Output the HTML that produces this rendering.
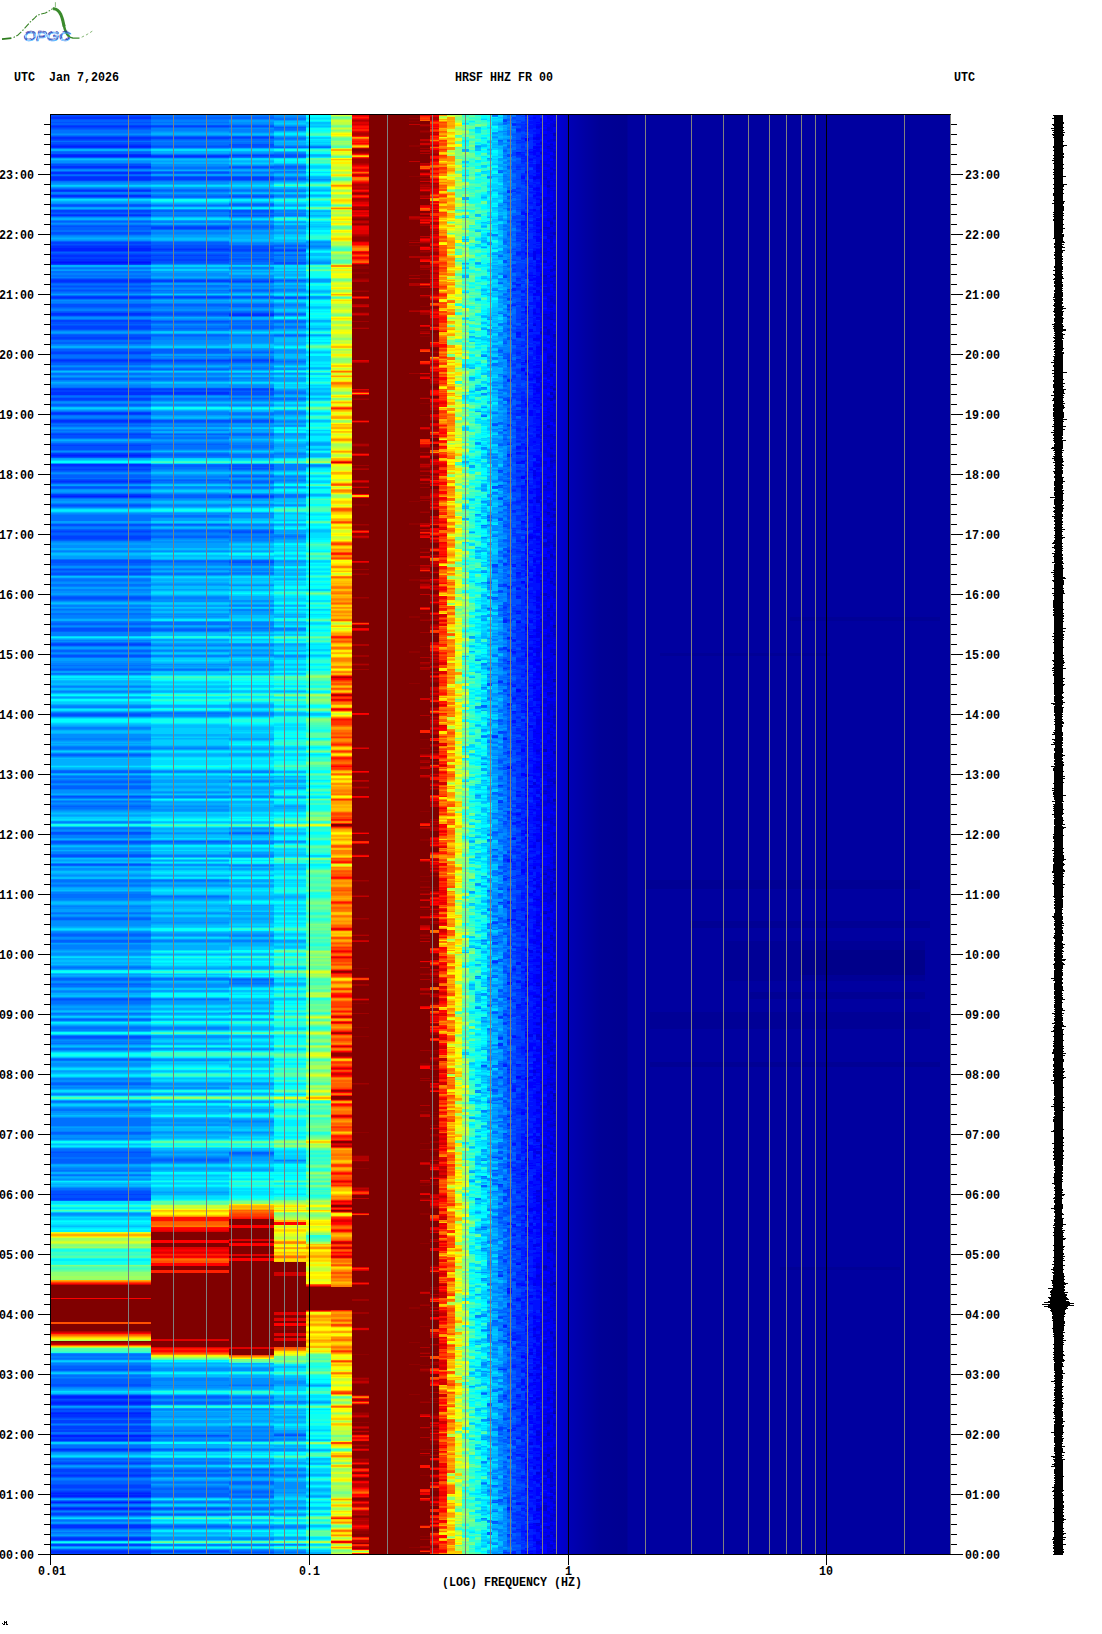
<!DOCTYPE html><html><head><meta charset="utf-8"><title>HRSF HHZ FR 00</title>
<style>html,body{margin:0;padding:0;background:#fff}body{width:1102px;height:1634px;overflow:hidden;font-family:"Liberation Mono",monospace}svg{display:block}text{font-family:"Liberation Mono",monospace;font-weight:bold;font-size:13.5px;fill:#000}.sp path{fill:none}.j3{stroke:#0000af}.j4{stroke:#0000bf}.j5{stroke:#0000cf}.j6{stroke:#0000df}.j7{stroke:#0000ef}.j8{stroke:#0000ff}.j9{stroke:#0010ff}.j10{stroke:#0020ff}.j11{stroke:#0030ff}.j12{stroke:#0040ff}.j13{stroke:#0050ff}.j14{stroke:#0060ff}.j15{stroke:#0070ff}.j16{stroke:#0080ff}.j17{stroke:#008fff}.j18{stroke:#009fff}.j19{stroke:#00afff}.j20{stroke:#00bfff}.j21{stroke:#00cfff}.j22{stroke:#00dfff}.j23{stroke:#00efff}.j24{stroke:#00ffff}.j25{stroke:#10ffef}.j26{stroke:#20ffdf}.j27{stroke:#30ffcf}.j28{stroke:#40ffbf}.j29{stroke:#50ffaf}.j30{stroke:#60ff9f}.j31{stroke:#70ff8f}.j32{stroke:#80ff80}.j33{stroke:#8fff70}.j34{stroke:#9fff60}.j35{stroke:#afff50}.j36{stroke:#bfff40}.j37{stroke:#cfff30}.j38{stroke:#dfff20}.j39{stroke:#efff10}.j40{stroke:#ffff00}.j41{stroke:#ffef00}.j42{stroke:#ffdf00}.j43{stroke:#ffcf00}.j44{stroke:#ffbf00}.j45{stroke:#ffaf00}.j46{stroke:#ff9f00}.j47{stroke:#ff8f00}.j48{stroke:#ff8000}.j49{stroke:#ff7000}.j50{stroke:#ff6000}.j51{stroke:#ff5000}.j52{stroke:#ff4000}.j53{stroke:#ff3000}.j54{stroke:#ff2000}.j55{stroke:#ff1000}.j56{stroke:#ff0000}.j57{stroke:#ef0000}.j58{stroke:#df0000}.j59{stroke:#cf0000}.j60{stroke:#bf0000}.j61{stroke:#af0000}.j62{stroke:#9f0000}.j63{stroke:#8f0000}</style></head><body>
<svg width="1102" height="1634" viewBox="0 0 1102 1634">
<rect width="1102" height="1634" fill="#fff"/>
<g class="sp" shape-rendering="crispEdges">
<defs><linearGradient id="bg" gradientUnits="userSpaceOnUse" x1="556" y1="0" x2="950" y2="0">
<stop offset="0.0000" stop-color="#0000d6"/>
<stop offset="0.0279" stop-color="#0000c5"/>
<stop offset="0.0330" stop-color="#0000b5"/>
<stop offset="0.0736" stop-color="#0000a4"/>
<stop offset="0.1117" stop-color="#000096"/>
<stop offset="0.1802" stop-color="#000091"/>
<stop offset="0.1827" stop-color="#0000a0"/>
<stop offset="1.0000" stop-color="#0000a0"/>
</linearGradient></defs>
<rect x="51" y="115" width="899" height="1439" fill="#800000"/>
<rect x="556" y="115" width="394" height="1439" fill="url(#bg)"/>
<rect x="644" y="880" width="276" height="9" fill="#000070" opacity="0.25"/>
<rect x="690" y="921" width="240" height="7" fill="#000070" opacity="0.25"/>
<rect x="725" y="941" width="200" height="40" fill="#000070" opacity="0.22"/>
<rect x="800" y="950" width="125" height="25" fill="#000070" opacity="0.3"/>
<rect x="750" y="992" width="175" height="7" fill="#000070" opacity="0.25"/>
<rect x="650" y="1012" width="280" height="17" fill="#000070" opacity="0.2"/>
<rect x="650" y="1062" width="290" height="5" fill="#000070" opacity="0.25"/>
<rect x="790" y="617" width="150" height="4" fill="#000070" opacity="0.2"/>
<rect x="660" y="653" width="170" height="3" fill="#000070" opacity="0.2"/>
<rect x="780" y="1267" width="120" height="3" fill="#000070" opacity="0.2"/>
<g stroke-width="100" transform="translate(101)">
<path class="j9" d="M0 262v1"/>
<path class="j10" d="M0 146v1m0 8v2m0 91v3m0 10v1m0 1v1m0 191v1m0 40v1m0 899v2m0 4v2m0 9v1m0 21v2m0 56v1m0 1v2m0 5v1m0 5v1"/>
<path class="j11" d="M0 117v2m0 7v1m0 10v2m0 6v1m0 1v1m0 6v1m0 11v2m0 4v2m0 3v3m0 10v1m0 4v2m0 18v1m0 30v2m0 7v2m0 2v2m0 19v2m0 15v1m0 15v2m0 45v1m0 28v1m0 2v3m0 18v1m0 6v2m0 32v1m0 1v1m0 7v2m0 15v1m0 13v1m0 902v1m0 2v1m0 2v1m0 7v1m0 1v3m0 22v2m0 8v1m0 25v1m0 16v1m0 1v1m0 14v1m0 15v3m0 10v2m0 11v2"/>
<path class="j12" d="M0 116v1m0 8v1m0 1v1m0 11v1m0 4v1m0 31v1m0 3v1m0 10v1m0 18v2m0 2v1m0 27v2m0 1v1m0 5v1m0 2v1m0 2v2m0 5v1m0 14v1m0 2v1m0 13v1m0 1v1m0 16v1m0 4v2m0 4v3m0 8v2m0 13v2m0 5v1m0 1v1m0 26v1m0 1v2m0 6v2m0 12v1m0 1v1m0 7v1m0 11v1m0 10v1m0 7v1m0 12v1m0 2v1m0 10v1m0 1v1m0 11v1m0 2v1m0 33v1m0 4v3m0 105v1m0 549v1m0 3v2m0 195v1m0 4v1m0 8v1m0 7v1m0 2v3m0 3v3m0 1v2m0 5v2m0 11v1m0 12v1m0 5v3m0 2v1m0 1v1m0 8v3m0 3v1m0 9v1m0 5v1m0 5v2m0 22v1m0 6v2m0 4v1m0 2v1"/>
<path class="j13" d="M0 115v1m0 3v1m0 2v1m0 5v1m0 7v1m0 3v1m0 1v2m0 13v1m0 6v2m0 2v1m0 20v1m0 15v1m0 6v1m0 13v1m0 5v2m0 10v1m0 8v1m0 32v1m0 3v1m0 13v3m0 5v1m0 9v2m0 1v1m0 3v1m0 5v2m0 2v1m0 11v1m0 10v1m0 37v1m0 18v1m0 13v1m0 1v3m0 6v1m0 1v4m0 7v1m0 9v2m0 1v1m0 8v1m0 7v1m0 17v1m0 18v2m0 4v1m0 1v1m0 2v1m0 3v1m0 20v3m0 6v1m0 3v2m0 22v2m0 29v3m0 12v1m0 1v1m0 9v2m0 57v2m0 80v1m0 35v2m0 7v2m0 12v2m0 7v1m0 134v1m0 36v2m0 114v1m0 38v3m0 1v3m0 171v1m0 14v2m0 13v1m0 10v2m0 6v1m0 10v1m0 4v1m0 13v1m0 13v1m0 9v2m0 10v1m0 3v1m0 1v1m0 6v1m0 5v1m0 20v1m0 3v1"/>
<path class="j14" d="M0 120v2m0 1v2m0 4v1m0 22v2m0 17v1m0 2v1m0 19v1m0 2v1m0 6v1m0 1v1m0 6v1m0 2v1m0 4v1m0 3v1m0 1v3m0 4v1m0 6v1m0 10v1m0 25v1m0 4v1m0 1v1m0 1v1m0 1v1m0 1v1m0 15v1m0 3v1m0 12v1m0 9v1m0 7v2m0 5v2m0 3v1m0 3v1m0 4v2m0 3v2m0 8v2m0 15v1m0 1v1m0 6v2m0 17v1m0 1v1m0 17v1m0 27v1m0 3v3m0 5v1m0 2v1m0 1v1m0 15v1m0 1v1m0 22v1m0 3v2m0 5v1m0 22v2m0 5v1m0 1v1m0 23v1m0 2v1m0 23v2m0 6v1m0 18v2m0 17v1m0 43v1m0 40v2m0 15v2m0 8v2m0 3v3m0 8v1m0 8v1m0 27v1m0 8v1m0 10v1m0 10v1m0 52v2m0 14v2m0 4v2m0 36v2m0 4v1m0 13v1m0 1v1m0 18v1m0 18v1m0 20v1m0 23v2m0 47v2m0 17v1m0 1v4m0 2v4m0 27v1m0 9v1m0 165v3m0 1v1m0 8v5m0 2v1m0 18v1m0 2v1m0 10v1m0 3v1m0 1v1m0 25v1m0 7v1m0 1v1m0 2v1m0 3v1m0 8v1m0 3v3m0 5v1m0 20v1m0 1v1m0 2v1m0 24v1m0 8v1"/>
<path class="j15" d="M0 130v3m0 2v1m0 5v1m0 6v1m0 2v1m0 11v1m0 11v1m0 5v1m0 6v1m0 33v1m0 7v2m0 36v1m0 2v2m0 2v2m0 7v1m0 3v1m0 3v1m0 2v1m0 3v1m0 3v1m0 4v1m0 7v1m0 2v1m0 10v1m0 9v2m0 13v3m0 9v1m0 5v2m0 12v1m0 8v1m0 14v1m0 3v1m0 2v1m0 5v1m0 1v1m0 3v1m0 1v1m0 5v1m0 11v1m0 1v1m0 21v1m0 3v1m0 14v1m0 4v1m0 16v6m0 5v1m0 32v1m0 5v1m0 2v1m0 2v1m0 7v2m0 3v2m0 14v1m0 8v1m0 3v2m0 7v1m0 4v1m0 14v1m0 11v1m0 2v1m0 7v1m0 2v1m0 1v1m0 2v1m0 42v1m0 30v2m0 21v1m0 5v2m0 2v1m0 4v1m0 15v1m0 3v1m0 1v2m0 19v1m0 51v2m0 3v1m0 8v4m0 15v1m0 3v1m0 15v1m0 2v1m0 5v1m0 24v1m0 12v1m0 2v1m0 1v2m0 14v3m0 9v1m0 6v1m0 6v2m0 14v1m0 4v2m0 10v1m0 21v1m0 18v1m0 7v2m0 7v8m0 8v1m0 14v2m0 6v2m0 4v1m0 6v1m0 4v1m0 12v2m0 164v2m0 2v1m0 6v1m0 9v2m0 1v1m0 53v2m0 7v1m0 3v3m0 10v1m0 1v1m0 19v1m0 19v1m0 5v1m0 13v1m0 8v1m0 2v1m0 3v1"/>
<path class="j16" d="M0 133v1m0 35v1m0 12v1m0 9v2m0 15v1m0 10v1m0 3v1m0 10v1m0 31v1m0 5v2m0 2v1m0 15v1m0 7v2m0 6v2m0 33v1m0 3v1m0 16v1m0 11v1m0 2v1m0 4v2m0 14v1m0 1v1m0 2v1m0 9v2m0 11v1m0 1v1m0 10v1m0 29v1m0 30v1m0 3v1m0 6v1m0 8v1m0 3v2m0 12v1m0 9v1m0 23v1m0 2v1m0 2v1m0 4v1m0 2v2m0 4v1m0 9v2m0 3v1m0 4v3m0 3v1m0 3v1m0 6v4m0 4v1m0 5v1m0 2v1m0 2v1m0 10v2m0 1v2m0 6v1m0 11v1m0 4v1m0 14v2m0 4v1m0 14v2m0 9v2m0 6v1m0 2v1m0 3v1m0 2v1m0 22v1m0 3v1m0 5v1m0 5v1m0 2v1m0 3v1m0 1v1m0 4v1m0 12v1m0 4v1m0 1v1m0 1v1m0 3v3m0 2v1m0 3v1m0 7v2m0 3v1m0 5v1m0 15v1m0 2v1m0 1v1m0 1v1m0 5v2m0 4v2m0 6v1m0 5v1m0 7v1m0 11v1m0 6v1m0 5v4m0 17v1m0 1v1m0 8v1m0 13v1m0 12v1m0 9v1m0 3v1m0 7v1m0 2v2m0 4v1m0 3v1m0 1v2m0 15v1m0 19v2m0 5v1m0 1v1m0 6v1m0 7v1m0 5v1m0 22v1m0 6v1m0 9v1m0 19v2m0 1v1m0 2v1m0 181v2m0 1v1m0 3v2m0 12v1m0 9v1m0 6v1m0 29v1m0 42v1m0 10v2m0 24v1m0 6v1m0 9v1m0 8v1m0 2v1"/>
<path class="j17" d="M0 134v1m0 26v2m0 7v1m0 12v1m0 3v1m0 15v1m0 13v1m0 5v1m0 12v1m0 3v1m0 28v1m0 30v1m0 16v2m0 12v1m0 1v1m0 11v1m0 20v1m0 3v1m0 4v1m0 5v1m0 2v1m0 17v1m0 7v1m0 16v1m0 13v1m0 9v1m0 21v1m0 10v1m0 4v1m0 2v1m0 6v2m0 12v1m0 28v1m0 2v3m0 2v1m0 15v2m0 14v2m0 7v2m0 8v1m0 6v1m0 2v2m0 5v1m0 7v1m0 14v1m0 11v1m0 7v2m0 24v1m0 4v1m0 12v1m0 23v1m0 4v4m0 2v1m0 34v1m0 2v1m0 5v1m0 5v3m0 7v1m0 2v1m0 6v1m0 10v1m0 8v1m0 17v2m0 1v1m0 16v2m0 5v1m0 7v1m0 16v1m0 4v1m0 1v2m0 5v1m0 1v1m0 4v5m0 5v1m0 5v2m0 5v1m0 4v1m0 3v2m0 26v2m0 4v1m0 2v1m0 1v1m0 4v1m0 7v1m0 2v2m0 30v1m0 3v1m0 5v1m0 12v3m0 14v2m0 4v1m0 1v1m0 4v1m0 13v1m0 3v2m0 4v1m0 8v1m0 1v3m0 4v3m0 1v1m0 27v1m0 11v1m0 7v1m0 25v2m0 138v1m0 17v1m0 2v1m0 13v1m0 18v1m0 36v1m0 7v1m0 12v1m0 32v1m0 6v1m0 10v1m0 2v1m0 3v1m0 7v1m0 2v1m0 11v1"/>
<path class="j18" d="M0 158v1m0 1v1m0 23v1m0 13v1m0 3v1m0 4v1m0 29v1m0 1v1m0 30v1m0 23v1m0 37v1m0 39v1m0 3v1m0 6v1m0 44v1m0 10v1m0 18v1m0 4v1m0 21v1m0 4v2m0 9v2m0 18v2m0 20v2m0 7v1m0 3v3m0 28v2m0 4v2m0 9v1m0 2v1m0 31v1m0 7v2m0 9v3m0 10v2m0 12v1m0 4v1m0 6v1m0 28v1m0 14v1m0 1v1m0 1v1m0 11v1m0 11v1m0 3v1m0 19v1m0 17v1m0 3v1m0 22v1m0 8v1m0 12v1m0 5v1m0 3v1m0 3v1m0 1v1m0 10v1m0 3v1m0 17v3m0 3v1m0 10v1m0 16v1m0 6v1m0 1v1m0 2v1m0 9v1m0 3v1m0 4v1m0 1v1m0 29v2m0 4v1m0 2v1m0 9v1m0 21v1m0 13v2m0 3v1m0 4v1m0 28v1m0 12v2m0 12v1m0 36v1m0 1v1m0 9v1m0 1v1m0 36v1m0 146v1m0 26v1m0 16v1m0 46v1m0 12v1m0 55v1m0 12v1m0 7v1m0 4v1"/>
<path class="j19" d="M0 149v2m0 50v1m0 6v1m0 9v2m0 18v1m0 26v2m0 79v2m0 34v1m0 26v1m0 30v1m0 18v1m0 48v1m0 3v1m0 35v2m0 5v1m0 21v1m0 24v1m0 16v2m0 60v2m0 21v1m0 6v1m0 5v1m0 7v1m0 4v1m0 2v1m0 8v1m0 1v1m0 5v1m0 1v1m0 6v6m0 3v1m0 25v1m0 4v1m0 12v1m0 1v1m0 1v1m0 6v1m0 15v1m0 5v1m0 4v1m0 8v1m0 1v1m0 5v1m0 5v1m0 14v2m0 11v1m0 2v1m0 22v1m0 23v1m0 6v2m0 2v2m0 11v1m0 12v2m0 3v2m0 15v1m0 10v1m0 9v1m0 13v1m0 5v1m0 18v1m0 1v1m0 4v1m0 11v1m0 5v1m0 7v1m0 2v1m0 9v1m0 48v1m0 6v2m0 3v1m0 2v1m0 3v1m0 1v1m0 203v1m0 63v1m0 2v1m0 41v1"/>
<path class="j20" d="M0 159v1m0 26v1m0 184v1m0 35v1m0 145v2m0 21v1m0 26v1m0 34v1m0 36v1m0 4v1m0 2v2m0 3v2m0 3v1m0 2v1m0 1v1m0 9v1m0 15v1m0 6v2m0 25v1m0 6v1m0 1v1m0 6v1m0 38v1m0 32v1m0 11v1m0 3v1m0 8v2m0 4v2m0 11v1m0 11v2m0 26v1m0 29v2m0 2v1m0 8v1m0 21v2m0 14v1m0 5v1m0 6v1m0 21v1m0 10v1m0 9v1m0 5v1m0 18v1m0 22v1m0 24v1m0 3v1m0 2v1m0 35v1m0 1v1m0 26v1m0 3v1m0 9v1m0 133v1m0 11v1m0 20v1m0 123v1m0 29v1"/>
<path class="j21" d="M0 185v1m0 14v1m0 207v1m0 51v1m0 175v1m0 41v1m0 23v2m0 19v1m0 27v1m0 65v2m0 1v1m0 5v1m0 101v1m0 27v1m0 59v1m0 17v1m0 69v2m0 76v1m0 35v2m0 5v1m0 135v1m0 11v1m0 18v1m0 49v2m0 11v1"/>
<path class="j22" d="M0 199v1m0 309v1m0 1v1m0 167v1m0 21v1m0 8v1m0 7v1m0 47v1m0 52v1m0 109v1m0 27v1m0 65v1m0 28v1m0 15v2m0 4v1m0 1v1m0 13v2m0 51v1m0 1v1m0 55v3m0 4v1m0 8v1m0 6v1m0 2v1m0 163v1m0 64v1m0 61v1m0 22v1"/>
<path class="j23" d="M0 510v1m0 126v1m0 38v2m0 16v1m0 14v1m0 12v1m0 247v1m0 51v1m0 33v1m0 18v1m0 23v1m0 46v1m0 34v1m0 25v1m0 12v1m0 1v2m0 4v1m0 1v2m0 27v2"/>
<path class="j24" d="M0 461v2m0 232v1m0 3v2m0 18v3m0 250v1m0 59v1m0 20v1m0 87v1m0 62v1m0 16v1m0 7v1"/>
<path class="j25" d="M0 824v1m0 146v1m0 61v1m0 20v2m0 40v1m0 45v1m0 66v1m0 40v1m0 7v1m0 2v3m0 278v1"/>
<path class="j26" d="M0 825v1m0 380v1m0 4v1m0 37v1m0 1v1m0 12v1m0 87v1"/>
<path class="j27" d="M0 1205v1m0 48v1"/>
<path class="j28" d="M0 1252v2m0 1v1m0 12v1m0 80v1m0 1v1"/>
<path class="j29" d="M0 1097v2m0 111v1m0 37v1m0 7v2m0 9v1m0 1v1m0 78v1m0 1v1"/>
<path class="j30" d="M0 1266v1m0 3v1"/>
<path class="j31" d="M0 1271v1"/>
<path class="j32" d="M0 1245v1m0 19v1"/>
<path class="j33" d="M0 1244v1m0 1v1m0 25v4m0 3v1"/>
<path class="j34" d="M0 1238v2m0 7v1m0 28v3"/>
<path class="j35" d="M0 1240v1m0 99v1m0 6v1"/>
<path class="j36" d="M0 1243v1"/>
<path class="j37" d="M0 1241v1"/>
<path class="j38" d="M0 1232v1m0 4v1m0 4v1m0 96v1"/>
<path class="j41" d="M0 1338v1"/>
<path class="j42" d="M0 1233v1m0 2v1"/>
<path class="j43" d="M0 1337v1m0 8v1"/>
<path class="j45" d="M0 1234v2m0 44v1"/>
<path class="j46" d="M0 1336v1"/>
<path class="j48" d="M0 1281v1"/>
<path class="j49" d="M0 1335v1"/>
<path class="j50" d="M0 1345v1"/>
<path class="j51" d="M0 1322v2m0 10v1"/>
<path class="j52" d="M0 1282v1"/>
<path class="j55" d="M0 1283v1"/>
<path class="j56" d="M0 1298v1m0 34v1"/>
<path class="j59" d="M0 1284v1m0 47v1m0 11v1"/>
<path class="j61" d="M0 1331v1m0 11v1"/>
<path class="j62" d="M0 1342v1"/>
</g>
<g stroke-width="78" transform="translate(190)">
<path class="j11" d="M0 156v1m0 92v1m0 142v2"/>
<path class="j12" d="M0 126v1m0 10v2m0 16v1m0 21v3m0 47v2m0 19v1m0 1v1m0 4v1m0 3v2m0 19v2m0 15v1m0 62v1m0 28v1m0 4v1m0 1156v1"/>
<path class="j13" d="M0 125v1m0 20v1m0 10v1m0 14v1m0 53v1m0 18v3m0 3v1m0 2v1m0 1v3m0 2v2m0 33v1m0 16v2m0 6v1m0 39v1m0 26v1m0 1v2m0 28v2m0 1013v1m0 72v1m0 41v1m0 1v1"/>
<path class="j14" d="M0 117v2m0 8v1m0 8v1m0 2v1m0 5v1m0 1v1m0 25v1m0 2v1m0 3v1m0 9v1m0 5v1m0 13v2m0 17v1m0 12v3m0 8v1m0 9v1m0 15v1m0 18v1m0 5v2m0 6v1m0 2v1m0 6v1m0 5v1m0 6v1m0 13v4m0 6v1m0 2v1m0 6v1m0 52v1m0 11v1m0 9v1m0 9v2m0 9v2m0 13v1m0 14v3m0 26v1m0 5v2m0 4v2m0 23v1m0 67v2m0 210v1m0 317v2m0 235v2m0 4v2m0 32v1m0 12v1m0 20v2m0 2v2m0 12v2m0 3v4m0 12v1m0 4v1m0 11v1"/>
<path class="j15" d="M0 115v2m0 2v1m0 2v1m0 17v1m0 1v3m0 9v1m0 12v2m0 2v1m0 17v1m0 1v1m0 3v1m0 1v1m0 7v1m0 9v1m0 9v1m0 26v1m0 29v1m0 2v2m0 3v1m0 15v1m0 4v1m0 8v1m0 2v1m0 2v2m0 1v1m0 4v1m0 1v1m0 16v1m0 9v1m0 4v1m0 9v2m0 18v2m0 37v2m0 4v1m0 1v4m0 4v1m0 2v1m0 7v1m0 2v2m0 10v1m0 1v2m0 11v1m0 20v2m0 8v1m0 6v1m0 2v1m0 24v1m0 1v1m0 10v2m0 47v3m0 3v1m0 40v1m0 43v1m0 128v1m0 37v1m0 15v1m0 81v2m0 19v1m0 158v1m0 2v1m0 236v1m0 2v1m0 48v1m0 11v2m0 5v1m0 6v1m0 5v1m0 4v1m0 2v3m0 9v1m0 4v1m0 17v1m0 1v1"/>
<path class="j16" d="M0 120v2m0 1v2m0 3v3m0 10v1m0 24v1m0 14v1m0 12v1m0 17v3m0 6v2m0 9v2m0 7v1m0 45v1m0 3v2m0 10v1m0 3v2m0 7v1m0 8v1m0 4v1m0 6v3m0 16v1m0 1v1m0 5v1m0 8v2m0 2v1m0 2v1m0 14v1m0 4v1m0 11v3m0 4v1m0 3v1m0 1v2m0 3v1m0 2v1m0 1v2m0 5v1m0 6v1m0 7v1m0 11v1m0 6v2m0 9v1m0 10v1m0 6v1m0 11v1m0 11v1m0 3v2m0 3v1m0 24v2m0 4v1m0 27v2m0 32v1m0 13v1m0 4v1m0 4v2m0 13v1m0 41v1m0 1v2m0 32v1m0 22v1m0 24v2m0 45v1m0 11v2m0 24v1m0 15v1m0 42v2m0 85v2m0 128v1m0 4v1m0 215v3m0 4v1m0 9v1m0 8v1m0 4v1m0 20v2m0 2v1m0 2v1m0 1v2m0 7v1m0 10v1m0 1v1m0 6v1m0 3v2m0 7v1m0 1v1m0 2v1m0 14v1m0 11v1m0 1v1m0 28v2m0 7v1"/>
<path class="j17" d="M0 131v1m0 3v1m0 28v2m0 3v1m0 12v2m0 4v1m0 3v1m0 11v1m0 1v1m0 2v1m0 6v1m0 13v2m0 2v1m0 29v1m0 8v3m0 2v1m0 9v2m0 5v1m0 3v1m0 9v2m0 8v1m0 4v1m0 15v4m0 4v1m0 8v1m0 9v1m0 2v1m0 4v1m0 11v1m0 9v1m0 6v2m0 5v1m0 12v1m0 4v1m0 9v1m0 1v1m0 10v1m0 17v1m0 4v1m0 2v1m0 4v1m0 2v1m0 1v1m0 4v1m0 5v1m0 4v1m0 1v1m0 6v2m0 24v1m0 1v2m0 8v1m0 13v1m0 2v1m0 3v1m0 11v1m0 11v1m0 2v3m0 12v1m0 1v1m0 10v1m0 16v1m0 6v1m0 12v1m0 3v1m0 47v1m0 30v1m0 24v1m0 19v1m0 13v1m0 2v2m0 22v1m0 6v1m0 23v2m0 13v1m0 5v1m0 9v1m0 2v1m0 14v1m0 8v1m0 11v2m0 44v1m0 3v3m0 11v1m0 1v1m0 28v1m0 6v2m0 10v1m0 10v2m0 22v2m0 2v2m0 12v1m0 17v3m0 2v2m0 6v1m0 19v1m0 3v1m0 211v3m0 10v4m0 1v2m0 11v2m0 9v1m0 5v1m0 10v3m0 3v1m0 4v1m0 19v1m0 1v1m0 3v1m0 20v1m0 11v1m0 12v1m0 13v1m0 3v1m0 8v3m0 9v1"/>
<path class="j18" d="M0 132v1m0 15v1m0 4v1m0 4v1m0 2v1m0 12v2m0 11v1m0 5v1m0 26v1m0 3v1m0 10v2m0 30v2m0 2v2m0 3v1m0 6v2m0 8v1m0 7v2m0 15v1m0 25v1m0 9v2m0 9v1m0 10v1m0 4v1m0 2v3m0 9v1m0 4v1m0 13v1m0 24v1m0 9v1m0 20v1m0 2v1m0 25v1m0 17v3m0 2v1m0 2v1m0 13v1m0 2v5m0 2v1m0 19v1m0 4v1m0 7v1m0 1v1m0 3v1m0 15v2m0 2v2m0 2v1m0 1v1m0 1v1m0 3v1m0 3v1m0 13v2m0 2v1m0 2v1m0 2v1m0 15v2m0 79v1m0 2v1m0 20v1m0 9v3m0 3v2m0 3v1m0 3v1m0 6v1m0 2v1m0 1v2m0 2v1m0 20v1m0 21v1m0 5v1m0 21v1m0 1v1m0 1v1m0 12v1m0 12v1m0 5v4m0 1v1m0 9v1m0 5v1m0 2v1m0 25v1m0 8v1m0 5v1m0 3v1m0 2v2m0 9v3m0 9v1m0 5v1m0 6v1m0 8v1m0 7v1m0 5v1m0 35v1m0 8v1m0 7v1m0 15v1m0 3v2m0 7v1m0 1v1m0 17v1m0 1v1m0 1v1m0 7v1m0 4v2m0 22v1m0 174v1m0 9v1m0 10v1m0 19v1m0 3v4m0 1v1m0 2v3m0 3v1m0 5v1m0 18v1m0 15v1m0 9v1m0 2v1m0 3v1m0 18v1"/>
<path class="j19" d="M0 133v2m0 16v2m0 7v1m0 1v2m0 6v1m0 13v1m0 13v1m0 4v1m0 19v1m0 13v1m0 2v1m0 36v1m0 22v1m0 16v1m0 15v1m0 11v1m0 20v1m0 5v1m0 30v1m0 6v1m0 5v1m0 1v1m0 8v2m0 2v2m0 56v1m0 2v1m0 10v1m0 3v1m0 4v1m0 15v1m0 30v1m0 6v2m0 3v1m0 7v2m0 1v1m0 7v1m0 4v1m0 30v1m0 5v1m0 21v1m0 2v1m0 5v1m0 3v1m0 23v1m0 13v2m0 4v1m0 22v2m0 2v1m0 15v2m0 20v2m0 1v1m0 5v1m0 2v1m0 4v1m0 7v1m0 1v2m0 23v2m0 4v1m0 9v1m0 23v2m0 5v1m0 7v1m0 16v1m0 4v2m0 7v1m0 2v1m0 6v1m0 7v1m0 3v1m0 8v5m0 4v1m0 12v1m0 14v1m0 21v1m0 3v2m0 4v1m0 23v1m0 5v1m0 13v1m0 23v1m0 3v1m0 6v1m0 12v2m0 1v3m0 22v1m0 1v2m0 12v1m0 3v1m0 12v1m0 2v1m0 20v1m0 1v2m0 168v1m0 2v1m0 22v1m0 21v1m0 6v1m0 22v1m0 2v4m0 31v1m0 20v1m0 5v1m0 5v1m0 20v1m0 2v1"/>
<path class="j20" d="M0 159v1m0 57v1m0 20v2m0 91v1m0 51v1m0 18v1m0 3v1m0 10v1m0 33v1m0 20v2m0 10v1m0 16v2m0 24v1m0 20v2m0 2v1m0 2v2m0 21v1m0 2v1m0 4v3m0 13v1m0 1v1m0 3v1m0 2v2m0 5v1m0 14v3m0 5v2m0 4v2m0 3v1m0 9v1m0 8v1m0 1v2m0 11v2m0 2v1m0 1v1m0 14v1m0 9v1m0 7v3m0 8v1m0 2v1m0 5v1m0 7v1m0 2v1m0 21v1m0 4v2m0 4v2m0 7v1m0 15v2m0 6v1m0 7v2m0 3v3m0 10v2m0 1v3m0 3v1m0 3v1m0 4v1m0 9v1m0 10v1m0 6v1m0 9v1m0 2v2m0 2v1m0 13v2m0 16v2m0 21v1m0 2v1m0 4v1m0 6v1m0 36v1m0 1v1m0 4v1m0 4v1m0 8v1m0 2v1m0 7v1m0 10v1m0 1v1m0 7v1m0 6v1m0 10v1m0 10v1m0 7v1m0 3v2m0 3v1m0 8v1m0 1v3m0 4v1m0 2v1m0 9v2m0 21v1m0 3v1m0 12v3m0 173v2m0 5v1m0 3v2m0 17v1m0 24v1m0 3v1m0 1v1m0 52v1m0 32v1m0 17v1m0 2v1m0 1v1"/>
<path class="j21" d="M0 186v1m0 15v1m0 4v1m0 57v2m0 2v2m0 23v1m0 37v1m0 13v2m0 23v1m0 10v1m0 75v1m0 26v1m0 4v2m0 29v2m0 34v2m0 17v1m0 14v1m0 2v1m0 8v1m0 3v1m0 45v1m0 4v2m0 1v1m0 10v1m0 9v1m0 2v1m0 38v1m0 3v6m0 3v1m0 2v5m0 5v1m0 18v1m0 3v1m0 1v1m0 18v1m0 17v2m0 2v1m0 4v1m0 5v1m0 11v1m0 7v1m0 11v1m0 3v1m0 3v1m0 2v1m0 3v1m0 13v1m0 3v2m0 7v1m0 1v1m0 5v2m0 4v2m0 10v1m0 3v1m0 6v1m0 14v1m0 1v1m0 20v1m0 11v2m0 2v1m0 4v1m0 7v1m0 1v1m0 2v1m0 1v1m0 2v1m0 24v2m0 5v1m0 14v1m0 1v1m0 5v1m0 8v1m0 1v1m0 45v1m0 36v1m0 1v1m0 9v1m0 2v1m0 3v1m0 3v1m0 7v1m0 166v1m0 11v1m0 49v1m0 29v1m0 10v2m0 31v1m0 5v1m0 15v1m0 2v1m0 11v1m0 4v1m0 5v1"/>
<path class="j22" d="M0 149v2m0 34v1m0 22v1m0 9v2m0 189v1m0 49v1m0 3v1m0 44v1m0 45v1m0 22v1m0 14v2m0 44v1m0 21v1m0 20v1m0 1v1m0 4v2m0 7v1m0 6v1m0 47v1m0 4v1m0 2v5m0 35v1m0 16v1m0 20v1m0 11v1m0 20v1m0 1v1m0 4v1m0 10v1m0 1v1m0 10v1m0 34v1m0 12v1m0 8v1m0 3v1m0 1v1m0 9v1m0 30v1m0 17v1m0 40v1m0 6v1m0 4v1m0 2v1m0 11v1m0 2v1m0 9v1m0 8v1m0 24v1m0 25v1m0 8v1m0 2v2m0 3v1m0 1v1m0 11v3m0 191v1m0 14v1m0 46v2m0 3v1m0 47v1m0 10v1m0 4v1m0 26v1"/>
<path class="j23" d="M0 201v1m0 258v1m0 50v1m0 41v1m0 65v2m0 54v1m0 8v1m0 13v1m0 11v1m0 7v1m0 4v1m0 27v1m0 6v2m0 8v1m0 5v1m0 43v1m0 4v1m0 21v2m0 15v1m0 9v1m0 4v1m0 12v1m0 61v1m0 5v1m0 1v1m0 1v1m0 1v1m0 8v1m0 37v1m0 5v1m0 13v1m0 2v1m0 10v1m0 11v1m0 8v1m0 36v1m0 43v1m0 32v1m0 5v1m0 12v1m0 160v1m0 11v1m0 82v1m0 43v1m0 19v1m0 2v1m0 7v2m0 11v1"/>
<path class="j24" d="M0 199v1m0 207v1m0 101v1m0 170v1m0 12v1m0 2v1m0 5v2m0 4v1m0 56v1m0 1v1m0 31v1m0 20v1m0 107v1m0 1v1m0 25v1m0 4v1m0 8v1m0 22v2m0 1v1m0 19v1m0 4v1m0 1v1m0 27v1m0 15v1m0 1v1m0 34v1m0 11v1m0 55v2m0 11v1m0 175v1m0 11v1m0 19v1m0 48v2"/>
<path class="j25" d="M0 200v1m0 207v1m0 101v1m0 125v1m0 64v1m0 17v4m0 96v1m0 6v1m0 31v1m0 70v1m0 21v1m0 43v1m0 50v1m0 43v1m0 24v1m0 28v1m0 36v1m0 210v1m0 14v1m0 48v1m0 90v1"/>
<path class="j26" d="M0 637v1m0 40v2m0 19v1m0 9v1m0 56v1m0 190v1m0 64v1m0 33v1m0 11v1m0 4v1m0 2v1m0 14v1m0 7v1m0 40v1m0 2v1m0 1v1m0 54v1m0 190v1m0 125v1"/>
<path class="j27" d="M0 461v1m0 214v1m0 17v1m0 5v1m0 123v1m0 146v2m0 79v1m0 353v1"/>
<path class="j28" d="M0 462v1m0 214v1m0 17v1m0 336v1m0 20v3m0 18v2m0 70v1"/>
<path class="j29" d="M0 825v1m0 207v1m0 62v1m0 106v1m0 155v1m0 158v1m0 22v1"/>
<path class="j30" d="M0 1141v2m0 58v2"/>
<path class="j31" d="M0 1204v1m0 337v1"/>
<path class="j32" d="M0 1358v1"/>
<path class="j33" d="M0 1098v1"/>
<path class="j34" d="M0 1097v1"/>
<path class="j35" d="M0 1357v1"/>
<path class="j36" d="M0 1205v1m0 1v1"/>
<path class="j37" d="M0 1206v1m0 1v1"/>
<path class="j38" d="M0 1356v1"/>
<path class="j40" d="M0 1209v1m0 3v1"/>
<path class="j41" d="M0 1212v1m0 1v1m0 140v1"/>
<path class="j43" d="M0 1211v1"/>
<path class="j44" d="M0 1210v1m0 4v1"/>
<path class="j47" d="M0 1216v1"/>
<path class="j48" d="M0 1226v1m0 127v1"/>
<path class="j49" d="M0 1225v1m0 33v1"/>
<path class="j50" d="M0 1222v3m0 35v1"/>
<path class="j51" d="M0 1221v1m0 36v1m0 2v2m0 90v1"/>
<path class="j53" d="M0 1352v1"/>
<path class="j54" d="M0 1254v1m0 15v3m0 76v1"/>
<path class="j55" d="M0 1217v4m0 6v1m0 27v1m0 92v1"/>
<path class="j56" d="M0 1228v2m0 10v3m0 7v1m0 6v1m0 5v3m0 84v2"/>
<path class="j57" d="M0 1230v1m0 18v1m0 1v1m0 1v1m0 2v1"/>
<path class="j58" d="M0 1231v1m0 15v2m0 3v1m0 86v2m0 6v1"/>
</g>
<g stroke-width="45" transform="translate(251.5)">
<path class="j11" d="M0 314v2"/>
<path class="j12" d="M0 137v1m0 17v1m0 21v3m0 69v2m0 30v1m0 31v1m0 46v1m0 28v1m0 106v1"/>
<path class="j13" d="M0 126v1m0 11v1m0 5v3m0 9v1m0 10v1m0 28v1m0 13v2m0 3v1m0 30v3m0 2v1m0 7v1m0 20v1m0 16v1m0 61v1m0 1v1m0 26v1m0 1v1m0 1v3m0 25v2m0 43v2m0 1v1m0 26v1m0 1v1m0 33v2m0 28v2m0 989v1"/>
<path class="j14" d="M0 117v2m0 6v1m0 10v1m0 10v1m0 6v1m0 11v1m0 9v1m0 3v1m0 14v1m0 8v2m0 6v1m0 13v2m0 17v1m0 8v3m0 1v1m0 1v2m0 17v1m0 2v1m0 7v1m0 5v1m0 7v3m0 5v1m0 8v1m0 4v3m0 23v1m0 9v1m0 28v1m0 6v1m0 23v1m0 11v1m0 29v1m0 2v1m0 1v1m0 6v1m0 4v2m0 47v1m0 29v1m0 272v1m0 145v1m0 172v2m0 315v1m0 4v2m0 6v2m0 7v2m0 3v1m0 54v1"/>
<path class="j15" d="M0 116v1m0 10v1m0 11v2m0 1v2m0 13v1m0 10v1m0 3v1m0 17v1m0 6v1m0 15v2m0 1v1m0 8v1m0 2v1m0 23v2m0 3v1m0 4v2m0 25v1m0 1v1m0 6v1m0 12v1m0 4v1m0 3v1m0 1v2m0 1v1m0 9v1m0 15v1m0 6v1m0 9v1m0 26v1m0 3v1m0 13v2m0 4v1m0 13v1m0 1v1m0 9v3m0 6v3m0 18v1m0 4v1m0 6v1m0 6v1m0 38v1m0 2v2m0 25v2m0 8v1m0 54v1m0 203v1m0 147v1m0 2v1m0 170v1m0 230v1m0 11v1m0 4v2m0 35v2m0 29v1m0 10v1m0 2v1m0 5v1m0 2v1m0 1v1m0 1v1m0 10v2m0 4v1m0 11v2m0 22v1m0 2v1"/>
<path class="j16" d="M0 115v1m0 3v1m0 4v1m0 4v3m0 9v1m0 31v1m0 15v1m0 1v1m0 2v1m0 8v1m0 17v2m0 6v1m0 13v2m0 19v1m0 2v2m0 9v1m0 7v1m0 16v1m0 3v1m0 16v1m0 4v1m0 6v1m0 13v1m0 2v1m0 2v2m0 5v1m0 3v1m0 1v1m0 3v1m0 4v1m0 18v1m0 2v1m0 4v1m0 6v1m0 30v2m0 3v1m0 8v1m0 12v1m0 6v1m0 5v1m0 4v1m0 9v1m0 5v2m0 7v1m0 10v2m0 3v1m0 4v2m0 2v3m0 24v1m0 3v2m0 1v1m0 1v1m0 30v1m0 3v2m0 11v3m0 2v1m0 1v2m0 13v2m0 9v1m0 57v2m0 56v2m0 8v1m0 14v1m0 44v3m0 11v2m0 8v1m0 69v1m0 4v2m0 36v1m0 2v2m0 1v1m0 136v1m0 33v1m0 228v1m0 11v1m0 1v1m0 2v1m0 7v1m0 17v1m0 2v2m0 3v2m0 12v1m0 12v2m0 4v1m0 2v1m0 1v1m0 2v1m0 12v1m0 4v1m0 7v1m0 4v1m0 5v1m0 24v2m0 4v2"/>
<path class="j17" d="M0 122v2m0 4v1m0 3v1m0 20v1m0 11v1m0 5v1m0 9v1m0 24v1m0 17v1m0 7v2m0 8v1m0 32v2m0 6v1m0 1v1m0 1v2m0 3v1m0 15v1m0 1v1m0 23v1m0 2v6m0 6v1m0 14v1m0 1v1m0 7v1m0 2v1m0 1v2m0 4v3m0 8v1m0 7v1m0 10v1m0 2v1m0 4v1m0 1v2m0 9v2m0 4v1m0 6v1m0 3v1m0 20v1m0 4v1m0 6v1m0 27v4m0 23v1m0 26v1m0 16v1m0 14v2m0 4v1m0 18v1m0 24v1m0 3v1m0 9v2m0 46v1m0 2v1m0 64v1m0 16v1m0 30v1m0 5v1m0 19v1m0 79v1m0 1v1m0 48v1m0 27v1m0 35v1m0 33v2m0 35v1m0 1v1m0 9v1m0 18v1m0 4v1m0 211v3m0 7v6m0 2v1m0 13v1m0 25v1m0 1v2m0 2v3m0 2v2m0 11v1m0 8v1m0 12v1m0 12v1m0 2v1m0 12v1m0 1v1m0 21v1m0 2v1m0 8v1m0 11v1"/>
<path class="j18" d="M0 120v2m0 13v1m0 16v1m0 16v1m0 4v2m0 6v1m0 5v1m0 20v1m0 7v1m0 5v1m0 6v2m0 2v1m0 34v1m0 1v1m0 5v1m0 6v1m0 10v1m0 3v1m0 2v1m0 6v1m0 9v1m0 10v1m0 12v1m0 4v1m0 5v2m0 9v1m0 18v1m0 16v1m0 22v1m0 4v2m0 1v1m0 5v1m0 2v1m0 29v1m0 6v1m0 14v1m0 5v2m0 5v1m0 19v1m0 15v1m0 8v1m0 7v1m0 11v1m0 12v1m0 19v1m0 6v4m0 6v1m0 4v1m0 4v1m0 11v1m0 2v1m0 2v1m0 1v1m0 4v1m0 6v1m0 5v1m0 35v2m0 31v2m0 8v1m0 5v2m0 14v1m0 6v1m0 4v1m0 4v2m0 6v1m0 33v1m0 1v1m0 8v1m0 11v2m0 10v1m0 1v1m0 1v2m0 10v2m0 3v2m0 18v1m0 6v3m0 3v2m0 13v1m0 5v1m0 2v1m0 24v2m0 17v1m0 15v2m0 15v1m0 16v1m0 11v1m0 10v1m0 41v2m0 6v3m0 7v1m0 3v3m0 7v1m0 23v4m0 8v2m0 196v1m0 19v2m0 6v1m0 3v1m0 4v1m0 3v1m0 1v1m0 2v1m0 2v1m0 3v2m0 26v1m0 11v2m0 15v1m0 2v1m0 5v2m0 10v1m0 1v1m0 9v1m0 4v1"/>
<path class="j19" d="M0 133v1m0 14v1m0 2v1m0 9v1m0 2v1m0 5v1m0 12v1m0 3v1m0 4v1m0 5v1m0 3v1m0 17v1m0 14v4m0 2v1m0 30v1m0 1v1m0 18v1m0 7v1m0 15v2m0 51v1m0 4v1m0 5v1m0 21v1m0 2v1m0 4v1m0 4v2m0 13v1m0 8v1m0 9v1m0 1v1m0 31v1m0 4v1m0 13v1m0 8v1m0 5v1m0 4v1m0 3v2m0 17v2m0 2v1m0 15v2m0 7v1m0 13v2m0 5v4m0 2v1m0 31v2m0 16v2m0 7v2m0 3v1m0 1v1m0 1v1m0 2v2m0 29v1m0 2v1m0 8v1m0 30v1m0 1v1m0 3v1m0 22v1m0 2v1m0 6v1m0 2v1m0 1v2m0 8v2m0 4v4m0 16v1m0 2v1m0 4v1m0 21v1m0 17v1m0 3v1m0 4v1m0 11v3m0 7v4m0 7v1m0 2v3m0 9v1m0 10v3m0 8v1m0 11v1m0 32v1m0 1v1m0 6v1m0 3v1m0 1v1m0 12v3m0 5v1m0 1v1m0 20v1m0 1v1m0 21v1m0 2v1m0 2v1m0 4v2m0 23v1m0 7v1m0 4v1m0 2v1m0 15v1m0 10v2m0 5v1m0 194v1m0 11v3m0 11v1m0 21v2m0 1v2m0 1v3m0 2v1m0 18v1m0 3v1m0 12v1m0 5v1m0 13v2m0 26v1m0 5v1m0 11v1"/>
<path class="j20" d="M0 134v1m0 25v1m0 1v1m0 21v1m0 8v1m0 45v2m0 25v1m0 3v1m0 2v1m0 26v1m0 30v1m0 1v1m0 10v1m0 27v1m0 3v1m0 25v1m0 7v1m0 16v1m0 11v1m0 18v1m0 13v2m0 11v1m0 15v2m0 4v1m0 11v2m0 22v1m0 1v1m0 10v1m0 21v3m0 2v1m0 2v1m0 16v1m0 4v1m0 6v3m0 14v1m0 6v1m0 7v2m0 8v1m0 9v1m0 23v1m0 19v1m0 15v3m0 4v4m0 2v1m0 5v1m0 9v1m0 21v1m0 11v1m0 2v1m0 9v1m0 1v2m0 4v1m0 10v1m0 13v2m0 6v1m0 3v1m0 2v1m0 15v1m0 2v1m0 11v1m0 4v1m0 7v1m0 3v1m0 10v1m0 4v2m0 6v1m0 2v1m0 4v1m0 5v2m0 7v1m0 6v1m0 15v1m0 7v1m0 12v2m0 6v1m0 1v1m0 3v1m0 2v1m0 1v1m0 8v1m0 1v1m0 5v1m0 16v2m0 5v1m0 13v3m0 11v1m0 7v2m0 19v2m0 3v1m0 14v2m0 6v1m0 12v2m0 13v1m0 3v1m0 3v1m0 192v1m0 1v1m0 58v1m0 20v2m0 3v1m0 15v1m0 36v1m0 15v1m0 8v1m0 6v1"/>
<path class="j21" d="M0 158v1m0 4v1m0 22v1m0 14v1m0 16v1m0 46v1m0 28v1m0 50v3m0 35v1m0 44v1m0 22v1m0 7v1m0 3v1m0 26v3m0 51v1m0 3v2m0 2v1m0 4v2m0 22v2m0 4v2m0 6v1m0 11v1m0 10v1m0 14v1m0 6v1m0 18v2m0 24v2m0 3v1m0 1v1m0 10v1m0 22v1m0 3v2m0 1v1m0 16v1m0 18v1m0 3v1m0 9v1m0 1v1m0 8v1m0 3v1m0 5v1m0 9v2m0 5v1m0 16v2m0 9v1m0 24v1m0 8v1m0 8v3m0 9v1m0 6v1m0 12v2m0 21v3m0 5v1m0 3v1m0 27v1m0 17v2m0 23v1m0 7v1m0 3v1m0 4v1m0 15v1m0 6v2m0 7v1m0 9v1m0 10v1m0 28v2m0 5v1m0 1v1m0 226v1m0 5v1m0 2v1m0 48v1m0 20v1m0 54v1m0 5v1m0 5v1m0 7v1m0 12v3m0 5v1"/>
<path class="j22" d="M0 149v2m0 8v1m0 25v1m0 21v1m0 11v1m0 112v1m0 38v1m0 10v1m0 26v1m0 50v1m0 60v2m0 32v1m0 20v2m0 13v1m0 2v1m0 24v2m0 20v2m0 15v1m0 12v2m0 14v1m0 14v1m0 5v1m0 1v1m0 6v1m0 7v1m0 6v1m0 8v1m0 3v1m0 6v1m0 4v1m0 2v4m0 4v1m0 6v1m0 8v1m0 15v1m0 11v2m0 2v1m0 6v1m0 23v1m0 2v1m0 9v1m0 10v1m0 1v1m0 2v1m0 11v2m0 1v1m0 8v1m0 26v1m0 30v1m0 1v1m0 4v1m0 8v1m0 17v1m0 1v1m0 15v1m0 14v1m0 15v1m0 19v2m0 4v1m0 4v1m0 4v1m0 2v2m0 10v1m0 2v1m0 10v1m0 6v1m0 3v1m0 19v1m0 1v1m0 24v1m0 1v1m0 12v1m0 8v2m0 1v4m0 195v1m0 3v1m0 29v1m0 27v1m0 1v1m0 10v1m0 55v1m0 13v1m0 7v1m0 2v1m0 1v1"/>
<path class="j23" d="M0 199v2m0 7v1m0 198v1m0 100v1m0 2v1m0 80v1m0 43v1m0 1v1m0 36v1m0 6v1m0 13v2m0 11v1m0 14v1m0 17v2m0 7v1m0 6v2m0 4v1m0 2v1m0 50v1m0 44v1m0 8v1m0 17v1m0 12v1m0 48v1m0 9v3m0 10v1m0 12v2m0 3v1m0 3v1m0 13v1m0 3v1m0 8v1m0 14v2m0 4v1m0 5v1m0 5v1m0 45v1m0 61v1m0 9v1m0 2v1m0 11v1m0 4v1m0 209v1m0 47v1m0 3v1m0 8v1m0 56v1m0 6v1"/>
<path class="j24" d="M0 509v1m0 44v1m0 38v1m0 87v1m0 1v2m0 4v1m0 28v1m0 4v1m0 20v1m0 20v1m0 8v1m0 24v1m0 17v1m0 2v1m0 24v2m0 12v1m0 1v1m0 15v2m0 22v2m0 27v1m0 19v1m0 10v1m0 11v1m0 2v1m0 18v2m0 20v1m0 13v1m0 2v1m0 11v1m0 26v1m0 31v1m0 8v1m0 32v1m0 24v1m0 1v1m0 1v1m0 10v1m0 8v2m0 209v1m0 47v1m0 60v1m0 14v1"/>
<path class="j25" d="M0 408v1m0 101v1m0 42v1m0 124v1m0 1v1m0 7v1m0 4v1m0 4v1m0 2v1m0 20v1m0 43v1m0 52v1m0 6v1m0 31v1m0 3v1m0 88v1m0 18v1m0 45v1m0 4v1m0 46v2m0 6v1m0 13v2m0 24v1m0 23v1m0 3v1m0 28v1m0 3v1m0 2v1m0 2v2m0 13v1m0 174v1m0 68v1m0 79v1"/>
<path class="j26" d="M0 461v1m0 175v1m0 41v1m0 39v3m0 206v1m0 27v1m0 66v1m0 32v1m0 17v1m0 29v1m0 10v1m0 66v1m0 3v1m0 12v1m0 172v1m0 20v1m0 49v1m0 12v1m0 90v1"/>
<path class="j27" d="M0 462v1m0 213v2m0 17v1m0 4v1m0 228v1m0 27v1m0 64v1m0 29v1m0 22v1m0 23v1m0 43v1m0 1v1m0 39v1m0 205v2m0 13v1m0 110v2"/>
<path class="j28" d="M0 694v1m0 4v1m0 124v1m0 147v1m0 82v1m0 40v1m0 49v1m0 34v1m0 180v1"/>
<path class="j29" d="M0 971v1m0 60v1m0 20v2m0 145v1m0 340v1"/>
<path class="j30" d="M0 825v1m0 207v1m0 107v1m0 400v1"/>
<path class="j31" d="M0 1142v1m0 216v1m0 1v1"/>
<path class="j32" d="M0 1201v3m0 156v1"/>
<path class="j33" d="M0 1097v2"/>
<path class="j40" d="M0 1358v1"/>
<path class="j41" d="M0 1204v1"/>
<path class="j44" d="M0 1205v1m0 2v1m0 148v1"/>
<path class="j45" d="M0 1206v2"/>
<path class="j46" d="M0 1209v1"/>
<path class="j47" d="M0 1356v1"/>
<path class="j49" d="M0 1211v1"/>
<path class="j50" d="M0 1210v1m0 1v1"/>
<path class="j51" d="M0 1213v1m0 141v1"/>
<path class="j52" d="M0 1214v2"/>
<path class="j53" d="M0 1216v1"/>
<path class="j54" d="M0 1217v1"/>
<path class="j55" d="M0 1218v1"/>
<path class="j56" d="M0 1225v3m0 15v3m0 12v3"/>
<path class="j58" d="M0 1239v2m0 13v2m0 91v2"/>
</g>
<g stroke-width="32" transform="translate(290)">
<path class="j12" d="M0 250v1"/>
<path class="j13" d="M0 155v2m0 92v1m0 12v2m0 33v1m0 1137v1"/>
<path class="j14" d="M0 127v1m0 19v1m0 6v1m0 11v2m0 10v2m0 65v2m0 4v1m0 3v1m0 24v1m0 17v1m0 15v1m0 6v1m0 13v1m0 1098v1"/>
<path class="j15" d="M0 118v2m0 8v2m0 8v1m0 7v1m0 10v1m0 10v1m0 8v1m0 37v1m0 32v1m0 5v1m0 4v3m0 19v1m0 31v1m0 6v1m0 1v1m0 3v2m0 33v1m0 30v2m0 4v2m0 95v2m0 39v1m0 938v1m0 76v1"/>
<path class="j16" d="M0 117v1m0 8v1m0 3v1m0 6v1m0 1v1m0 13v1m0 11v1m0 5v2m0 7v1m0 9v2m0 3v2m0 13v2m0 1v2m0 29v1m0 2v1m0 8v3m0 5v1m0 14v1m0 9v2m0 5v1m0 7v2m0 9v1m0 12v1m0 5v1m0 1v1m0 23v1m0 1v1m0 28v1m0 20v2m0 7v1m0 31v2m0 9v6m0 6v1m0 3v1m0 13v1m0 2v1m0 37v1m0 1v1m0 90v2m0 530v1m0 240v2m0 30v1m0 2v1m0 2v1m0 29v2m0 3v1m0 1v1m0 30v2m0 17v2m0 16v1m0 6v1"/>
<path class="j17" d="M0 116v1m0 28v1m0 6v1m0 16v1m0 6v1m0 12v1m0 22v1m0 13v3m0 14v1m0 8v2m0 28v1m0 8v1m0 14v1m0 16v1m0 1v1m0 24v3m0 6v1m0 3v1m0 4v2m0 3v1m0 16v1m0 3v1m0 2v1m0 2v1m0 10v1m0 2v1m0 5v1m0 1v1m0 2v1m0 8v1m0 20v2m0 20v1m0 1v1m0 1v1m0 5v1m0 17v1m0 28v1m0 3v1m0 22v1m0 68v1m0 24v2m0 184v1m0 539v3m0 19v1m0 34v1m0 1v1m0 8v2m0 17v1m0 13v7m0 3v1m0 21v1m0 10v1m0 24v1m0 2v1"/>
<path class="j18" d="M0 115v1m0 4v1m0 4v1m0 10v1m0 3v1m0 23v1m0 8v1m0 7v1m0 12v1m0 2v1m0 7v1m0 10v1m0 5v1m0 2v1m0 6v2m0 8v1m0 42v2m0 1v1m0 14v1m0 3v1m0 4v1m0 11v1m0 4v1m0 19v1m0 3v1m0 10v1m0 9v1m0 3v3m0 8v1m0 36v1m0 6v1m0 1v1m0 8v3m0 5v1m0 4v1m0 12v1m0 4v1m0 2v1m0 3v1m0 21v1m0 19v1m0 5v3m0 6v1m0 20v1m0 1v1m0 81v1m0 135v2m0 5v2m0 8v1m0 8v1m0 35v1m0 97v2m0 219v1m0 218v1m0 3v2m0 30v2m0 12v3m0 4v1m0 10v1m0 13v2m0 7v1m0 1v1m0 3v1m0 11v3m0 1v1m0 7v2m0 6v1m0 5v1m0 12v1m0 8v2m0 6v1"/>
<path class="j19" d="M0 131v1m0 10v3m0 25v1m0 17v1m0 15v1m0 16v1m0 7v1m0 1v1m0 39v1m0 2v2m0 2v1m0 8v1m0 4v1m0 6v1m0 8v1m0 10v1m0 10v1m0 6v1m0 4v3m0 13v1m0 8v1m0 9v1m0 3v1m0 13v1m0 5v1m0 3v1m0 4v1m0 4v1m0 3v1m0 3v2m0 11v2m0 5v1m0 3v2m0 37v1m0 11v1m0 26v1m0 7v1m0 6v2m0 21v3m0 3v2m0 2v2m0 4v1m0 25v1m0 8v1m0 1v1m0 5v1m0 4v1m0 17v1m0 4v1m0 6v1m0 33v1m0 21v2m0 56v2m0 3v1m0 5v1m0 13v1m0 8v1m0 1v2m0 24v1m0 62v2m0 44v1m0 40v2m0 174v1m0 2v1m0 215v2m0 16v2m0 2v1m0 8v2m0 2v1m0 4v1m0 2v2m0 22v2m0 25v1m0 8v1m0 12v2m0 4v1m0 2v1m0 2v1m0 6v1m0 25v1m0 9v1"/>
<path class="j20" d="M0 121v2m0 1v1m0 16v1m0 6v1m0 2v1m0 22v2m0 6v1m0 4v1m0 4v1m0 13v1m0 2v1m0 20v1m0 3v1m0 5v2m0 26v1m0 3v2m0 2v1m0 6v2m0 17v1m0 8v1m0 4v1m0 16v1m0 4v4m0 12v4m0 7v1m0 22v1m0 7v1m0 7v1m0 11v1m0 21v1m0 3v1m0 6v3m0 19v1m0 16v1m0 4v1m0 5v3m0 4v1m0 6v1m0 6v1m0 21v1m0 29v1m0 2v1m0 2v1m0 27v1m0 2v1m0 5v1m0 1v1m0 5v2m0 6v1m0 2v1m0 8v1m0 2v1m0 4v1m0 2v1m0 9v1m0 4v1m0 3v1m0 38v1m0 2v1m0 32v1m0 28v1m0 1v1m0 5v2m0 22v2m0 21v1m0 1v1m0 5v1m0 13v2m0 8v2m0 2v2m0 25v1m0 2v1m0 14v1m0 20v1m0 11v2m0 20v1m0 9v1m0 6v1m0 12v2m0 366v2m0 8v2m0 8v1m0 8v1m0 2v2m0 4v1m0 6v2m0 2v1m0 3v2m0 7v2m0 17v1m0 3v1m0 7v3m0 2v1m0 2v1m0 10v1m0 1v1m0 15v1m0 7v1m0 19v1"/>
<path class="j21" d="M0 123v1m0 8v1m0 2v1m0 27v1m0 29v1m0 9v1m0 19v2m0 10v2m0 2v1m0 27v1m0 1v1m0 23v1m0 1v1m0 13v2m0 20v1m0 13v1m0 2v1m0 23v1m0 2v1m0 8v3m0 19v1m0 10v2m0 22v1m0 32v1m0 8v1m0 18v2m0 10v1m0 4v1m0 3v1m0 5v1m0 17v1m0 2v1m0 4v2m0 11v1m0 2v1m0 8v1m0 3v1m0 4v2m0 7v3m0 9v1m0 2v1m0 7v1m0 13v1m0 11v3m0 8v2m0 5v1m0 2v1m0 1v1m0 3v1m0 15v1m0 1v1m0 13v1m0 40v1m0 1v1m0 4v2m0 22v1m0 10v1m0 8v1m0 5v1m0 6v1m0 17v1m0 13v1m0 5v1m0 2v2m0 2v1m0 9v2m0 12v1m0 13v1m0 4v1m0 5v1m0 6v1m0 1v1m0 18v1m0 1v1m0 3v1m0 3v1m0 1v1m0 2v1m0 18v1m0 11v1m0 2v1m0 45v2m0 19v1m0 44v1m0 56v2m0 2v4m0 4v1m0 211v1m0 11v4m0 17v1m0 5v1m0 8v1m0 2v2m0 13v1m0 37v1m0 17v1m0 7v1m0 4v1m0 1v1m0 16v1m0 6v1"/>
<path class="j22" d="M0 158v1m0 24v1m0 14v1m0 3v1m0 34v2m0 26v2m0 3v1m0 6v1m0 22v2m0 30v1m0 33v1m0 3v1m0 5v1m0 5v1m0 4v1m0 14v2m0 25v2m0 8v1m0 18v1m0 4v1m0 8v1m0 19v1m0 19v1m0 2v4m0 7v1m0 18v2m0 1v2m0 1v1m0 7v1m0 17v1m0 4v2m0 1v1m0 10v2m0 3v1m0 2v1m0 7v1m0 12v1m0 6v2m0 29v1m0 22v1m0 18v1m0 1v1m0 16v2m0 1v3m0 8v1m0 7v1m0 6v1m0 16v1m0 12v2m0 10v1m0 19v1m0 12v1m0 1v2m0 3v1m0 12v1m0 1v2m0 18v1m0 2v2m0 4v1m0 1v2m0 1v3m0 13v1m0 3v1m0 1v1m0 1v2m0 8v2m0 3v1m0 12v1m0 7v1m0 35v1m0 5v1m0 4v1m0 8v1m0 12v1m0 13v1m0 8v1m0 11v1m0 34v2m0 16v1m0 48v1m0 2v2m0 14v3m0 22v1m0 170v1m0 2v3m0 73v1m0 13v1m0 39v2m0 16v1m0 3v1"/>
<path class="j23" d="M0 133v2m0 26v2m0 54v1m0 2v1m0 73v1m0 23v1m0 27v1m0 36v1m0 25v1m0 17v1m0 4v1m0 7v1m0 32v1m0 15v1m0 1v1m0 29v1m0 5v1m0 15v1m0 10v1m0 2v1m0 8v1m0 9v1m0 4v1m0 13v1m0 12v1m0 2v1m0 14v1m0 12v2m0 11v2m0 6v3m0 3v2m0 4v1m0 12v1m0 11v1m0 13v1m0 4v1m0 6v1m0 2v1m0 3v1m0 19v1m0 5v1m0 2v2m0 12v1m0 1v1m0 14v1m0 10v3m0 8v1m0 1v1m0 1v1m0 5v1m0 13v1m0 34v2m0 2v1m0 7v1m0 9v1m0 13v1m0 2v1m0 4v1m0 1v1m0 2v1m0 1v1m0 1v2m0 6v1m0 21v1m0 11v1m0 2v1m0 7v1m0 3v1m0 8v1m0 1v1m0 4v1m0 5v1m0 4v1m0 5v1m0 20v1m0 1v1m0 12v1m0 8v1m0 3v2m0 28v1m0 8v1m0 7v1m0 9v6m0 6v2m0 2v2m0 11v1m0 17v2m0 6v1m0 7v1m0 4v2m0 3v1m0 170v1m0 29v1m0 29v2m0 28v1m0 10v2m0 44v1m0 7v1m0 1v1m0 10v2m0 9v1"/>
<path class="j24" d="M0 160v1m0 25v1m0 14v1m0 5v2m0 108v1m0 29v1m0 80v1m0 2v1m0 27v1m0 24v2m0 4v1m0 16v1m0 14v1m0 5v1m0 15v1m0 7v1m0 5v1m0 8v1m0 18v1m0 1v1m0 13v1m0 4v1m0 10v1m0 52v1m0 10v1m0 4v1m0 16v1m0 26v1m0 2v1m0 2v1m0 1v1m0 17v2m0 32v2m0 20v1m0 7v1m0 15v3m0 4v1m0 12v1m0 5v1m0 23v1m0 13v1m0 1v1m0 7v1m0 9v1m0 4v1m0 4v1m0 6v1m0 14v1m0 1v1m0 31v1m0 13v2m0 1v1m0 4v1m0 9v2m0 9v1m0 7v1m0 4v1m0 16v1m0 17v1m0 3v1m0 2v1m0 9v1m0 4v1m0 8v1m0 1v1m0 7v1m0 14v1m0 3v1m0 9v1m0 15v3m0 7v1m0 1v4m0 4v1m0 5v3m0 2v1m0 195v1m0 13v1m0 46v2m0 76v2m0 8v1m0 5v1"/>
<path class="j25" d="M0 149v2m0 8v1m0 211v1m0 35v1m0 52v1m0 92v1m0 33v1m0 3v1m0 2v1m0 8v1m0 38v1m0 32v1m0 5v1m0 7v1m0 8v1m0 3v1m0 19v1m0 9v2m0 1v2m0 8v1m0 6v1m0 8v3m0 5v1m0 23v1m0 6v1m0 16v1m0 9v1m0 48v1m0 1v1m0 9v2m0 2v1m0 9v1m0 13v1m0 20v1m0 11v1m0 9v1m0 45v1m0 1v1m0 4v1m0 13v1m0 12v4m0 1v1m0 6v1m0 6v1m0 3v1m0 2v2m0 12v1m0 6v3m0 23v2m0 4v1m0 7v1m0 4v1m0 3v1m0 36v2m0 13v1m0 8v1m0 174v1m0 2v1m0 17v1m0 130v1m0 10v2m0 12v1"/>
<path class="j26" d="M0 184v1m0 14v2m0 418v2m0 20v1m0 38v1m0 2v2m0 8v1m0 7v1m0 1v1m0 13v5m0 18v2m0 9v1m0 12v1m0 2v2m0 5v1m0 19v1m0 4v1m0 47v1m0 29v1m0 12v2m0 35v1m0 32v1m0 13v1m0 1v1m0 16v1m0 12v1m0 8v1m0 9v1m0 8v1m0 12v1m0 13v1m0 5v1m0 9v1m0 30v1m0 5v1m0 12v4m0 51v1m0 210v1m0 61v1m0 61v1m0 4v1"/>
<path class="j27" d="M0 218v2m0 188v1m0 99v1m0 2v1m0 80v2m0 42v1m0 1v1m0 49v1m0 7v1m0 11v1m0 1v1m0 31v3m0 73v1m0 1v1m0 2v1m0 21v1m0 14v3m0 67v1m0 27v1m0 2v2m0 2v1m0 9v1m0 12v2m0 4v1m0 1v1m0 13v1m0 7v1m0 2v1m0 1v2m0 27v1m0 17v2m0 9v1m0 7v1m0 2v1m0 24v1m0 21v1m0 40v1m0 5v1m0 10v3m0 207v1m0 34v2m0 13v1"/>
<path class="j28" d="M0 185v1m0 275v1m0 47v1m0 168v2m0 85v1m0 53v1m0 26v1m0 81v1m0 23v1m0 3v1m0 6v1m0 9v1m0 21v1m0 15v1m0 10v1m0 8v1m0 25v1m0 14v1m0 7v1m0 22v1m0 3v1m0 77v1m0 177v1m0 8v2m0 32v1"/>
<path class="j29" d="M0 462v1m0 47v1m0 165v1m0 22v2m0 8v1m0 56v1m0 92v1m0 69v1m0 34v1m0 5v1m0 74v1m0 7v1m0 14v2m0 6v1m0 29v1m0 8v1m0 31v1m0 308v1m0 61v1m0 28v1"/>
<path class="j30" d="M0 637v1m0 39v1m0 180v1m0 91v1m0 6v1m0 58v2m0 28v1m0 9v1m0 16v3m0 23v1m0 5v1m0 10v1m0 26v2m0 36v1m0 176v2m0 2v1"/>
<path class="j31" d="M0 694v1m0 256v1m0 80v2m0 20v2m0 34v2m0 4v1m0 7v1m0 35v1m0 59v1m0 12v1m0 142v2"/>
<path class="j32" d="M0 695v1m0 130v1m0 145v1m0 241v1m0 145v1m0 180v2"/>
<path class="j33" d="M0 971v1m0 173v2m0 54v1m0 13v1m0 145v1"/>
<path class="j34" d="M0 824v1m0 316v2m0 59v1m0 9v1m0 3v1"/>
<path class="j35" d="M0 1203v1m0 13v1"/>
<path class="j36" d="M0 1218v1m0 18v2"/>
<path class="j37" d="M0 825v1m0 378v1m0 3v1m0 10v1m0 6v2m0 8v1m0 118v1"/>
<path class="j38" d="M0 1097v2m0 135v2m0 3v1m0 5v1m0 108v1"/>
<path class="j39" d="M0 1207v1m0 1v1m0 15v1m0 7v1m0 16v1"/>
<path class="j40" d="M0 1211v1m0 16v1m0 3v1m0 13v1m0 106v1"/>
<path class="j41" d="M0 1205v1m0 34v1m0 3v1m0 4v1m0 1v1m0 100v1"/>
<path class="j42" d="M0 1206v1m0 22v1m0 1v1m0 22v1m0 4v2m0 90v1"/>
<path class="j43" d="M0 1210v1m0 19v1m0 22v1m0 7v1"/>
<path class="j44" d="M0 1220v2m0 30v1m0 5v1"/>
<path class="j45" d="M0 1247v1"/>
<path class="j46" d="M0 1241v1m0 6v1m0 6v1"/>
<path class="j47" d="M0 1243v1m0 106v1"/>
<path class="j48" d="M0 1242v1"/>
<path class="j49" d="M0 1256v2m0 91v1"/>
<path class="j50" d="M0 1348v1"/>
<path class="j51" d="M0 1347v1"/>
<path class="j56" d="M0 1222v3m0 98v3"/>
<path class="j58" d="M0 1312v3m0 3v3m0 12v3m0 2v3"/>
<path class="j59" d="M0 1272v4"/>
<path class="j63" d="M0 1315v1m0 1v1m0 9v3"/>
</g>
<g stroke-width="25" transform="translate(318.5)">
<path class="j15" d="M0 147v1"/>
<path class="j16" d="M0 146v1m0 99v1m0 218v1"/>
<path class="j17" d="M0 179v1m0 62v1m0 2v1m0 1v1m0 14v2m0 33v1m0 168v1"/>
<path class="j18" d="M0 180v1m0 60v1m0 1v2m0 3v1m0 12v1m0 17v3m0 14v1m0 1v1m0 36v1m0 107v2m0 19v1m0 920v1m0 16v1m0 93v1"/>
<path class="j19" d="M0 145v1m0 9v1m0 21v2m0 11v1m0 4v1m0 15v1m0 3v1m0 44v1m0 30v1m0 28v2m0 6v1m0 39v1m0 24v2m0 3v1m0 43v1m0 2v1m0 3v1m0 4v3m0 37v2m0 905v1m0 48v1m0 12v1m0 10v2m0 13v2m0 4v1m0 56v2"/>
<path class="j20" d="M0 122v2m0 2v1m0 27v1m0 1v1m0 19v1m0 4v1m0 7v1m0 6v1m0 13v1m0 5v1m0 9v1m0 22v1m0 3v3m0 3v1m0 22v1m0 7v1m0 1v1m0 14v1m0 21v1m0 4v1m0 17v1m0 14v1m0 20v2m0 2v1m0 6v1m0 20v2m0 12v1m0 18v1m0 13v1m0 62v2m0 123v1m0 57v2m0 669v1m0 1v1m0 16v1m0 36v1m0 8v1m0 8v2m0 4v1m0 17v2m0 4v1m0 2v1m0 5v1m0 9v2m0 16v2"/>
<path class="j21" d="M0 124v2m0 11v2m0 3v1m0 1v1m0 3v1m0 17v2m0 20v1m0 2v1m0 2v1m0 17v3m0 7v1m0 1v2m0 1v1m0 12v1m0 17v1m0 5v1m0 13v1m0 20v1m0 6v1m0 1v1m0 13v1m0 3v2m0 8v1m0 14v1m0 4v5m0 8v1m0 3v2m0 10v1m0 4v2m0 3v1m0 17v1m0 16v1m0 2v1m0 1v1m0 5v1m0 6v1m0 1v1m0 25v1m0 4v2m0 4v1m0 8v1m0 32v1m0 2v1m0 28v1m0 27v2m0 18v1m0 13v1m0 25v2m0 5v1m0 58v1m0 139v2m0 543v1m0 29v1m0 8v1m0 20v1m0 1v1m0 6v3m0 1v1m0 2v1m0 7v1m0 7v1m0 1v1m0 7v1m0 6v1m0 4v1m0 29v1m0 5v2"/>
<path class="j22" d="M0 118v1m0 8v1m0 12v2m0 1v1m0 21v1m0 2v1m0 3v1m0 14v1m0 16v2m0 11v1m0 5v1m0 4v2m0 20v1m0 5v2m0 31v1m0 3v1m0 25v1m0 5v1m0 4v1m0 11v1m0 10v1m0 7v1m0 2v1m0 13v1m0 7v2m0 9v1m0 2v1m0 11v1m0 1v1m0 7v1m0 23v2m0 9v1m0 10v1m0 6v1m0 4v1m0 7v1m0 4v1m0 20v1m0 18v5m0 22v1m0 1v1m0 6v1m0 3v1m0 26v2m0 8v1m0 3v1m0 7v1m0 1v1m0 19v1m0 9v1m0 99v1m0 42v1m0 585v1m0 11v3m0 11v1m0 19v1m0 21v1m0 9v1m0 6v1m0 3v1m0 8v1m0 5v1m0 5v1m0 19v1m0 13v1m0 9v2m0 6v1"/>
<path class="j23" d="M0 117v1m0 1v1m0 1v1m0 17v1m0 17v1m0 17v1m0 6v1m0 14v1m0 4v2m0 17v1m0 10v2m0 18v1m0 33v3m0 6v1m0 8v2m0 3v1m0 1v1m0 6v1m0 4v2m0 12v1m0 1v1m0 3v1m0 6v1m0 11v2m0 1v2m0 12v2m0 3v1m0 11v1m0 22v1m0 11v2m0 3v5m0 11v1m0 16v2m0 6v1m0 35v1m0 1v1m0 3v1m0 4v2m0 2v1m0 9v2m0 11v1m0 12v2m0 2v1m0 1v1m0 1v1m0 1v1m0 3v2m0 4v1m0 30v2m0 13v1m0 12v1m0 1v4m0 2v1m0 5v1m0 6v1m0 4v1m0 21v2m0 19v1m0 34v1m0 7v1m0 24v1m0 5v1m0 9v1m0 67v2m0 513v1m0 18v2m0 4v1m0 21v3m0 2v1m0 3v2m0 11v1m0 36v1m0 15v1m0 1v1m0 2v1m0 17v1m0 14v1m0 9v1"/>
<path class="j24" d="M0 115v2m0 13v1m0 5v1m0 16v1m0 10v1m0 6v1m0 1v1m0 18v2m0 7v1m0 28v2m0 19v1m0 25v1m0 5v1m0 16v1m0 2v1m0 6v1m0 1v1m0 2v2m0 21v1m0 1v2m0 12v2m0 21v1m0 26v2m0 5v1m0 13v1m0 3v1m0 41v1m0 7v1m0 3v1m0 2v1m0 2v1m0 7v1m0 6v2m0 11v2m0 7v2m0 12v2m0 8v1m0 12v1m0 16v1m0 2v1m0 1v1m0 2v1m0 7v4m0 5v1m0 5v1m0 1v1m0 3v1m0 7v1m0 3v1m0 1v1m0 33v1m0 4v1m0 34v2m0 9v1m0 21v1m0 9v1m0 4v1m0 17v2m0 8v1m0 3v1m0 1v1m0 4v1m0 39v2m0 7v3m0 10v1m0 11v1m0 511v1m0 1v3m0 4v1m0 6v1m0 13v1m0 1v1m0 1v2m0 8v1m0 15v1m0 6v1m0 11v1m0 7v1m0 11v1m0 8v1m0 11v1m0 5v1m0 10v1m0 12v1"/>
<path class="j25" d="M0 120v1m0 7v2m0 1v1m0 20v1m0 16v1m0 4v1m0 31v1m0 11v1m0 15v1m0 4v1m0 32v5m0 8v1m0 15v2m0 10v2m0 2v1m0 13v1m0 1v1m0 15v1m0 20v1m0 1v1m0 2v1m0 5v1m0 33v1m0 7v2m0 1v1m0 24v1m0 22v1m0 3v1m0 11v3m0 19v1m0 3v1m0 3v1m0 28v1m0 16v2m0 3v1m0 10v1m0 3v2m0 18v1m0 1v1m0 3v1m0 15v1m0 5v2m0 16v2m0 4v1m0 4v1m0 4v1m0 17v1m0 20v1m0 22v1m0 8v1m0 6v1m0 9v1m0 13v1m0 24v1m0 9v5m0 24v1m0 9v1m0 22v1m0 25v1m0 1v2m0 205v1m0 92v1m0 170v1m0 8v3m0 33v1m0 2v5m0 2v1m0 3v1m0 6v1m0 1v1m0 2v1m0 3v1m0 4v1m0 20v1m0 12v1m0 19v1m0 4v1m0 4v1m0 1v1m0 7v1"/>
<path class="j26" d="M0 132v1m0 16v1m0 1v1m0 18v1m0 12v1m0 2v1m0 22v1m0 10v1m0 14v1m0 31v2m0 2v1m0 12v1m0 9v1m0 49v1m0 31v1m0 6v1m0 19v1m0 6v1m0 17v1m0 69v1m0 1v4m0 19v1m0 18v1m0 4v2m0 7v1m0 18v1m0 1v1m0 3v1m0 9v1m0 3v1m0 6v1m0 1v1m0 13v1m0 2v1m0 4v2m0 4v2m0 5v1m0 2v1m0 16v1m0 6v2m0 14v1m0 2v1m0 1v1m0 2v1m0 38v1m0 1v1m0 17v1m0 26v2m0 1v1m0 2v1m0 5v1m0 4v1m0 4v1m0 2v2m0 7v1m0 11v1m0 4v2m0 2v1m0 3v2m0 3v1m0 12v1m0 3v1m0 3v1m0 1v1m0 4v1m0 23v1m0 1v1m0 2v1m0 15v1m0 5v1m0 24v2m0 52v2m0 13v1m0 13v2m0 72v1m0 30v2m0 17v1m0 3v2m0 12v2m0 18v1m0 6v1m0 38v2m0 126v3m0 1v1m0 20v3m0 28v2m0 2v2m0 8v1m0 13v1m0 4v1m0 25v1m0 50v1m0 6v1m0 11v1"/>
<path class="j27" d="M0 163v1m0 34v1m0 1v1m0 35v3m0 93v1m0 15v1m0 33v1m0 18v1m0 4v1m0 11v1m0 8v1m0 35v1m0 8v1m0 33v1m0 36v1m0 2v1m0 5v1m0 2v1m0 3v1m0 47v1m0 52v3m0 8v3m0 7v1m0 1v1m0 20v1m0 6v1m0 15v2m0 28v1m0 1v2m0 6v3m0 8v1m0 5v1m0 6v1m0 29v1m0 7v2m0 6v1m0 11v1m0 2v1m0 7v1m0 51v1m0 1v1m0 3v1m0 1v1m0 14v1m0 7v1m0 85v1m0 82v2m0 4v1m0 15v1m0 17v1m0 1v1m0 4v2m0 2v1m0 4v1m0 14v1m0 4v1m0 2v1m0 2v1m0 2v1m0 39v1m0 130v1m0 1v1m0 3v1m0 30v1m0 38v1m0 21v1m0 12v1m0 19v1m0 11v1m0 7v1m0 1v1m0 21v1m0 2v1"/>
<path class="j28" d="M0 133v1m0 1v1m0 14v1m0 9v2m0 57v1m0 45v1m0 105v1m0 30v1m0 13v2m0 40v1m0 14v1m0 10v1m0 14v1m0 7v1m0 3v1m0 33v1m0 11v1m0 18v1m0 26v1m0 34v1m0 1v1m0 43v1m0 8v1m0 23v1m0 7v2m0 5v1m0 7v1m0 4v1m0 12v1m0 14v1m0 1v1m0 7v1m0 10v1m0 5v1m0 2v2m0 6v1m0 33v1m0 2v1m0 1v2m0 10v1m0 6v1m0 5v2m0 4v2m0 4v2m0 9v1m0 22v1m0 12v1m0 1v1m0 2v2m0 1v1m0 3v1m0 1v2m0 29v2m0 2v2m0 15v1m0 11v1m0 13v1m0 16v2m0 14v2m0 22v1m0 22v1m0 3v2m0 7v1m0 30v1m0 2v1m0 3v2m0 2v2m0 16v1m0 4v1m0 5v1m0 1v2m0 44v1m0 120v1m0 2v1m0 6v1m0 23v1m0 62v1m0 66v1m0 16v1"/>
<path class="j29" d="M0 134v1m0 27v1m0 21v1m0 14v1m0 66v1m0 2v1m0 75v1m0 63v1m0 75v1m0 22v3m0 10v1m0 22v1m0 13v1m0 33v1m0 1v1m0 24v1m0 16v1m0 4v1m0 32v1m0 5v1m0 27v1m0 14v2m0 12v1m0 12v1m0 1v1m0 8v1m0 3v2m0 22v2m0 24v1m0 22v2m0 34v1m0 4v2m0 2v1m0 2v1m0 2v1m0 1v1m0 7v1m0 5v1m0 4v2m0 3v1m0 1v1m0 4v1m0 8v1m0 1v1m0 7v1m0 5v1m0 20v1m0 9v1m0 2v2m0 7v1m0 10v3m0 10v1m0 5v1m0 9v1m0 6v1m0 46v1m0 18v1m0 3v1m0 1v1m0 4v1m0 2v1m0 2v3m0 8v1m0 3v1m0 28v1m0 6v1m0 3v1m0 6v1m0 4v1m0 10v1m0 40v2m0 114v2m0 1v1m0 32v2m0 60v2m0 61v1m0 5v1m0 7v1"/>
<path class="j30" d="M0 158v2m0 25v1m0 21v1m0 139v1m0 111v1m0 62v1m0 30v2m0 65v1m0 57v2m0 8v2m0 7v1m0 5v1m0 18v1m0 10v4m0 37v1m0 41v1m0 6v1m0 22v2m0 25v1m0 3v2m0 5v2m0 14v1m0 5v1m0 2v1m0 6v1m0 6v1m0 3v1m0 2v1m0 1v1m0 4v2m0 27v2m0 17v1m0 3v1m0 1v1m0 14v3m0 10v1m0 5v1m0 10v1m0 1v1m0 10v2m0 19v1m0 11v1m0 17v1m0 4v1m0 2v1m0 14v2m0 3v2m0 6v1m0 12v1m0 17v1m0 10v1m0 1v1m0 173v1m0 2v1m0 13v1m0 35v1m0 47v1m0 76v4m0 11v1"/>
<path class="j31" d="M0 208v1m0 61v1m0 75v1m0 60v1m0 52v1m0 176v1m0 60v1m0 3v1m0 7v1m0 7v1m0 2v1m0 19v1m0 1v2m0 19v1m0 34v1m0 12v1m0 1v1m0 55v1m0 1v1m0 17v1m0 10v1m0 2v1m0 2v2m0 16v2m0 1v2m0 20v1m0 4v1m0 2v1m0 3v2m0 5v1m0 16v2m0 9v1m0 6v2m0 3v1m0 1v1m0 23v1m0 6v1m0 5v1m0 9v1m0 2v1m0 9v1m0 7v1m0 1v1m0 43v1m0 4v1m0 6v1m0 10v1m0 16v1m0 8v1m0 1v1m0 22v1m0 15v1m0 25v1m0 118v2m0 11v1m0 32v1m0 124v1"/>
<path class="j32" d="M0 408v1m0 184v1m0 81v1m0 20v1m0 4v1m0 7v1m0 10v1m0 21v1m0 8v1m0 10v2m0 49v1m0 6v1m0 5v1m0 32v1m0 11v1m0 30v2m0 20v1m0 29v1m0 4v1m0 1v1m0 3v1m0 11v1m0 10v1m0 21v1m0 4v1m0 23v1m0 11v1m0 11v2m0 4v1m0 8v1m0 1v1m0 7v1m0 5v1m0 9v1m0 21v2m0 10v1m0 27v1m0 10v1m0 3v1m0 3v2m0 27v1m0 1v1m0 155v1m0 144v2"/>
<path class="j33" d="M0 677v1m0 21v2m0 18v1m0 97v2m0 39v1m0 94v1m0 2v1m0 3v1m0 3v1m0 56v1m0 2v1m0 6v1m0 8v2m0 3v1m0 16v1m0 9v1m0 4v1m0 7v1m0 7v1m0 21v2m0 55v1m0 35v1m0 4v1m0 19v2m0 207v1"/>
<path class="j34" d="M0 461v1m0 214v1m0 17v1m0 124v1m0 132v1m0 4v1m0 16v1m0 1v1m0 15v1m0 25v1m0 28v1m0 17v1m0 21v1m0 1v1m0 49v1m0 4v1m0 2v1m0 25v1m0 26v1m0 1v2m0 5v1m0 7v1m0 24v1m0 110v1m0 89v1"/>
<path class="j35" d="M0 462v1m0 232v1m0 255v1m0 18v1m0 4v1m0 18v1m0 28v1m0 10v1m0 22v1m0 8v3m0 4v1m0 12v1m0 8v1m0 49v1m0 61v1m0 4v1m0 5v1m0 13v1m0 10v1m0 297v1"/>
<path class="j36" d="M0 973v1m0 19v1m0 1v2m0 19v1m0 5v1m0 23v1m0 5v1m0 23v1m0 15v1m0 53v1m0 54v1m0 2v1m0 63v3m0 271v1"/>
<path class="j37" d="M0 1032v1m0 23v1m0 17v1m0 68v1m0 75v1m0 6v1m0 4v1m0 35v1"/>
<path class="j38" d="M0 824v1m0 146v2m0 44v1m0 15v1m0 19v2m0 20v1m0 14v1m0 136v1m0 35v1m0 2v1m0 4v1m0 7v2m0 67v2m0 2v1"/>
<path class="j39" d="M0 825v1m0 229v1m0 35v1m0 48v1m0 87v1m0 1v1m0 31v1m0 18v1m0 1v1m0 28v2"/>
<path class="j40" d="M0 1099v1m0 105v2m0 4v1m0 8v1m0 4v1m0 3v1m0 20v1m0 23v2m0 6v1m0 44v3m0 4v1"/>
<path class="j41" d="M0 1096v1m0 124v2m0 28v1m0 12v2m0 6v2m0 2v3m0 51v1m0 4v1m0 7v2m0 5v1"/>
<path class="j42" d="M0 1223v2m0 20v1m0 3v1m0 8v2m0 1v1m0 52v1m0 7v1m0 3v1m0 6v1m0 2v1m0 1v1m0 6v1m0 5v1"/>
<path class="j43" d="M0 1141v2m0 67v1m0 41v3m0 5v1m0 60v1m0 15v1"/>
<path class="j44" d="M0 1244v1m0 1v1m0 71v1m0 4v1m0 7v1m0 7v1m0 2v1"/>
<path class="j45" d="M0 1097v2m0 156v1m0 1v1m0 61v2m0 4v1m0 6v1m0 8v1m0 4v2"/>
<path class="j46" d="M0 1256v1m0 58v1m0 1v1m0 6v1m0 15v1"/>
<path class="j47" d="M0 1247v2m0 67v1"/>
<path class="j50" d="M0 1284v1m0 26v1"/>
<path class="j54" d="M0 1285v1"/>
<path class="j58" d="M0 1310v1"/>
<path class="j59" d="M0 1286v1"/>
</g>
<g stroke-width="21" transform="translate(341.5)">
<path class="j27" d="M0 249v1m0 1199v1"/>
<path class="j28" d="M0 179v1m0 68v1m0 1v1"/>
<path class="j29" d="M0 146v2m0 30v1m0 26v1m0 41v1m0 12v3m0 34v1m0 1099v1m0 52v1"/>
<path class="j30" d="M0 117v1m0 20v2m0 16v1m0 70v1m0 1298v1"/>
<path class="j31" d="M0 118v1m0 7v1m0 13v1m0 4v1m0 11v1m0 19v1m0 2v1m0 45v1m0 1v1m0 17v1m0 8v1m0 3v1m0 3v1m0 15v2m0 17v1m0 16v1m0 1080v1m0 38v2m0 26v1m0 28v2m0 31v1m0 24v1"/>
<path class="j32" d="M0 125v1m0 4v1m0 6v1m0 118v1m0 57v1m0 44v1m0 32v2m0 1004v1m0 3v1m0 45v1m0 34v1m0 7v1m0 59v1"/>
<path class="j33" d="M0 116v1m0 25v1m0 1v1m0 50v1m0 8v1m0 1v1m0 44v1m0 2v1m0 2v2m0 79v2m0 18v1m0 1v2m0 36v2m0 21v1m0 73v2m0 906v1m0 9v1m0 25v2m0 21v1m0 6v1m0 14v1m0 9v2m0 31v1"/>
<path class="j34" d="M0 119v1m0 7v1m0 3v1m0 9v1m0 1v1m0 11v1m0 34v1m0 5v1m0 18v1m0 13v1m0 15v1m0 32v1m0 2v1m0 8v2m0 4v1m0 9v1m0 6v1m0 7v2m0 26v1m0 12v1m0 57v1m0 23v2m0 51v1m0 903v1m0 19v1m0 15v2m0 12v1m0 16v1m0 1v1m0 11v1m0 6v2m0 5v1m0 11v2m0 39v1m0 2v1"/>
<path class="j35" d="M0 124v1m0 4v1m0 42v1m0 8v1m0 9v1m0 5v1m0 13v1m0 2v1m0 10v1m0 16v2m0 9v1m0 50v2m0 1v1m0 8v1m0 6v1m0 3v2m0 8v1m0 12v1m0 40v1m0 2v1m0 27v1m0 23v1m0 8v1m0 38v1m0 128v1m0 761v1m0 45v1m0 2v1m0 36v1m0 2v3m0 8v1m0 1v2m0 13v1m0 21v1m0 13v1m0 5v2"/>
<path class="j36" d="M0 122v2m0 12v1m0 30v2m0 4v1m0 2v1m0 17v1m0 15v1m0 22v2m0 9v1m0 19v1m0 3v1m0 39v1m0 17v1m0 8v2m0 3v1m0 1v1m0 9v1m0 4v1m0 10v1m0 74v1m0 3v1m0 6v1m0 1v1m0 30v1m0 49v1m0 841v1m0 19v1m0 12v1m0 1v1m0 15v1m0 1v2m0 24v2m0 26v1m0 10v1m0 9v1m0 29v1m0 15v1"/>
<path class="j37" d="M0 115v1m0 4v2m0 6v1m0 3v1m0 15v1m0 5v1m0 11v1m0 2v1m0 1v1m0 10v1m0 6v1m0 22v2m0 2v1m0 4v2m0 12v1m0 5v1m0 10v1m0 18v2m0 9v1m0 2v2m0 2v1m0 2v1m0 16v1m0 2v1m0 16v1m0 4v1m0 6v1m0 1v1m0 7v1m0 1v1m0 9v1m0 5v1m0 3v2m0 3v1m0 10v2m0 9v1m0 33v1m0 13v1m0 18v3m0 9v2m0 24v1m0 24v2m0 4v1m0 1v1m0 34v2m0 47v1m0 1v1m0 3v1m0 84v2m0 655v1m0 7v1m0 1v1m0 3v1m0 15v1m0 3v1m0 15v1m0 1v1m0 4v3m0 31v1m0 2v1m0 12v1m0 25v1m0 6v1m0 3v1m0 13v1"/>
<path class="j38" d="M0 152v1m0 11v2m0 17v1m0 14v1m0 4v1m0 80v1m0 14v1m0 3v1m0 7v1m0 8v1m0 3v1m0 23v1m0 7v1m0 22v1m0 8v1m0 8v1m0 7v1m0 7v1m0 21v1m0 13v1m0 16v1m0 3v1m0 27v1m0 33v1m0 6v1m0 89v1m0 234v2m0 492v1m0 27v1m0 8v1m0 19v1m0 10v1m0 20v1m0 19v1m0 4v2m0 7v1m0 19v1m0 37v1"/>
<path class="j39" d="M0 151v1m0 1v1m0 7v1m0 30v1m0 39v1m0 3v1m0 32v1m0 3v1m0 1v3m0 5v1m0 17v2m0 7v1m0 14v1m0 4v2m0 1v1m0 33v1m0 12v1m0 23v1m0 7v1m0 1v1m0 4v1m0 13v1m0 2v1m0 5v1m0 10v1m0 3v1m0 7v1m0 15v1m0 4v1m0 1v1m0 15v1m0 1v1m0 18v1m0 3v1m0 31v1m0 68v1m0 24v1m0 558v1m0 119v1m0 21v2m0 9v1m0 1v1m0 11v1m0 1v1m0 25v1m0 1v1m0 4v1m0 43v1m0 17v1m0 34v1m0 1v1"/>
<path class="j40" d="M0 133v1m0 1v1m0 22v1m0 11v1m0 17v1m0 4v1m0 23v1m0 2v1m0 3v1m0 5v1m0 36v1m0 6v1m0 12v1m0 5v1m0 23v1m0 14v1m0 11v1m0 19v1m0 30v1m0 27v1m0 6v1m0 44v4m0 20v1m0 15v3m0 15v1m0 1v1m0 4v1m0 19v1m0 1v1m0 9v1m0 54v1m0 41v1m0 42v1m0 2v1m0 60v2m0 18v1m0 36v1m0 358v1m0 135v2m0 5v1m0 19v1m0 12v1m0 8v1m0 4v1m0 4v3m0 18v1m0 1v1m0 41v1m0 59v1"/>
<path class="j41" d="M0 134v1m0 25v1m0 1v2m0 10v1m0 12v1m0 14v1m0 15v1m0 4v1m0 7v1m0 5v1m0 2v1m0 29v1m0 17v1m0 30v1m0 25v1m0 8v2m0 21v1m0 51v1m0 7v1m0 26v1m0 6v1m0 21v1m0 6v1m0 23v1m0 9v1m0 28v1m0 5v1m0 5v1m0 74v2m0 2v1m0 1v1m0 97v1m0 26v1m0 15v1m0 34v1m0 9v1m0 136v1m0 213v1m0 19v1m0 1v1m0 117v1m0 25v1m0 6v1m0 4v1m0 3v1m0 41v1m0 23v1m0 4v1m0 32v2m0 52v1m0 12v1"/>
<path class="j42" d="M0 175v1m0 8v1m0 14v1m0 1v1m0 7v1m0 9v1m0 75v1m0 4v1m0 17v1m0 62v1m0 5v1m0 8v1m0 4v1m0 1v1m0 11v1m0 25v1m0 8v1m0 31v1m0 20v1m0 10v1m0 11v1m0 20v1m0 16v1m0 5v1m0 54v1m0 5v1m0 13v1m0 24v1m0 34v2m0 41v1m0 31v1m0 53v1m0 6v1m0 1v1m0 12v1m0 121v1m0 212v1m0 75v1m0 59v1m0 2v1m0 12v1m0 10v1m0 8v1m0 12v1m0 48v1m0 19v1m0 52v1m0 1v1m0 3v1m0 1v1m0 4v1m0 8v1m0 11v1m0 3v1m0 11v1"/>
<path class="j43" d="M0 200v1m0 6v1m0 30v2m0 125v2m0 3v1m0 4v1m0 35v1m0 13v2m0 5v1m0 41v1m0 26v2m0 10v1m0 4v1m0 9v1m0 17v1m0 21v1m0 10v2m0 24v2m0 2v1m0 11v1m0 22v1m0 19v1m0 26v1m0 24v1m0 30v1m0 7v1m0 16v1m0 9v1m0 54v1m0 28v1m0 46v1m0 18v1m0 2v1m0 44v1m0 78v1m0 72v1m0 28v1m0 106v1m0 73v1m0 1v1m0 73v2m0 3v1m0 29v2m0 2v1"/>
<path class="j44" d="M0 159v1m0 186v2m0 38v1m0 19v1m0 17v1m0 6v1m0 6v1m0 13v1m0 5v1m0 48v1m0 4v1m0 14v1m0 13v1m0 6v1m0 16v1m0 5v1m0 9v2m0 1v1m0 4v2m0 4v1m0 21v1m0 8v1m0 5v1m0 19v1m0 10v1m0 1v1m0 2v1m0 4v1m0 12v1m0 62v1m0 3v1m0 17v1m0 6v1m0 6v1m0 9v1m0 9v1m0 2v3m0 20v1m0 6v1m0 1v1m0 7v2m0 5v1m0 56v1m0 1v1m0 16v1m0 1v2m0 50v2m0 73v1m0 99v1m0 1v1m0 25v3m0 3v1m0 40v1m0 46v1m0 53v1m0 27v2m0 8v1m0 15v1m0 14v1m0 18v1m0 19v1m0 20v2m0 38v1m0 13v1m0 1v1m0 1v1m0 5v1m0 4v1"/>
<path class="j45" d="M0 149v2m0 35v1m0 107v1m0 77v1m0 12v1m0 16v1m0 7v1m0 5v1m0 1v1m0 8v2m0 30v1m0 12v2m0 15v1m0 2v1m0 26v2m0 62v1m0 1v1m0 10v2m0 12v1m0 2v2m0 1v1m0 1v1m0 24v1m0 2v1m0 6v1m0 3v1m0 4v1m0 11v1m0 15v1m0 16v1m0 67v1m0 3v1m0 6v1m0 17v1m0 1v2m0 22v1m0 4v2m0 7v1m0 12v1m0 27v1m0 12v1m0 19v2m0 20v1m0 43v1m0 34v1m0 82v1m0 30v1m0 15v1m0 18v2m0 64v1m0 1v1m0 32v1m0 13v1m0 38v1m0 18v1m0 3v1m0 170v1m0 26v1"/>
<path class="j46" d="M0 376v1m0 40v1m0 22v1m0 10v1m0 98v2m0 26v1m0 15v1m0 6v1m0 6v1m0 24v2m0 14v1m0 37v1m0 4v1m0 18v1m0 15v2m0 58v2m0 12v3m0 7v1m0 17v1m0 9v1m0 14v1m0 25v2m0 2v1m0 1v1m0 9v2m0 1v1m0 20v1m0 1v2m0 12v1m0 4v1m0 49v1m0 7v1m0 20v1m0 6v1m0 73v1m0 19v1m0 65v1m0 7v1m0 37v1m0 29v1m0 2v1m0 14v1m0 2v1m0 27v2m0 3v2m0 4v1m0 7v2m0 16v1m0 3v1m0 8v1m0 31v1m0 104v1m0 40v1m0 6v1"/>
<path class="j47" d="M0 185v1m0 79v2m0 117v1m0 54v1m0 20v1m0 22v1m0 7v1m0 19v1m0 11v1m0 21v1m0 3v1m0 6v1m0 2v1m0 31v1m0 6v1m0 1v1m0 3v1m0 2v1m0 3v2m0 2v1m0 45v1m0 9v1m0 13v1m0 18v1m0 24v1m0 9v2m0 5v1m0 23v1m0 12v2m0 4v1m0 2v1m0 5v1m0 23v1m0 45v2m0 12v2m0 16v1m0 4v1m0 11v1m0 3v1m0 17v1m0 26v2m0 19v1m0 38v1m0 16v1m0 34v1m0 30v1m0 10v1m0 10v1m0 16v1m0 1v3m0 3v1m0 2v1m0 3v1m0 3v1m0 2v1m0 26v2m0 38v1m0 32v1m0 8v1m0 57v2m0 9v1m0 23v1m0 34v1m0 47v1m0 66v1m0 12v1"/>
<path class="j48" d="M0 208v1m0 173v1m0 107v1m0 64v1m0 10v2m0 8v1m0 9v1m0 1v1m0 3v1m0 6v1m0 2v1m0 32v1m0 3v1m0 18v3m0 5v2m0 4v1m0 44v1m0 23v1m0 31v1m0 16v2m0 1v1m0 27v1m0 28v4m0 9v1m0 3v1m0 24v1m0 2v1m0 10v1m0 4v1m0 3v1m0 8v1m0 20v1m0 22v1m0 8v1m0 3v1m0 1v1m0 6v1m0 7v1m0 1v1m0 12v1m0 11v1m0 2v1m0 7v1m0 12v1m0 29v1m0 28v1m0 1v1m0 8v1m0 2v1m0 30v1m0 3v2m0 37v1m0 19v1m0 21v1m0 20v1m0 2v1m0 8v1m0 2v2m0 2v1m0 1v1m0 4v2m0 27v3m0 9v1m0 19v1m0 109v1m0 74v1"/>
<path class="j49" d="M0 371v1m0 11v1m0 25v1m0 75v1m0 56v1m0 44v1m0 5v1m0 25v1m0 20v1m0 1v1m0 4v2m0 33v1m0 19v2m0 22v1m0 3v2m0 3v1m0 2v1m0 17v1m0 5v2m0 30v1m0 33v1m0 18v1m0 31v1m0 7v1m0 3v1m0 1v2m0 9v1m0 4v2m0 5v1m0 25v1m0 1v1m0 9v1m0 37v1m0 15v2m0 14v1m0 12v1m0 4v1m0 1v1m0 3v1m0 9v1m0 23v1m0 11v1m0 12v1m0 3v3m0 11v1m0 8v1m0 19v2m0 43v1m0 27v1m0 11v1m0 20v2m0 49v1m0 7v1m0 1v1m0 17v2m0 6v1m0 4v1m0 7v1m0 12v1m0 156v1"/>
<path class="j50" d="M0 463v1m0 44v1m0 1v1m0 10v1m0 35v1m0 19v1m0 25v1m0 16v1m0 68v1m0 42v1m0 1v1m0 7v1m0 7v1m0 1v1m0 8v1m0 12v1m0 25v1m0 11v1m0 3v1m0 28v1m0 13v1m0 10v1m0 1v2m0 14v2m0 17v2m0 16v2m0 19v1m0 8v1m0 6v2m0 1v1m0 16v1m0 31v1m0 3v1m0 10v1m0 5v1m0 5v1m0 22v1m0 12v1m0 2v2m0 1v4m0 6v1m0 29v2m0 46v1m0 3v2m0 9v1m0 25v1m0 13v1m0 1v1m0 3v1m0 17v1m0 13v1m0 11v2m0 113v1m0 14v1"/>
<path class="j51" d="M0 407v1m0 76v1m0 24v1m0 42v1m0 85v1m0 2v1m0 33v1m0 5v1m0 1v2m0 3v1m0 36v1m0 7v1m0 2v1m0 23v1m0 54v1m0 30v1m0 11v1m0 1v1m0 10v1m0 2v2m0 14v1m0 46v2m0 4v1m0 9v1m0 47v1m0 36v1m0 11v1m0 10v1m0 3v1m0 4v1m0 16v1m0 30v1m0 9v3m0 46v2m0 61v1m0 4v1m0 12v1m0 6v1m0 6v2m0 46v1m0 29v1m0 166v1"/>
<path class="j52" d="M0 522v1m0 20v2m0 13v1m0 138v1m0 3v1m0 16v1m0 24v1m0 1v1m0 18v1m0 4v1m0 43v2m0 2v2m0 82v1m0 25v1m0 2v1m0 17v2m0 9v3m0 2v1m0 4v1m0 6v1m0 11v1m0 13v4m0 1v1m0 2v1m0 1v1m0 17v1m0 8v2m0 22v1m0 7v1m0 16v1m0 14v1m0 2v1m0 7v1m0 11v1m0 12v1m0 24v1m0 1v1m0 12v1m0 3v2m0 40v1m0 23v1m0 1v1m0 72v2m0 35v1m0 30v1m0 49v2"/>
<path class="j53" d="M0 680v1m0 12v1m0 4v1m0 22v4m0 12v1m0 13v1m0 7v1m0 7v2m0 30v1m0 27v1m0 48v1m0 26v1m0 43v1m0 26v2m0 13v1m0 7v1m0 8v1m0 55v1m0 3v1m0 33v1m0 26v1m0 10v1m0 26v1m0 42v1m0 8v1m0 26v1m0 9v1m0 96v1m0 41v1"/>
<path class="j54" d="M0 408v1m0 52v1m0 92v1m0 81v1m0 71v1m0 1v1m0 9v1m0 23v1m0 12v1m0 7v1m0 54v1m0 2v1m0 37v1m0 90v1m0 5v1m0 34v1m0 21v1m0 5v1m0 25v1m0 87v1m0 1v1m0 9v1m0 24v1m0 1v1m0 10v1m0 14v1m0 17v1m0 10v1m0 16v1m0 6v1m0 56v1m0 207v1"/>
<path class="j55" d="M0 553v1m0 83v1m0 58v1m0 22v1m0 38v1m0 60v1m0 42v1m0 15v1m0 23v1m0 47v1m0 5v1m0 37v1m0 16v1m0 11v1m0 7v1m0 2v1m0 10v1m0 30v1m0 18v1m0 9v1m0 11v1m0 18v1m0 43v1m0 1v1m0 20v1m0 20v1m0 6v1"/>
<path class="j56" d="M0 679v1m0 86v1m0 110v1m0 117v2m0 54v1m0 15v1m0 1v1m0 2v1m0 16v1m0 2v1m0 11v1m0 68v1m0 28v1m0 6v1m0 9v1m0 2v2m0 28v1m0 2v1"/>
<path class="j57" d="M0 678v1m0 21v1m0 227v1m0 22v1m0 21v1m0 83v1m0 17v1m0 64v1m0 89v1m0 10v1m0 299v2"/>
<path class="j58" d="M0 676v1m0 22v1m0 9v1m0 219v1m0 27v1m0 12v1m0 46v1m0 97v1m0 28v1m0 36v1m0 19v1m0 2v1m0 2v1m0 12v2m0 35v1"/>
<path class="j59" d="M0 462v1m0 553v1m0 5v1m0 23v1m0 21v1m0 4v2m0 41v1m0 126v1m0 3v2m0 7v1"/>
<path class="j60" d="M0 694v1m0 131v1m0 225v1m0 90v1m0 1v1m0 96v1"/>
<path class="j61" d="M0 677v1m0 17v1m0 336v1m0 23v1m0 34v1m0 54v1m0 64v1"/>
<path class="j62" d="M0 972v1m0 60v1m0 56v1m0 8v1"/>
<path class="j63" d="M0 971v1m0 81v3"/>
</g>
<g stroke-width="17" transform="translate(360.5)">
<path class="j33" d="M0 1551v1"/>
<path class="j39" d="M0 1552v1"/>
<path class="j42" d="M0 1550v1"/>
<path class="j43" d="M0 146v1m0 9v1"/>
<path class="j44" d="M0 495v2"/>
<path class="j46" d="M0 137v1m0 7v1m0 9v1"/>
<path class="j47" d="M0 248v2m0 143v1"/>
<path class="j48" d="M0 138v1m0 39v2m0 70v1m0 1146v1"/>
<path class="j49" d="M0 147v1m0 24v1m0 4v1m0 69v1m0 1154v1m0 89v1"/>
<path class="j50" d="M0 246v1m0 14v2m0 1133v1m0 111v1"/>
<path class="j51" d="M0 180v1m0 74v1m0 1235v1m0 1v1m0 44v1"/>
<path class="j52" d="M0 260v1m0 362v1m0 354v2m0 212v2m0 20v1m0 294v1"/>
<path class="j53" d="M0 139v1m0 4v1m0 28v1m0 22v1m0 48v1m0 285v1m0 310v1m0 425v1m0 167v1m0 32v2m0 19v1m0 48v1m0 5v1m0 7v1"/>
<path class="j54" d="M0 117v1m0 11v2m0 9v1m0 1v1m0 14v1m0 9v1m0 13v1m0 72v1m0 1v1m0 2v1m0 37v1m0 543v1m0 561v1m0 71v1m0 13v1m0 17v1m0 36v1"/>
<path class="j55" d="M0 126v2m0 8v1m0 4v1m0 12v1m0 13v1m0 2v1m0 18v1m0 4v1m0 55v1m0 140v1m0 28v1m0 32v1m0 401v1m0 334v1m0 91v1m0 151v1m0 3v2m0 22v1m0 32v1m0 5v1m0 23v1m0 10v1"/>
<path class="j56" d="M0 116v1m0 1v1m0 9v1m0 14v1m0 22v1m0 9v1m0 20v1m0 7v1m0 9v1m0 27v2m0 18v1m0 130v1m0 99v1m0 37v1m0 96v1m0 83v1m0 57v1m0 24v1m0 36v1m0 435v1m0 131v1m0 72v1m0 1v1m0 5v1m0 5v1m0 5v2m0 53v1"/>
<path class="j57" d="M0 125v1m0 56v1m0 8v1m0 12v1m0 6v1m0 14v4m0 12v1m0 10v1m0 3v2m0 238v1m0 63v1m0 62v1m0 3v1m0 85v1m0 140v1m0 357v1m0 184v1m0 38v1m0 11v1m0 21v1m0 9v1m0 43v1m0 1v1"/>
<path class="j58" d="M0 115v1m0 6v2m0 7v1m0 33v1m0 3v2m0 31v2m0 6v1m0 2v2m0 15v4m0 126v1m0 28v1m0 65v1m0 25v1m0 266v1m0 48v1m0 45v1m0 155v1m0 194v1m0 72v1m0 60v2m0 108v1m0 29v1m0 18v1m0 15v1m0 6v1m0 17v1"/>
<path class="j59" d="M0 119v1m0 4v1m0 49v1m0 8v1m0 5v1m0 22v1m0 3v1m0 35v1m0 43v1m0 1v1m0 7v1m0 7v1m0 46v1m0 125v1m0 42v1m0 5v1m0 25v1m0 67v1m0 141v1m0 168v1m0 328v1m0 145v1m0 10v1m0 22v1m0 11v1m0 20v1m0 17v1m0 44v1"/>
<path class="j60" d="M0 121v1m0 10v1m0 2v1m0 17v1m0 4v1m0 5v1m0 10v1m0 10v2m0 13v1m0 4v1m0 14v2m0 2v1m0 8v1m0 70v1m0 7v1m0 166v1m0 56v1m0 242v1m0 115v1m0 43v1m0 219v1m0 27v1m0 1v1m0 7v1m0 83v1m0 1v1m0 96v2m0 12v1m0 19v1m0 15v1m0 32v1m0 19v3m0 10v1m0 8v1m0 7v1m0 5v1m0 3v1m0 15v2"/>
<path class="j61" d="M0 120v1m0 12v2m0 13v1m0 14v1m0 20v2m0 2v1m0 3v1m0 1v1m0 3v1m0 1v1m0 34v1m0 5v1m0 38v2m0 22v1m0 23v1m0 33v1m0 27v2m0 28v1m0 1v1m0 21v2m0 7v1m0 15v1m0 12v1m0 139v1m0 21v2m0 18v1m0 82v1m0 33v1m0 5v1m0 44v1m0 102v1m0 41v1m0 178v4m0 29v1m0 188v1m0 47v1m0 1v1m0 16v1m0 13v1m0 17v1m0 26v2m0 5v3m0 4v2m0 1v3m0 5v1m0 12v1m0 4v1"/>
<path class="j62" d="M0 152v1m0 6v4m0 36v1m0 7v2m0 8v1m0 2v1m0 2v1m0 12v1m0 27v1m0 14v1m0 11v1m0 23v1m0 5v1m0 77v1m0 65v1m0 2v1m0 17v1m0 37v1m0 10v1m0 33v1m0 4v1m0 22v1m0 57v2m0 12v1m0 210v1m0 14v1m0 22v1m0 61v1m0 3v2m0 12v1m0 1v1m0 12v1m0 69v1m0 103v1m0 111v2m0 11v2m0 65v2m0 2v1m0 15v2m0 3v1m0 8v2m0 2v1m0 16v1m0 13v1m0 11v2m0 10v1m0 7v1m0 34v1m0 14v1m0 17v1"/>
<path class="j63" d="M0 151v1m0 41v1m0 15v1m0 8v1m0 5v1m0 12v4m0 25v3m0 3v2m0 4v1m0 11v1m0 16v1m0 4v1m0 14v1m0 70v1m0 44v1m0 2v1m0 57v2m0 19v1m0 7v2m0 3v1m0 34v1m0 24v1m0 64v1m0 1v1m0 120v1m0 1v1m0 65v1m0 26v1m0 37v1m0 14v1m0 33v1m0 34v1m0 23v1m0 8v1m0 47v1m0 47v1m0 22v1m0 5v1m0 6v1m0 46v1m0 111v1m0 2v1m0 23v1m0 22v1m0 34v1m0 9v1m0 7v1m0 1v1m0 8v1m0 2v1m0 1v1m0 11v1m0 14v1m0 26v1m0 16v1m0 13v3m0 2v1m0 6v1"/>
</g>
<g stroke-width="15" transform="translate(376.5)">
</g>
<g stroke-width="13" transform="translate(390.5)">
</g>
<g stroke-width="12" transform="translate(403)">
</g>
<g stroke-width="11" transform="translate(414.5)">
<path class="j60" d="M0 124v1m0 36v1m0 55v1"/>
<path class="j61" d="M0 216v1m0 1v1m0 23v1m0 13v2m0 20v1m0 4v3m0 25v1"/>
<path class="j62" d="M0 219v1m0 55v1m0 34v1m0 62v1"/>
<path class="j63" d="M0 118v1m0 2v1m0 23v2m0 29v1m0 63v1m0 4v1m0 255v1m0 21v2m0 40v1m0 13v2m0 35v2m0 33v2m0 30v1m0 623v2m0 33v1m0 21v1m0 29v1m0 152v1"/>
</g>
<g stroke-width="10" transform="translate(425)">
<path class="j50" d="M0 120v1m0 45v1m0 1v1m0 39v1"/>
<path class="j51" d="M0 167v1m0 41v1"/>
<path class="j52" d="M0 118v1m0 232v1"/>
<path class="j53" d="M0 117v1m0 1v1m0 90v1m0 73v1m0 65v1m0 10v1m0 78v2m0 1v1m0 1082v2m0 23v1"/>
<path class="j54" d="M0 116v1m0 245v1m0 76v1m0 2v1m0 89v1m0 37v1m0 37v1m0 121v3m0 91v2m0 33v1m0 630v2m0 6v1"/>
<path class="j55" d="M0 222v1m0 38v1m0 87v1m0 13v1m0 644v1m0 456v3m0 21v1"/>
<path class="j56" d="M0 174v1m0 32v1m0 31v1m0 7v1m0 12v1m0 746v1m0 58v3m0 347v1"/>
<path class="j57" d="M0 190v1m0 29v1m0 19v1m0 7v2m0 75v1m0 52v1m0 77v1m0 68v1m0 11v1m0 218v1m0 66v1m0 36v1m0 68v1m0 31v1m0 232v1m0 298v2m0 4v1"/>
<path class="j58" d="M0 115v1m0 49v1m0 3v1m0 3v1m0 32v1m0 12v1m0 39v1m0 23v1m0 89v1m0 3v1m0 50v1m0 15v1m0 34v1m0 53v1m0 2v1m0 19v1m0 30v1m0 21v1m0 290v1m0 16v1m0 10v1m0 77v1m0 156v1m0 29v1m0 6v1"/>
<path class="j59" d="M0 143v2m0 36v1m0 7v1m0 8v1m0 6v1m0 11v1m0 5v1m0 14v1m0 2v1m0 43v1m0 9v1m0 15v1m0 14v1m0 100v1m0 29v1m0 22v1m0 45v1m0 8v1m0 21v1m0 28v1m0 20v1m0 90v2m0 75v1m0 151v1m0 364v1m0 122v1m0 37v1m0 38v1m0 7v1m0 49v1"/>
<path class="j60" d="M0 139v2m0 22v1m0 23v1m0 25v2m0 6v1m0 14v1m0 73v1m0 22v1m0 64v1m0 46v2m0 17v1m0 1v1m0 62v1m0 35v1m0 2v2m0 18v1m0 5v1m0 160v1m0 12v1m0 7v1m0 117v1m0 4v1m0 7v1m0 8v1m0 9v1m0 14v1m0 46v2m0 75v1m0 49v2m0 45v1m0 1v1m0 15v1m0 112v1m0 120v1m0 12v1"/>
<path class="j61" d="M0 125v1m0 24v2m0 1v1m0 10v1m0 10v1m0 9v1m0 2v1m0 7v1m0 21v1m0 23v1m0 13v2m0 7v3m0 44v1m0 51v1m0 11v1m0 88v1m0 5v1m0 6v1m0 44v2m0 27v1m0 18v1m0 8v1m0 3v2m0 71v1m0 4v1m0 4v1m0 47v1m0 46v1m0 4v1m0 59v1m0 33v1m0 63v1m0 41v1m0 11v1m0 13v1m0 111v1m0 8v1m0 232v1m0 5v1m0 2v1m0 12v1m0 67v1m0 87v1"/>
<path class="j62" d="M0 124v1m0 6v1m0 16v1m0 23v1m0 3v1m0 1v1m0 5v1m0 1v1m0 4v1m0 3v1m0 1v1m0 18v1m0 8v1m0 20v1m0 4v1m0 6v1m0 10v1m0 17v1m0 8v1m0 16v2m0 16v2m0 96v1m0 17v1m0 4v1m0 2v1m0 11v1m0 2v1m0 4v1m0 7v1m0 3v1m0 8v3m0 1v1m0 11v1m0 17v2m0 34v2m0 11v1m0 1v1m0 38v1m0 11v1m0 30v1m0 4v2m0 84v1m0 5v2m0 4v1m0 10v1m0 50v1m0 58v1m0 5v1m0 12v1m0 11v1m0 16v1m0 2v1m0 35v1m0 15v1m0 3v1m0 55v1m0 27v1m0 1v1m0 100v2m0 16v1m0 105v1m0 64v1m0 31v1m0 136v1m0 6v2"/>
<path class="j63" d="M0 126v1m0 3v1m0 1v1m0 8v2m0 2v1m0 24v1m0 8v2m0 2v1m0 40v1m0 12v1m0 5v1m0 6v1m0 1v1m0 15v1m0 5v1m0 3v1m0 18v1m0 8v1m0 22v1m0 6v1m0 37v1m0 22v1m0 5v1m0 11v1m0 42v1m0 4v1m0 4v1m0 42v1m0 15v1m0 6v1m0 13v1m0 2v1m0 6v1m0 18v1m0 5v1m0 29v1m0 5v1m0 26v1m0 17v1m0 74v1m0 8v1m0 62v1m0 27v2m0 35v1m0 4v1m0 4v1m0 3v1m0 18v1m0 24v1m0 1v1m0 25v1m0 10v1m0 89v2m0 46v1m0 31v1m0 5v1m0 35v1m0 12v1m0 14v2m0 28v1m0 47v1m0 12v1m0 21v1m0 25v1m0 12v1m0 2v1m0 2v1m0 29v1m0 26v1m0 20v1m0 5v1m0 19v1m0 60v1"/>
</g>
<g stroke-width="9" transform="translate(434.5)">
<path class="j44" d="M0 199v2"/>
<path class="j46" d="M0 198v1m0 158v1"/>
<path class="j47" d="M0 452v1"/>
<path class="j48" d="M0 140v1m0 417v1"/>
<path class="j49" d="M0 166v1m0 9v1m0 382v1m0 151v1m0 143v3m0 72v2m0 56v2"/>
<path class="j50" d="M0 147v1m0 17v1m0 29v1m0 162v1m0 73v1m0 17v1m0 109v1m0 371v1m0 54v1m0 19v1m0 3v1"/>
<path class="j51" d="M0 303v2m0 146v1m0 344v1m0 166v1m0 392v2m0 12v1m0 6v2"/>
<path class="j52" d="M0 122v1m0 7v1m0 36v1m0 9v1m0 83v1m0 35v1m0 235v1m0 96v2m0 133v1m0 183v1m0 55v2m0 5v1m0 26v1m0 175v3m0 81v1m0 29v3m0 26v1m0 10v1m0 117v1m0 45v1"/>
<path class="j53" d="M0 123v1m0 12v1m0 2v1m0 31v1m0 3v1m0 18v1m0 1v1m0 6v1m0 9v3m0 46v1m0 64v1m0 14v1m0 16v1m0 7v1m0 181v2m0 81v1m0 13v2m0 64v1m0 141v1m0 62v1m0 44v1m0 63v1m0 244v1m0 29v1m0 77v1m0 106v1m0 30v1m0 7v1m0 8v1m0 18v1"/>
<path class="j54" d="M0 129v1m0 1v1m0 6v1m0 2v1m0 20v1m0 7v1m0 1v1m0 1v1m0 45v1m0 84v1m0 62v1m0 64v1m0 46v1m0 43v1m0 9v1m0 110v1m0 4v1m0 50v1m0 38v1m0 56v1m0 63v1m0 36v1m0 49v1m0 73v1m0 4v1m0 1v1m0 188v1m0 165v1m0 124v3m0 4v1m0 24v2"/>
<path class="j55" d="M0 121v1m0 5v1m0 9v1m0 10v1m0 7v2m0 5v2m0 13v1m0 2v1m0 15v1m0 11v1m0 17v1m0 16v2m0 17v1m0 32v1m0 1v1m0 13v1m0 57v1m0 20v3m0 5v1m0 34v1m0 7v2m0 63v1m0 24v1m0 5v1m0 74v1m0 35v1m0 26v1m0 23v1m0 37v1m0 17v2m0 19v3m0 65v1m0 7v1m0 39v1m0 56v1m0 13v1m0 48v1m0 24v1m0 1v1m0 50v1m0 77v1m0 198v1m0 16v1m0 72v1m0 9v1m0 52v1m0 13v1"/>
<path class="j56" d="M0 124v2m0 9v1m0 13v1m0 8v1m0 42v1m0 15v1m0 3v1m0 3v1m0 11v1m0 18v1m0 58v1m0 1v1m0 10v2m0 13v1m0 16v1m0 29v1m0 3v1m0 5v2m0 59v1m0 19v2m0 46v1m0 49v1m0 22v1m0 45v1m0 90v1m0 18v1m0 7v1m0 28v1m0 2v1m0 1v1m0 37v1m0 62v2m0 1v1m0 47v1m0 77v2m0 135v1m0 10v1m0 40v1m0 80v1m0 16v2m0 52v2m0 10v1m0 75v1m0 9v1m0 12v1m0 2v1m0 16v1m0 12v1m0 8v1"/>
<path class="j57" d="M0 115v1m0 10v1m0 15v2m0 2v1m0 14v1m0 6v2m0 3v1m0 6v1m0 1v1m0 6v1m0 3v1m0 10v1m0 1v2m0 11v1m0 6v1m0 1v1m0 7v1m0 6v1m0 4v1m0 29v1m0 3v1m0 4v1m0 11v1m0 11v1m0 1v1m0 2v1m0 27v1m0 21v1m0 2v1m0 45v2m0 7v1m0 46v1m0 13v1m0 9v1m0 7v1m0 24v1m0 1v1m0 26v1m0 152v1m0 17v1m0 56v1m0 53v1m0 2v1m0 1v1m0 18v1m0 33v1m0 1v1m0 3v1m0 11v2m0 34v1m0 9v1m0 54v1m0 3v1m0 7v1m0 54v1m0 84v1m0 31v1m0 2v2m0 15v1m0 7v2m0 18v1m0 18v1m0 2v1m0 27v1m0 74v1m0 8v1m0 50v1m0 41v1m0 25v1m0 20v1m0 3v1m0 9v1m0 2v2m0 2v1m0 6v1m0 1v1"/>
<path class="j58" d="M0 116v1m0 3v1m0 7v1m0 15v1m0 45v3m0 9v1m0 5v1m0 2v1m0 4v1m0 17v1m0 3v1m0 16v1m0 4v1m0 4v1m0 4v2m0 11v2m0 1v1m0 75v1m0 8v1m0 42v1m0 8v1m0 1v1m0 34v1m0 9v1m0 1v1m0 11v1m0 9v1m0 1v1m0 7v1m0 26v1m0 3v1m0 3v1m0 74v1m0 12v1m0 15v1m0 49v1m0 26v1m0 34v1m0 11v1m0 31v1m0 58v1m0 3v1m0 1v1m0 5v1m0 89v1m0 56v3m0 66v1m0 3v1m0 106v1m0 3v1m0 3v1m0 21v1m0 4v1m0 16v2m0 82v1m0 89v1m0 15v1m0 36v1m0 43v1m0 16v1m0 6v1m0 6v1"/>
<path class="j59" d="M0 133v1m0 26v1m0 18v1m0 8v1m0 16v1m0 6v1m0 5v1m0 11v1m0 4v1m0 3v2m0 8v2m0 6v3m0 4v1m0 1v1m0 7v4m0 2v2m0 3v1m0 9v1m0 13v2m0 3v1m0 30v2m0 14v1m0 17v2m0 14v1m0 9v2m0 24v1m0 5v1m0 15v1m0 5v1m0 2v3m0 11v1m0 16v1m0 3v1m0 3v1m0 4v1m0 1v1m0 7v2m0 1v2m0 1v2m0 13v1m0 3v1m0 6v1m0 14v1m0 8v1m0 7v1m0 5v1m0 1v1m0 6v1m0 46v1m0 1v1m0 6v1m0 2v1m0 11v1m0 5v1m0 2v1m0 1v1m0 9v3m0 23v1m0 8v1m0 4v1m0 1v1m0 44v1m0 9v1m0 52v1m0 2v1m0 2v1m0 8v1m0 14v1m0 24v1m0 7v1m0 4v1m0 3v1m0 3v1m0 60v1m0 40v1m0 5v1m0 36v1m0 25v1m0 2v1m0 40v1m0 66v2m0 5v1m0 107v1m0 8v1m0 61v1m0 40v1m0 2v1m0 57v1m0 54v1m0 9v2"/>
<path class="j60" d="M0 132v1m0 1v1m0 10v1m0 4v3m0 2v1m0 3v1m0 24v2m0 1v1m0 22v1m0 13v1m0 4v1m0 2v1m0 8v2m0 3v2m0 3v1m0 16v2m0 2v1m0 21v1m0 23v1m0 1v4m0 2v1m0 29v1m0 8v1m0 9v2m0 1v1m0 3v1m0 19v1m0 4v1m0 1v1m0 7v3m0 21v1m0 36v1m0 4v1m0 18v1m0 6v1m0 11v1m0 29v1m0 3v1m0 5v2m0 22v1m0 3v1m0 6v1m0 4v1m0 10v1m0 6v1m0 6v1m0 1v1m0 28v2m0 1v1m0 6v1m0 22v1m0 3v1m0 2v1m0 1v1m0 8v1m0 8v1m0 3v1m0 1v1m0 8v2m0 11v1m0 8v1m0 21v1m0 11v1m0 15v3m0 14v1m0 19v1m0 24v1m0 27v1m0 70v1m0 3v2m0 2v1m0 20v1m0 1v1m0 35v1m0 52v1m0 63v1m0 10v1m0 3v3m0 27v1m0 46v1m0 27v1m0 62v1m0 1v2m0 1v1m0 42v1m0 35v2m0 12v1m0 36v1m0 29v1m0 7v1m0 12v2"/>
<path class="j61" d="M0 117v3m0 33v1m0 29v1m0 2v1m0 35v2m0 7v1m0 1v1m0 33v1m0 5v1m0 5v1m0 11v3m0 6v1m0 1v1m0 16v1m0 4v1m0 27v1m0 10v2m0 7v3m0 6v1m0 1v1m0 14v1m0 4v2m0 3v1m0 17v1m0 2v2m0 5v1m0 17v1m0 18v1m0 1v1m0 1v1m0 1v1m0 9v4m0 5v3m0 4v1m0 12v1m0 21v1m0 1v1m0 21v3m0 14v2m0 4v1m0 6v1m0 3v1m0 4v1m0 16v1m0 4v1m0 3v1m0 22v1m0 2v1m0 5v2m0 17v1m0 11v1m0 2v1m0 2v1m0 10v1m0 9v1m0 4v1m0 6v1m0 12v1m0 8v1m0 29v1m0 17v2m0 21v1m0 2v4m0 15v1m0 12v2m0 4v1m0 3v1m0 1v1m0 19v1m0 22v1m0 6v1m0 50v1m0 7v1m0 14v1m0 8v1m0 3v1m0 5v1m0 8v1m0 33v1m0 1v1m0 5v1m0 3v1m0 107v1m0 20v2m0 6v2m0 22v1m0 8v1m0 28v1m0 25v1m0 2v1m0 9v1m0 28v1m0 7v1m0 17v1m0 29v1m0 25v1m0 7v1m0 5v1m0 2v4m0 1v1m0 8v1m0 5v1m0 4v1m0 16v1m0 6v1m0 13v1m0 4v1m0 28v1m0 12v1"/>
<path class="j62" d="M0 154v1m0 97v3m0 33v3m0 10v1m0 4v1m0 1v1m0 16v1m0 14v2m0 9v1m0 37v1m0 20v1m0 1v1m0 7v1m0 6v2m0 6v1m0 11v3m0 5v1m0 9v2m0 1v2m0 55v1m0 30v1m0 14v1m0 25v1m0 1v2m0 15v3m0 5v1m0 28v1m0 2v1m0 2v1m0 5v1m0 5v1m0 7v1m0 1v1m0 9v1m0 10v1m0 4v1m0 8v1m0 1v1m0 6v2m0 3v1m0 3v1m0 11v1m0 3v1m0 10v1m0 2v1m0 4v2m0 2v1m0 1v1m0 4v1m0 5v1m0 2v1m0 13v1m0 15v1m0 2v2m0 44v1m0 3v1m0 2v1m0 19v2m0 11v1m0 1v3m0 5v1m0 3v2m0 29v1m0 21v2m0 1v2m0 1v2m0 10v1m0 9v1m0 5v2m0 22v2m0 15v1m0 9v1m0 5v1m0 1v1m0 11v1m0 44v1m0 8v2m0 5v2m0 27v1m0 11v1m0 1v1m0 46v1m0 8v1m0 25v1m0 20v1m0 1v1m0 21v1m0 1v1m0 49v2m0 33v1m0 3v1m0 12v1m0 8v1m0 2v1m0 1v1m0 4v1m0 8v1m0 7v1m0 22v1m0 21v1m0 3v1m0 3v1m0 18v1m0 3v1m0 3v1m0 14v2"/>
<path class="j63" d="M0 307v1m0 22v1m0 2v7m0 7v1m0 2v1m0 2v3m0 21v1m0 6v2m0 2v1m0 22v1m0 1v1m0 7v2m0 44v1m0 6v1m0 61v1m0 10v1m0 6v1m0 15v1m0 2v1m0 3v2m0 4v1m0 6v1m0 13v1m0 10v1m0 19v1m0 27v2m0 3v1m0 1v1m0 2v1m0 4v1m0 3v1m0 3v1m0 9v1m0 6v2m0 10v1m0 52v1m0 2v2m0 8v2m0 4v1m0 32v1m0 4v2m0 20v1m0 28v1m0 10v1m0 1v1m0 17v1m0 49v2m0 12v1m0 25v1m0 4v1m0 21v2m0 25v3m0 7v1m0 5v1m0 8v1m0 11v2m0 22v1m0 2v1m0 1v3m0 7v1m0 1v1m0 6v1m0 11v1m0 1v2m0 4v4m0 2v2m0 12v1m0 4v1m0 1v1m0 24v1m0 56v1m0 6v2m0 14v1m0 7v1m0 11v1m0 3v1m0 32v1m0 6v1m0 8v1m0 26v1m0 10v2m0 12v2m0 16v1m0 9v2m0 1v1m0 9v1m0 23v1m0 9v3m0 8v1m0 12v1m0 15v1"/>
</g>
<g stroke-width="8" transform="translate(443)">
<path class="j35" d="M0 116v2"/>
<path class="j38" d="M0 118v1"/>
<path class="j39" d="M0 137v1m0 39v1m0 123v1m0 137v1m0 1093v1"/>
<path class="j40" d="M0 176v1m0 66v2m0 55v1m0 86v1m0 177v1"/>
<path class="j41" d="M0 161v1m0 48v1m0 9v1m0 6v1m0 14v1m0 47v1m0 8v1m0 88v1m0 18v1m0 156v1m0 30v1m0 17v1m0 54v3m0 27v1m0 32v3m0 63v2m0 21v1m0 119v1m0 2v1m0 63v1m0 526v1"/>
<path class="j42" d="M0 120v1m0 32v1m0 37v2m0 11v2m0 3v1m0 16v1m0 83v1m0 388v1m0 117v1m0 21v1m0 86v1m0 461v1m0 143v1m0 6v1"/>
<path class="j43" d="M0 152v1m0 25v1m0 39v1m0 6v1m0 54v1m0 53v1m0 30v2m0 19v1m0 72v1m0 133v1m0 17v1m0 84v1m0 3v1m0 21v1m0 221v1m0 63v2m0 21v1m0 190v1m0 32v1m0 48v2m0 79v1"/>
<path class="j44" d="M0 138v1m0 23v1m0 17v2m0 37v1m0 8v1m0 47v1m0 31v2m0 22v2m0 75v1m0 28v1m0 12v1m0 6v1m0 115v1m0 19v1m0 17v1m0 34v1m0 168v1m0 1v1m0 2v1m0 105v1m0 104v1m0 496v1m0 10v1"/>
<path class="j45" d="M0 119v1m0 8v1m0 5v1m0 19v1m0 28v1m0 14v1m0 12v1m0 9v1m0 2v1m0 4v1m0 45v1m0 15v1m0 116v1m0 10v2m0 29v1m0 52v1m0 144v1m0 170v1m0 3v1m0 121v2m0 359v1m0 28v1m0 50v2m0 137v1m0 4v1m0 7v1"/>
<path class="j46" d="M0 129v2m0 2v1m0 5v1m0 23v1m0 29v1m0 9v1m0 4v1m0 14v1m0 10v1m0 46v1m0 77v1m0 7v1m0 54v1m0 26v1m0 10v1m0 15v1m0 19v1m0 18v1m0 47v1m0 133v1m0 18v3m0 4v1m0 23v1m0 21v1m0 52v1m0 33v1m0 176v1m0 219v2m0 79v1m0 1v1m0 52v1m0 22v2"/>
<path class="j47" d="M0 115v1m0 5v1m0 24v1m0 12v2m0 5v1m0 7v1m0 4v1m0 4v1m0 32v1m0 4v1m0 8v1m0 1v1m0 1v1m0 23v1m0 18v2m0 3v1m0 8v1m0 42v1m0 16v1m0 68v1m0 22v1m0 32v1m0 26v2m0 11v1m0 55v1m0 75v1m0 88v1m0 60v1m0 2v1m0 47v1m0 4v1m0 1v2m0 69v1m0 10v1m0 35v2m0 44v1m0 64v1m0 28v1m0 40v1m0 63v1m0 211v1m0 21v1m0 98v1"/>
<path class="j48" d="M0 135v1m0 11v1m0 17v1m0 9v1m0 6v1m0 5v1m0 8v1m0 1v2m0 5v2m0 22v1m0 8v1m0 18v1m0 13v1m0 4v1m0 4v1m0 6v1m0 46v1m0 24v1m0 10v2m0 49v1m0 3v1m0 15v1m0 58v1m0 13v1m0 67v2m0 6v1m0 33v1m0 61v1m0 18v1m0 4v1m0 11v1m0 9v1m0 6v1m0 4v1m0 13v1m0 29v1m0 13v1m0 43v1m0 13v1m0 12v1m0 31v1m0 5v1m0 3v1m0 43v1m0 22v2m0 38v1m0 30v1m0 1v1m0 27v1m0 1v1m0 6v1m0 21v1m0 38v1m0 65v1m0 10v1m0 5v1m0 30v1m0 100v1m0 148v1m0 3v2"/>
<path class="j49" d="M0 132v1m0 3v1m0 11v1m0 9v1m0 14v1m0 27v1m0 14v1m0 15v1m0 24v1m0 2v1m0 5v1m0 6v1m0 10v1m0 12v1m0 15v1m0 14v1m0 24v1m0 1v1m0 4v1m0 76v1m0 7v1m0 32v1m0 16v1m0 34v3m0 37v2m0 65v1m0 49v1m0 20v1m0 2v1m0 23v1m0 4v1m0 1v1m0 24v1m0 2v1m0 15v1m0 14v1m0 1v1m0 1v1m0 9v1m0 22v1m0 22v1m0 10v1m0 39v1m0 5v1m0 22v2m0 10v1m0 20v1m0 47v1m0 19v1m0 20v1m0 41v1m0 48v1m0 32v1m0 19v1m0 25v1m0 43v1m0 47v1m0 67v1m0 11v1m0 8v1m0 25v2m0 8v1m0 2v1m0 63v1m0 13v1"/>
<path class="j50" d="M0 123v2m0 2v1m0 3v1m0 10v1m0 8v1m0 12v1m0 5v1m0 15v2m0 50v1m0 1v2m0 4v1m0 2v2m0 10v1m0 12v1m0 10v1m0 12v1m0 5v1m0 9v1m0 8v1m0 3v1m0 9v2m0 2v1m0 1v1m0 4v1m0 2v1m0 24v1m0 8v1m0 4v1m0 1v1m0 21v1m0 70v1m0 4v1m0 10v1m0 7v1m0 1v1m0 60v1m0 34v1m0 33v1m0 34v1m0 9v1m0 22v1m0 9v3m0 17v1m0 19v1m0 29v1m0 22v1m0 23v2m0 3v1m0 7v1m0 4v1m0 11v1m0 71v1m0 16v1m0 27v1m0 39v1m0 6v1m0 25v1m0 7v1m0 23v1m0 6v1m0 13v2m0 21v1m0 47v2m0 1v1m0 47v1m0 2v1m0 4v1m0 16v1m0 1v1m0 3v1m0 5v1m0 11v1m0 17v2m0 27v1m0 30v1m0 31v1m0 6v1m0 19v1m0 64v2m0 22v1m0 11v1"/>
<path class="j51" d="M0 125v2m0 18v1m0 4v1m0 6v1m0 13v1m0 13v1m0 3v2m0 11v1m0 10v3m0 29v1m0 1v2m0 7v1m0 8v1m0 3v3m0 16v1m0 13v1m0 2v3m0 16v2m0 3v1m0 9v2m0 13v1m0 3v1m0 3v1m0 12v1m0 8v1m0 4v1m0 23v1m0 1v1m0 1v1m0 6v1m0 28v1m0 35v1m0 4v1m0 44v3m0 16v1m0 16v2m0 24v1m0 3v1m0 12v1m0 8v2m0 6v2m0 1v2m0 2v2m0 7v1m0 3v1m0 9v1m0 9v1m0 13v1m0 5v1m0 41v1m0 10v1m0 1v1m0 30v1m0 3v1m0 5v3m0 46v1m0 3v1m0 14v1m0 7v1m0 5v1m0 2v1m0 28v1m0 48v1m0 4v2m0 36v1m0 31v1m0 11v1m0 19v1m0 3v1m0 40v1m0 10v1m0 64v1m0 3v1m0 3v2m0 12v1m0 7v2m0 37v1m0 26v1m0 3v1m0 43v1m0 44v1m0 4v2m0 20v1m0 40v1m0 9v1m0 6v1m0 5v1m0 18v1m0 25v1m0 5v2m0 1v1m0 27v1"/>
<path class="j52" d="M0 122v1m0 18v1m0 1v2m0 11v1m0 12v1m0 2v1m0 21v1m0 17v1m0 23v2m0 13v3m0 10v1m0 22v1m0 5v1m0 2v1m0 6v1m0 7v2m0 13v1m0 3v1m0 11v1m0 13v1m0 7v1m0 16v2m0 8v1m0 2v1m0 2v1m0 1v1m0 10v1m0 5v1m0 1v1m0 7v1m0 1v1m0 23v1m0 15v2m0 10v1m0 29v1m0 13v1m0 12v1m0 21v1m0 9v1m0 30v1m0 5v1m0 15v1m0 7v1m0 19v1m0 3v1m0 4v1m0 6v2m0 42v1m0 4v1m0 38v1m0 3v1m0 9v1m0 6v1m0 3v2m0 7v1m0 5v2m0 4v1m0 5v1m0 6v1m0 28v1m0 17v1m0 10v1m0 2v1m0 2v1m0 28v1m0 28v1m0 36v2m0 46v1m0 19v1m0 21v1m0 3v2m0 34v1m0 19v1m0 56v1m0 4v2m0 6v1m0 18v1m0 88v1m0 48v1m0 1v1m0 2v2m0 35v2m0 11v1m0 10v1m0 32v1m0 12v1m0 12v2m0 39v1m0 12v1m0 17v1"/>
<path class="j53" d="M0 140v1m0 8v1m0 5v1m0 11v2m0 26v2m0 57v2m0 6v2m0 3v2m0 17v1m0 28v1m0 33v2m0 12v1m0 5v1m0 4v1m0 5v1m0 12v1m0 2v1m0 1v1m0 12v2m0 21v1m0 19v1m0 12v1m0 11v1m0 1v1m0 4v3m0 11v1m0 7v1m0 16v1m0 12v1m0 18v1m0 19v1m0 1v3m0 4v1m0 4v1m0 18v1m0 18v1m0 3v2m0 5v1m0 5v1m0 9v3m0 15v1m0 3v2m0 3v2m0 5v2m0 22v1m0 21v1m0 12v1m0 2v2m0 9v1m0 10v1m0 2v1m0 9v1m0 23v1m0 16v2m0 3v1m0 17v1m0 29v2m0 3v1m0 9v1m0 39v1m0 15v1m0 5v1m0 12v1m0 17v1m0 6v1m0 8v2m0 9v1m0 56v1m0 6v1m0 10v1m0 4v1m0 3v2m0 2v1m0 20v2m0 24v3m0 8v1m0 39v1m0 2v2m0 22v1m0 10v1m0 5v1m0 5v1m0 4v1m0 5v2m0 5v1m0 8v1m0 21v1m0 1v1m0 5v1m0 14v1m0 7v1m0 6v1m0 10v1m0 2v1m0 5v1m0 15v1m0 2v1m0 39v1m0 12v1m0 4v1m0 6v2m0 10v1m0 1v4m0 7v1m0 9v1m0 5v1m0 17v2m0 22v1m0 18v1m0 1v2"/>
<path class="j54" d="M0 294v2m0 20v1m0 3v1m0 1v1m0 24v1m0 9v1m0 10v1m0 2v1m0 11v1m0 11v1m0 4v1m0 34v1m0 4v1m0 7v1m0 12v1m0 44v2m0 4v2m0 4v1m0 7v1m0 6v1m0 2v1m0 9v1m0 3v1m0 10v1m0 16v1m0 3v1m0 16v1m0 3v1m0 13v1m0 1v1m0 3v1m0 7v2m0 12v1m0 6v1m0 24v1m0 2v2m0 3v1m0 6v1m0 10v1m0 47v1m0 9v1m0 14v1m0 1v1m0 30v2m0 3v1m0 20v1m0 7v1m0 1v1m0 6v1m0 16v2m0 13v2m0 9v1m0 18v1m0 4v1m0 31v1m0 14v2m0 9v1m0 26v1m0 12v3m0 5v1m0 23v1m0 18v1m0 10v1m0 9v2m0 20v1m0 1v2m0 6v1m0 1v2m0 5v2m0 15v1m0 15v1m0 24v2m0 13v1m0 26v1m0 12v1m0 21v1m0 15v1m0 7v1m0 12v1m0 4v1m0 13v1m0 9v1m0 10v1m0 13v2m0 16v1m0 26v1m0 14v1m0 13v1m0 2v1m0 3v2m0 3v1m0 9v1m0 16v2m0 6v1m0 7v1m0 11v1m0 6v2m0 6v1m0 14v1m0 15v1"/>
<path class="j55" d="M0 317v3m0 1v1m0 9v1m0 38v1m0 33v3m0 18v1m0 3v3m0 4v1m0 5v1m0 4v1m0 7v3m0 15v3m0 38v1m0 4v2m0 2v1m0 10v1m0 9v2m0 1v1m0 1v1m0 1v3m0 1v1m0 4v1m0 1v1m0 3v3m0 21v1m0 11v1m0 5v2m0 34v1m0 8v1m0 6v2m0 20v1m0 10v2m0 6v2m0 3v1m0 6v1m0 16v1m0 26v1m0 4v1m0 8v1m0 1v1m0 22v1m0 10v1m0 45v1m0 14v1m0 14v1m0 5v1m0 9v1m0 8v1m0 2v1m0 3v2m0 4v1m0 27v2m0 14v1m0 24v1m0 4v1m0 7v1m0 8v1m0 13v1m0 7v1m0 18v1m0 20v1m0 6v1m0 10v2m0 9v1m0 41v1m0 32v1m0 14v1m0 14v1m0 50v1m0 26v1m0 21v1m0 7v2m0 12v1m0 2v1m0 4v1m0 1v1m0 11v1m0 20v1m0 25v2m0 6v1m0 3v1m0 7v2m0 6v1m0 18v1m0 24v1m0 1v1m0 2v1m0 9v1m0 2v2m0 5v1m0 1v1m0 1v2m0 6v2m0 39v1m0 2v1"/>
<path class="j56" d="M0 344v3m0 30v3m0 21v1m0 30v2m0 7v1m0 4v1m0 15v1m0 20v2m0 6v3m0 3v1m0 1v1m0 43v1m0 4v1m0 5v1m0 28v1m0 4v1m0 15v1m0 123v2m0 25v1m0 69v1m0 1v1m0 2v1m0 1v1m0 1v1m0 30v1m0 12v2m0 7v2m0 8v2m0 2v1m0 18v1m0 4v1m0 8v1m0 2v1m0 9v2m0 7v2m0 4v1m0 38v2m0 7v2m0 15v2m0 7v1m0 6v2m0 5v3m0 1v1m0 14v1m0 5v2m0 20v1m0 9v2m0 39v1m0 1v1m0 14v1m0 28v1m0 4v3m0 23v1m0 11v1m0 6v1m0 5v1m0 15v2m0 19v1m0 2v1m0 32v1m0 4v2m0 11v1m0 30v1m0 29v2m0 4v1m0 1v1m0 13v3m0 1v1m0 18v1m0 3v1m0 13v1m0 13v1m0 7v2m0 10v1m0 10v2m0 10v1m0 12v3m0 3v2"/>
<path class="j57" d="M0 402v2m0 59v1m0 6v2m0 10v1m0 15v1m0 22v1m0 6v1m0 6v1m0 6v1m0 44v1m0 1v1m0 6v3m0 22v1m0 3v1m0 78v1m0 21v2m0 16v1m0 11v1m0 7v1m0 1v1m0 5v1m0 35v1m0 15v1m0 1v1m0 19v1m0 16v2m0 15v1m0 10v1m0 1v2m0 5v1m0 2v2m0 4v1m0 12v1m0 10v1m0 29v1m0 4v1m0 9v2m0 8v1m0 2v1m0 6v1m0 15v1m0 20v1m0 41v1m0 20v1m0 13v1m0 5v3m0 6v2m0 7v1m0 3v2m0 19v1m0 2v1m0 33v1m0 10v2m0 3v2m0 10v1m0 9v1m0 5v1m0 2v1m0 2v2m0 10v2m0 10v1m0 3v1m0 11v1m0 2v1m0 18v1m0 9v1m0 1v1m0 14v1m0 5v1m0 2v2m0 17v1m0 40v1m0 22v1m0 4v2m0 9v1m0 17v2m0 2v1m0 4v1m0 18v4m0 25v2m0 28v2"/>
<path class="j58" d="M0 464v3m0 5v1m0 49v1m0 4v1m0 1v1m0 26v1m0 63v1m0 3v1m0 37v3m0 6v3m0 31v1m0 37v1m0 87v1m0 15v1m0 42v1m0 1v1m0 9v1m0 7v1m0 13v1m0 7v1m0 31v1m0 4v2m0 10v2m0 4v1m0 11v2m0 12v1m0 1v1m0 21v3m0 5v1m0 25v1m0 6v1m0 20v1m0 29v1m0 3v1m0 1v1m0 1v1m0 4v1m0 3v1m0 2v1m0 7v2m0 10v1m0 3v2m0 20v1m0 27v2m0 2v2m0 6v1m0 11v1m0 27v1m0 7v1m0 27v1m0 36v1m0 11v2m0 2v1m0 1v1m0 2v1m0 10v2m0 27v1m0 56v1m0 13v1m0 14v1"/>
<path class="j59" d="M0 614v3m0 108v1m0 19v1m0 19v1m0 16v3m0 138v1m0 5v3m0 48v1m0 5v1m0 5v3m0 51v3m0 21v1m0 1v1m0 9v3m0 53v2m0 3v2m0 14v2m0 9v1m0 1v1m0 24v1m0 18v1m0 1v1m0 22v1m0 29v1m0 1v2m0 19v1m0 17v1m0 5v2m0 24v2m0 16v2m0 3v2m0 10v1m0 2v3m0 9v3m0 24v3"/>
<path class="j60" d="M0 1058v3m0 73v1m0 31v3m0 2v1m0 4v2m0 18v1m0 20v1m0 1v1m0 64v1m0 7v2m0 1v3m0 15v3"/>
<path class="j61" d="M0 1175v1m0 109v1"/>
</g>
<g stroke-width="8" transform="translate(451)">
<path class="j30" d="M0 222v1m0 10v1"/>
<path class="j31" d="M0 190v1m0 135v1m0 13v4m0 10v2"/>
<path class="j32" d="M0 191v1m0 126v1m0 25v1m0 130v2m0 1020v3m0 37v1"/>
<path class="j33" d="M0 325v1m0 30v1m0 219v1m0 1v1m0 24v2m0 31v1m0 302v1m0 534v2"/>
<path class="j34" d="M0 151v1m0 3v1m0 33v1m0 64v1m0 23v1m0 164v1m0 30v1m0 90v2m0 10v1m0 205v1m0 104v1m0 185v2m0 358v1m0 46v1"/>
<path class="j35" d="M0 115v1m0 59v1m0 47v1m0 10v1m0 82v1m0 19v1m0 52v1m0 15v1m0 157v1m0 161v1m0 162v1m0 297v1m0 114v3m0 131v1m0 43v1m0 55v1"/>
<path class="j36" d="M0 150v1m0 1v1m0 1v1m0 56v1m0 9v1m0 9v2m0 66v1m0 4v1m0 34v1m0 104v1m0 187v1m0 4v1m0 48v1m0 30v1m0 9v1m0 132v1m0 79v1m0 12v1m0 90v1m0 390v1"/>
<path class="j37" d="M0 129v1m0 82v1m0 106v2m0 15v1m0 35v1m0 18v1m0 5v2m0 42v1m0 29v1m0 62v2m0 182v2m0 8v1m0 34v1m0 18v1m0 1v1m0 23v1m0 377v1m0 156v1m0 26v1m0 47v1m0 54v1m0 5v1m0 16v1m0 21v1"/>
<path class="j38" d="M0 130v2m0 42v1m0 1v1m0 1v1m0 48v1m0 2v1m0 45v2m0 17v1m0 28v1m0 13v1m0 13v1m0 52v1m0 1v1m0 38v1m0 181v1m0 33v1m0 127v2m0 67v1m0 30v1m0 50v1m0 56v1m0 20v1m0 25v1m0 10v1m0 9v1m0 118v1m0 23v1m0 328v1"/>
<path class="j39" d="M0 116v1m0 18v2m0 8v1m0 7v1m0 11v1m0 58v1m0 25v1m0 18v1m0 28v1m0 17v1m0 34v1m0 8v1m0 2v2m0 8v1m0 37v1m0 30v1m0 42v1m0 15v1m0 2v1m0 96v1m0 36v1m0 45v2m0 39v1m0 36v1m0 26v1m0 17v1m0 18v1m0 100v1m0 24v1m0 65v1m0 27v1m0 43v1m0 119v1m0 23v1m0 62v1m0 77v2m0 31v1m0 73v1m0 27v1m0 12v1"/>
<path class="j40" d="M0 146v1m0 40v2m0 30v1m0 9v1m0 5v2m0 12v1m0 46v1m0 6v1m0 11v1m0 15v1m0 51v1m0 12v1m0 35v1m0 12v1m0 2v1m0 11v1m0 2v1m0 15v1m0 4v1m0 34v1m0 16v1m0 11v1m0 10v2m0 44v1m0 55v1m0 90v1m0 17v1m0 14v1m0 13v1m0 17v1m0 99v1m0 10v2m0 21v1m0 21v1m0 23v1m0 78v1m0 14v1m0 160v2m0 83v1m0 3v2m0 26v1m0 20v1m0 25v1m0 77v1m0 14v1m0 9v1m0 2v1m0 8v2"/>
<path class="j41" d="M0 177v1m0 1v1m0 16v1m0 21v1m0 9v1m0 52v1m0 4v1m0 7v1m0 2v1m0 7v1m0 2v1m0 21v1m0 1v1m0 15v1m0 12v1m0 14v1m0 3v1m0 11v1m0 40v1m0 13v1m0 11v1m0 1v1m0 2v1m0 5v1m0 6v2m0 4v1m0 19v1m0 16v1m0 5v1m0 22v1m0 50v1m0 1v1m0 24v1m0 59v1m0 63v1m0 17v1m0 30v1m0 24v1m0 89v1m0 33v1m0 15v1m0 6v1m0 84v1m0 9v1m0 83v1m0 81v1m0 39v1m0 221v1m0 4v3m0 8v1"/>
<path class="j42" d="M0 134v1m0 2v1m0 3v1m0 2v1m0 28v1m0 12v1m0 23v1m0 9v1m0 32v1m0 1v1m0 12v1m0 10v1m0 26v2m0 41v2m0 2v1m0 25v1m0 2v1m0 17v2m0 10v1m0 36v2m0 11v1m0 34v1m0 23v1m0 36v1m0 13v1m0 6v1m0 15v1m0 20v1m0 8v2m0 2v1m0 27v1m0 38v1m0 8v1m0 51v1m0 6v1m0 46v1m0 6v1m0 8v1m0 30v1m0 14v1m0 38v3m0 1v1m0 89v2m0 9v1m0 16v1m0 8v1m0 4v1m0 6v1m0 6v1m0 46v1m0 25v1m0 52v1m0 40v1m0 18v1m0 23v1m0 23v1m0 1v1m0 75v1m0 28v1m0 5v1m0 5v1m0 1v1m0 33v1m0 24v1m0 1v1m0 4v1m0 37v1m0 11v3"/>
<path class="j43" d="M0 133v1m0 6v1m0 21v1m0 1v1m0 1v2m0 4v1m0 22v1m0 1v1m0 4v2m0 33v1m0 13v1m0 15v1m0 2v1m0 1v1m0 14v1m0 77v1m0 8v2m0 5v1m0 17v1m0 34v1m0 2v1m0 34v1m0 29v1m0 5v2m0 17v1m0 9v2m0 11v1m0 43v1m0 29v1m0 72v1m0 52v1m0 17v1m0 12v1m0 5v1m0 10v1m0 10v1m0 6v1m0 26v2m0 93v1m0 7v1m0 17v1m0 5v1m0 3v1m0 14v1m0 6v1m0 2v1m0 5v1m0 26v1m0 32v1m0 23v1m0 18v1m0 16v1m0 5v1m0 18v1m0 28v1m0 28v1m0 42v1m0 2v1m0 21v1m0 59v1m0 24v1m0 16v2m0 9v1m0 17v1m0 23v3m0 43v1m0 26v1m0 15v1m0 3v1m0 1v1m0 3v1m0 14v1m0 6v2"/>
<path class="j44" d="M0 128v1m0 3v1m0 6v1m0 2v1m0 49v1m0 21v1m0 1v2m0 7v2m0 25v1m0 18v1m0 13v1m0 2v2m0 33v1m0 3v1m0 5v1m0 28v1m0 4v1m0 1v3m0 13v1m0 8v1m0 41v1m0 1v1m0 12v1m0 16v1m0 4v1m0 22v1m0 8v1m0 19v1m0 7v1m0 17v1m0 5v1m0 13v1m0 3v1m0 10v1m0 28v1m0 1v1m0 13v1m0 26v1m0 1v1m0 5v3m0 20v1m0 11v1m0 18v1m0 3v1m0 14v1m0 6v1m0 9v1m0 1v1m0 53v1m0 32v1m0 3v1m0 14v1m0 29v1m0 12v2m0 28v1m0 7v1m0 1v2m0 5v1m0 8v1m0 7v1m0 7v1m0 20v1m0 11v2m0 28v1m0 7v1m0 3v1m0 3v1m0 34v2m0 10v1m0 16v1m0 4v1m0 10v1m0 41v1m0 3v1m0 4v1m0 59v1m0 6v1m0 17v1m0 12v1m0 2v1m0 44v1m0 15v2m0 6v1m0 2v1m0 1v1m0 3v1m0 8v1m0 13v1m0 18v1m0 1v1m0 42v3m0 47v1m0 6v1m0 4v1m0 29v1m0 3v1"/>
<path class="j45" d="M0 120v1m0 1v3m0 2v1m0 10v1m0 22v1m0 1v1m0 7v1m0 8v2m0 2v2m0 15v1m0 2v1m0 8v1m0 1v1m0 22v2m0 6v1m0 9v1m0 4v2m0 17v1m0 30v1m0 10v1m0 5v1m0 37v1m0 1v1m0 8v1m0 6v1m0 10v1m0 8v1m0 8v1m0 25v1m0 12v1m0 13v2m0 1v1m0 37v1m0 44v1m0 3v1m0 4v1m0 1v1m0 23v1m0 22v2m0 18v1m0 14v1m0 42v1m0 9v1m0 1v1m0 20v1m0 1v1m0 14v1m0 41v1m0 7v1m0 8v1m0 41v1m0 6v1m0 32v1m0 12v1m0 16v2m0 25v1m0 6v1m0 25v1m0 11v3m0 19v1m0 21v1m0 7v1m0 15v1m0 1v1m0 1v1m0 5v1m0 3v2m0 35v1m0 3v1m0 10v1m0 7v2m0 14v3m0 39v1m0 10v1m0 14v1m0 3v1m0 12v1m0 10v1m0 39v1m0 1v1m0 10v2m0 39v1m0 8v1m0 21v1m0 2v1m0 1v1m0 36v1m0 8v1m0 40v1m0 10v2m0 19v1m0 40v1m0 1v3m0 16v1"/>
<path class="j46" d="M0 117v3m0 1v1m0 3v2m0 16v1m0 24v2m0 12v2m0 9v1m0 4v3m0 4v1m0 2v1m0 31v1m0 2v3m0 11v1m0 7v1m0 16v2m0 6v4m0 15v2m0 10v1m0 7v1m0 4v2m0 9v3m0 30v1m0 23v2m0 22v3m0 1v1m0 9v1m0 13v1m0 10v1m0 27v1m0 1v1m0 10v1m0 3v2m0 2v1m0 3v1m0 13v1m0 8v2m0 4v1m0 5v1m0 27v1m0 8v1m0 30v1m0 24v1m0 12v1m0 4v2m0 9v2m0 2v2m0 11v1m0 13v1m0 30v1m0 2v1m0 4v1m0 8v2m0 30v1m0 5v1m0 3v1m0 13v1m0 27v1m0 3v1m0 4v1m0 2v2m0 41v1m0 1v1m0 6v1m0 3v1m0 11v1m0 1v3m0 19v1m0 1v1m0 5v1m0 27v1m0 1v1m0 4v1m0 2v1m0 1v1m0 11v1m0 8v1m0 12v1m0 22v1m0 13v1m0 51v2m0 11v1m0 1v1m0 3v1m0 1v1m0 28v1m0 12v2m0 5v1m0 10v1m0 11v1m0 16v1m0 1v4m0 21v1m0 4v1m0 4v1m0 21v2m0 21v1m0 44v1m0 15v2m0 20v1m0 5v2m0 1v1m0 3v1m0 12v1m0 8v1m0 1v2m0 3v1m0 11v1m0 4v4m0 11v1m0 3v1m0 1v2m0 33v1m0 2v1m0 1v1m0 5v3m0 33v1"/>
<path class="j47" d="M0 147v3m0 6v5m0 9v1m0 23v1m0 11v2m0 1v1m0 31v2m0 4v2m0 11v1m0 2v2m0 1v1m0 6v3m0 110v1m0 6v1m0 14v3m0 5v1m0 12v1m0 1v1m0 3v1m0 44v2m0 4v1m0 2v1m0 1v2m0 1v1m0 17v2m0 1v1m0 23v1m0 6v1m0 7v2m0 6v1m0 4v1m0 2v1m0 3v1m0 5v1m0 4v1m0 5v3m0 2v1m0 12v1m0 8v3m0 18v1m0 3v2m0 18v1m0 7v1m0 9v3m0 6v2m0 2v2m0 3v1m0 7v1m0 6v1m0 7v1m0 6v1m0 41v1m0 7v1m0 13v3m0 5v1m0 33v1m0 1v1m0 18v2m0 3v1m0 10v1m0 1v2m0 4v1m0 1v1m0 16v1m0 1v1m0 9v1m0 11v1m0 1v1m0 29v2m0 2v1m0 27v1m0 13v1m0 2v1m0 5v1m0 12v1m0 3v1m0 13v1m0 18v1m0 11v1m0 19v1m0 6v1m0 33v1m0 2v2m0 4v1m0 2v1m0 3v1m0 11v1m0 16v1m0 14v1m0 1v2m0 17v2m0 45v1m0 23v2m0 14v1m0 28v3m0 6v1m0 46v2m0 8v1m0 16v1m0 10v1m0 4v1m0 11v1m0 4v1m0 6v1m0 4v2m0 1v1m0 3v1m0 1v1m0 39v1m0 5v1m0 34v2"/>
<path class="j48" d="M0 258v2m0 24v1m0 15v1m0 11v1m0 75v2m0 27v3m0 2v1m0 1v2m0 27v1m0 1v1m0 26v1m0 5v1m0 1v1m0 26v1m0 4v3m0 18v1m0 25v1m0 3v1m0 15v1m0 32v1m0 18v2m0 4v3m0 3v3m0 14v1m0 1v2m0 4v1m0 14v1m0 10v1m0 6v2m0 2v1m0 14v1m0 4v1m0 5v2m0 10v1m0 5v1m0 12v1m0 4v2m0 50v1m0 6v1m0 11v1m0 6v1m0 6v2m0 1v1m0 15v1m0 2v1m0 6v1m0 6v1m0 1v1m0 18v1m0 4v1m0 1v1m0 31v1m0 25v1m0 1v1m0 4v2m0 15v2m0 6v1m0 3v1m0 5v1m0 1v1m0 23v1m0 15v1m0 2v1m0 6v2m0 1v1m0 1v1m0 22v2m0 4v1m0 16v2m0 13v1m0 17v1m0 19v1m0 16v1m0 2v1m0 15v2m0 48v1m0 22v2m0 13v1m0 6v1m0 10v2m0 2v1m0 11v1m0 3v1m0 2v1m0 1v1m0 48v3m0 3v1m0 22v1m0 10v1m0 21v1"/>
<path class="j49" d="M0 301v2m0 10v2m0 42v3m0 27v1m0 26v2m0 4v2m0 1v1m0 32v2m0 42v1m0 27v2m0 1v1m0 8v1m0 3v2m0 22v1m0 14v1m0 14v2m0 12v1m0 10v1m0 9v1m0 6v1m0 28v1m0 4v1m0 2v1m0 24v2m0 4v2m0 3v1m0 2v1m0 14v1m0 4v1m0 7v1m0 15v2m0 3v2m0 6v1m0 28v2m0 9v1m0 6v1m0 2v1m0 4v1m0 5v1m0 6v1m0 10v1m0 13v1m0 1v4m0 11v1m0 1v1m0 10v1m0 60v1m0 8v1m0 1v1m0 7v1m0 44v2m0 12v1m0 33v2m0 9v1m0 1v1m0 1v1m0 13v1m0 2v1m0 1v1m0 7v1m0 6v1m0 24v1m0 2v1m0 5v2m0 13v1m0 2v1m0 19v2m0 6v1m0 13v2m0 6v1m0 1v1m0 13v1m0 32v1m0 14v1m0 15v1m0 6v1m0 4v1m0 2v1m0 32v1m0 31v1m0 1v1m0 22v1m0 13v1m0 2v1m0 5v1m0 10v2m0 2v1m0 1v1m0 8v1m0 30v5m0 50v2m0 1v2"/>
<path class="j50" d="M0 458v1m0 28v1m0 10v2m0 16v1m0 13v1m0 51v1m0 1v1m0 3v1m0 8v1m0 9v1m0 5v2m0 20v1m0 14v1m0 1v1m0 3v1m0 53v1m0 23v1m0 8v1m0 3v3m0 17v1m0 7v1m0 38v2m0 3v1m0 1v1m0 2v1m0 5v4m0 6v1m0 12v1m0 13v1m0 8v3m0 18v1m0 5v3m0 27v1m0 1v1m0 24v3m0 4v1m0 7v1m0 1v1m0 37v1m0 15v1m0 41v1m0 12v3m0 8v1m0 4v1m0 7v1m0 5v2m0 36v1m0 3v1m0 16v1m0 21v1m0 2v1m0 16v1m0 3v1m0 20v1m0 19v1m0 4v1m0 2v1m0 10v1m0 17v1m0 14v1m0 1v1m0 1v1m0 4v1m0 2v2m0 5v1m0 19v3m0 1v2m0 12v1m0 1v1m0 7v1m0 11v1m0 43v1m0 6v1m0 25v1m0 19v4m0 45v1m0 2v1"/>
<path class="j51" d="M0 606v1m0 1v1m0 25v1m0 16v1m0 80v2m0 40v1m0 1v1m0 27v3m0 15v1m0 31v1m0 31v2m0 42v3m0 1v1m0 58v3m0 18v1m0 14v2m0 5v2m0 39v1m0 7v1m0 10v1m0 22v1m0 27v1m0 11v2m0 7v2m0 1v1m0 1v2m0 26v1m0 14v1m0 20v1m0 5v1m0 1v2m0 10v1m0 5v1m0 29v1m0 14v2m0 1v1m0 7v3m0 12v1m0 11v1m0 25v1m0 10v1m0 8v1m0 13v1m0 13v2m0 49v2"/>
<path class="j52" d="M0 1038v3m0 54v1m0 24v2m0 26v1m0 6v3m0 8v1m0 5v1m0 30v1m0 34v4m0 2v1m0 2v1m0 10v2m0 4v1m0 1v1m0 4v1m0 22v1m0 15v1m0 6v1m0 4v1m0 22v1m0 10v1m0 27v2"/>
<path class="j53" d="M0 1164v2m0 38v2m0 24v3m0 32v1m0 12v3m0 14v1"/>
</g>
<g stroke-width="7" transform="translate(458.5)">
<path class="j25" d="M0 304v2m0 7v1m0 67v1"/>
<path class="j26" d="M0 210v1m0 5v1m0 97v1m0 26v1m0 122v1m0 1064v1"/>
<path class="j27" d="M0 254v1m0 5v1m0 121v2m0 629v1m0 514v1"/>
<path class="j28" d="M0 135v1m0 54v1m0 26v1m0 27v1m0 6v1m0 21v1m0 37v1m0 149v1m0 549v1m0 418v1"/>
<path class="j29" d="M0 136v1m0 34v1m0 17v1m0 59v1m0 3v1m0 4v1m0 2v1m0 13v1m0 27v1m0 36v1m0 122v1m0 99v1m0 45v1m0 899v3m0 15v1"/>
<path class="j30" d="M0 147v1m0 8v1m0 1v1m0 13v1m0 18v1m0 2v3m0 14v1m0 6v1m0 24v2m0 5v2m0 21v1m0 65v1m0 81v1m0 62v1m0 52v1m0 1v1m0 22v1m0 30v1m0 105v1m0 200v1m0 240v2m0 186v1m0 215v1"/>
<path class="j31" d="M0 137v1m0 4v2m0 4v1m0 8v1m0 34v2m0 13v1m0 1v1m0 2v1m0 72v1m0 23v1m0 32v1m0 15v1m0 9v1m0 31v1m0 21v1m0 90v1m0 24v1m0 9v1m0 17v1m0 32v1m0 10v1m0 71v1m0 129v1m0 198v1m0 23v1m0 43v1m0 111v1m0 109v1m0 45v1m0 84v1m0 36v1m0 8v1m0 6v1m0 22v1m0 15v1"/>
<path class="j32" d="M0 117v3m0 8v1m0 12v1m0 8v4m0 9v1m0 9v1m0 61v1m0 23v1m0 3v1m0 14v1m0 7v1m0 56v1m0 71v2m0 48v1m0 17v1m0 5v1m0 11v2m0 12v1m0 9v1m0 21v1m0 16v2m0 25v2m0 4v2m0 7v1m0 1v1m0 4v1m0 55v1m0 31v1m0 36v1m0 50v1m0 111v1m0 52v1m0 148v1m0 140v1m0 51v2m0 2v1m0 48v1m0 47v1m0 22v1m0 63v1m0 50v1"/>
<path class="j33" d="M0 149v1m0 4v2m0 6v1m0 1v1m0 12v2m0 8v1m0 9v1m0 3v1m0 13v1m0 8v1m0 9v1m0 4v1m0 24v1m0 45v1m0 33v1m0 14v1m0 54v1m0 5v1m0 64v1m0 4v1m0 36v1m0 17v2m0 42v2m0 20v1m0 2v1m0 55v1m0 10v1m0 1v1m0 85v1m0 25v2m0 62v2m0 2v1m0 24v2m0 37v1m0 53v1m0 1v1m0 32v1m0 61v1m0 61v1m0 101v2m0 50v1m0 3v1m0 29v1m0 45v1m0 101v1m0 29v2m0 18v1m0 3v1"/>
<path class="j34" d="M0 116v1m0 3v1m0 6v1m0 1v1m0 31v1m0 6v1m0 10v1m0 1v2m0 3v1m0 13v1m0 1v1m0 5v1m0 24v1m0 12v1m0 1v1m0 13v1m0 8v2m0 3v2m0 4v1m0 1v1m0 2v1m0 30v1m0 38v1m0 28v1m0 6v1m0 5v1m0 1v1m0 6v1m0 4v1m0 13v1m0 9v1m0 20v1m0 32v1m0 20v1m0 1v1m0 11v1m0 17v1m0 25v1m0 7v1m0 9v1m0 18v1m0 8v2m0 32v1m0 49v1m0 30v1m0 8v1m0 3v1m0 28v1m0 4v1m0 11v2m0 5v1m0 13v1m0 19v1m0 29v1m0 28v2m0 1v1m0 8v1m0 9v2m0 12v1m0 3v1m0 14v1m0 36v1m0 32v1m0 18v1m0 1v1m0 40v1m0 7v1m0 15v2m0 11v1m0 32v1m0 2v2m0 15v2m0 23v2m0 27v2m0 46v2m0 24v1m0 3v1m0 30v2m0 28v1m0 7v1m0 4v1m0 33v1m0 11v1m0 1v1m0 11v1m0 36v2m0 11v1m0 2v1m0 34v1m0 3v1m0 23v1"/>
<path class="j35" d="M0 115v1m0 5v1m0 8v1m0 29v1m0 9v1m0 60v2m0 3v3m0 8v1m0 17v1m0 13v1m0 3v1m0 11v1m0 15v1m0 3v1m0 13v1m0 3v1m0 35v1m0 1v1m0 4v2m0 7v1m0 6v1m0 19v1m0 13v1m0 8v1m0 21v1m0 16v1m0 24v2m0 7v1m0 31v1m0 20v1m0 9v3m0 3v1m0 34v1m0 2v1m0 10v1m0 3v1m0 13v1m0 12v1m0 13v1m0 7v1m0 12v1m0 37v1m0 34v1m0 11v1m0 7v1m0 13v2m0 57v1m0 3v1m0 11v1m0 17v1m0 11v2m0 49v1m0 58v1m0 29v1m0 20v3m0 45v1m0 1v1m0 32v2m0 13v1m0 46v1m0 52v1m0 9v1m0 13v1m0 5v1m0 8v1m0 9v1m0 13v2m0 9v1m0 10v1m0 10v1m0 4v1m0 5v1m0 1v1m0 8v2m0 20v1m0 54v3m0 7v1m0 3v1m0 4v1m0 4v1m0 4v1m0 12v1m0 1v1m0 15v1m0 12v1m0 14v2"/>
<path class="j36" d="M0 122v1m0 3v1m0 5v1m0 26v1m0 9v1m0 13v2m0 3v1m0 14v1m0 10v1m0 7v2m0 4v2m0 40v1m0 23v1m0 1v1m0 3v2m0 14v2m0 1v1m0 7v2m0 6v1m0 25v1m0 5v1m0 2v1m0 20v1m0 15v1m0 15v2m0 16v1m0 1v1m0 12v1m0 9v2m0 10v4m0 21v1m0 3v1m0 1v1m0 1v1m0 22v1m0 8v1m0 9v1m0 3v2m0 17v1m0 23v1m0 21v1m0 2v1m0 3v1m0 13v1m0 14v2m0 18v1m0 1v1m0 17v1m0 30v1m0 9v1m0 5v1m0 26v1m0 13v1m0 7v1m0 3v1m0 30v2m0 1v1m0 2v1m0 2v1m0 2v1m0 68v1m0 7v2m0 8v1m0 2v2m0 13v1m0 10v1m0 48v1m0 38v2m0 34v1m0 50v1m0 22v1m0 1v1m0 21v2m0 8v2m0 9v1m0 10v1m0 11v1m0 40v1m0 7v1m0 1v1m0 5v1m0 34v2m0 18v1m0 27v1m0 5v1m0 1v1m0 8v1m0 14v2m0 1v1m0 5v1m0 3v1m0 29v2m0 13v1m0 11v1m0 23v1m0 11v1m0 13v2m0 5v1m0 25v1m0 1v1"/>
<path class="j37" d="M0 131v1m0 1v2m0 32v1m0 7v1m0 4v1m0 4v1m0 13v1m0 5v2m0 6v1m0 6v1m0 4v1m0 4v1m0 35v1m0 13v1m0 25v3m0 12v3m0 2v1m0 7v1m0 21v1m0 3v1m0 1v1m0 31v2m0 6v3m0 20v1m0 2v4m0 10v1m0 9v1m0 20v1m0 3v1m0 4v1m0 15v1m0 20v1m0 4v1m0 8v1m0 2v1m0 4v1m0 10v1m0 1v1m0 24v1m0 15v1m0 5v1m0 29v1m0 17v1m0 26v1m0 13v2m0 5v1m0 10v1m0 43v2m0 12v1m0 1v1m0 1v2m0 16v1m0 4v1m0 13v1m0 28v1m0 2v2m0 1v1m0 4v1m0 7v1m0 10v1m0 6v1m0 1v1m0 7v2m0 12v1m0 11v1m0 1v1m0 2v1m0 10v1m0 3v1m0 7v2m0 17v1m0 1v1m0 8v2m0 68v1m0 93v1m0 1v1m0 35v1m0 15v1m0 13v1m0 2v1m0 33v1m0 15v2m0 11v1m0 5v1m0 3v3m0 10v1m0 14v1m0 7v1m0 1v2m0 8v3m0 49v1m0 64v1m0 6v1m0 4v1m0 1v1m0 9v1m0 23v1m0 8v1m0 1v1m0 19v1m0 3v1m0 8v1m0 1v1m0 6v1"/>
<path class="j38" d="M0 138v3m0 5v1m0 18v2m0 7v1m0 1v1m0 21v1m0 5v1m0 14v1m0 1v1m0 4v1m0 28v1m0 1v1m0 23v1m0 20v1m0 17v1m0 3v1m0 5v1m0 1v1m0 5v1m0 16v1m0 10v1m0 11v3m0 3v1m0 5v1m0 15v1m0 2v1m0 1v1m0 20v1m0 1v1m0 1v1m0 9v1m0 3v2m0 7v2m0 14v1m0 11v2m0 4v2m0 25v1m0 14v1m0 20v1m0 17v1m0 5v4m0 2v1m0 7v1m0 1v1m0 6v1m0 15v1m0 1v1m0 2v1m0 2v2m0 3v1m0 13v1m0 8v2m0 5v1m0 3v1m0 1v1m0 6v1m0 1v1m0 26v1m0 4v1m0 12v1m0 14v1m0 8v1m0 2v1m0 1v1m0 3v1m0 11v1m0 11v1m0 1v1m0 2v1m0 2v1m0 4v1m0 15v1m0 1v1m0 7v1m0 2v1m0 6v1m0 4v1m0 3v1m0 8v1m0 1v1m0 7v2m0 27v1m0 17v1m0 19v1m0 12v1m0 13v1m0 8v1m0 1v1m0 7v1m0 14v1m0 18v1m0 1v1m0 1v1m0 12v1m0 17v3m0 6v1m0 4v2m0 5v1m0 2v2m0 16v1m0 8v2m0 2v2m0 9v1m0 1v1m0 21v2m0 26v1m0 5v1m0 23v1m0 10v2m0 13v3m0 17v1m0 2v1m0 2v1m0 20v1m0 21v1m0 2v1m0 1v1m0 17v1m0 31v1m0 1v1m0 3v2m0 9v1m0 3v1m0 3v1m0 39v2m0 2v1m0 6v2m0 1v1m0 18v2m0 1v1m0 4v1m0 3v1m0 1v2m0 13v1m0 2v2m0 11v1m0 10v1m0 7v1m0 13v1m0 4v1m0 2v1m0 12v1m0 2v1"/>
<path class="j39" d="M0 227v1m0 28v1m0 68v1m0 10v1m0 14v1m0 23v1m0 11v1m0 9v1m0 7v1m0 4v1m0 22v1m0 10v2m0 25v2m0 3v1m0 9v1m0 5v1m0 3v1m0 7v3m0 3v1m0 12v1m0 8v1m0 9v1m0 16v1m0 25v1m0 1v1m0 14v1m0 15v1m0 23v1m0 5v1m0 2v1m0 2v1m0 5v2m0 5v1m0 25v1m0 2v1m0 13v1m0 12v1m0 2v2m0 7v2m0 13v1m0 3v1m0 4v1m0 16v1m0 3v1m0 1v1m0 26v1m0 9v2m0 13v1m0 10v1m0 8v1m0 10v1m0 6v1m0 21v1m0 1v1m0 2v1m0 7v2m0 13v1m0 1v1m0 9v2m0 15v1m0 8v1m0 2v1m0 2v1m0 7v2m0 2v1m0 7v1m0 8v1m0 6v1m0 18v1m0 2v3m0 14v1m0 9v1m0 18v1m0 11v1m0 1v1m0 1v1m0 4v2m0 12v1m0 20v2m0 2v1m0 7v1m0 7v1m0 14v1m0 34v1m0 4v1m0 37v1m0 18v1m0 24v1m0 1v1m0 23v1m0 31v1m0 12v1m0 3v1m0 3v1m0 4v1m0 8v1m0 10v1m0 11v1m0 9v1m0 4v1m0 1v1m0 1v1m0 11v1m0 10v1m0 8v1m0 29v1m0 10v1m0 1v2m0 1v1m0 16v1m0 26v1m0 3v1"/>
<path class="j40" d="M0 123v1m0 20v2m0 94v3m0 24v1m0 22v4m0 3v1m0 1v1m0 37v1m0 7v1m0 8v1m0 33v1m0 9v1m0 19v1m0 19v2m0 21v1m0 54v1m0 11v1m0 2v1m0 17v1m0 1v1m0 3v1m0 13v1m0 14v1m0 19v2m0 27v1m0 1v1m0 1v1m0 7v1m0 1v1m0 4v2m0 35v1m0 13v1m0 12v1m0 2v2m0 3v1m0 7v1m0 15v1m0 11v1m0 13v2m0 40v2m0 4v3m0 19v1m0 8v1m0 10v1m0 6v1m0 5v1m0 4v1m0 4v1m0 7v1m0 10v1m0 13v2m0 22v1m0 2v1m0 22v4m0 2v2m0 1v2m0 4v1m0 13v1m0 4v1m0 5v1m0 16v1m0 5v1m0 15v2m0 3v3m0 3v1m0 3v1m0 3v2m0 55v1m0 11v1m0 1v1m0 31v1m0 2v2m0 2v1m0 2v1m0 5v2m0 5v2m0 10v2m0 7v1m0 10v3m0 2v1m0 5v1m0 19v1m0 2v1m0 17v2m0 9v1m0 2v1m0 12v2m0 1v1m0 1v1m0 39v1m0 14v1m0 23v3m0 8v1m0 5v1m0 3v2m0 5v1m0 11v1m0 6v1m0 20v1m0 4v1m0 18v1m0 10v1m0 2v1m0 7v2m0 32v1m0 4v1"/>
<path class="j41" d="M0 124v1m0 144v1m0 18v2m0 8v1m0 32v1m0 14v2m0 2v1m0 1v1m0 10v1m0 1v1m0 23v1m0 27v1m0 1v1m0 20v1m0 7v2m0 45v1m0 1v1m0 23v1m0 8v1m0 19v1m0 16v2m0 6v1m0 44v1m0 2v1m0 10v1m0 1v1m0 2v3m0 21v3m0 22v1m0 13v1m0 8v1m0 3v1m0 1v2m0 2v1m0 6v1m0 4v2m0 6v3m0 3v1m0 13v1m0 1v2m0 18v1m0 29v1m0 29v1m0 6v1m0 25v1m0 1v1m0 1v1m0 5v1m0 11v1m0 17v1m0 16v1m0 15v1m0 12v1m0 1v1m0 22v1m0 4v1m0 1v1m0 1v1m0 3v2m0 6v2m0 18v1m0 1v2m0 10v2m0 4v1m0 12v1m0 21v1m0 37v2m0 35v1m0 7v1m0 6v1m0 9v2m0 24v1m0 6v1m0 8v1m0 4v1m0 2v2m0 5v2m0 5v1m0 6v1m0 6v1m0 20v1m0 24v1m0 9v3m0 19v2m0 3v1m0 1v1m0 5v1m0 33v1m0 1v1m0 34v1m0 20v2m0 5v1m0 9v1m0 43v1m0 8v1m0 23v2"/>
<path class="j42" d="M0 125v1m0 142v1m0 79v1m0 15v1m0 7v3m0 78v1m0 14v3m0 47v1m0 3v1m0 6v1m0 30v1m0 77v1m0 45v4m0 6v1m0 10v3m0 6v1m0 10v1m0 30v1m0 5v1m0 51v2m0 33v1m0 2v1m0 17v1m0 8v1m0 37v1m0 23v3m0 4v1m0 4v1m0 11v1m0 22v4m0 1v1m0 4v1m0 18v3m0 2v2m0 5v1m0 2v1m0 24v1m0 16v1m0 12v2m0 6v3m0 11v1m0 6v1m0 2v2m0 2v2m0 18v3m0 6v1m0 1v1m0 15v1m0 1v1m0 3v2m0 46v1m0 4v1m0 15v2m0 8v1m0 6v1m0 28v1m0 59v1m0 3v1m0 10v1m0 11v1m0 13v2m0 30v1m0 2v2m0 14v1m0 11v2m0 86v1m0 9v1"/>
<path class="j43" d="M0 349v1m0 3v1m0 42v1m0 50v1m0 69v1m0 194v2m0 43v2m0 42v1m0 1v3m0 19v1m0 25v1m0 63v1m0 24v1m0 11v1m0 44v1m0 60v1m0 12v1m0 3v1m0 31v1m0 26v1m0 18v1m0 5v2m0 3v2m0 42v1m0 39v1m0 2v1m0 4v1m0 11v1m0 76v1m0 10v1m0 22v1m0 14v1m0 27v1m0 3v1m0 46v1m0 1v1"/>
<path class="j44" d="M0 454v2m0 239v1m0 110v1m0 19v2m0 53v1m0 57v1m0 132v1m0 3v1m0 23v1m0 7v1m0 1v1m0 6v2m0 16v1m0 46v1m0 22v1m0 11v1m0 49v1m0 22v1m0 29v1m0 13v1m0 90v1m0 48v1m0 76v2"/>
<path class="j45" d="M0 802v1m0 270v1m0 37v2m0 23v1m0 67v1m0 14v2m0 45v1m0 66v1m0 43v1m0 6v2"/>
<path class="j46" d="M0 672v1m0 1v1m0 192v1m0 1v1m0 228v2m0 103v1m0 14v1m0 30v1m0 71v2m0 9v1m0 50v1"/>
<path class="j47" d="M0 673v1m0 194v1m0 381v1"/>
</g>
<g stroke-width="7" transform="translate(465.5)">
<path class="j19" d="M0 149v2m0 46v3m0 39v1m0 23v1m0 11v3m0 183v2m0 55v2"/>
<path class="j20" d="M0 151v1m0 65v1m0 147v1m0 140v1m0 1v1m0 147v1m0 295v1m0 99v1m0 1v1"/>
<path class="j21" d="M0 161v2m0 12v1m0 92v1m0 23v1m0 25v1m0 45v1m0 1v2m0 27v1m0 31v3m0 77v1m0 239v1m0 33v1m0 271v1"/>
<path class="j22" d="M0 123v1m0 117v1m0 22v1m0 2v1m0 128v3m0 31v1m0 26v1m0 5v1m0 41v1m0 36v1m0 203v1m0 11v1m0 207v1m0 175v2"/>
<path class="j23" d="M0 140v2m0 24v1m0 48v2m0 20v1m0 2v1m0 33v1m0 16v1m0 27v1m0 79v1m0 56v1m0 7v1m0 33v1m0 65v1m0 27v1m0 38v1m0 89v1m0 29v1m0 28v1m0 55v1m0 60v1m0 52v1m0 243v1m0 103v1"/>
<path class="j24" d="M0 124v1m0 17v1m0 20v1m0 6v1m0 3v1m0 4v1m0 30v1m0 27v1m0 68v1m0 51v1m0 3v1m0 36v1m0 25v1m0 72v1m0 4v1m0 55v1m0 30v1m0 38v1m0 27v1m0 16v1m0 30v1m0 3v1m0 9v1m0 27v2m0 9v1m0 54v1m0 22v2m0 66v1m0 17v1m0 12v2m0 27v1m0 193v1m0 35v1m0 103v2m0 127v2m0 60v1"/>
<path class="j25" d="M0 143v1m0 1v1m0 26v1m0 7v1m0 7v1m0 47v1m0 25v1m0 3v1m0 23v1m0 14v2m0 53v2m0 93v1m0 2v1m0 7v1m0 76v1m0 17v1m0 21v1m0 6v1m0 68v1m0 14v1m0 104v1m0 33v1m0 82v1m0 27v1m0 10v1m0 15v1m0 15v1m0 176v1m0 48v1m0 188v1m0 1v1m0 42v1m0 6v1m0 52v1m0 3v1m0 33v1m0 3v2m0 4v2"/>
<path class="j26" d="M0 122v1m0 14v1m0 6v1m0 26v1m0 1v1m0 7v1m0 20v1m0 42v1m0 24v2m0 1v1m0 43v1m0 6v1m0 18v1m0 5v1m0 12v1m0 45v1m0 9v1m0 23v1m0 17v1m0 4v1m0 19v2m0 22v1m0 10v1m0 17v1m0 10v1m0 13v1m0 7v1m0 7v1m0 49v1m0 15v2m0 10v1m0 6v1m0 11v1m0 5v1m0 3v2m0 31v1m0 30v1m0 59v1m0 1v1m0 41v1m0 35v2m0 15v1m0 17v1m0 21v1m0 63v1m0 26v2m0 5v1m0 4v2m0 5v1m0 267v2m0 108v1m0 63v2m0 6v1m0 16v1m0 6v1"/>
<path class="j27" d="M0 115v1m0 4v2m0 16v2m0 7v1m0 17v1m0 10v1m0 13v1m0 20v1m0 53v1m0 3v1m0 12v2m0 2v1m0 36v1m0 15v1m0 4v1m0 2v2m0 43v1m0 8v3m0 55v1m0 12v1m0 14v1m0 9v1m0 46v1m0 5v1m0 17v2m0 10v1m0 41v1m0 32v1m0 6v1m0 8v1m0 16v1m0 16v1m0 5v1m0 30v1m0 11v1m0 30v1m0 10v1m0 8v1m0 5v1m0 5v1m0 1v2m0 47v1m0 23v1m0 5v1m0 7v1m0 41v1m0 14v2m0 23v1m0 5v1m0 13v2m0 21v1m0 1v1m0 15v1m0 101v1m0 37v1m0 193v1m0 53v2m0 14v1m0 34v1m0 3v1m0 4v1m0 3v2"/>
<path class="j28" d="M0 116v1m0 29v1m0 1v1m0 15v1m0 4v1m0 7v1m0 11v1m0 11v1m0 58v2m0 10v1m0 5v1m0 2v1m0 17v1m0 31v1m0 10v1m0 26v1m0 37v1m0 9v1m0 1v1m0 27v1m0 22v1m0 58v1m0 15v1m0 12v2m0 2v1m0 7v1m0 11v1m0 45v1m0 3v1m0 2v2m0 7v1m0 18v1m0 16v2m0 22v1m0 7v1m0 16v1m0 22v2m0 6v1m0 8v1m0 16v2m0 9v1m0 5v2m0 4v1m0 6v1m0 11v1m0 6v1m0 19v1m0 46v1m0 1v1m0 44v1m0 12v1m0 13v1m0 8v3m0 5v1m0 16v1m0 16v2m0 3v1m0 1v2m0 1v1m0 17v1m0 47v1m0 7v1m0 3v1m0 36v1m0 1v2m0 2v1m0 6v1m0 51v2m0 85v1m0 71v1m0 1v1m0 31v2m0 21v1m0 2v1m0 44v1m0 7v1m0 13v1m0 1v2m0 26v1m0 3v1"/>
<path class="j29" d="M0 117v1m0 11v1m0 28v1m0 1v1m0 6v1m0 10v1m0 14v1m0 6v1m0 6v1m0 1v1m0 18v2m0 16v1m0 32v1m0 7v1m0 5v1m0 8v1m0 26v1m0 8v1m0 6v1m0 8v1m0 13v1m0 8v1m0 47v1m0 11v1m0 8v1m0 24v1m0 22v3m0 6v1m0 6v1m0 5v2m0 19v1m0 8v1m0 1v1m0 29v1m0 2v1m0 31v1m0 5v2m0 6v1m0 9v1m0 15v1m0 16v1m0 1v1m0 44v1m0 10v1m0 9v1m0 29v1m0 31v1m0 14v1m0 5v1m0 11v2m0 4v2m0 15v1m0 10v1m0 14v1m0 6v1m0 13v1m0 11v1m0 1v1m0 8v1m0 56v2m0 17v1m0 9v1m0 7v1m0 9v1m0 12v2m0 11v1m0 7v1m0 44v2m0 34v3m0 8v2m0 30v1m0 8v2m0 25v1m0 11v2m0 33v2m0 32v2m0 39v1m0 11v1m0 28v1m0 12v1m0 8v1m0 42v1m0 29v1m0 10v1m0 2v1m0 7v1m0 18v1m0 8v1m0 1v1m0 16v1"/>
<path class="j30" d="M0 118v2m0 14v1m0 22v1m0 1v1m0 27v1m0 3v2m0 13v1m0 26v2m0 12v1m0 11v1m0 25v1m0 2v1m0 9v1m0 2v1m0 2v1m0 8v1m0 11v1m0 14v1m0 12v1m0 1v1m0 14v1m0 7v2m0 3v2m0 9v1m0 16v1m0 4v1m0 3v1m0 17v1m0 2v1m0 12v1m0 23v1m0 3v1m0 7v1m0 22v1m0 13v2m0 4v2m0 12v1m0 9v1m0 7v1m0 1v1m0 25v1m0 14v1m0 3v1m0 4v1m0 3v1m0 1v2m0 8v1m0 9v1m0 16v2m0 6v1m0 4v1m0 42v1m0 16v1m0 3v1m0 3v1m0 1v1m0 23v1m0 23v1m0 7v1m0 1v1m0 25v1m0 25v1m0 17v1m0 7v1m0 3v1m0 1v2m0 1v1m0 22v1m0 1v1m0 4v2m0 7v2m0 46v1m0 13v2m0 1v1m0 7v2m0 1v1m0 1v1m0 1v1m0 8v1m0 1v2m0 6v1m0 57v1m0 9v2m0 6v1m0 14v1m0 5v1m0 29v1m0 33v1m0 31v1m0 9v1m0 11v2m0 16v1m0 18v1m0 16v3m0 9v1m0 1v1m0 37v2m0 10v2m0 34v1m0 5v1m0 42v2m0 5v1m0 22v1m0 8v1m0 10v2m0 12v1m0 17v3m0 13v1m0 1v1"/>
<path class="j31" d="M0 126v1m0 1v1m0 26v2m0 11v1m0 17v1m0 31v2m0 31v1m0 5v2m0 21v1m0 3v1m0 9v1m0 5v1m0 2v1m0 10v1m0 12v2m0 1v1m0 4v1m0 10v1m0 38v1m0 7v1m0 15v1m0 3v1m0 7v1m0 17v1m0 8v1m0 3v2m0 15v1m0 9v1m0 31v1m0 2v2m0 6v1m0 16v1m0 15v1m0 10v1m0 32v2m0 6v1m0 10v1m0 15v1m0 7v1m0 23v1m0 2v1m0 28v1m0 31v1m0 1v1m0 1v1m0 5v1m0 21v1m0 14v2m0 13v1m0 9v1m0 15v1m0 3v2m0 5v1m0 11v1m0 7v1m0 2v1m0 9v2m0 5v1m0 8v1m0 22v1m0 10v1m0 1v1m0 1v1m0 3v1m0 10v1m0 26v1m0 15v1m0 2v1m0 21v1m0 17v1m0 3v1m0 3v1m0 3v1m0 6v1m0 3v2m0 31v2m0 41v1m0 19v1m0 26v2m0 31v1m0 2v2m0 9v1m0 14v1m0 9v1m0 12v2m0 25v1m0 42v1m0 8v1m0 25v2m0 22v1m0 7v1m0 8v1m0 1v1m0 5v1m0 15v1m0 24v1m0 2v2m0 21v1m0 1v3m0 12v1m0 11v1m0 11v1m0 8v1m0 25v1m0 6v1"/>
<path class="j32" d="M0 125v1m0 1v1m0 2v1m0 4v2m0 48v1m0 10v1m0 6v1m0 4v1m0 26v1m0 53v1m0 5v1m0 1v1m0 14v1m0 7v2m0 14v2m0 3v1m0 8v1m0 23v3m0 3v1m0 7v1m0 21v1m0 1v1m0 19v1m0 1v1m0 1v1m0 3v1m0 48v1m0 1v1m0 20v1m0 10v1m0 2v1m0 9v1m0 38v1m0 11v3m0 19v1m0 6v1m0 24v1m0 12v1m0 10v1m0 1v1m0 9v3m0 19v1m0 18v1m0 6v1m0 13v1m0 4v2m0 36v3m0 8v3m0 2v1m0 7v1m0 24v2m0 26v2m0 3v2m0 4v1m0 3v4m0 2v2m0 2v1m0 2v1m0 20v2m0 11v2m0 21v1m0 8v1m0 3v1m0 24v1m0 8v1m0 6v1m0 5v1m0 10v1m0 42v1m0 22v1m0 1v1m0 38v1m0 14v5m0 31v1m0 18v1m0 8v1m0 7v1m0 1v1m0 11v1m0 19v2m0 15v1m0 7v1m0 8v1m0 1v1m0 1v1m0 7v1m0 18v1m0 8v1m0 1v1m0 9v2m0 21v1m0 26v1m0 6v1m0 55v1m0 11v2m0 24v1m0 28v1m0 1v2m0 3v1m0 1v1m0 1v3m0 18v1m0 4v1m0 1v1m0 1v1m0 2v1"/>
<path class="j33" d="M0 133v1m0 20v1m0 39v2m0 24v1m0 1v6m0 4v1m0 11v1m0 5v1m0 1v2m0 42v1m0 14v1m0 3v1m0 10v1m0 5v1m0 1v1m0 16v1m0 29v1m0 32v1m0 16v1m0 1v1m0 1v1m0 32v1m0 8v1m0 5v1m0 4v1m0 3v1m0 7v2m0 22v2m0 6v1m0 2v1m0 18v1m0 1v1m0 17v1m0 19v2m0 5v1m0 4v1m0 4v1m0 35v1m0 1v1m0 41v1m0 3v2m0 16v3m0 10v2m0 3v1m0 29v1m0 14v1m0 65v1m0 7v2m0 6v1m0 2v1m0 4v1m0 33v1m0 9v1m0 19v1m0 10v1m0 1v1m0 2v1m0 7v1m0 4v2m0 10v3m0 7v1m0 13v1m0 10v1m0 7v1m0 31v1m0 13v1m0 6v1m0 7v1m0 3v2m0 1v1m0 5v2m0 14v2m0 15v1m0 50v1m0 1v1m0 37v2m0 16v1m0 9v1m0 6v1m0 10v1m0 2v2m0 2v1m0 10v1m0 5v1m0 8v1m0 42v1m0 6v1m0 15v1m0 12v1m0 20v1m0 7v1m0 4v2m0 6v1m0 6v1m0 19v2m0 15v1m0 13v1m0 4v1m0 1v2m0 6v1m0 27v1m0 1v1m0 1v1m0 21v1m0 3v1m0 3v1m0 1v1"/>
<path class="j34" d="M0 132v1m0 19v2m0 28v1m0 21v2m0 8v1m0 34v1m0 66v1m0 5v1m0 10v1m0 48v1m0 3v2m0 34v1m0 22v1m0 21v1m0 5v1m0 2v1m0 7v1m0 8v1m0 36v2m0 40v2m0 2v2m0 6v1m0 18v1m0 6v1m0 3v2m0 9v2m0 21v1m0 3v1m0 36v2m0 6v1m0 2v1m0 8v1m0 12v3m0 10v2m0 26v4m0 3v2m0 18v1m0 17v1m0 16v1m0 4v1m0 14v2m0 1v1m0 23v2m0 55v1m0 12v1m0 2v1m0 9v2m0 4v1m0 8v1m0 7v1m0 1v1m0 32v1m0 28v1m0 4v2m0 10v1m0 3v1m0 1v2m0 2v2m0 5v2m0 18v1m0 2v1m0 1v1m0 16v1m0 5v3m0 8v1m0 24v1m0 18v2m0 23v1m0 26v1m0 2v1m0 3v1m0 6v2m0 9v2m0 5v2m0 1v2m0 5v2m0 5v1m0 2v1m0 26v1m0 5v1m0 3v1m0 7v1m0 6v1m0 13v1m0 5v2m0 14v1m0 21v1m0 3v2m0 4v1m0 37v1m0 17v3m0 22v1"/>
<path class="j35" d="M0 131v1m0 51v1m0 28v2m0 7v1m0 8v2m0 16v1m0 5v1m0 1v1m0 114v1m0 1v1m0 15v1m0 1v1m0 13v2m0 8v1m0 7v1m0 19v1m0 30v1m0 5v2m0 20v1m0 18v1m0 18v2m0 44v1m0 9v1m0 5v1m0 1v2m0 44v2m0 103v1m0 16v1m0 1v1m0 13v2m0 17v1m0 16v1m0 18v2m0 12v1m0 37v1m0 3v1m0 40v1m0 27v2m0 9v1m0 16v2m0 25v2m0 43v1m0 2v2m0 5v1m0 18v2m0 1v1m0 5v1m0 26v1m0 14v1m0 1v1m0 10v2m0 6v3m0 6v1m0 29v1m0 17v2m0 5v1m0 5v1m0 12v1m0 32v4m0 1v1m0 45v1m0 2v2m0 1v1m0 7v2m0 12v3m0 8v1m0 5v1m0 6v1m0 18v2m0 4v2m0 2v1m0 2v1m0 4v2m0 21v1m0 9v1m0 9v1m0 7v1m0 2v1m0 34v1m0 25v1"/>
<path class="j36" d="M0 184v1m0 57v2m0 11v1m0 53v1m0 46v1m0 15v1m0 51v1m0 19v1m0 4v1m0 1v1m0 99v2m0 32v1m0 11v2m0 39v2m0 63v1m0 3v2m0 47v2m0 17v1m0 50v1m0 20v1m0 45v2m0 38v1m0 88v1m0 38v2m0 27v1m0 28v2m0 9v2m0 2v1m0 14v1m0 18v1m0 8v1m0 4v1m0 7v1m0 12v1m0 24v1m0 3v1m0 17v1m0 2v1m0 15v2m0 13v1m0 28v3m0 5v1m0 16v1m0 28v2m0 3v1m0 1v1m0 5v1m0 11v1m0 13v1m0 9v1m0 4v1m0 2v1m0 25v1m0 6v1m0 4v1m0 1v1m0 73v1"/>
<path class="j37" d="M0 308v1m0 1v1m0 41v1m0 4v1m0 32v1m0 13v1m0 45v1m0 24v1m0 77v1m0 86v1m0 42v1m0 1v1m0 15v2m0 70v1m0 158v1m0 1v1m0 3v2m0 152v2m0 13v2m0 3v3m0 12v2m0 3v1m0 33v1m0 8v2m0 14v1m0 10v1m0 2v1m0 45v1m0 59v1m0 21v1m0 3v1m0 6v2m0 23v1m0 19v2m0 24v1m0 7v1m0 6v3m0 16v1m0 15v1"/>
<path class="j38" d="M0 358v1m0 325v1m0 7v3m0 396v1m0 37v1m0 37v1m0 13v1m0 1v4m0 19v1m0 13v1m0 33v2m0 36v1m0 1v1m0 17v1m0 18v2m0 10v1m0 17v1m0 11v1m0 48v1m0 40v1m0 3v1"/>
<path class="j39" d="M0 1085v1m0 1v1m0 119v1m0 7v1m0 5v2m0 70v1m0 7v3m0 59v1m0 102v1"/>
<path class="j40" d="M0 1086v1m0 127v1m0 1v1m0 107v1m0 37v1"/>
<path class="j41" d="M0 1322v2"/>
</g>
<g stroke-width="6" transform="translate(472)">
<path class="j18" d="M0 465v3m0 64v1m0 103v2m0 203v1m0 49v2m0 225v1m0 53v1m0 8v1m0 204v1"/>
<path class="j19" d="M0 336v1m0 40v2m0 272v1m0 295v1m0 36v2m0 114v1m0 16v1m0 29v1m0 23v1m0 8v1m0 192v1"/>
<path class="j20" d="M0 337v1m0 29v2m0 10v1m0 11v1m0 107v1m0 138v1m0 7v1m0 30v1m0 76v1m0 85v1m0 1v1m0 50v1m0 9v1m0 33v1m0 8v1m0 41v2m0 73v1m0 34v1m0 71v1m0 201v1m0 50v1"/>
<path class="j21" d="M0 332v1m0 8v1m0 23v1m0 14v1m0 119v1m0 30v1m0 12v1m0 27v1m0 8v1m0 63v1m0 99v2m0 77v1m0 12v1m0 10v1m0 10v1m0 44v2m0 30v1m0 3v1m0 4v1m0 40v2m0 76v1m0 14v1m0 19v1m0 46v1m0 32v1m0 52v1m0 57v1m0 50v1m0 24v1m0 7v1m0 12v1m0 51v1"/>
<path class="j22" d="M0 364v1m0 1v1m0 25v1m0 6v3m0 57v1m0 38v1m0 44v1m0 1v1m0 25v1m0 80v1m0 23v1m0 57v1m0 9v1m0 2v1m0 7v1m0 21v1m0 8v2m0 13v1m0 21v1m0 22v2m0 12v1m0 1v1m0 16v1m0 61v1m0 41v1m0 27v3m0 48v1m0 2v1m0 1v1m0 10v1m0 45v1m0 23v1m0 33v1m0 14v1m0 14v1m0 1v1m0 31v1m0 4v1m0 1v1m0 9v1m0 6v1m0 16v1m0 8v3m0 13v1m0 6v1m0 7v1m0 15v1m0 23v1m0 8v1m0 47v1m0 68v1m0 38v1"/>
<path class="j23" d="M0 121v1m0 125v1m0 11v1m0 60v1m0 10v1m0 6v1m0 1v1m0 14v1m0 34v1m0 3v2m0 55v1m0 9v1m0 47v1m0 23v1m0 36v1m0 5v2m0 2v1m0 31v1m0 8v1m0 1v1m0 5v1m0 17v1m0 15v1m0 2v2m0 3v1m0 17v1m0 2v2m0 4v1m0 29v1m0 4v1m0 15v1m0 3v1m0 9v1m0 24v1m0 27v1m0 21v2m0 18v1m0 4v1m0 16v1m0 36v1m0 46v2m0 16v1m0 46v1m0 36v1m0 28v1m0 5v1m0 1v1m0 12v1m0 8v1m0 33v1m0 53v1m0 31v1m0 1v2m0 3v1m0 11v2m0 3v1m0 1v1m0 11v1m0 4v1m0 2v1m0 21v1m0 14v1m0 11v1m0 1v1m0 2v1m0 15v1m0 3v1m0 5v1m0 3v1m0 22v1m0 2v1m0 13v1m0 6v1m0 15v1m0 16v1m0 38v1m0 36v1"/>
<path class="j24" d="M0 210v1m0 37v1m0 11v1m0 22v1m0 3v1m0 18v1m0 19v1m0 3v1m0 8v1m0 14v1m0 1v1m0 6v1m0 12v1m0 21v1m0 10v1m0 20v1m0 7v1m0 19v1m0 1v1m0 7v1m0 2v2m0 10v1m0 65v2m0 5v1m0 16v2m0 4v1m0 33v2m0 3v1m0 1v1m0 1v1m0 4v2m0 24v1m0 11v1m0 2v1m0 19v1m0 14v1m0 5v1m0 11v2m0 9v1m0 15v1m0 13v1m0 15v2m0 10v1m0 9v1m0 6v1m0 10v1m0 3v1m0 5v1m0 38v2m0 47v1m0 21v1m0 23v2m0 46v1m0 14v1m0 4v2m0 3v1m0 1v1m0 16v2m0 21v1m0 19v1m0 4v1m0 19v2m0 13v2m0 19v1m0 1v1m0 22v1m0 7v2m0 5v2m0 10v2m0 15v1m0 2v2m0 6v1m0 11v1m0 24v1m0 5v1m0 7v1m0 2v1m0 6v1m0 8v1m0 2v1m0 6v1m0 7v1m0 12v1m0 4v1m0 1v1m0 13v1m0 27v1m0 4v1m0 8v2m0 1v1m0 73v2m0 31v1m0 17v1m0 6v1"/>
<path class="j25" d="M0 129v2m0 68v4m0 8v1m0 13v1m0 2v1m0 17v1m0 23v2m0 36v1m0 16v1m0 23v2m0 9v1m0 49v1m0 20v1m0 7v1m0 8v1m0 1v1m0 1v1m0 16v1m0 3v1m0 10v1m0 16v3m0 25v1m0 8v2m0 21v1m0 13v1m0 2v1m0 3v1m0 7v1m0 1v1m0 1v2m0 4v2m0 17v1m0 10v1m0 12v1m0 20v1m0 5v1m0 4v1m0 18v4m0 2v1m0 3v1m0 5v1m0 9v1m0 6v1m0 28v1m0 2v3m0 2v1m0 7v2m0 15v1m0 3v2m0 7v1m0 14v1m0 11v1m0 2v2m0 16v2m0 1v2m0 14v1m0 11v1m0 14v1m0 12v1m0 29v1m0 2v2m0 25v1m0 11v1m0 22v1m0 10v1m0 7v2m0 16v2m0 1v1m0 1v1m0 6v1m0 14v1m0 3v1m0 3v1m0 19v1m0 13v1m0 15v2m0 11v1m0 11v1m0 24v2m0 6v1m0 2v2m0 4v1m0 12v1m0 2v1m0 18v2m0 10v2m0 7v1m0 16v1m0 7v1m0 1v2m0 2v1m0 1v1m0 10v1m0 6v2m0 7v1m0 7v1m0 20v1m0 9v1m0 4v3m0 3v1m0 25v1m0 6v1m0 6v1m0 4v1m0 1v1m0 2v1m0 4v1m0 4v1m0 11v1m0 1v1m0 22v2m0 1v1m0 21v1m0 10v1m0 7v2m0 11v1m0 22v1"/>
<path class="j26" d="M0 122v1m0 27v1m0 8v1m0 3v2m0 17v1m0 6v1m0 8v1m0 4v1m0 39v1m0 14v1m0 3v1m0 9v1m0 9v1m0 1v1m0 1v1m0 11v2m0 7v1m0 10v1m0 14v1m0 14v1m0 10v1m0 1v2m0 25v2m0 3v1m0 2v2m0 18v1m0 5v1m0 6v1m0 34v1m0 15v1m0 7v1m0 16v2m0 3v1m0 2v1m0 5v3m0 6v1m0 1v1m0 6v1m0 13v1m0 3v1m0 1v1m0 5v1m0 25v1m0 1v1m0 1v1m0 2v1m0 2v1m0 2v1m0 28v1m0 10v1m0 5v3m0 9v1m0 1v1m0 6v1m0 14v1m0 2v1m0 2v2m0 7v1m0 1v2m0 15v1m0 38v1m0 33v2m0 4v1m0 10v2m0 2v1m0 36v1m0 11v1m0 32v2m0 15v1m0 3v1m0 2v3m0 5v1m0 17v1m0 22v1m0 2v2m0 20v3m0 8v1m0 4v2m0 6v1m0 1v1m0 17v1m0 8v1m0 1v1m0 21v1m0 1v1m0 1v1m0 1v1m0 4v1m0 69v1m0 56v2m0 6v1m0 1v2m0 14v1m0 2v2m0 30v1m0 3v1m0 6v1m0 4v1m0 9v1m0 15v1m0 3v2m0 4v1m0 26v1m0 1v1m0 12v3m0 25v1m0 3v1m0 18v1m0 18v1m0 4v1m0 4v1m0 15v1m0 1v2m0 1v1m0 5v1m0 3v1m0 8v1m0 8v1m0 3v2m0 5v1m0 5v1m0 5v1m0 12v3m0 3v1m0 4v1m0 8v1"/>
<path class="j27" d="M0 118v1m0 1v1m0 10v1m0 2v1m0 4v1m0 11v1m0 10v1m0 2v2m0 13v2m0 5v1m0 2v2m0 5v1m0 14v1m0 5v1m0 7v1m0 2v2m0 4v1m0 13v1m0 11v1m0 1v1m0 1v1m0 19v1m0 5v1m0 3v1m0 4v1m0 18v1m0 4v1m0 9v2m0 8v1m0 12v2m0 16v1m0 26v1m0 10v2m0 20v1m0 1v1m0 2v1m0 1v2m0 3v1m0 8v2m0 4v2m0 17v2m0 2v1m0 6v1m0 3v1m0 17v1m0 1v3m0 3v2m0 18v1m0 9v2m0 6v1m0 1v1m0 3v2m0 15v2m0 13v1m0 25v1m0 7v1m0 11v1m0 12v1m0 1v1m0 1v1m0 18v1m0 4v2m0 19v3m0 2v3m0 10v1m0 4v3m0 6v2m0 18v1m0 9v4m0 23v2m0 1v2m0 3v1m0 1v2m0 3v2m0 31v2m0 7v1m0 18v1m0 38v1m0 10v3m0 30v3m0 4v1m0 4v1m0 1v1m0 3v1m0 17v2m0 10v1m0 2v3m0 6v1m0 2v1m0 1v1m0 23v1m0 7v2m0 3v2m0 16v1m0 6v3m0 2v3m0 22v2m0 28v2m0 1v1m0 7v1m0 2v1m0 22v1m0 7v1m0 2v2m0 4v2m0 3v1m0 2v3m0 10v1m0 2v1m0 19v1m0 3v1m0 23v1m0 5v1m0 4v1m0 7v1m0 8v1m0 9v1m0 10v1m0 16v2m0 45v2m0 7v1m0 1v1m0 3v3m0 2v1m0 17v1m0 10v1m0 4v1m0 8v1m0 2v2m0 14v1m0 4v2m0 1v1m0 1v1m0 1v2m0 7v1m0 2v1m0 19v2m0 26v1m0 4v3m0 3v2m0 2v1m0 1v1"/>
<path class="j28" d="M0 117v1m0 5v2m0 8v1m0 6v1m0 11v1m0 5v1m0 1v2m0 12v1m0 8v1m0 2v1m0 1v1m0 3v1m0 1v1m0 18v1m0 13v1m0 5v2m0 1v1m0 7v2m0 4v2m0 1v1m0 10v1m0 4v1m0 18v1m0 12v1m0 9v1m0 4v2m0 9v2m0 16v1m0 5v1m0 21v1m0 7v2m0 3v2m0 15v2m0 3v1m0 6v1m0 2v2m0 1v1m0 5v2m0 7v1m0 7v1m0 4v1m0 20v1m0 18v1m0 3v3m0 1v1m0 6v1m0 3v1m0 2v1m0 3v1m0 8v1m0 1v1m0 7v3m0 17v1m0 4v1m0 4v1m0 4v1m0 15v2m0 1v1m0 21v2m0 5v1m0 7v1m0 7v3m0 5v1m0 12v3m0 1v1m0 19v1m0 35v1m0 2v1m0 5v1m0 1v2m0 10v1m0 2v2m0 23v1m0 10v1m0 6v1m0 1v1m0 18v1m0 25v2m0 13v1m0 9v1m0 16v1m0 10v1m0 1v3m0 10v1m0 1v2m0 22v1m0 5v1m0 26v2m0 1v1m0 19v1m0 53v1m0 3v1m0 9v2m0 8v1m0 25v2m0 27v1m0 14v1m0 2v2m0 2v2m0 3v1m0 8v1m0 6v1m0 6v2m0 3v2m0 3v1m0 1v1m0 9v1m0 8v1m0 39v1m0 7v1m0 1v1m0 9v1m0 7v1m0 22v1m0 20v2m0 13v1m0 1v1m0 6v1m0 19v1m0 17v2m0 12v3m0 35v2m0 6v1m0 1v1m0 14v1m0 2v1m0 1v1m0 20v1m0 12v2m0 1v1m0 11v1m0 17v1m0 32v1"/>
<path class="j29" d="M0 115v1m0 3v1m0 5v1m0 6v1m0 5v1m0 4v1m0 3v1m0 20v1m0 1v2m0 3v1m0 9v1m0 10v1m0 10v1m0 6v2m0 16v1m0 19v1m0 1v1m0 11v1m0 7v1m0 14v2m0 6v1m0 6v2m0 3v2m0 1v1m0 2v1m0 13v1m0 22v2m0 18v1m0 1v1m0 8v1m0 1v1m0 25v1m0 5v1m0 2v1m0 2v1m0 2v1m0 14v1m0 3v2m0 6v3m0 30v1m0 3v1m0 16v1m0 4v1m0 12v1m0 1v1m0 30v1m0 6v1m0 2v1m0 18v1m0 17v1m0 9v2m0 9v1m0 13v1m0 38v1m0 1v1m0 1v1m0 21v1m0 9v2m0 2v1m0 15v1m0 6v2m0 22v2m0 7v1m0 4v1m0 3v1m0 49v3m0 28v1m0 4v1m0 26v1m0 4v1m0 3v1m0 1v1m0 16v1m0 1v2m0 2v1m0 2v1m0 13v1m0 10v1m0 13v3m0 2v1m0 16v5m0 1v1m0 48v1m0 8v3m0 8v1m0 18v1m0 24v1m0 4v1m0 9v2m0 2v2m0 8v1m0 1v1m0 7v2m0 2v1m0 4v1m0 4v1m0 6v1m0 26v1m0 18v1m0 14v1m0 19v2m0 1v1m0 43v1m0 1v1m0 17v1m0 1v2m0 3v1m0 2v1m0 2v2m0 14v2m0 17v1m0 7v1m0 29v1m0 1v1m0 15v2m0 12v2m0 2v1m0 6v1m0 24v1m0 1v1m0 10v2m0 7v1m0 4v3m0 3v1m0 6v1m0 9v1m0 8v1m0 12v1m0 3v1"/>
<path class="j30" d="M0 127v2m0 6v1m0 8v1m0 3v2m0 7v1m0 9v1m0 1v1m0 2v2m0 2v1m0 2v1m0 4v1m0 8v1m0 1v1m0 10v1m0 1v1m0 7v2m0 1v1m0 11v1m0 6v2m0 27v2m0 4v1m0 4v2m0 12v3m0 1v1m0 5v1m0 11v1m0 6v1m0 20v2m0 3v1m0 21v3m0 12v1m0 27v1m0 12v1m0 52v2m0 7v1m0 3v1m0 48v2m0 55v1m0 6v1m0 1v2m0 1v1m0 63v2m0 7v1m0 53v1m0 13v1m0 23v1m0 6v1m0 33v1m0 3v3m0 34v1m0 7v1m0 1v1m0 15v1m0 1v1m0 4v2m0 8v1m0 7v1m0 4v2m0 15v1m0 3v1m0 1v1m0 13v2m0 25v2m0 1v1m0 20v1m0 19v3m0 9v2m0 5v1m0 50v2m0 2v1m0 9v1m0 3v2m0 11v1m0 43v2m0 35v1m0 21v1m0 32v1m0 1v3m0 41v1m0 27v1m0 5v1m0 39v1m0 1v1m0 27v1m0 3v2m0 12v1m0 9v1m0 13v1m0 15v1m0 11v1m0 10v1m0 8v1m0 17v1m0 2v1m0 3v4m0 27v1"/>
<path class="j31" d="M0 116v1m0 9v1m0 9v1m0 4v2m0 10v4m0 47v2m0 3v1m0 10v2m0 15v1m0 37v1m0 1v1m0 2v2m0 31v1m0 8v1m0 23v1m0 58v2m0 17v1m0 7v3m0 39v2m0 1v1m0 68v3m0 54v1m0 4v1m0 30v1m0 32v1m0 78v2m0 29v1m0 31v1m0 10v3m0 29v1m0 15v1m0 4v1m0 9v1m0 25v1m0 17v1m0 107v1m0 51v2m0 11v1m0 1v1m0 7v1m0 4v1m0 40v1m0 63v2m0 129v3m0 57v2m0 18v1m0 17v1m0 9v1m0 1v1m0 43v2m0 7v1m0 1v1m0 20v2"/>
<path class="j32" d="M0 137v1m0 7v2m0 30v2m0 44v1m0 18v1m0 13v2m0 18v1m0 26v1m0 19v1m0 83v1m0 68v1m0 336v1m0 60v2m0 75v1m0 76v1m0 77v1m0 114v1m0 230v2m0 90v1"/>
<path class="j33" d="M0 222v1m0 1v1m0 15v2m0 13v1m0 620v2m0 74v2m0 72v1m0 195v2m0 296v1"/>
<path class="j34" d="M0 1027v1"/>
</g>
<g stroke-width="6" transform="translate(478)">
<path class="j16" d="M0 660v1m0 315v1m0 31v1m0 81v1m0 1v1m0 105v2m0 115v2"/>
<path class="j17" d="M0 443v1m0 70v1m0 191v2m0 87v1m0 88v1m0 63v1m0 29v1m0 28v1m0 83v1m0 137v1m0 87v1"/>
<path class="j18" d="M0 146v1m0 116v1m0 125v2m0 20v1m0 30v1m0 1v1m0 106v1m0 107v1m0 48v1m0 174v1m0 1v1m0 108v1m0 217v1m0 81v1m0 46v1"/>
<path class="j19" d="M0 147v1m0 114v1m0 125v1m0 126v1m0 31v1m0 2v1m0 174v1m0 70v2m0 39v1m0 19v1m0 106v1m0 12v1m0 20v1m0 1v1m0 5v1m0 77v1m0 15v2m0 29v1m0 4v1m0 26v2m0 11v1m0 26v1m0 24v1m0 1v1m0 41v1m0 71v1m0 25v1m0 39v1m0 37v1"/>
<path class="j20" d="M0 145v1m0 2v3m0 63v2m0 15v1m0 32v1m0 34v1m0 38v1m0 46v1m0 135v1m0 30v1m0 3v3m0 24v1m0 26v2m0 60v1m0 114v1m0 6v1m0 3v1m0 54v1m0 86v1m0 24v1m0 30v2m0 1v1m0 75v1m0 9v2m0 31v1m0 37v5m0 9v1m0 40v1m0 1v1m0 18v1m0 109v1m0 7v1m0 18v1m0 1v1m0 13v1m0 22v2m0 37v1m0 1v1"/>
<path class="j21" d="M0 127v2m0 87v1m0 13v1m0 13v1m0 1v1m0 53v1m0 36v1m0 25v1m0 23v1m0 31v1m0 40v1m0 27v1m0 27v1m0 37v1m0 17v1m0 43v2m0 19v1m0 2v1m0 1v1m0 13v1m0 14v1m0 23v1m0 15v1m0 12v1m0 1v1m0 12v3m0 13v1m0 28v1m0 1v1m0 2v1m0 25v1m0 3v1m0 9v1m0 6v1m0 17v1m0 1v1m0 3v1m0 8v1m0 61v1m0 10v1m0 3v2m0 12v1m0 31v2m0 1v1m0 5v2m0 31v1m0 15v1m0 17v1m0 27v2m0 1v1m0 2v2m0 13v1m0 1v1m0 17v1m0 3v1m0 19v2m0 14v1m0 6v1m0 15v3m0 24v1m0 3v1m0 1v1m0 5v1m0 3v1m0 6v1m0 13v2m0 20v1m0 8v1m0 13v1m0 30v1m0 26v1m0 8v2m0 46v2m0 19v1m0 52v3m0 11v1"/>
<path class="j22" d="M0 129v4m0 41v1m0 64v1m0 5v1m0 52v1m0 45v1m0 33v1m0 7v1m0 7v3m0 12v2m0 10v2m0 16v1m0 8v1m0 10v1m0 2v1m0 24v1m0 1v1m0 30v1m0 27v1m0 22v1m0 12v2m0 14v1m0 8v1m0 13v1m0 3v1m0 10v2m0 1v1m0 4v1m0 1v1m0 6v1m0 2v1m0 6v1m0 34v1m0 11v1m0 35v1m0 7v1m0 28v1m0 2v1m0 4v1m0 7v1m0 12v1m0 15v2m0 3v1m0 8v2m0 3v1m0 5v1m0 2v1m0 46v2m0 1v2m0 10v1m0 11v1m0 8v1m0 49v1m0 33v1m0 7v1m0 1v1m0 13v1m0 17v1m0 1v1m0 2v1m0 1v1m0 2v1m0 30v1m0 1v1m0 18v2m0 4v1m0 7v2m0 24v1m0 1v2m0 2v1m0 3v1m0 3v1m0 20v1m0 5v1m0 15v1m0 11v1m0 3v1m0 11v1m0 11v1m0 18v1m0 24v1m0 7v1m0 5v1m0 18v1m0 14v1m0 7v1m0 17v1m0 1v1m0 25v3m0 11v1m0 17v1m0 26v1m0 21v2m0 15v2m0 7v3m0 26v1"/>
<path class="j23" d="M0 143v1m0 16v2m0 13v1m0 53v1m0 8v1m0 1v1m0 25v1m0 14v1m0 32v2m0 23v1m0 1v1m0 5v2m0 12v2m0 1v1m0 11v2m0 23v1m0 16v1m0 1v1m0 2v1m0 23v1m0 9v1m0 3v1m0 34v1m0 10v2m0 1v1m0 7v1m0 3v1m0 2v1m0 12v1m0 10v1m0 3v1m0 1v1m0 12v1m0 29v1m0 2v1m0 1v1m0 14v1m0 5v1m0 1v1m0 1v1m0 1v1m0 4v2m0 10v1m0 9v1m0 6v1m0 5v1m0 19v2m0 2v1m0 1v1m0 12v2m0 11v1m0 26v1m0 1v2m0 1v1m0 6v2m0 1v1m0 11v1m0 23v1m0 5v1m0 9v1m0 1v1m0 40v1m0 1v1m0 6v1m0 1v1m0 4v1m0 10v1m0 11v1m0 5v1m0 2v1m0 4v1m0 8v1m0 5v1m0 31v1m0 6v1m0 43v2m0 7v2m0 3v1m0 1v1m0 19v1m0 1v1m0 2v1m0 9v3m0 2v1m0 6v1m0 2v1m0 21v1m0 5v1m0 4v1m0 29v1m0 2v1m0 2v2m0 8v1m0 9v2m0 11v1m0 6v1m0 19v2m0 7v1m0 7v1m0 14v1m0 2v1m0 8v1m0 1v3m0 16v2m0 6v1m0 32v1m0 7v2m0 4v1m0 9v1m0 3v1m0 19v1m0 13v1m0 1v1m0 16v1m0 7v1m0 10v1m0 3v1m0 11v1m0 4v1m0 22v1m0 16v1m0 16v2m0 14v2m0 39v2m0 1v1"/>
<path class="j24" d="M0 142v1m0 10v1m0 8v1m0 3v1m0 1v1m0 4v1m0 5v1m0 7v1m0 34v1m0 32v1m0 9v1m0 1v1m0 9v2m0 34v1m0 31v1m0 19v2m0 7v2m0 24v1m0 1v1m0 32v2m0 4v1m0 3v2m0 2v1m0 6v1m0 1v1m0 4v1m0 15v2m0 16v1m0 11v1m0 9v1m0 4v1m0 2v1m0 1v1m0 9v2m0 28v1m0 3v1m0 8v1m0 9v2m0 5v1m0 2v1m0 9v1m0 7v2m0 3v1m0 3v1m0 15v1m0 3v1m0 18v2m0 18v1m0 3v1m0 8v1m0 11v1m0 7v1m0 25v1m0 2v1m0 2v1m0 6v1m0 2v1m0 1v1m0 9v1m0 1v1m0 13v2m0 14v2m0 1v1m0 6v1m0 5v3m0 22v1m0 14v1m0 12v1m0 2v1m0 7v2m0 3v2m0 25v1m0 13v1m0 9v1m0 14v1m0 20v1m0 29v1m0 8v1m0 8v1m0 2v3m0 11v1m0 15v1m0 3v2m0 4v2m0 23v1m0 19v1m0 16v1m0 7v1m0 26v2m0 4v2m0 32v3m0 6v2m0 5v1m0 1v1m0 15v1m0 2v2m0 10v5m0 12v1m0 5v4m0 4v1m0 8v1m0 3v3m0 5v1m0 12v3m0 2v1m0 2v2m0 17v1m0 6v1m0 1v1m0 5v1m0 4v1m0 9v1m0 11v2m0 1v1m0 5v1m0 23v1m0 4v1m0 4v2m0 4v2m0 5v1m0 7v1m0 7v1m0 5v1m0 10v1m0 11v2m0 3v1m0 7v1m0 28v1m0 16v2"/>
<path class="j25" d="M0 133v1m0 17v2m0 1v1m0 12v1m0 4v1m0 5v1m0 3v1m0 5v1m0 9v5m0 17v1m0 2v1m0 23v1m0 5v2m0 16v1m0 8v1m0 4v1m0 3v2m0 34v2m0 4v1m0 2v1m0 5v1m0 1v2m0 5v1m0 7v2m0 11v1m0 2v1m0 10v1m0 7v2m0 14v1m0 25v1m0 2v2m0 1v1m0 9v1m0 15v1m0 2v2m0 4v1m0 8v2m0 12v1m0 2v1m0 2v2m0 7v1m0 3v1m0 5v1m0 4v1m0 1v3m0 1v1m0 11v1m0 14v1m0 8v1m0 8v2m0 23v2m0 2v1m0 6v1m0 6v1m0 8v1m0 2v1m0 9v1m0 8v2m0 11v1m0 22v1m0 3v1m0 20v1m0 8v1m0 21v2m0 10v1m0 1v1m0 12v1m0 17v1m0 8v1m0 5v1m0 3v1m0 16v2m0 4v2m0 12v1m0 17v1m0 9v1m0 2v2m0 15v1m0 4v1m0 16v1m0 6v2m0 1v1m0 1v1m0 10v1m0 4v2m0 3v1m0 2v1m0 27v1m0 23v2m0 6v2m0 2v1m0 19v2m0 3v3m0 1v1m0 1v1m0 4v3m0 2v1m0 1v1m0 18v1m0 2v3m0 5v1m0 16v1m0 7v1m0 1v1m0 16v1m0 4v1m0 8v4m0 2v2m0 25v1m0 7v2m0 1v1m0 1v2m0 2v1m0 17v1m0 2v1m0 5v1m0 30v1m0 19v3m0 15v1m0 34v1m0 2v4m0 14v1m0 1v1m0 2v1m0 1v1m0 3v3m0 1v1m0 7v1m0 1v1m0 19v1m0 1v1m0 4v1m0 4v2m0 8v1m0 3v1m0 17v1m0 12v3m0 6v1m0 8v1m0 3v3m0 9v4m0 6v1m0 17v1m0 2v1m0 15v1m0 10v3"/>
<path class="j26" d="M0 115v1m0 20v3m0 5v1m0 31v1m0 3v2m0 7v1m0 3v5m0 7v2m0 14v1m0 15v1m0 34v1m0 6v1m0 4v1m0 16v2m0 24v1m0 4v2m0 12v1m0 12v1m0 11v2m0 42v3m0 15v1m0 21v1m0 8v1m0 2v2m0 2v1m0 4v1m0 6v1m0 2v1m0 6v1m0 8v1m0 3v1m0 4v2m0 13v1m0 6v1m0 3v1m0 22v1m0 16v2m0 2v1m0 4v1m0 19v1m0 6v2m0 4v1m0 12v1m0 10v1m0 6v1m0 1v1m0 8v1m0 5v1m0 11v4m0 4v1m0 14v1m0 12v2m0 1v2m0 7v2m0 29v1m0 10v3m0 30v3m0 6v3m0 24v1m0 8v1m0 2v1m0 11v1m0 9v2m0 15v2m0 9v2m0 1v1m0 6v2m0 1v1m0 1v1m0 1v1m0 4v1m0 2v1m0 3v2m0 6v2m0 11v2m0 1v2m0 1v1m0 4v1m0 7v1m0 5v1m0 8v2m0 2v3m0 12v1m0 10v2m0 1v1m0 20v1m0 1v1m0 14v2m0 1v1m0 20v2m0 6v2m0 4v2m0 10v1m0 1v1m0 12v4m0 10v1m0 55v1m0 30v1m0 52v1m0 8v1m0 15v1m0 5v3m0 6v1m0 12v1m0 8v1m0 28v1m0 13v1m0 1v1m0 13v1m0 1v1m0 5v1m0 17v1m0 7v3m0 5v1m0 12v1m0 8v1m0 1v1m0 1v2m0 11v3m0 18v1m0 19v2m0 12v1m0 4v1"/>
<path class="j27" d="M0 118v2m0 3v1m0 10v2m0 19v2m0 6v3m0 11v1m0 5v1m0 19v2m0 4v1m0 14v2m0 1v1m0 20v2m0 6v1m0 2v1m0 13v1m0 2v1m0 5v1m0 8v1m0 5v1m0 5v1m0 2v1m0 10v1m0 3v1m0 13v1m0 14v1m0 2v1m0 6v1m0 19v1m0 2v1m0 7v1m0 11v2m0 2v1m0 17v1m0 3v1m0 23v2m0 10v1m0 11v2m0 3v1m0 9v1m0 1v2m0 3v2m0 44v1m0 13v1m0 2v1m0 24v1m0 1v3m0 2v1m0 2v1m0 9v1m0 25v1m0 17v1m0 10v2m0 9v1m0 1v4m0 4v2m0 1v1m0 12v1m0 17v1m0 2v1m0 12v2m0 1v3m0 4v2m0 28v2m0 4v2m0 1v1m0 45v1m0 5v1m0 4v1m0 12v1m0 18v1m0 8v3m0 8v1m0 5v1m0 4v1m0 11v1m0 3v1m0 38v1m0 4v2m0 3v2m0 4v2m0 6v3m0 2v2m0 33v1m0 1v1m0 4v1m0 10v1m0 84v1m0 2v1m0 23v2m0 33v2m0 4v1m0 2v2m0 50v2m0 42v2m0 5v1m0 4v1m0 8v2m0 23v2m0 8v1m0 5v1m0 26v1m0 1v2m0 14v1m0 3v1m0 2v1m0 13v1m0 2v1m0 12v1m0 34v1m0 11v3m0 16v2m0 11v1m0 11v3m0 11v3"/>
<path class="j28" d="M0 116v2m0 2v1m0 1v1m0 17v2m0 50v1m0 14v1m0 18v1m0 1v1m0 7v1m0 5v2m0 13v1m0 16v2m0 7v1m0 2v2m0 4v1m0 2v2m0 12v1m0 6v1m0 1v3m0 1v1m0 13v1m0 14v2m0 14v1m0 11v1m0 1v2m0 16v1m0 6v1m0 5v1m0 13v1m0 1v1m0 1v2m0 19v2m0 28v1m0 8v1m0 12v1m0 31v1m0 5v4m0 43v1m0 7v1m0 77v1m0 10v1m0 11v2m0 5v2m0 23v1m0 5v1m0 6v1m0 24v2m0 9v1m0 4v1m0 38v1m0 17v1m0 10v1m0 15v1m0 66v1m0 20v1m0 66v1m0 88v3m0 11v2m0 1v1m0 53v1m0 36v2m0 25v1m0 16v1m0 3v3m0 14v1m0 4v2m0 6v1m0 6v1m0 40v2m0 5v1m0 35v2m0 14v1m0 12v2m0 17v1m0 4v3m0 12v1m0 23v2m0 21v1m0 3v1m0 1v1m0 5v1m0 6v2m0 1v1m0 4v1m0 4v1m0 16v1"/>
<path class="j29" d="M0 121v1m0 17v1m0 44v3m0 3v2m0 16v1m0 1v1m0 2v1m0 21v1m0 5v1m0 10v1m0 5v1m0 1v2m0 26v1m0 5v1m0 9v2m0 2v1m0 45v1m0 1v1m0 11v2m0 27v2m0 6v1m0 7v2m0 9v1m0 2v1m0 4v1m0 58v1m0 44v1m0 26v2m0 1v1m0 9v1m0 18v1m0 107v1m0 26v3m0 33v1m0 14v1m0 38v2m0 20v2m0 21v2m0 28v2m0 38v2m0 33v1m0 1v1m0 56v1m0 151v1m0 80v1m0 25v1m0 98v1m0 69v1m0 7v1m0 1v1m0 40v1m0 15v1m0 4v1m0 4v1m0 18v1"/>
<path class="j30" d="M0 126v1m0 30v3m0 51v2m0 5v2m0 12v3m0 15v2m0 16v3m0 22v1m0 13v1m0 4v1m0 10v2m0 5v1m0 24v1m0 209v1m0 1v1m0 6v2m0 265v1m0 129v1m0 262v1m0 26v1m0 196v1m0 7v1m0 70v1m0 1v1"/>
<path class="j31" d="M0 170v1m0 46v1m0 92v2m0 16v2m0 143v2m0 760v1m0 302v1"/>
<path class="j32" d="M0 124v2m0 43v1m0 1v1m0 300v1m0 763v1"/>
</g>
<g stroke-width="6" transform="translate(484)">
<path class="j13" d="M0 1065v1"/>
<path class="j14" d="M0 705v2m0 359v1m0 118v2m0 40v1m0 165v1"/>
<path class="j15" d="M0 416v1m0 108v1m0 181v1m0 28v1m0 439v1m0 306v1"/>
<path class="j16" d="M0 356v1m0 30v1m0 27v1m0 247v2m0 22v1m0 76v1m0 175v1m0 169v2m0 48v1m0 17v1m0 50v1m0 18v1m0 67v1m0 13v1m0 33v1m0 29v1m0 67v1m0 55v1"/>
<path class="j17" d="M0 355v1m0 32v1m0 4v2m0 52v2m0 52v1m0 25v1m0 9v1m0 34v1m0 9v1m0 152v1m0 1v1m0 20v1m0 184v1m0 49v2m0 22v1m0 3v1m0 45v1m0 109v1m0 48v1m0 1v1m0 21v1m0 21v1m0 5v1m0 1v1m0 33v2m0 46v2m0 1v1m0 5v1m0 20v1m0 26v2m0 18v1m0 21v1m0 20v1"/>
<path class="j18" d="M0 247v1m0 141v1m0 17v1m0 41v1m0 35v2m0 2v2m0 11v1m0 23v1m0 44v1m0 44v1m0 2v2m0 44v1m0 2v1m0 19v1m0 12v1m0 8v1m0 18v2m0 37v3m0 105v1m0 9v1m0 25v1m0 28v1m0 53v1m0 14v1m0 38v1m0 62v1m0 13v1m0 22v3m0 6v2m0 82v1m0 1v1m0 4v1m0 29v1m0 49v1m0 36v2m0 6v2m0 61v1m0 46v1m0 34v1"/>
<path class="j19" d="M0 197v1m0 28v1m0 13v2m0 48v1m0 25v1m0 11v2m0 24v1m0 59v1m0 41v2m0 26v1m0 3v1m0 19v1m0 1v2m0 4v1m0 1v1m0 19v1m0 11v2m0 18v1m0 12v1m0 10v3m0 8v1m0 1v2m0 6v1m0 2v1m0 17v2m0 21v1m0 7v1m0 21v1m0 41v1m0 25v1m0 22v1m0 28v1m0 91v1m0 11v1m0 30v1m0 6v2m0 33v1m0 31v1m0 1v1m0 1v1m0 24v1m0 14v1m0 13v1m0 5v1m0 9v1m0 23v1m0 37v1m0 9v1m0 17v1m0 4v1m0 31v2m0 3v1m0 9v2m0 95v1m0 7v2m0 32v1m0 2v1m0 7v1m0 36v1m0 14v1m0 1v1m0 24v1m0 28v1m0 17v1"/>
<path class="j20" d="M0 145v2m0 75v1m0 15v1m0 3v1m0 35v1m0 10v1m0 4v1m0 20v1m0 1v1m0 4v2m0 15v1m0 33v2m0 83v1m0 28v1m0 19v1m0 4v1m0 4v1m0 30v1m0 13v1m0 3v1m0 17v1m0 21v1m0 10v1m0 15v3m0 2v1m0 19v1m0 7v1m0 33v1m0 58v1m0 2v2m0 11v1m0 9v1m0 15v2m0 5v1m0 1v2m0 16v1m0 14v1m0 1v1m0 32v1m0 6v1m0 14v1m0 1v1m0 11v1m0 15v1m0 8v1m0 2v1m0 29v3m0 7v2m0 35v1m0 5v1m0 22v1m0 15v1m0 3v2m0 5v1m0 1v1m0 1v1m0 13v1m0 1v1m0 19v1m0 2v1m0 2v1m0 3v1m0 1v1m0 25v1m0 11v1m0 17v1m0 16v2m0 16v1m0 6v1m0 7v1m0 9v1m0 7v1m0 17v2m0 23v1m0 3v1m0 12v1m0 1v1m0 28v1m0 5v2m0 22v1m0 10v1m0 24v1m0 26v1m0 10v1m0 7v1m0 11v1m0 22v1m0 1v1m0 1v1m0 13v1m0 6v1m0 5v1m0 19v1m0 5v1"/>
<path class="j21" d="M0 119v1m0 24v1m0 20v2m0 4v1m0 24v1m0 1v1m0 26v1m0 1v1m0 9v1m0 1v1m0 6v1m0 29v2m0 49v1m0 9v2m0 42v2m0 12v1m0 10v1m0 4v2m0 10v1m0 14v1m0 1v1m0 4v1m0 8v1m0 8v2m0 1v1m0 13v1m0 2v1m0 7v1m0 8v1m0 2v1m0 1v1m0 3v1m0 18v1m0 10v1m0 1v2m0 6v1m0 15v1m0 21v1m0 12v2m0 2v1m0 6v1m0 12v4m0 2v3m0 9v2m0 10v1m0 2v1m0 11v1m0 4v1m0 9v3m0 7v3m0 2v1m0 8v2m0 7v2m0 7v1m0 29v1m0 17v1m0 1v1m0 4v3m0 10v1m0 3v1m0 4v1m0 3v1m0 4v1m0 3v1m0 14v3m0 3v1m0 6v1m0 8v2m0 6v1m0 15v1m0 9v1m0 18v1m0 17v1m0 4v1m0 1v1m0 21v1m0 6v1m0 18v1m0 19v1m0 8v2m0 13v2m0 1v1m0 34v1m0 9v1m0 6v1m0 1v1m0 2v1m0 5v1m0 6v1m0 4v2m0 16v1m0 20v2m0 10v1m0 13v1m0 5v1m0 6v1m0 9v1m0 9v1m0 30v2m0 9v1m0 3v1m0 1v1m0 6v1m0 11v1m0 4v1m0 1v2m0 6v2m0 8v3m0 2v2m0 14v1m0 8v1m0 4v1m0 11v1m0 2v1m0 5v1m0 2v2m0 7v3m0 68v1m0 22v1m0 16v1m0 15v1m0 13v1m0 5v1m0 2v1m0 1v1m0 21v2m0 1v2m0 1v1m0 1v1m0 3v1"/>
<path class="j22" d="M0 138v1m0 28v1m0 4v2m0 21v1m0 27v1m0 10v2m0 52v1m0 2v3m0 42v1m0 3v1m0 2v1m0 7v2m0 14v2m0 1v1m0 1v1m0 10v1m0 36v3m0 1v2m0 13v1m0 4v1m0 8v1m0 1v1m0 6v1m0 2v1m0 1v1m0 7v1m0 22v1m0 7v1m0 7v1m0 25v1m0 17v1m0 5v1m0 20v2m0 5v2m0 3v3m0 2v1m0 6v2m0 10v1m0 6v2m0 14v1m0 3v1m0 22v1m0 8v1m0 11v2m0 8v3m0 14v1m0 7v2m0 14v1m0 40v1m0 4v1m0 3v1m0 24v2m0 1v1m0 1v1m0 5v2m0 5v1m0 9v1m0 1v1m0 3v1m0 2v1m0 6v1m0 19v1m0 7v1m0 2v1m0 3v3m0 5v1m0 1v2m0 18v1m0 20v3m0 10v2m0 17v2m0 2v2m0 4v1m0 9v1m0 3v1m0 6v1m0 16v2m0 15v2m0 8v1m0 7v1m0 6v1m0 1v1m0 1v1m0 6v1m0 6v1m0 1v2m0 2v1m0 18v2m0 2v1m0 2v1m0 8v2m0 11v4m0 9v2m0 23v1m0 3v1m0 3v1m0 1v1m0 2v2m0 9v1m0 7v1m0 10v1m0 8v1m0 3v1m0 2v1m0 6v1m0 5v1m0 3v1m0 10v2m0 18v1m0 2v1m0 4v1m0 11v1m0 12v1m0 6v1m0 24v1m0 15v1m0 1v1m0 7v1m0 1v1m0 1v1m0 2v1m0 5v1m0 4v2m0 9v1m0 1v1m0 3v1m0 1v1m0 9v1m0 2v1m0 5v1m0 12v1m0 1v1m0 2v1m0 2v1m0 8v2m0 3v1m0 1v1m0 3v1m0 4v2m0 3v1m0 1v2m0 1v1m0 4v1m0 3v1m0 8v1m0 3v2m0 16v1m0 7v1m0 4v2m0 2v1"/>
<path class="j23" d="M0 118v1m0 18v1m0 9v1m0 8v1m0 37v1m0 4v1m0 24v1m0 5v1m0 2v1m0 2v1m0 6v1m0 4v1m0 15v3m0 12v1m0 5v1m0 24v2m0 1v1m0 7v1m0 2v1m0 16v1m0 2v1m0 21v1m0 2v1m0 1v1m0 33v1m0 2v1m0 4v1m0 15v2m0 1v1m0 1v1m0 7v2m0 2v1m0 3v1m0 30v1m0 17v1m0 13v1m0 10v1m0 4v1m0 3v1m0 2v1m0 10v1m0 7v3m0 1v1m0 3v1m0 10v1m0 28v1m0 8v1m0 9v2m0 22v1m0 8v2m0 13v1m0 1v2m0 4v2m0 1v1m0 15v1m0 22v1m0 11v1m0 8v2m0 7v2m0 8v1m0 4v1m0 13v1m0 10v1m0 1v1m0 2v1m0 1v1m0 1v2m0 16v1m0 2v1m0 1v1m0 1v1m0 2v1m0 6v1m0 3v1m0 8v1m0 8v2m0 2v1m0 2v1m0 1v1m0 1v2m0 10v1m0 11v1m0 18v2m0 13v1m0 2v1m0 3v1m0 4v1m0 17v1m0 1v1m0 1v1m0 4v1m0 3v2m0 8v1m0 22v1m0 10v1m0 14v1m0 2v2m0 2v2m0 2v1m0 1v1m0 3v1m0 9v1m0 18v1m0 10v2m0 17v1m0 24v1m0 4v1m0 2v1m0 9v1m0 10v1m0 5v1m0 6v2m0 9v1m0 10v1m0 5v1m0 3v1m0 8v1m0 1v2m0 6v2m0 15v1m0 1v1m0 12v1m0 1v1m0 1v3m0 28v2m0 9v3m0 15v2m0 3v1m0 9v2m0 9v1m0 25v1m0 7v1m0 1v1m0 1v1m0 8v1m0 4v1m0 27v1m0 2v2m0 1v1m0 10v1m0 7v1m0 2v1m0 15v1m0 4v1m0 6v1m0 21v4m0 10v1m0 15v2m0 2v1m0 6v1m0 8v1"/>
<path class="j24" d="M0 116v2m0 10v1m0 6v1m0 12v1m0 1v2m0 5v1m0 42v1m0 5v3m0 23v1m0 11v1m0 8v1m0 26v1m0 5v2m0 7v2m0 12v1m0 2v1m0 1v1m0 3v1m0 6v1m0 16v1m0 10v1m0 4v1m0 5v1m0 34v1m0 27v2m0 4v1m0 1v1m0 15v2m0 15v3m0 1v3m0 1v1m0 27v1m0 10v1m0 3v1m0 10v1m0 1v1m0 1v1m0 8v1m0 1v2m0 6v2m0 6v1m0 11v1m0 1v2m0 14v1m0 21v1m0 31v1m0 1v1m0 2v2m0 1v1m0 8v1m0 19v2m0 7v1m0 6v1m0 16v1m0 5v1m0 3v1m0 7v1m0 5v2m0 3v1m0 4v1m0 4v1m0 6v1m0 4v2m0 9v2m0 7v1m0 1v1m0 2v1m0 4v1m0 18v1m0 9v2m0 8v1m0 3v1m0 9v3m0 14v1m0 2v3m0 9v1m0 1v2m0 4v1m0 2v1m0 1v1m0 8v2m0 18v1m0 2v1m0 9v1m0 17v1m0 1v1m0 1v1m0 6v1m0 1v1m0 2v2m0 5v1m0 13v2m0 3v1m0 1v1m0 4v1m0 1v1m0 7v1m0 18v2m0 2v1m0 2v1m0 2v2m0 9v1m0 5v2m0 26v1m0 9v1m0 1v1m0 5v1m0 25v2m0 2v1m0 11v2m0 24v1m0 1v1m0 15v1m0 3v3m0 7v1m0 4v1m0 4v3m0 19v1m0 24v1m0 12v2m0 6v1m0 2v1m0 15v3m0 1v1m0 1v1m0 10v1m0 8v1m0 5v1m0 18v3m0 42v1m0 2v2m0 11v1m0 1v1m0 5v1m0 1v1m0 18v1m0 6v1m0 5v2m0 10v1m0 5v1m0 19v1m0 1v1m0 8v1m0 46v1"/>
<path class="j25" d="M0 115v1m0 13v1m0 9v2m0 2v1m0 8v1m0 5v1m0 1v2m0 15v1m0 14v2m0 11v1m0 10v1m0 1v1m0 1v2m0 7v1m0 15v1m0 8v1m0 5v3m0 5v2m0 30v4m0 2v3m0 10v1m0 10v6m0 11v1m0 2v1m0 6v1m0 1v1m0 3v1m0 21v2m0 11v1m0 10v2m0 6v1m0 13v1m0 4v2m0 3v1m0 18v1m0 10v1m0 7v1m0 2v1m0 12v1m0 24v4m0 7v1m0 3v1m0 8v1m0 7v1m0 24v3m0 1v1m0 6v1m0 25v1m0 34v1m0 2v1m0 7v1m0 14v2m0 13v1m0 23v1m0 1v1m0 7v1m0 9v1m0 3v1m0 6v1m0 2v1m0 3v2m0 17v1m0 15v1m0 16v3m0 6v2m0 44v1m0 4v1m0 7v1m0 7v1m0 7v1m0 7v1m0 21v2m0 2v1m0 11v1m0 11v2m0 15v1m0 11v2m0 20v1m0 4v1m0 4v1m0 8v1m0 20v1m0 3v1m0 14v1m0 29v1m0 13v1m0 8v1m0 12v1m0 11v1m0 4v1m0 22v1m0 11v1m0 28v1m0 2v4m0 53v3m0 11v1m0 27v1m0 29v2m0 8v2m0 42v1m0 9v1m0 3v3m0 6v1m0 28v2m0 1v2m0 12v1m0 1v1m0 12v1m0 24v1m0 17v1"/>
<path class="j26" d="M0 127v1m0 8v1m0 4v2m0 16v1m0 19v3m0 3v1m0 18v1m0 4v1m0 3v1m0 3v1m0 1v1m0 11v1m0 18v1m0 1v1m0 5v2m0 3v1m0 3v1m0 13v1m0 23v1m0 14v1m0 5v1m0 21v1m0 16v1m0 12v1m0 5v1m0 5v1m0 1v1m0 4v1m0 2v3m0 16v1m0 6v1m0 32v1m0 34v1m0 1v2m0 62v1m0 19v1m0 9v1m0 70v1m0 15v1m0 33v3m0 8v2m0 22v2m0 7v1m0 16v2m0 84v1m0 16v1m0 19v1m0 13v1m0 10v2m0 11v1m0 1v1m0 2v1m0 6v1m0 20v1m0 22v1m0 16v1m0 7v2m0 34v3m0 5v1m0 39v1m0 5v1m0 1v3m0 28v1m0 23v1m0 7v1m0 91v1m0 23v1m0 23v2m0 14v1m0 11v1m0 6v1m0 55v1m0 9v1m0 7v1m0 40v1m0 37v1m0 19v1m0 9v1m0 1v1m0 19v2m0 2v1"/>
<path class="j27" d="M0 120v2m0 4v1m0 4v2m0 1v1m0 14v1m0 18v3m0 7v1m0 5v1m0 25v1m0 17v1m0 20v1m0 20v3m0 2v1m0 6v1m0 21v1m0 40v2m0 2v1m0 29v2m0 10v1m0 4v1m0 6v2m0 13v1m0 42v1m0 15v2m0 14v1m0 74v2m0 19v1m0 283v2m0 40v3m0 69v2m0 68v1m0 65v2m0 13v1m0 28v1m0 92v1m0 23v1m0 39v1m0 31v3m0 29v1m0 17v1m0 4v1m0 5v1m0 104v2m0 1v1m0 2v1m0 19v1"/>
<path class="j28" d="M0 122v1m0 7v1m0 2v1m0 21v1m0 7v2m0 9v1m0 1v1m0 5v2m0 2v4m0 1v1m0 20v1m0 1v2m0 35v1m0 4v2m0 15v2m0 8v2m0 12v1m0 79v1m0 114v1m0 74v1m0 71v3m0 198v3m0 325v1m0 154v1m0 62v2m0 43v1m0 44v1m0 44v1m0 2v1m0 1v1"/>
<path class="j29" d="M0 123v1m0 30v1m0 7v1m0 12v1m0 14v1m0 20v1m0 43v1m0 43v1m0 60v3m0 12v2m0 1055v1m0 44v1"/>
<path class="j30" d="M0 124v1m0 28v1m0 144v1m0 1134v1m0 44v1"/>
<path class="j31" d="M0 125v1m0 75v3"/>
</g>
<g stroke-width="5" transform="translate(489.5)">
<path class="j13" d="M0 683v3"/>
<path class="j14" d="M0 517v1m0 2v1m0 61v2m0 24v1m0 59v1m0 221v1m0 114v1m0 398v2m0 126v3"/>
<path class="j15" d="M0 515v2m0 81v1m0 99v1m0 43v1m0 96v2m0 50v1m0 17v2m0 13v1m0 3v1m0 48v1m0 51v1m0 60v1m0 11v1m0 138v1m0 42v1m0 45v1m0 4v1m0 67v1m0 16v1m0 37v1"/>
<path class="j16" d="M0 454v1m0 64v1m0 61v1m0 5v1m0 8v2m0 11v1m0 59v1m0 4v1m0 24v1m0 40v2m0 92v2m0 44v1m0 19v2m0 6v1m0 16v1m0 1v1m0 6v1m0 43v2m0 26v1m0 21v1m0 28v3m0 8v2m0 18v1m0 12v1m0 107v2m0 31v1m0 20v1m0 19v1m0 5v1m0 11v2m0 22v1m0 3v1m0 4v1m0 1v3m0 1v1m0 20v1m0 56v2m0 70v2m0 28v2"/>
<path class="j17" d="M0 177v1m0 66v1m0 74v1m0 9v2m0 122v1m0 3v1m0 38v1m0 7v2m0 12v1m0 6v1m0 18v1m0 40v1m0 2v2m0 26v1m0 21v1m0 5v1m0 22v1m0 8v1m0 13v2m0 5v1m0 21v1m0 4v1m0 10v2m0 38v1m0 12v1m0 8v1m0 43v1m0 9v1m0 50v1m0 20v1m0 2v1m0 8v1m0 29v1m0 18v1m0 4v1m0 1v1m0 3v2m0 7v1m0 25v1m0 10v1m0 7v3m0 4v1m0 3v1m0 28v1m0 10v1m0 26v2m0 27v1m0 21v2m0 12v1m0 50v1m0 8v1m0 8v2m0 1v2m0 1v1m0 22v1m0 20v1m0 12v1m0 1v3m0 10v1m0 1v1m0 10v1m0 83v2m0 21v1m0 12v1"/>
<path class="j18" d="M0 158v1m0 17v1m0 56v1m0 1v1m0 6v2m0 73v1m0 13v1m0 2v1m0 30v1m0 83v2m0 4v1m0 2v1m0 3v1m0 31v2m0 4v1m0 1v2m0 8v1m0 11v1m0 28v1m0 6v1m0 17v3m0 5v1m0 23v1m0 3v2m0 14v1m0 31v2m0 6v1m0 6v1m0 2v2m0 10v3m0 5v1m0 22v1m0 1v1m0 8v1m0 11v2m0 5v1m0 19v1m0 13v1m0 1v1m0 4v1m0 3v2m0 20v1m0 9v1m0 22v1m0 24v2m0 1v1m0 10v1m0 1v2m0 3v1m0 32v2m0 2v2m0 2v1m0 7v1m0 7v3m0 7v2m0 12v2m0 3v1m0 4v1m0 6v1m0 3v1m0 10v2m0 17v3m0 11v2m0 5v1m0 2v1m0 11v1m0 8v1m0 3v1m0 1v1m0 27v1m0 10v3m0 19v2m0 10v1m0 15v1m0 8v1m0 27v1m0 7v1m0 9v2m0 7v1m0 4v1m0 6v1m0 2v2m0 1v3m0 2v1m0 1v1m0 5v1m0 1v2m0 15v1m0 17v1m0 3v1m0 2v1m0 1v1m0 9v2m0 18v1m0 10v1m0 18v1m0 33v1m0 31v1m0 10v1m0 7v1m0 15v2m0 10v2m0 2v1m0 2v3m0 27v1m0 19v2m0 8v1"/>
<path class="j19" d="M0 149v1m0 67v1m0 16v1m0 58v1m0 24v1m0 6v1m0 7v1m0 17v1m0 5v2m0 1v1m0 3v1m0 6v1m0 1v1m0 9v1m0 8v1m0 19v1m0 39v1m0 3v1m0 2v1m0 1v1m0 1v1m0 8v1m0 3v1m0 2v1m0 21v1m0 11v2m0 6v1m0 4v1m0 4v1m0 10v2m0 8v1m0 3v2m0 6v2m0 18v1m0 22v1m0 16v2m0 3v1m0 1v1m0 13v1m0 4v1m0 3v1m0 4v1m0 6v1m0 8v1m0 6v1m0 6v1m0 5v2m0 10v1m0 14v1m0 14v1m0 1v1m0 5v1m0 2v2m0 2v1m0 1v1m0 3v2m0 12v1m0 13v1m0 9v1m0 3v2m0 11v1m0 7v1m0 11v1m0 14v3m0 1v1m0 4v1m0 1v1m0 1v3m0 9v1m0 8v1m0 10v1m0 9v2m0 9v3m0 21v2m0 7v1m0 14v1m0 10v3m0 6v2m0 2v2m0 10v1m0 3v2m0 17v2m0 11v1m0 7v1m0 1v1m0 8v1m0 8v2m0 14v2m0 1v1m0 1v1m0 2v2m0 10v2m0 11v1m0 1v1m0 10v2m0 3v1m0 5v1m0 6v1m0 4v1m0 6v1m0 2v3m0 3v3m0 3v2m0 15v1m0 9v2m0 7v1m0 8v2m0 3v1m0 4v2m0 2v1m0 5v1m0 1v4m0 8v1m0 7v2m0 1v1m0 10v1m0 1v2m0 3v2m0 1v2m0 9v1m0 2v1m0 5v1m0 30v2m0 14v2m0 5v1m0 2v1m0 4v3m0 2v2m0 2v1m0 35v1m0 9v1m0 5v1m0 6v1m0 8v3m0 6v1m0 1v1m0 3v2m0 39v1m0 6v1m0 10v1m0 27v1m0 8v2"/>
<path class="j20" d="M0 141v2m0 16v1m0 18v1m0 12v1m0 31v1m0 46v2m0 23v1m0 20v1m0 15v1m0 5v3m0 6v2m0 3v1m0 3v1m0 4v1m0 4v2m0 4v1m0 1v3m0 7v1m0 8v1m0 7v3m0 7v1m0 8v1m0 7v2m0 13v1m0 7v1m0 8v1m0 6v2m0 8v2m0 1v2m0 47v2m0 1v2m0 2v2m0 8v1m0 4v1m0 2v1m0 4v1m0 1v1m0 15v1m0 14v1m0 44v1m0 1v1m0 1v1m0 1v1m0 2v1m0 4v1m0 1v1m0 1v1m0 4v1m0 3v2m0 12v2m0 25v2m0 1v4m0 6v1m0 1v1m0 5v1m0 2v2m0 12v2m0 5v2m0 3v1m0 4v1m0 3v1m0 5v2m0 2v1m0 7v1m0 2v1m0 4v1m0 2v1m0 1v1m0 16v1m0 1v1m0 2v3m0 2v2m0 5v1m0 1v1m0 14v2m0 8v1m0 1v1m0 1v1m0 3v1m0 2v2m0 3v1m0 1v1m0 13v2m0 15v2m0 37v2m0 3v1m0 9v1m0 1v1m0 1v2m0 6v2m0 3v1m0 11v1m0 10v1m0 10v2m0 2v3m0 3v1m0 3v1m0 10v1m0 2v1m0 1v1m0 2v1m0 3v2m0 5v1m0 6v1m0 8v1m0 6v1m0 15v1m0 9v1m0 5v1m0 4v1m0 4v1m0 6v1m0 6v2m0 1v1m0 1v2m0 6v1m0 15v1m0 3v3m0 3v1m0 17v2m0 1v1m0 4v1m0 7v2m0 9v2m0 13v2m0 15v1m0 21v1m0 7v1m0 2v1m0 10v1m0 1v1m0 3v1m0 8v1m0 7v2m0 15v1m0 12v1m0 9v1m0 9v1m0 7v1m0 10v1m0 1v1m0 4v1m0 3v1m0 11v1m0 3v5m0 4v2m0 4v3m0 1v1m0 3v1m0 16v1m0 24v1m0 6v1m0 3v1m0 14v1m0 8v1m0 13v3"/>
<path class="j21" d="M0 150v1m0 2v1m0 6v1m0 25v1m0 5v2m0 22v1m0 4v1m0 41v1m0 1v1m0 3v1m0 8v3m0 3v2m0 3v1m0 4v1m0 18v3m0 8v1m0 16v1m0 7v2m0 8v1m0 25v1m0 8v1m0 15v1m0 2v1m0 5v1m0 1v1m0 1v2m0 2v1m0 2v1m0 6v2m0 3v1m0 5v1m0 20v3m0 3v1m0 21v1m0 13v1m0 10v1m0 4v2m0 9v1m0 6v1m0 1v1m0 7v1m0 2v1m0 4v1m0 2v2m0 4v1m0 2v2m0 13v2m0 7v1m0 5v1m0 14v1m0 2v1m0 2v1m0 7v1m0 1v1m0 3v1m0 1v1m0 6v1m0 2v1m0 5v1m0 2v1m0 11v1m0 28v1m0 1v1m0 7v2m0 7v1m0 5v2m0 9v1m0 17v1m0 6v1m0 1v3m0 1v1m0 6v1m0 14v2m0 9v1m0 6v1m0 5v2m0 10v2m0 3v1m0 9v4m0 8v1m0 10v2m0 4v1m0 15v1m0 8v1m0 10v1m0 9v1m0 1v1m0 11v1m0 14v1m0 8v1m0 4v1m0 31v3m0 5v1m0 6v3m0 7v2m0 4v1m0 12v2m0 1v1m0 24v3m0 5v1m0 11v2m0 5v2m0 4v1m0 7v1m0 6v1m0 2v4m0 1v1m0 16v1m0 2v2m0 6v2m0 1v3m0 6v1m0 12v2m0 7v1m0 2v1m0 1v1m0 6v1m0 8v2m0 70v1m0 16v1m0 3v1m0 9v1m0 2v1m0 3v1m0 4v1m0 1v1m0 28v1m0 5v1m0 19v3m0 8v1m0 4v1m0 1v2m0 14v2m0 15v1m0 7v1m0 9v1m0 6v1m0 1v1m0 2v1m0 3v2m0 4v3m0 6v2m0 1v1m0 8v1m0 12v2m0 2v1m0 6v1m0 27v2m0 12v1"/>
<path class="j22" d="M0 127v1m0 12v1m0 4v1m0 2v1m0 3v1m0 1v1m0 16v2m0 12v1m0 1v1m0 6v1m0 6v3m0 8v2m0 1v1m0 6v1m0 7v1m0 1v1m0 20v2m0 1v1m0 7v1m0 21v1m0 14v1m0 6v5m0 10v1m0 20v1m0 8v3m0 6v2m0 6v1m0 11v1m0 26v1m0 4v1m0 7v1m0 2v2m0 5v2m0 5v3m0 2v1m0 2v1m0 25v1m0 8v3m0 5v1m0 18v2m0 12v1m0 10v1m0 15v1m0 11v1m0 5v1m0 2v1m0 1v2m0 18v1m0 8v3m0 1v1m0 14v2m0 5v1m0 4v1m0 1v1m0 11v2m0 7v2m0 13v2m0 13v2m0 13v1m0 1v1m0 10v1m0 1v1m0 40v1m0 3v2m0 5v1m0 8v2m0 1v1m0 2v1m0 23v1m0 2v1m0 44v1m0 13v2m0 12v1m0 1v2m0 10v2m0 12v1m0 1v1m0 4v1m0 10v2m0 20v4m0 13v1m0 1v1m0 48v1m0 55v1m0 18v1m0 9v1m0 1v2m0 24v1m0 12v1m0 4v1m0 10v1m0 19v1m0 1v2m0 3v2m0 5v1m0 4v1m0 1v1m0 17v1m0 2v1m0 5v3m0 13v2m0 27v1m0 1v1m0 10v2m0 9v1m0 5v2m0 8v2m0 3v1m0 1v1m0 28v2m0 13v1m0 3v2m0 2v1m0 4v1m0 1v1m0 3v1m0 4v2m0 4v1m0 4v3m0 8v1m0 13v1m0 6v2m0 8v2m0 20v2m0 5v1m0 7v1m0 19v1m0 10v1m0 27v1"/>
<path class="j23" d="M0 120v1m0 7v1m0 14v1m0 2v2m0 3v1m0 13v1m0 4v1m0 2v3m0 7v2m0 10v2m0 3v1m0 3v5m0 5v1m0 21v1m0 4v1m0 3v2m0 8v1m0 10v1m0 1v1m0 4v1m0 2v2m0 9v2m0 1v1m0 1v1m0 3v5m0 19v3m0 12v1m0 6v2m0 1v2m0 21v1m0 9v3m0 8v3m0 3v1m0 2v2m0 7v2m0 6v1m0 15v1m0 13v2m0 27v1m0 11v1m0 2v1m0 1v3m0 4v2m0 6v3m0 26v1m0 4v1m0 7v2m0 19v2m0 23v1m0 5v2m0 10v2m0 13v1m0 4v1m0 82v1m0 1v1m0 13v1m0 47v1m0 1v1m0 2v1m0 19v1m0 1v1m0 1v1m0 27v1m0 38v1m0 8v1m0 27v1m0 7v3m0 18v1m0 1v1m0 6v1m0 18v1m0 55v3m0 43v1m0 1v2m0 20v1m0 12v1m0 68v1m0 21v1m0 1v1m0 9v1m0 1v1m0 7v1m0 22v1m0 41v1m0 10v1m0 46v1m0 13v1m0 1v1m0 18v1m0 1v1m0 1v1m0 4v1m0 35v1m0 22v1m0 14v1m0 6v2m0 9v3m0 13v1m0 10v3m0 4v1m0 1v1m0 7v2m0 19v1m0 3v1"/>
<path class="j24" d="M0 118v2m0 1v1m0 3v2m0 7v2m0 8v1m0 19v1m0 17v1m0 5v2m0 28v1m0 12v1m0 7v2m0 6v1m0 4v1m0 14v1m0 4v1m0 1v1m0 16v1m0 10v1m0 33v2m0 31v1m0 7v1m0 3v1m0 4v2m0 8v2m0 2v1m0 15v1m0 17v2m0 28v2m0 19v1m0 1v2m0 50v1m0 1v1m0 53v1m0 15v1m0 5v1m0 70v1m0 44v1m0 69v1m0 1v1m0 5v1m0 12v3m0 10v2m0 37v2m0 64v1m0 153v1m0 33v2m0 43v2m0 35v1m0 9v1m0 120v1m0 1v1m0 13v1m0 22v1m0 14v2m0 46v2m0 16v1m0 19v1m0 13v2m0 7v1m0 8v1m0 3v1m0 9v3m0 3v1m0 8v1m0 1v3"/>
<path class="j25" d="M0 116v2m0 12v3m0 3v1m0 20v1m0 8v1m0 23v1m0 7v2m0 19v1m0 17v2m0 9v4m0 8v3m0 12v1m0 5v3m0 19v2m0 1v2m0 18v3m0 59v1m0 15v1m0 1v1m0 10v2m0 17v1m0 29v1m0 151v2m0 112v1m0 666v1m0 105v1m0 11v2m0 4v1m0 12v2"/>
<path class="j26" d="M0 115v1m0 6v3m0 4v1m0 8v2m0 15v2m0 4v1m0 1v1m0 15v3m0 15v1m0 11v3m0 8v1m0 3v1m0 1v1m0 31v1m0 46v1m0 99v1"/>
<path class="j27" d="M0 133v1m0 3v1m0 24v1m0 62v1m0 1v1m0 1v1m0 27v1m0 1v1"/>
<path class="j28" d="M0 168v2m0 58v1"/>
<path class="j29" d="M0 167v1"/>
</g>
<g stroke-width="6" transform="translate(495)">
<path class="j11" d="M0 736v2m0 223v2"/>
<path class="j12" d="M0 564v3m0 168v1m0 186v2m0 18v1m0 214v1"/>
<path class="j13" d="M0 424v2m0 60v2m0 84v1m0 24v1m0 234v1m0 16v1m0 6v1m0 79v1m0 6v1m0 16v1m0 51v1m0 76v3m0 78v1m0 46v1m0 284v1m0 18v1"/>
<path class="j14" d="M0 423v1m0 64v1m0 78v1m0 30v2m0 192v2m0 39v1m0 21v1m0 1v1m0 48v1m0 9v1m0 4v1m0 16v1m0 5v1m0 18v1m0 11v1m0 1v1m0 21v1m0 13v1m0 51v1m0 13v1m0 5v1m0 14v1m0 72v3m0 4v1m0 2v2m0 135v2m0 156v1m0 6v1m0 14v1m0 21v2"/>
<path class="j15" d="M0 115v1m0 242v1m0 4v3m0 47v1m0 43v1m0 34v1m0 43v1m0 33v2m0 83v2m0 49v1m0 13v1m0 21v1m0 4v1m0 46v1m0 18v1m0 4v1m0 12v1m0 2v2m0 14v1m0 8v2m0 10v2m0 2v1m0 29v1m0 3v3m0 3v1m0 21v1m0 10v1m0 1v1m0 20v1m0 4v1m0 23v2m0 9v1m0 33v1m0 20v2m0 5v1m0 4v1m0 1v2m0 1v2m0 7v2m0 4v2m0 3v1m0 18v1m0 8v3m0 22v1m0 22v1m0 1v1m0 9v1m0 18v2m0 4v1m0 9v1m0 13v1m0 69v1m0 11v4m0 17v1m0 5v1m0 27v1m0 12v2m0 30v1m0 6v2m0 13v1m0 41v1m0 14v1m0 9v1"/>
<path class="j16" d="M0 116v1m0 117v2m0 54v1m0 66v1m0 1v1m0 22v1m0 2v1m0 26v1m0 16v1m0 24v1m0 1v1m0 1v1m0 6v1m0 15v1m0 11v1m0 23v1m0 12v1m0 4v1m0 32v2m0 3v1m0 4v1m0 12v2m0 43v1m0 2v2m0 13v1m0 8v1m0 10v1m0 8v1m0 21v1m0 1v1m0 3v1m0 26v1m0 4v1m0 4v2m0 5v1m0 3v2m0 2v1m0 3v2m0 17v1m0 27v1m0 2v1m0 18v1m0 33v1m0 2v2m0 20v4m0 8v2m0 8v1m0 6v1m0 1v1m0 2v1m0 9v2m0 8v1m0 1v1m0 12v1m0 5v1m0 14v2m0 17v1m0 25v2m0 39v2m0 1v1m0 7v1m0 11v1m0 22v2m0 27v3m0 6v1m0 4v1m0 5v1m0 4v1m0 37v1m0 8v1m0 1v1m0 18v1m0 1v1m0 29v1m0 11v1m0 7v2m0 8v1m0 7v1m0 32v1m0 11v1m0 11v1m0 11v1m0 10v1m0 17v2m0 10v2m0 2v2m0 3v1m0 8v1m0 5v1m0 1v1m0 24v2m0 4v2m0 51v1m0 14v1"/>
<path class="j17" d="M0 133v1m0 3v1m0 116v1m0 21v1m0 11v2m0 51v1m0 3v3m0 3v1m0 31v1m0 4v2m0 40v2m0 6v2m0 1v3m0 16v5m0 1v1m0 3v1m0 9v1m0 1v1m0 11v1m0 19v1m0 1v1m0 1v1m0 6v5m0 4v1m0 41v2m0 15v1m0 7v1m0 8v1m0 4v1m0 17v1m0 9v2m0 19v2m0 9v1m0 6v1m0 10v3m0 4v1m0 20v2m0 6v1m0 2v1m0 8v1m0 4v1m0 6v2m0 6v2m0 1v1m0 4v5m0 6v2m0 15v3m0 15v2m0 8v3m0 9v3m0 11v1m0 9v1m0 21v5m0 4v3m0 6v1m0 10v1m0 12v1m0 9v1m0 5v1m0 10v3m0 10v1m0 3v1m0 14v1m0 13v1m0 25v2m0 1v1m0 1v1m0 14v1m0 4v1m0 3v1m0 2v1m0 1v1m0 18v1m0 8v3m0 8v1m0 4v1m0 4v1m0 1v2m0 4v2m0 2v1m0 3v1m0 12v1m0 7v2m0 6v3m0 3v1m0 5v2m0 6v1m0 3v1m0 5v1m0 9v2m0 25v1m0 1v2m0 2v1m0 1v1m0 14v3m0 6v3m0 4v1m0 8v1m0 16v1m0 5v1m0 5v4m0 8v1m0 4v1m0 27v1m0 2v1m0 2v2m0 1v1m0 2v1m0 2v2m0 7v1m0 1v1m0 11v1m0 29v1m0 11v1m0 3v1m0 12v2m0 32v1m0 1v1m0 12v1m0 21v2m0 17v1m0 14v1m0 8v2"/>
<path class="j18" d="M0 132v1m0 3v1m0 116v1m0 11v1m0 3v1m0 7v2m0 36v1m0 11v1m0 2v1m0 1v1m0 19v1m0 13v1m0 14v1m0 2v1m0 1v1m0 5v2m0 17v1m0 5v5m0 4v1m0 8v1m0 4v1m0 12v1m0 1v1m0 11v1m0 1v1m0 28v2m0 7v3m0 3v1m0 1v1m0 39v1m0 4v2m0 12v2m0 24v1m0 1v1m0 6v1m0 1v1m0 4v3m0 1v3m0 3v1m0 3v1m0 3v1m0 2v2m0 28v2m0 2v1m0 7v1m0 1v1m0 14v1m0 4v1m0 11v1m0 14v1m0 1v2m0 1v2m0 4v2m0 9v3m0 4v1m0 8v1m0 8v1m0 2v2m0 2v1m0 2v1m0 1v2m0 6v2m0 6v1m0 2v1m0 1v1m0 15v1m0 4v1m0 15v1m0 6v3m0 3v1m0 3v2m0 18v1m0 6v1m0 1v1m0 7v2m0 1v3m0 8v1m0 5v1m0 7v2m0 5v1m0 12v1m0 8v1m0 9v1m0 28v2m0 6v1m0 10v4m0 5v1m0 4v1m0 6v1m0 12v1m0 5v2m0 1v1m0 1v1m0 15v2m0 24v1m0 6v1m0 2v4m0 6v1m0 2v1m0 3v3m0 4v1m0 1v1m0 1v1m0 3v1m0 15v1m0 25v1m0 8v2m0 4v3m0 1v1m0 7v1m0 2v1m0 7v2m0 4v2m0 1v1m0 3v2m0 19v1m0 1v1m0 3v1m0 2v1m0 3v1m0 1v1m0 2v3m0 4v1m0 2v5m0 3v1m0 6v1m0 3v1m0 7v1m0 4v2m0 7v1m0 18v1m0 6v1m0 2v1m0 13v1m0 11v2m0 27v2m0 14v1m0 13v1m0 16v1m0 3v2m0 6v1m0 5v1m0 3v1m0 14v2m0 46v1m0 8v1"/>
<path class="j19" d="M0 124v1m0 9v1m0 3v1m0 5v1m0 2v1m0 28v1m0 13v1m0 45v1m0 11v1m0 3v1m0 6v1m0 2v1m0 3v2m0 2v3m0 2v1m0 20v1m0 15v1m0 8v2m0 5v1m0 2v1m0 4v2m0 1v2m0 1v1m0 10v1m0 13v5m0 1v1m0 4v2m0 15v1m0 5v1m0 5v1m0 6v1m0 1v1m0 5v1m0 4v2m0 7v2m0 9v1m0 1v1m0 21v5m0 3v1m0 17v1m0 2v2m0 8v2m0 9v1m0 11v1m0 4v1m0 2v2m0 13v4m0 2v2m0 15v1m0 2v1m0 1v1m0 11v1m0 6v2m0 14v1m0 11v2m0 2v1m0 5v2m0 6v5m0 8v1m0 3v1m0 2v2m0 1v2m0 2v3m0 1v1m0 6v3m0 7v3m0 8v3m0 1v1m0 10v1m0 20v2m0 10v1m0 1v1m0 6v1m0 8v1m0 1v2m0 6v1m0 15v3m0 1v2m0 1v1m0 1v1m0 1v2m0 6v1m0 3v1m0 4v1m0 1v1m0 12v2m0 1v3m0 27v1m0 2v1m0 8v1m0 1v1m0 23v1m0 3v1m0 14v1m0 11v2m0 8v1m0 11v2m0 3v3m0 6v2m0 4v3m0 3v2m0 2v1m0 4v1m0 2v1m0 1v1m0 10v3m0 5v1m0 9v2m0 8v1m0 3v1m0 9v1m0 9v1m0 25v1m0 7v3m0 13v1m0 13v1m0 3v1m0 24v1m0 5v1m0 7v1m0 8v1m0 9v1m0 1v1m0 4v1m0 1v1m0 2v1m0 4v1m0 14v1m0 2v1m0 1v1m0 4v1m0 7v2m0 1v1m0 15v1m0 2v2m0 8v1m0 2v1m0 12v2m0 6v2m0 2v1m0 4v1m0 7v1m0 7v2m0 7v1m0 1v2m0 6v1m0 4v1m0 6v1m0 3v2m0 4v1m0 1v1m0 5v1m0 3v1m0 5v3m0 7v1m0 3v1m0 1v2m0 8v1m0 14v1m0 8v1m0 4v2m0 8v1m0 2v3m0 1v1m0 4v1m0 4v1m0 11v2m0 11v1m0 5v1m0 17v1m0 7v3m0 2v1m0 7v1m0 9v3"/>
<path class="j20" d="M0 122v2m0 11v1m0 3v2m0 1v2m0 1v2m0 17v1m0 3v1m0 5v1m0 14v1m0 8v1m0 8v2m0 10v3m0 3v1m0 30v1m0 1v1m0 1v1m0 2v1m0 4v1m0 4v2m0 8v1m0 3v1m0 4v2m0 1v1m0 11v5m0 1v2m0 1v2m0 1v2m0 8v1m0 8v1m0 9v1m0 1v1m0 21v1m0 1v1m0 5v1m0 6v1m0 2v2m0 2v1m0 1v2m0 2v1m0 4v2m0 1v2m0 5v1m0 16v1m0 13v1m0 1v1m0 10v1m0 8v1m0 7v3m0 12v1m0 4v1m0 5v1m0 2v1m0 6v1m0 6v2m0 16v1m0 1v2m0 3v5m0 5v1m0 28v1m0 1v6m0 4v1m0 9v1m0 17v1m0 1v1m0 3v1m0 15v2m0 1v1m0 8v1m0 1v1m0 24v3m0 3v3m0 9v3m0 11v1m0 2v1m0 4v1m0 1v2m0 55v1m0 26v1m0 9v3m0 43v3m0 8v2m0 1v1m0 39v1m0 11v1m0 50v1m0 6v3m0 13v1m0 14v2m0 9v3m0 3v4m0 5v1m0 3v2m0 8v4m0 30v1m0 29v3m0 12v1m0 1v1m0 6v3m0 9v1m0 5v1m0 10v1m0 8v1m0 1v2m0 6v1m0 9v1m0 26v2m0 9v1m0 2v1m0 1v1m0 13v1m0 8v2m0 4v2m0 24v1m0 1v1m0 6v3m0 12v5m0 1v1m0 1v1m0 2v1m0 19v1m0 3v1m0 9v2m0 22v2m0 1v1m0 2v3m0 9v2m0 13v3m0 1v1m0 10v1m0 2v2m0 1v2m0 13v1m0 5v1m0 14v2m0 1v2m0 3v1m0 6v1m0 1v4m0 3v1m0 2v1m0 2v1m0 1v1m0 3v1m0 6v1"/>
<path class="j21" d="M0 118v1m0 2v1m0 3v1m0 22v2m0 6v1m0 2v1m0 3v1m0 5v1m0 5v1m0 1v1m0 6v4m0 3v1m0 7v3m0 7v2m0 6v1m0 4v1m0 3v2m0 2v1m0 6v3m0 7v1m0 7v1m0 1v1m0 3v1m0 2v1m0 14v1m0 2v1m0 1v1m0 1v1m0 4v1m0 2v1m0 8v4m0 11v1m0 4v4m0 6v1m0 1v1m0 7v2m0 4v1m0 4v3m0 3v1m0 1v1m0 12v2m0 21v2m0 10v1m0 22v1m0 10v1m0 5v2m0 31v3m0 9v1m0 7v2m0 1v1m0 24v2m0 10v1m0 5v5m0 26v2m0 12v1m0 11v2m0 16v1m0 2v2m0 18v1m0 10v1m0 1v2m0 52v1m0 2v1m0 7v1m0 63v3m0 48v3m0 21v2m0 3v1m0 11v1m0 48v2m0 25v3m0 18v3m0 27v1m0 33v2m0 25v1m0 71v1m0 20v1m0 5v1m0 19v1m0 10v1m0 6v1m0 7v1m0 39v2m0 4v1m0 73v1m0 24v1m0 1v1m0 9v1m0 11v3m0 6v2m0 1v1m0 1v1m0 17v1m0 2v1m0 15v1m0 12v2m0 10v1m0 5v2m0 15v3m0 5v1m0 7v1m0 5v1m0 8v2m0 1v1m0 2v1m0 12v1m0 1v1m0 1v2m0 1v1m0 7v1"/>
<path class="j22" d="M0 119v2m0 8v2m0 10v1m0 15v2m0 1v3m0 7v1m0 7v4m0 1v1m0 4v1m0 13v1m0 8v2m0 3v1m0 1v1m0 4v1m0 4v2m0 1v1m0 11v4m0 33v2m0 3v1m0 11v1m0 2v3m0 31v1m0 26v1m0 15v1m0 26v1m0 29v1m0 10v1m0 6v1m0 36v2m0 31v2m0 84v1m0 3v3m0 100v1m0 2v1m0 290v2m0 57v1m0 187v1m0 4v2m0 109v2m0 20v1m0 18v2m0 45v1m0 3v1m0 32v1m0 35v1m0 1v1m0 4v2"/>
<path class="j23" d="M0 117v1m0 10v1m0 2v1m0 21v3m0 9v1m0 16v1m0 9v2m0 2v2m0 6v2m0 8v2m0 8v1m0 7v2m0 15v1m0 152v2m0 120v1m0 1020v2"/>
<path class="j24" d="M0 127v1m0 22v3m0 14v1m0 3v2m0 21v2m0 7v1m0 2v1m0 6v1m0 84v2"/>
<path class="j25" d="M0 126v1m0 39v1m0 6v1m0 66v1m0 1v1m0 7v2"/>
<path class="j26" d="M0 241v1"/>
</g>
<g stroke-width="5" transform="translate(500.5)">
<path class="j11" d="M0 681v2m0 102v1m0 16v1m0 99v1m0 114v1m0 19v2m0 4v3m0 31v1m0 106v1m0 90v2m0 92v1"/>
<path class="j12" d="M0 470v1m0 14v1m0 12v1m0 87v1m0 4v1m0 57v1m0 81v2m0 67v2m0 87v1m0 126v1m0 22v1m0 118v1m0 26v2m0 30v1m0 53v1m0 45v1m0 109v3"/>
<path class="j13" d="M0 350v1m0 120v2m0 14v1m0 11v1m0 18v3m0 63v2m0 4v1m0 1v1m0 17v1m0 37v1m0 31v1m0 39v2m0 11v1m0 26v3m0 5v1m0 9v1m0 7v1m0 7v1m0 71v2m0 4v2m0 14v1m0 5v2m0 22v1m0 40v1m0 1v1m0 28v2m0 26v1m0 44v1m0 14v1m0 20v1m0 47v1m0 3v3m0 3v1m0 45v2m0 13v1m0 3v1m0 33v3m0 15v1m0 41v1m0 1v1m0 11v1m0 9v1m0 59v2m0 28v1m0 3v1m0 64v3"/>
<path class="j14" d="M0 140v1m0 31v1m0 83v1m0 26v1m0 67v2m0 37v1m0 6v1m0 24v2m0 8v1m0 11v2m0 33v1m0 6v1m0 10v1m0 8v1m0 5v1m0 38v2m0 7v3m0 42v1m0 2v2m0 4v1m0 35v1m0 8v1m0 3v1m0 1v1m0 17v1m0 9v1m0 16v1m0 8v1m0 3v2m0 34v1m0 3v1m0 3v1m0 1v1m0 6v2m0 1v1m0 7v1m0 5v1m0 1v1m0 9v1m0 2v2m0 10v1m0 11v1m0 7v2m0 26v1m0 5v1m0 9v1m0 2v1m0 5v1m0 2v2m0 5v2m0 12v1m0 1v1m0 1v2m0 5v1m0 6v1m0 5v1m0 18v1m0 28v1m0 5v3m0 38v1m0 9v3m0 12v1m0 2v3m0 1v2m0 6v1m0 9v1m0 11v1m0 16v3m0 3v1m0 3v2m0 18v2m0 12v1m0 3v3m0 21v1m0 21v3m0 1v4m0 2v1m0 1v1m0 1v1m0 14v1m0 33v2m0 36v1m0 1v1m0 16v1m0 37v2m0 19v2m0 6v1m0 5v1m0 6v1m0 16v1m0 4v1m0 1v1m0 3v1m0 2v1"/>
<path class="j15" d="M0 141v1m0 28v2m0 83v1m0 26v1m0 30v1m0 10v1m0 9v1m0 14v1m0 5v1m0 18v1m0 14v1m0 3v1m0 2v1m0 27v1m0 8v1m0 9v1m0 32v3m0 1v1m0 60v1m0 3v1m0 7v1m0 1v2m0 58v2m0 15v1m0 1v1m0 12v1m0 4v1m0 7v1m0 3v1m0 1v1m0 9v3m0 5v2m0 6v1m0 16v1m0 1v2m0 9v1m0 21v1m0 10v1m0 2v1m0 6v1m0 14v2m0 14v1m0 6v2m0 2v1m0 6v1m0 3v2m0 4v1m0 4v3m0 7v1m0 3v1m0 8v2m0 31v1m0 12v1m0 21v1m0 4v3m0 4v1m0 3v2m0 4v1m0 59v3m0 1v1m0 28v1m0 26v1m0 4v1m0 17v1m0 1v1m0 9v1m0 5v1m0 6v2m0 10v1m0 19v3m0 3v1m0 7v1m0 10v1m0 1v6m0 13v2m0 6v2m0 4v1m0 5v1m0 3v1m0 7v1m0 4v1m0 1v2m0 21v2m0 1v2m0 4v2m0 1v3m0 2v2m0 18v2m0 3v1m0 18v1m0 10v3m0 3v1m0 12v2m0 52v1m0 1v2m0 25v2m0 6v1m0 5v2m0 1v1m0 2v1m0 9v2m0 13v1m0 20v3m0 2v1m0 6v3m0 18v1m0 11v1"/>
<path class="j16" d="M0 142v3m0 60v1m0 13v1m0 53v2m0 4v1m0 16v2m0 25v1m0 1v1m0 6v2m0 1v1m0 11v2m0 13v3m0 1v1m0 16v1m0 8v1m0 8v3m0 5v1m0 18v1m0 2v1m0 8v1m0 27v2m0 41v1m0 1v1m0 3v1m0 16v1m0 4v2m0 2v2m0 1v1m0 7v1m0 11v3m0 4v2m0 1v2m0 1v3m0 1v1m0 10v1m0 1v3m0 1v2m0 4v2m0 3v3m0 7v2m0 10v1m0 17v1m0 5v2m0 2v1m0 5v1m0 7v1m0 3v1m0 7v1m0 1v1m0 4v1m0 32v1m0 10v1m0 4v1m0 1v1m0 3v2m0 2v2m0 1v2m0 6v1m0 5v1m0 4v1m0 8v1m0 6v2m0 13v1m0 5v2m0 1v1m0 5v1m0 1v1m0 2v3m0 13v1m0 1v1m0 6v1m0 4v1m0 4v2m0 6v1m0 16v1m0 28v1m0 8v1m0 8v2m0 3v3m0 2v1m0 4v2m0 15v1m0 26v3m0 6v1m0 3v1m0 6v1m0 2v1m0 18v1m0 44v2m0 8v1m0 19v1m0 2v1m0 1v1m0 9v1m0 12v1m0 28v1m0 1v1m0 9v1m0 2v1m0 8v3m0 5v1m0 25v1m0 1v1m0 2v6m0 4v1m0 4v3m0 5v1m0 2v1m0 5v1m0 3v2m0 19v1m0 6v1m0 2v1m0 4v5m0 3v1m0 3v1m0 1v1m0 9v3m0 11v1m0 38v1m0 3v2m0 6v1m0 3v1m0 4v1m0 10v1m0 2v2m0 20v1m0 6v2m0 4v3m0 9v1m0 3v1m0 2v2m0 1v1m0 3v1m0 4v1m0 5v1m0 7v1m0 28v1m0 6v3m0 2v1m0 12v1"/>
<path class="j17" d="M0 124v1m0 6v1m0 61v1m0 22v1m0 1v1m0 1v1m0 8v1m0 21v1m0 2v1m0 23v1m0 11v2m0 6v1m0 3v1m0 8v2m0 23v1m0 16v2m0 3v1m0 6v1m0 9v2m0 5v1m0 8v1m0 2v2m0 2v1m0 5v1m0 2v2m0 4v1m0 2v3m0 10v1m0 4v2m0 3v1m0 1v2m0 3v2m0 2v2m0 6v2m0 7v1m0 5v3m0 5v1m0 6v3m0 3v1m0 10v1m0 1v1m0 6v3m0 5v3m0 1v2m0 1v2m0 2v1m0 1v1m0 6v1m0 4v1m0 2v1m0 8v1m0 3v2m0 5v1m0 1v1m0 2v1m0 2v1m0 3v1m0 4v3m0 3v1m0 1v1m0 3v1m0 31v1m0 3v1m0 2v1m0 3v3m0 11v1m0 5v1m0 5v3m0 3v1m0 11v1m0 1v1m0 8v1m0 4v2m0 3v2m0 5v3m0 8v2m0 1v1m0 8v1m0 1v1m0 8v1m0 2v2m0 13v1m0 4v4m0 7v2m0 4v2m0 20v2m0 4v1m0 5v1m0 2v1m0 7v6m0 8v1m0 6v1m0 5v1m0 2v3m0 4v2m0 4v2m0 2v2m0 19v1m0 12v1m0 1v1m0 6v1m0 20v2m0 1v1m0 2v2m0 12v1m0 1v2m0 3v3m0 3v3m0 4v2m0 25v1m0 1v2m0 7v3m0 6v3m0 8v1m0 9v3m0 4v2m0 9v2m0 2v2m0 5v2m0 1v1m0 3v1m0 1v4m0 6v1m0 1v1m0 1v1m0 2v2m0 4v1m0 4v1m0 4v1m0 3v1m0 1v1m0 3v4m0 1v1m0 10v2m0 3v2m0 5v1m0 17v2m0 1v2m0 15v3m0 3v2m0 28v3m0 2v1m0 28v1m0 7v1m0 1v1m0 3v3m0 3v3m0 3v1m0 1v1m0 8v1m0 7v1m0 22v2m0 4v3m0 12v3m0 3v3m0 3v2m0 4v2m0 6v1m0 26v2m0 5v1m0 1v4m0 12v1m0 8v3m0 3v3m0 2v1m0 4v3m0 9v1m0 6v1m0 3v1m0 1v1m0 7v1m0 26v1m0 2v1m0 7v1m0 3v1m0 2v2m0 7v2m0 1v1m0 1v1"/>
<path class="j18" d="M0 123v1m0 8v1m0 6v1m0 5v1m0 12v3m0 3v3m0 36v2m0 1v2m0 2v2m0 3v1m0 1v1m0 6v5m0 9v1m0 13v1m0 4v3m0 6v2m0 4v1m0 7v2m0 10v1m0 2v1m0 4v2m0 3v3m0 29v4m0 4v2m0 10v1m0 1v3m0 5v1m0 12v2m0 2v2m0 2v1m0 11v1m0 4v2m0 3v1m0 1v1m0 1v2m0 3v3m0 4v1m0 11v1m0 9v1m0 11v4m0 20v1m0 10v2m0 3v3m0 5v3m0 14v1m0 2v1m0 2v2m0 3v3m0 10v1m0 7v2m0 6v1m0 3v1m0 1v1m0 30v3m0 12v2m0 1v1m0 3v3m0 2v2m0 5v2m0 1v1m0 1v1m0 3v1m0 25v3m0 16v1m0 4v2m0 4v1m0 2v3m0 10v2m0 10v2m0 3v3m0 3v1m0 6v1m0 42v1m0 7v2m0 17v1m0 27v2m0 1v3m0 4v1m0 1v1m0 17v1m0 2v2m0 3v1m0 15v2m0 7v6m0 17v1m0 14v1m0 7v2m0 2v1m0 3v2m0 4v1m0 6v2m0 3v1m0 2v1m0 3v2m0 11v1m0 6v4m0 9v2m0 3v3m0 12v2m0 7v1m0 5v4m0 13v2m0 9v1m0 17v1m0 3v2m0 12v1m0 8v1m0 1v1m0 1v1m0 27v1m0 1v1m0 12v2m0 16v1m0 1v1m0 11v1m0 39v1m0 22v1m0 7v1m0 20v2m0 6v2m0 10v3m0 9v6m0 18v1m0 1v1m0 14v1m0 35v1m0 6v1m0 3v1m0 37v3m0 5v2m0 4v2m0 5v1m0 2v3m0 3v1m0 8v1m0 8v1m0 6v2m0 6v1m0 4v1m0 7v1m0 3v2m0 7v1m0 3v1"/>
<path class="j19" d="M0 122v1m0 2v1m0 7v3m0 2v1m0 8v2m0 27v1m0 2v1m0 1v1m0 9v2m0 1v1m0 13v2m0 3v1m0 23v1m0 1v1m0 5v3m0 5v1m0 10v2m0 2v4m0 12v1m0 2v1m0 5v2m0 4v1m0 3v2m0 15v1m0 8v2m0 13v1m0 11v1m0 12v5m0 3v3m0 6v2m0 11v1m0 11v1m0 13v1m0 1v1m0 2v1m0 5v2m0 11v1m0 2v3m0 1v2m0 24v2m0 8v2m0 9v2m0 16v1m0 26v1m0 74v1m0 3v2m0 11v1m0 5v1m0 6v1m0 37v1m0 21v1m0 27v2m0 3v1m0 50v1m0 60v2m0 22v1m0 7v3m0 12v2m0 22v2m0 21v2m0 3v1m0 11v2m0 3v1m0 6v2m0 3v1m0 11v2m0 19v1m0 8v1m0 1v1m0 19v2m0 42v3m0 23v1m0 10v1m0 8v1m0 36v1m0 16v1m0 53v2m0 44v1m0 3v1m0 50v2m0 2v2m0 1v1m0 5v2m0 23v1m0 4v2m0 12v2m0 8v2m0 57v1m0 12v2m0 7v2m0 7v1m0 4v1m0 3v2m0 1v2m0 6v3m0 16v1m0 6v1"/>
<path class="j20" d="M0 117v1m0 8v2m0 2v1m0 5v2m0 8v1m0 2v1m0 4v2m0 5v3m0 3v3m0 3v1m0 3v2m0 1v1m0 4v2m0 1v3m0 6v2m0 13v1m0 1v1m0 15v5m0 1v1m0 3v1m0 44v2m0 1v1m0 19v3m0 3v1m0 1v1m0 4v1m0 4v2m0 3v1m0 9v1m0 1v1m0 24v1m0 86v1m0 10v1m0 24v1m0 127v1m0 34v2m0 42v3m0 206v1m0 48v1m0 72v1m0 109v1m0 1v1m0 99v3m0 36v3m0 63v3m0 2v2m0 8v1m0 11v2m0 4v1m0 5v2m0 4v1m0 11v3m0 70v2m0 29v2m0 5v1m0 2v1m0 23v4"/>
<path class="j21" d="M0 118v1m0 1v2m0 6v2m0 20v4m0 2v1m0 17v2m0 6v1m0 4v1m0 7v2m0 2v1m0 2v1m0 18v1m0 19v4m0 5v1m0 9v4m0 11v2m0 12v1m0 25v1m0 6v1m0 5v1m0 13v1m0 121v2m0 909v1m0 4v2m0 127v2"/>
<path class="j22" d="M0 115v2m0 2v1m0 37v1m0 25v1m0 17v1m0 20v2m0 11v1m0 12v2m0 27v1m0 39v3"/>
<path class="j23" d="M0 184v1m0 15v1"/>
</g>
<g stroke-width="4" transform="translate(505)">
<path class="j10" d="M0 620v3m0 115v2m0 324v3m0 258v2"/>
<path class="j11" d="M0 563v2m0 19v2m0 21v1m0 11v1m0 27v2m0 19v1m0 186v1m0 3v2m0 17v2m0 134v2m0 7v1m0 166v1m0 8v1m0 61v1m0 65v1m0 41v1m0 25v2m0 155v1"/>
<path class="j12" d="M0 120v2m0 154v2m0 98v1m0 53v1m0 95v1m0 28v2m0 8v1m0 20v1m0 19v1m0 1v1m0 6v1m0 2v1m0 30v1m0 9v2m0 29v2m0 40v1m0 4v1m0 14v1m0 14v1m0 1v1m0 51v1m0 1v1m0 32v1m0 1v1m0 2v1m0 9v1m0 4v1m0 3v1m0 24v3m0 25v1m0 37v1m0 41v1m0 8v1m0 1v1m0 38v1m0 37v1m0 31v1m0 44v2m0 11v1m0 4v3m0 1v2m0 8v2m0 47v2m0 79v3m0 55v1m0 19v2"/>
<path class="j13" d="M0 119v1m0 140v3m0 12v1m0 67v1m0 14v1m0 39v3m0 38v1m0 41v1m0 21v3m0 18v2m0 14v1m0 7v3m0 3v1m0 47v4m0 3v2m0 1v1m0 1v1m0 2v1m0 16v1m0 3v1m0 22v1m0 1v1m0 3v1m0 1v1m0 13v1m0 5v1m0 41v1m0 1v1m0 12v2m0 5v2m0 10v1m0 2v1m0 42v1m0 3v1m0 6v1m0 1v1m0 29v1m0 2v1m0 4v1m0 1v1m0 1v2m0 2v1m0 4v1m0 24v1m0 1v3m0 16v2m0 11v1m0 18v6m0 7v2m0 2v1m0 1v1m0 20v1m0 2v1m0 13v2m0 42v1m0 7v1m0 21v2m0 10v1m0 3v1m0 1v1m0 14v3m0 14v1m0 2v1m0 26v1m0 2v1m0 24v1m0 19v1m0 1v2m0 7v1m0 1v1m0 6v1m0 2v2m0 4v1m0 5v3m0 4v2m0 6v1m0 53v1m0 7v1m0 11v1m0 31v1m0 1v1m0 23v1m0 2v1m0 1v1m0 27v2m0 10v1m0 1v1m0 20v1m0 3v1m0 9v2m0 5v1m0 3v3m0 2v1m0 5v1m0 51v2m0 1v1"/>
<path class="j14" d="M0 123v1m0 26v2m0 50v1m0 38v2m0 51v1m0 19v2m0 15v1m0 9v2m0 10v2m0 1v2m0 17v1m0 1v1m0 4v2m0 1v2m0 2v2m0 13v1m0 24v1m0 4v2m0 2v1m0 22v1m0 4v1m0 6v2m0 5v1m0 4v1m0 2v1m0 7v1m0 3v1m0 1v1m0 6v2m0 4v1m0 5v2m0 8v1m0 7v1m0 1v1m0 11v1m0 3v1m0 11v3m0 1v1m0 3v2m0 4v1m0 27v1m0 1v1m0 19v1m0 23v2m0 3v1m0 3v1m0 3v1m0 6v1m0 6v2m0 8v1m0 7v1m0 2v2m0 7v2m0 18v2m0 4v6m0 2v1m0 9v3m0 3v1m0 1v1m0 6v1m0 11v1m0 9v1m0 20v1m0 8v2m0 14v2m0 3v2m0 17v1m0 2v2m0 7v1m0 21v1m0 1v1m0 18v1m0 5v2m0 4v1m0 14v1m0 4v1m0 12v1m0 2v2m0 3v1m0 10v2m0 6v1m0 1v2m0 1v1m0 2v1m0 11v1m0 3v1m0 1v2m0 26v3m0 1v2m0 1v1m0 1v1m0 4v2m0 11v3m0 3v5m0 8v4m0 8v3m0 8v2m0 3v3m0 4v1m0 7v2m0 1v1m0 5v2m0 17v1m0 1v2m0 1v1m0 6v1m0 4v1m0 8v1m0 15v1m0 1v3m0 3v1m0 2v1m0 4v2m0 1v1m0 2v2m0 4v2m0 2v1m0 25v2m0 5v1m0 18v1m0 6v2m0 10v2m0 1v2m0 6v1m0 11v1m0 3v1m0 28v1m0 2v1m0 3v1m0 20v1m0 20v5m0 2v1m0 19v1m0 1v1m0 7v1m0 10v1m0 5v2m0 6v1m0 21v1"/>
<path class="j15" d="M0 122v1m0 1v1m0 24v1m0 5v1m0 20v1m0 48v2m0 2v1m0 9v2m0 2v2m0 21v1m0 7v1m0 18v1m0 1v1m0 1v1m0 18v1m0 6v1m0 4v3m0 8v2m0 14v1m0 14v1m0 7v1m0 2v1m0 2v1m0 6v1m0 5v1m0 7v1m0 17v2m0 1v1m0 9v2m0 2v6m0 16v2m0 1v1m0 3v1m0 5v1m0 1v1m0 1v1m0 7v1m0 1v1m0 1v1m0 1v1m0 7v1m0 9v1m0 4v1m0 6v1m0 3v2m0 1v1m0 1v1m0 9v1m0 2v1m0 12v1m0 3v1m0 3v2m0 6v3m0 4v2m0 4v1m0 3v2m0 23v1m0 7v4m0 4v1m0 2v3m0 1v1m0 4v1m0 5v3m0 11v2m0 8v3m0 1v2m0 12v2m0 6v2m0 1v2m0 2v4m0 2v1m0 6v4m0 12v1m0 12v3m0 19v2m0 1v2m0 4v2m0 2v1m0 1v2m0 1v2m0 3v1m0 7v6m0 2v1m0 3v1m0 2v1m0 9v2m0 7v2m0 1v2m0 2v2m0 3v3m0 12v1m0 8v2m0 7v9m0 2v1m0 2v1m0 23v1m0 8v1m0 1v2m0 13v1m0 2v1m0 12v2m0 16v1m0 3v1m0 3v2m0 10v1m0 3v2m0 12v1m0 2v2m0 6v2m0 2v2m0 15v1m0 2v1m0 3v1m0 2v1m0 9v4m0 3v1m0 1v1m0 7v2m0 3v1m0 5v1m0 5v1m0 19v1m0 1v2m0 1v2m0 9v2m0 2v1m0 2v1m0 7v3m0 3v2m0 12v1m0 1v2m0 9v2m0 17v1m0 13v1m0 5v1m0 15v2m0 2v1m0 3v2m0 1v1m0 11v2m0 2v1m0 5v1m0 7v4m0 3v2m0 3v1m0 14v1m0 4v1m0 1v2m0 1v1m0 1v2m0 5v2m0 1v1m0 1v1m0 14v1m0 2v1m0 10v1m0 1v2m0 5v1m0 1v2m0 3v3m0 2v1m0 6v1m0 1v1m0 18v1m0 9v2m0 1v1m0 3v1m0 1v6m0 7v2m0 1v1m0 1v1m0 1v3m0 9v3m0 3v1m0 2v1m0 6v4m0 1v3m0 3v2m0 10v1m0 6v1"/>
<path class="j16" d="M0 131v1m0 11v1m0 3v2m0 3v2m0 2v3m0 3v2m0 6v2m0 2v2m0 1v5m0 11v2m0 5v2m0 6v1m0 15v1m0 3v1m0 1v1m0 7v1m0 9v6m0 14v1m0 1v4m0 24v1m0 1v2m0 1v2m0 4v1m0 14v1m0 1v2m0 4v1m0 5v1m0 5v2m0 1v3m0 1v2m0 15v2m0 4v1m0 4v2m0 6v2m0 6v2m0 9v2m0 5v2m0 2v1m0 1v4m0 2v1m0 1v2m0 2v1m0 24v2m0 2v1m0 3v1m0 2v2m0 1v2m0 4v1m0 1v1m0 5v1m0 1v1m0 3v1m0 1v1m0 2v1m0 1v1m0 14v3m0 2v1m0 2v1m0 8v1m0 3v2m0 8v2m0 1v1m0 4v2m0 6v1m0 8v1m0 3v1m0 6v2m0 7v3m0 5v2m0 25v1m0 4v3m0 9v1m0 2v1m0 2v1m0 6v4m0 14v1m0 8v3m0 12v5m0 11v2m0 3v2m0 1v1m0 4v1m0 1v2m0 2v1m0 24v3m0 3v3m0 6v1m0 5v4m0 2v2m0 4v1m0 2v3m0 2v1m0 1v2m0 1v1m0 6v2m0 2v2m0 4v3m0 8v4m0 2v1m0 2v1m0 6v1m0 28v1m0 15v2m0 1v2m0 1v1m0 11v5m0 3v3m0 10v1m0 6v2m0 6v1m0 1v1m0 3v2m0 7v2m0 2v2m0 10v1m0 1v2m0 1v3m0 3v1m0 2v3m0 6v1m0 8v3m0 15v3m0 2v2m0 3v8m0 14v2m0 8v2m0 8v1m0 10v3m0 8v1m0 7v2m0 15v1m0 16v2m0 4v3m0 1v3m0 8v1m0 9v2m0 8v1m0 1v3m0 6v1m0 23v2m0 12v1m0 8v1m0 3v2m0 6v1m0 3v3m0 8v2m0 2v2m0 1v1m0 1v4m0 7v2m0 10v2m0 6v1m0 5v2m0 6v1m0 6v1m0 4v1m0 9v2m0 2v2m0 1v2m0 1v2m0 2v1m0 3v2m0 13v3m0 3v2m0 6v1m0 9v5m0 2v1m0 2v1m0 10v1m0 2v1m0 1v1m0 10v2m0 4v1m0 2v1m0 1v1m0 5v1m0 1v2m0 2v1m0 9v2m0 1v1m0 4v1m0 14v1m0 2v1m0 2v3m0 1v2m0 3v1m0 1v1m0 5v1m0 3v1m0 5v1m0 5v3m0 6v6"/>
<path class="j17" d="M0 115v1m0 1v2m0 14v2m0 4v1m0 6v1m0 7v1m0 6v1m0 4v2m0 14v3m0 1v2m0 4v1m0 2v1m0 1v1m0 1v1m0 3v2m0 15v1m0 6v1m0 4v6m0 18v1m0 6v1m0 3v1m0 1v1m0 8v2m0 3v4m0 3v2m0 4v1m0 2v1m0 2v1m0 5v1m0 3v2m0 8v1m0 2v1m0 7v2m0 1v1m0 9v1m0 3v1m0 8v1m0 1v5m0 1v1m0 3v3m0 18v1m0 1v1m0 13v2m0 2v1m0 2v2m0 1v1m0 13v2m0 15v5m0 1v1m0 3v1m0 12v1m0 9v2m0 10v1m0 3v2m0 6v3m0 9v2m0 15v3m0 9v1m0 12v2m0 31v3m0 2v4m0 29v1m0 9v2m0 2v1m0 26v2m0 12v3m0 29v1m0 6v1m0 3v1m0 67v1m0 2v1m0 32v2m0 16v3m0 43v2m0 14v3m0 7v1m0 11v1m0 5v3m0 5v1m0 24v1m0 1v1m0 24v2m0 2v2m0 27v1m0 8v3m0 52v1m0 10v2m0 1v3m0 15v1m0 26v1m0 11v1m0 1v1m0 9v1m0 1v1m0 10v2m0 6v3m0 14v1m0 9v1m0 8v2m0 33v1m0 18v3m0 3v1m0 2v1m0 1v2m0 32v3m0 6v1m0 8v2m0 1v3m0 12v1m0 11v1m0 2v2m0 15v1m0 2v2m0 1v1m0 18v1m0 24v1m0 2v2m0 14v1m0 19v1m0 16v5m0 1v3m0 1v2m0 1v2m0 1v1m0 1v2m0 4v5m0 9v1"/>
<path class="j18" d="M0 116v1m0 9v2m0 1v2m0 1v1m0 2v1m0 2v1m0 1v1m0 1v1m0 1v1m0 14v1m0 5v1m0 2v2m0 2v2m0 11v1m0 5v1m0 4v1m0 1v1m0 6v3m0 1v1m0 9v1m0 11v1m0 14v2m0 6v2m0 1v3m0 4v2m0 14v3m0 9v1m0 17v2m0 6v4m0 13v1m0 1v1m0 22v1m0 5v1m0 26v1m0 8v2m0 6v2m0 34v3m0 5v1m0 3v1m0 79v1m0 189v1m0 195v2m0 12v3m0 170v1m0 19v2m0 17v1m0 7v2m0 10v1m0 59v1m0 49v3m0 19v1m0 2v2m0 38v1m0 40v2m0 18v1m0 88v1m0 9v3m0 15v1m0 4v1m0 2v1m0 8v1m0 7v1"/>
<path class="j19" d="M0 125v1m0 2v1m0 7v2m0 3v1m0 3v1m0 14v1m0 3v1m0 23v3m0 19v2m0 3v1m0 2v1m0 2v3m0 21v1m0 41v3m0 15v3m0 9v1m0 83v1m0 1145v1"/>
<path class="j20" d="M0 212v3m0 1v1"/>
<path class="j21" d="M0 217v1"/>
</g>
<g stroke-width="5" transform="translate(509.5)">
<path class="j9" d="M0 767v2m0 90v3m0 57v1m0 62v1m0 305v1m0 2v2"/>
<path class="j10" d="M0 380v1m0 73v1m0 131v1m0 50v2m0 11v1m0 10v1m0 42v1m0 61v1m0 122v1m0 11v3m0 16v1m0 62v2m0 13v1m0 70v1m0 46v1m0 107v1m0 64v2m0 2v1m0 213v3"/>
<path class="j11" d="M0 191v2m0 167v1m0 18v1m0 1v1m0 18v1m0 24v1m0 18v1m0 10v2m0 93v2m0 35v2m0 31v1m0 28v1m0 1v1m0 11v1m0 19v2m0 9v1m0 8v1m0 1v1m0 2v1m0 42v3m0 57v3m0 3v1m0 34v1m0 24v1m0 43v1m0 1v1m0 19v1m0 13v1m0 15v1m0 23v1m0 1v1m0 15v1m0 26v1m0 29v1m0 5v1m0 1v1m0 1v2m0 24v1m0 15v2m0 36v1m0 2v3m0 21v1m0 33v1m0 48v1m0 30v3m0 28v1m0 7v1m0 86v3m0 5v1m0 18v2m0 76v1"/>
<path class="j12" d="M0 190v1m0 107v2m0 5v2m0 2v1m0 6v1m0 82v1m0 1v1m0 10v2m0 10v1m0 40v1m0 15v1m0 22v2m0 46v1m0 2v1m0 3v1m0 1v1m0 2v1m0 11v1m0 16v2m0 9v1m0 8v2m0 4v1m0 1v1m0 8v1m0 8v1m0 22v1m0 4v1m0 6v1m0 7v1m0 12v1m0 25v1m0 34v1m0 15v3m0 7v1m0 4v3m0 7v2m0 2v1m0 5v1m0 10v2m0 18v1m0 12v1m0 4v3m0 3v1m0 25v1m0 1v1m0 16v2m0 15v1m0 11v1m0 4v2m0 1v2m0 4v2m0 3v2m0 17v3m0 1v1m0 28v2m0 7v2m0 3v1m0 13v1m0 4v2m0 1v2m0 6v3m0 3v3m0 5v4m0 1v2m0 1v1m0 5v1m0 1v1m0 7v2m0 16v1m0 1v1m0 5v1m0 7v1m0 4v1m0 6v2m0 17v5m0 4v2m0 25v8m0 14v2m0 8v1m0 5v4m0 16v1m0 20v1m0 1v1m0 34v2m0 25v1m0 1v1m0 7v1m0 10v1m0 63v1m0 31v1m0 7v1m0 39v1m0 1v3m0 7v1m0 24v2m0 15v2"/>
<path class="j13" d="M0 140v1m0 13v3m0 9v1m0 29v1m0 1v1m0 9v2m0 11v1m0 12v1m0 17v1m0 36v1m0 1v1m0 12v1m0 12v1m0 4v3m0 4v2m0 6v3m0 14v6m0 1v2m0 2v2m0 30v2m0 3v2m0 4v2m0 16v1m0 15v2m0 20v1m0 7v3m0 1v1m0 5v1m0 19v1m0 3v3m0 1v1m0 1v1m0 3v3m0 4v6m0 11v2m0 5v3m0 4v1m0 1v3m0 1v1m0 1v2m0 10v2m0 16v1m0 2v4m0 6v2m0 8v1m0 6v1m0 6v1m0 34v1m0 3v2m0 3v1m0 1v1m0 3v2m0 4v5m0 6v1m0 10v1m0 1v1m0 1v1m0 2v1m0 7v3m0 1v4m0 9v1m0 1v2m0 5v1m0 5v2m0 7v3m0 4v2m0 3v5m0 1v1m0 1v1m0 12v1m0 2v2m0 4v2m0 7v3m0 5v1m0 3v1m0 1v1m0 10v1m0 6v1m0 3v1m0 4v1m0 12v2m0 8v1m0 7v2m0 3v1m0 3v1m0 10v1m0 2v1m0 1v8m0 3v1m0 2v3m0 7v1m0 1v1m0 1v2m0 8v1m0 4v1m0 17v1m0 4v1m0 1v3m0 10v2m0 8v1m0 8v1m0 2v1m0 7v2m0 2v1m0 3v5m0 4v1m0 14v1m0 9v1m0 9v4m0 6v1m0 2v2m0 2v2m0 1v5m0 3v5m0 3v1m0 3v1m0 4v1m0 6v2m0 9v1m0 1v1m0 2v1m0 4v3m0 3v1m0 16v4m0 13v1m0 19v5m0 2v1m0 17v3m0 5v2m0 1v5m0 4v3m0 3v1m0 8v1m0 2v1m0 2v1m0 4v2m0 1v2m0 1v2m0 8v3m0 15v2m0 7v1m0 6v1m0 2v2m0 4v3m0 4v4m0 7v1m0 6v1m0 3v1m0 8v3m0 12v4m0 5v3m0 6v4m0 5v1m0 1v1m0 16v1m0 1v1m0 3v2m0 7v1m0 19v3m0 23v1m0 1v1m0 3v1m0 7v2m0 4v1m0 7v1m0 14v3"/>
<path class="j14" d="M0 119v2m0 20v1m0 3v3m0 19v2m0 28v1m0 4v3m0 5v1m0 9v1m0 1v1m0 9v2m0 1v1m0 14v2m0 13v2m0 23v1m0 9v1m0 6v2m0 1v1m0 9v2m0 6v1m0 4v1m0 19v1m0 9v2m0 13v1m0 11v3m0 11v1m0 5v1m0 3v1m0 1v2m0 2v1m0 7v2m0 5v1m0 3v1m0 11v3m0 3v5m0 1v1m0 2v1m0 8v1m0 1v1m0 1v2m0 2v1m0 3v6m0 10v1m0 5v1m0 1v1m0 1v3m0 3v1m0 1v2m0 8v2m0 2v5m0 2v3m0 1v1m0 6v1m0 11v2m0 1v2m0 12v2m0 1v1m0 3v3m0 7v5m0 3v4m0 5v3m0 4v1m0 2v1m0 1v1m0 2v1m0 2v1m0 1v1m0 4v8m0 3v9m0 4v2m0 10v1m0 3v1m0 8v4m0 5v1m0 6v1m0 3v1m0 1v2m0 1v2m0 1v3m0 4v1m0 4v3m0 3v3m0 1v1m0 3v1m0 5v1m0 6v1m0 1v1m0 9v1m0 10v1m0 3v3m0 3v6m0 6v3m0 15v2m0 1v3m0 1v1m0 1v3m0 2v1m0 5v1m0 2v3m0 7v2m0 8v4m0 3v1m0 3v3m0 2v2m0 1v1m0 9v3m0 1v2m0 2v1m0 3v2m0 4v1m0 19v5m0 3v1m0 13v2m0 4v1m0 1v4m0 3v2m0 1v2m0 14v6m0 2v3m0 3v2m0 1v1m0 2v1m0 2v2m0 1v2m0 4v2m0 4v2m0 3v1m0 6v1m0 8v1m0 9v2m0 3v2m0 1v1m0 21v2m0 6v1m0 23v2m0 13v2m0 4v1m0 2v1m0 1v4m0 14v1m0 6v2m0 7v1m0 2v1m0 2v2m0 1v1m0 1v1m0 9v4m0 2v3m0 8v1m0 19v2m0 2v1m0 2v1m0 6v3m0 5v1m0 1v2m0 3v3m0 1v1m0 5v1m0 1v2m0 2v1m0 2v1m0 2v2m0 11v1m0 8v1m0 5v3m0 1v3m0 1v1m0 2v1m0 1v1m0 1v2m0 9v2m0 10v2m0 2v1m0 3v2m0 1v3m0 1v2m0 4v2m0 3v6m0 10v1m0 9v1m0 7v1m0 10v4m0 5v2m0 1v1m0 3v3m0 7v1m0 2v1m0 16v2m0 5v1m0 4v1m0 2v2m0 3v3m0 3v2m0 7v3m0 7v1m0 1v1m0 1v1m0 4v2m0 1v1m0 1v3m0 6v1m0 5v3"/>
<path class="j15" d="M0 115v2m0 1v1m0 3v2m0 6v5m0 4v1m0 20v2m0 17v1m0 7v2m0 10v1m0 5v2m0 8v1m0 10v3m0 2v1m0 4v2m0 2v2m0 2v2m0 3v1m0 9v1m0 2v1m0 4v1m0 3v7m0 1v2m0 11v3m0 1v2m0 13v2m0 5v1m0 12v2m0 1v1m0 17v1m0 14v5m0 1v5m0 4v2m0 1v5m0 3v2m0 10v3m0 3v1m0 3v1m0 2v2m0 1v3m0 3v1m0 2v5m0 5v2m0 5v4m0 11v1m0 4v2m0 1v2m0 12v3m0 12v3m0 18v1m0 8v2m0 2v2m0 10v1m0 21v1m0 2v1m0 6v5m0 2v1m0 26v2m0 11v2m0 1v1m0 5v1m0 1v1m0 4v1m0 29v3m0 3v1m0 1v1m0 18v2m0 1v2m0 15v1m0 15v3m0 7v1m0 1v3m0 1v1m0 8v1m0 1v2m0 48v1m0 21v2m0 1v1m0 1v1m0 3v2m0 4v3m0 17v1m0 3v3m0 7v1m0 3v1m0 12v2m0 29v1m0 17v1m0 11v1m0 4v1m0 4v1m0 15v1m0 18v2m0 14v1m0 6v1m0 9v2m0 7v2m0 1v1m0 12v1m0 36v3m0 10v2m0 6v3m0 6v3m0 2v1m0 5v1m0 9v3m0 6v2m0 13v3m0 1v1m0 2v1m0 3v1m0 16v2m0 12v6m0 3v3m0 10v1m0 16v2m0 4v3m0 11v1m0 21v2m0 3v1m0 6v3m0 5v1m0 5v2m0 1v1m0 9v1m0 14v1m0 7v1m0 12v1m0 13v2m0 1v1m0 5v4m0 3v2m0 1v1m0 7v4m0 4v2m0 4v1m0 6v1m0 13v1m0 13v3m0 3v1m0 5v2m0 1v2m0 1v1m0 1v2m0 4v1m0 4v2m0 18v1m0 1v1m0 6v1m0 4v1m0 3v2m0 5v2m0 6v1m0 3v2"/>
<path class="j16" d="M0 117v1m0 3v1m0 5v2m0 6v1m0 7v2m0 3v1m0 1v2m0 10v1m0 1v2m0 3v1m0 2v1m0 1v1m0 1v3m0 1v1m0 2v2m0 1v1m0 2v1m0 3v1m0 1v1m0 4v2m0 5v1m0 6v1m0 1v1m0 1v2m0 3v3m0 3v2m0 7v2m0 2v2m0 2v1m0 1v1m0 4v1m0 3v1m0 2v2m0 1v2m0 5v1m0 7v1m0 2v2m0 3v1m0 8v1m0 19v1m0 3v1m0 5v3m0 7v2m0 3v5m0 1v6m0 20v1m0 11v1m0 10v2m0 41v1m0 6v2m0 22v1m0 8v1m0 14v3m0 75v3m0 58v1m0 69v1m0 59v1m0 45v2m0 26v1m0 46v2m0 43v1m0 17v1m0 1v1m0 16v2m0 61v1m0 19v1m0 1v1m0 60v1m0 67v1m0 2v1m0 54v1m0 62v2m0 47v2m0 6v2m0 10v3m0 12v2m0 2v1m0 17v2m0 12v1m0 7v1m0 18v1m0 5v3m0 3v1m0 5v1m0 13v1m0 6v2m0 4v1m0 26v3m0 11v1m0 13v1m0 1v1"/>
<path class="j17" d="M0 124v3m0 2v1m0 12v1m0 6v1m0 2v2m0 3v3m0 3v1m0 6v2m0 1v1m0 1v1m0 6v1m0 2v1m0 8v1m0 16v3m0 3v1m0 29v1m0 6v3m0 1v1m0 9v2m0 14v2m0 1v2m0 13v2m0 9v2m0 30v1m0 90v2m0 58v3m0 849v1m0 95v3m0 13v2m0 4v2m0 80v1"/>
<path class="j18" d="M0 137v2m0 42v1m0 101v1m0 17v1"/>
<path class="j19" d="M0 136v1"/>
</g>
<g stroke-width="4" transform="translate(514)">
<path class="j9" d="M0 564v1m0 1v1m0 73v1m0 10v2m0 33v1m0 11v1m0 12v1m0 8v3m0 100v1m0 14v2m0 70v2m0 7v1m0 49v1m0 66v2m0 51v3m0 51v2m0 25v1m0 53v1m0 1v1m0 8v1m0 11v1m0 90v2m0 68v1"/>
<path class="j10" d="M0 124v1m0 163v3m0 14v1m0 184v1m0 19v2m0 53v1m0 73v1m0 1v1m0 11v1m0 30v2m0 11v1m0 1v1m0 12v2m0 11v1m0 44v1m0 42v2m0 7v1m0 1v1m0 12v1m0 13v1m0 11v1m0 2v1m0 2v1m0 39v1m0 10v1m0 3v1m0 22v1m0 20v1m0 1v1m0 30v1m0 33v1m0 49v4m0 56v1m0 21v2m0 7v1m0 48v1m0 8v1m0 10v2m0 32v2m0 34v2m0 15v2m0 2v1m0 3v1m0 6v3m0 15v3m0 36v1m0 2v1m0 1v1m0 18v1m0 1v1m0 95v1m0 24v3"/>
<path class="j11" d="M0 123v1m0 1v1m0 65v1m0 73v1m0 3v1m0 1v1m0 10v3m0 19v1m0 35v1m0 3v1m0 19v2m0 9v3m0 15v2m0 2v1m0 15v2m0 4v1m0 66v1m0 2v1m0 1v1m0 10v2m0 8v1m0 15v1m0 1v1m0 2v1m0 1v1m0 13v1m0 32v1m0 1v2m0 22v1m0 1v2m0 6v1m0 11v3m0 16v1m0 4v1m0 11v3m0 5v1m0 21v1m0 3v2m0 21v1m0 8v2m0 7v1m0 1v1m0 3v3m0 14v2m0 3v1m0 5v1m0 25v1m0 1v1m0 3v1m0 7v1m0 19v1m0 10v1m0 2v2m0 1v2m0 7v2m0 1v2m0 1v2m0 7v1m0 1v1m0 33v7m0 6v2m0 1v1m0 3v1m0 8v1m0 4v1m0 4v1m0 1v1m0 12v2m0 3v1m0 18v1m0 8v2m0 13v3m0 46v1m0 19v2m0 13v2m0 2v1m0 6v3m0 2v2m0 3v1m0 4v1m0 17v1m0 19v2m0 5v1m0 1v2m0 4v1m0 1v3m0 19v2m0 3v3m0 2v2m0 5v2m0 7v1m0 5v1m0 5v1m0 10v1m0 3v1m0 5v3m0 15v1m0 20v2m0 4v3m0 26v2m0 1v1m0 26v1m0 24v1m0 15v1m0 19v1m0 1v1m0 1v1m0 10v5m0 7v3m0 22v1m0 15v1m0 3v3m0 13v2m0 5v1m0 3v2m0 5v2m0 7v1"/>
<path class="j12" d="M0 117v2m0 33v4m0 15v1m0 17v2m0 25v3m0 30v1m0 5v1m0 3v2m0 3v1m0 1v1m0 1v1m0 1v1m0 23v3m0 6v1m0 21v2m0 3v3m0 6v1m0 1v3m0 5v5m0 7v1m0 1v1m0 2v1m0 2v2m0 7v2m0 2v1m0 4v3m0 5v2m0 1v1m0 7v3m0 1v3m0 2v4m0 7v3m0 20v2m0 2v2m0 3v4m0 12v5m0 8v2m0 7v1m0 4v1m0 2v1m0 10v1m0 13v1m0 1v2m0 1v1m0 1v1m0 6v3m0 2v1m0 1v5m0 5v1m0 9v3m0 3v1m0 1v1m0 4v1m0 2v1m0 7v1m0 11v2m0 1v1m0 2v3m0 4v1m0 7v1m0 9v1m0 6v2m0 1v2m0 1v1m0 4v2m0 5v4m0 4v1m0 1v2m0 7v3m0 8v4m0 6v2m0 10v6m0 4v1m0 1v1m0 1v4m0 2v1m0 1v1m0 1v3m0 1v1m0 1v3m0 8v1m0 7v1m0 2v3m0 2v1m0 2v1m0 1v1m0 13v1m0 9v1m0 1v1m0 5v3m0 1v1m0 6v2m0 26v2m0 5v1m0 4v1m0 17v1m0 4v3m0 3v2m0 4v3m0 6v3m0 21v1m0 1v1m0 1v1m0 5v2m0 1v1m0 4v1m0 6v1m0 1v1m0 2v3m0 12v3m0 4v3m0 5v1m0 1v1m0 1v1m0 4v2m0 11v3m0 1v1m0 24v7m0 8v3m0 3v4m0 1v2m0 4v1m0 3v2m0 24v2m0 3v4m0 3v2m0 2v3m0 1v4m0 4v1m0 2v2m0 2v2m0 3v2m0 8v2m0 9v1m0 4v1m0 6v1m0 1v1m0 2v1m0 4v2m0 3v1m0 5v7m0 8v2m0 2v2m0 5v1m0 7v2m0 2v1m0 3v1m0 1v1m0 1v2m0 10v2m0 1v3m0 9v5m0 4v1m0 20v1m0 3v1m0 6v2m0 1v4m0 3v1m0 6v1m0 3v3m0 14v1m0 3v1m0 3v1m0 4v5m0 4v2m0 10v3m0 5v1m0 1v2m0 4v1m0 1v3m0 5v1m0 19v1m0 7v3m0 8v1m0 3v1m0 5v5m0 1v3m0 9v1m0 2v1m0 1v1m0 7v1m0 2v1m0 2v1m0 10v2m0 4v1m0 2v1m0 2v5m0 10v1m0 8v1m0 1v1"/>
<path class="j13" d="M0 119v1m0 14v1m0 5v1m0 9v2m0 10v6m0 1v2m0 1v1m0 7v3m0 10v3m0 1v1m0 3v1m0 2v2m0 13v3m0 1v2m0 16v1m0 6v1m0 2v1m0 4v3m0 8v1m0 4v1m0 3v3m0 8v1m0 3v2m0 4v2m0 7v1m0 17v1m0 4v1m0 18v1m0 5v1m0 1v1m0 3v1m0 1v1m0 4v2m0 2v1m0 2v1m0 5v2m0 1v1m0 15v1m0 5v1m0 3v1m0 10v2m0 2v1m0 7v3m0 3v6m0 3v2m0 2v2m0 2v3m0 4v2m0 2v8m0 5v1m0 1v1m0 3v1m0 6v4m0 1v1m0 7v5m0 3v2m0 1v6m0 1v1m0 3v1m0 9v2m0 7v2m0 7v1m0 1v3m0 1v3m0 3v1m0 1v1m0 3v3m0 1v1m0 3v1m0 5v1m0 3v3m0 1v10m0 10v3m0 2v1m0 5v1m0 1v2m0 3v4m0 1v1m0 3v2m0 2v1m0 13v2m0 7v1m0 1v1m0 3v2m0 3v1m0 6v1m0 2v2m0 12v1m0 3v1m0 18v1m0 7v1m0 1v1m0 12v5m0 1v3m0 3v1m0 9v2m0 9v4m0 2v1m0 1v1m0 1v4m0 7v1m0 6v1m0 4v2m0 3v1m0 3v3m0 3v4m0 1v1m0 6v3m0 12v1m0 1v1m0 9v6m0 4v1m0 5v2m0 2v4m0 3v2m0 1v3m0 3v2m0 13v3m0 6v1m0 2v1m0 2v1m0 2v1m0 2v1m0 5v1m0 6v2m0 6v3m0 9v2m0 1v1m0 3v1m0 2v2m0 1v1m0 3v1m0 5v1m0 3v4m0 2v1m0 3v1m0 6v4m0 1v5m0 1v5m0 10v1m0 4v3m0 3v3m0 7v4m0 1v3m0 2v4m0 12v6m0 5v2m0 20v3m0 1v2m0 2v2m0 2v3m0 6v2m0 1v1m0 6v2m0 6v2m0 8v1m0 7v1m0 2v3m0 1v2m0 12v3m0 15v3m0 6v2m0 5v1m0 4v3m0 3v2m0 1v1m0 6v1m0 4v4m0 8v1m0 1v1m0 3v1m0 2v1m0 5v7m0 1v1m0 3v2m0 6v1m0 6v1m0 1v6m0 3v1m0 15v2m0 5v3m0 1v2m0 13v1m0 3v2m0 1v1m0 5v1m0 3v1m0 4v4m0 1v1m0 3v1m0 1v1m0 6v6m0 7v2m0 6v3m0 3v2m0 11v2m0 8v1m0 8v1m0 2v1m0 1v1m0 10v1m0 1v2m0 1v2m0 2v1m0 10v1m0 2v1m0 1v1m0 10v1m0 1v1m0 3v1m0 1v1m0 6v3m0 4v2m0 2v2m0 1v1"/>
<path class="j14" d="M0 120v2m0 5v2m0 4v1m0 1v2m0 1v2m0 1v3m0 1v2m0 9v3m0 2v1m0 6v1m0 4v1m0 3v3m0 6v1m0 5v1m0 3v1m0 5v2m0 2v4m0 3v3m0 6v1m0 2v3m0 3v3m0 2v3m0 3v1m0 3v2m0 2v1m0 1v3m0 24v3m0 3v2m0 6v1m0 5v4m0 4v2m0 5v10m0 3v2m0 4v6m0 6v3m0 7v1m0 16v2m0 10v3m0 4v2m0 7v5m0 17v2m0 1v1m0 3v3m0 3v2m0 7v3m0 17v2m0 14v1m0 1v3m0 13v3m0 21v1m0 1v3m0 12v4m0 13v1m0 11v1m0 10v2m0 7v3m0 14v1m0 16v4m0 31v3m0 17v3m0 8v2m0 16v2m0 1v2m0 48v3m0 15v6m0 4v2m0 3v1m0 4v3m0 5v2m0 11v1m0 9v3m0 9v3m0 12v3m0 21v1m0 1v1m0 3v1m0 13v1m0 8v1m0 25v2m0 7v2m0 4v2m0 9v3m0 14v1m0 5v2m0 8v3m0 10v2m0 9v2m0 4v1m0 5v1m0 16v4m0 31v2m0 65v1m0 3v4m0 2v3m0 30v3m0 21v3m0 41v1m0 12v3m0 7v2m0 1v5m0 14v1m0 21v2m0 29v2m0 12v3m0 2v1m0 1v2m0 4v3m0 15v1m0 13v2m0 1v4m0 16v1m0 8v1m0 15v2m0 1v2m0 1v2m0 3v1m0 3v6m0 10v2m0 5v1m0 3v2m0 3v1m0 10v1m0 5v1m0 4v3m0 6v1m0 2v2m0 2v1"/>
<path class="j15" d="M0 116v1m0 5v1m0 3v1m0 4v2m0 4v1m0 6v1m0 2v3m0 9v2m0 13v3m0 6v3m0 1v2m0 9v3m0 33v2m0 3v2m0 2v3m0 15v3m0 9v3m0 33v5m0 43v3m0 30v1m0 46v1m0 183v1m0 83v1m0 374v1m0 260v3m0 74v1m0 27v2m0 18v1m0 33v2"/>
<path class="j16" d="M0 115v1m0 13v2m0 79v3m0 15v3"/>
</g>
<g stroke-width="5" transform="translate(518.5)">
<path class="j8" d="M0 622v1m0 66v3m0 122v1m0 261v2m0 186v1"/>
<path class="j9" d="M0 152v1m0 131v1m0 47v3m0 1v1m0 109v3m0 3v2m0 8v2m0 108v2m0 14v2m0 6v1m0 14v1m0 1v1m0 7v1m0 118v3m0 48v1m0 3v2m0 16v1m0 7v2m0 139v3m0 16v2m0 21v2m0 1v1m0 56v1m0 13v1m0 80v1m0 32v1m0 13v2m0 40v2m0 13v1m0 19v2m0 13v3m0 95v1m0 41v1m0 15v1m0 48v2"/>
<path class="j10" d="M0 129v2m0 22v2m0 97v3m0 23v1m0 6v1m0 49v1m0 1v1m0 14v2m0 5v1m0 45v2m0 3v1m0 2v3m0 12v3m0 10v1m0 7v1m0 4v1m0 6v1m0 8v2m0 5v1m0 8v1m0 14v2m0 37v2m0 9v1m0 22v4m0 9v1m0 9v2m0 13v1m0 7v1m0 8v1m0 14v1m0 13v4m0 30v1m0 2v2m0 6v1m0 13v1m0 10v3m0 2v1m0 18v3m0 6v1m0 15v1m0 14v1m0 1v1m0 8v1m0 1v4m0 3v1m0 2v2m0 6v1m0 1v2m0 15v1m0 3v2m0 4v2m0 6v1m0 14v1m0 9v3m0 1v1m0 19v1m0 10v3m0 3v3m0 1v2m0 15v1m0 4v1m0 27v1m0 8v1m0 16v1m0 1v2m0 27v1m0 10v1m0 16v2m0 19v1m0 7v1m0 2v2m0 9v3m0 1v2m0 40v5m0 10v2m0 2v2m0 2v1m0 3v2m0 8v1m0 24v1m0 10v1m0 34v1m0 9v1m0 1v1m0 10v1m0 24v1m0 5v4m0 2v2m0 11v5m0 4v2m0 39v3m0 6v2m0 10v1m0 1v1m0 16v2m0 10v1m0 9v1m0 7v1m0 46v1m0 11v1m0 14v1"/>
<path class="j11" d="M0 124v1m0 3v1m0 2v1m0 8v1m0 1v1m0 12v2m0 9v2m0 1v1m0 18v1m0 3v1m0 28v2m0 3v1m0 6v1m0 1v1m0 2v1m0 1v1m0 10v1m0 3v1m0 23v2m0 5v1m0 1v2m0 12v1m0 1v1m0 14v1m0 6v1m0 2v1m0 1v1m0 12v1m0 1v1m0 3v2m0 2v2m0 4v3m0 6v5m0 11v1m0 2v3m0 2v2m0 3v3m0 3v1m0 6v2m0 6v1m0 1v4m0 1v2m0 3v2m0 1v5m0 1v1m0 1v1m0 7v1m0 5v1m0 1v3m0 6v1m0 4v1m0 3v1m0 1v4m0 3v1m0 1v1m0 12v1m0 2v2m0 4v1m0 5v6m0 4v1m0 2v1m0 5v6m0 3v1m0 2v1m0 2v2m0 1v2m0 5v1m0 2v2m0 3v1m0 1v2m0 7v1m0 2v4m0 7v4m0 9v1m0 4v1m0 12v6m0 1v1m0 1v8m0 5v2m0 3v3m0 4v1m0 4v3m0 2v3m0 3v2m0 4v5m0 4v1m0 4v2m0 2v2m0 2v2m0 4v1m0 3v2m0 3v1m0 1v1m0 3v1m0 3v1m0 4v2m0 4v2m0 4v3m0 1v2m0 13v2m0 1v2m0 6v4m0 1v3m0 1v5m0 6v1m0 10v1m0 12v1m0 6v1m0 2v1m0 5v3m0 7v1m0 1v1m0 5v1m0 4v1m0 2v1m0 1v1m0 4v3m0 7v2m0 3v4m0 3v1m0 6v7m0 1v6m0 1v1m0 2v1m0 2v1m0 6v1m0 5v1m0 5v2m0 4v2m0 5v4m0 1v2m0 1v3m0 15v2m0 14v2m0 2v1m0 15v6m0 3v1m0 2v3m0 11v1m0 1v2m0 2v1m0 3v2m0 1v4m0 2v3m0 12v4m0 1v1m0 3v1m0 2v2m0 1v1m0 1v1m0 5v1m0 1v2m0 2v1m0 3v1m0 1v3m0 3v1m0 2v1m0 2v1m0 9v1m0 1v2m0 2v9m0 6v3m0 12v6m0 2v2m0 2v2m0 2v2m0 2v1m0 1v1m0 2v1m0 1v1m0 2v1m0 7v1m0 3v1m0 3v2m0 3v2m0 1v4m0 1v1m0 3v1m0 1v2m0 1v2m0 11v2m0 1v1m0 11v1m0 11v1m0 1v1m0 1v3m0 2v3m0 3v2m0 9v1m0 3v1m0 9v2m0 1v2m0 4v2m0 2v1m0 6v2m0 1v1m0 5v1m0 2v1m0 4v1m0 3v1m0 2v2m0 7v1m0 1v2m0 8v1m0 5v3m0 12v2m0 1v2m0 3v1m0 1v1m0 8v2m0 6v1m0 11v1m0 8v2m0 1v1m0 1v2m0 4v1m0 3v2m0 2v1m0 5v2m0 5v1m0 1v2m0 11v2m0 1v4m0 12v3m0 1v1m0 2v3m0 1v1m0 7v2m0 11v1"/>
<path class="j12" d="M0 115v1m0 4v1m0 2v1m0 1v1m0 6v1m0 8v1m0 1v1m0 5v1m0 7v1m0 6v2m0 2v1m0 10v1m0 7v1m0 1v1m0 1v1m0 1v1m0 13v1m0 1v1m0 5v4m0 6v1m0 1v2m0 3v1m0 1v1m0 1v2m0 1v1m0 1v1m0 5v1m0 8v1m0 3v1m0 2v9m0 4v2m0 3v1m0 1v1m0 3v1m0 2v1m0 3v4m0 5v1m0 3v12m0 1v3m0 4v2m0 1v1m0 10v3m0 1v1m0 1v3m0 13v1m0 4v1m0 8v8m0 1v2m0 3v2m0 2v3m0 22v1m0 4v1m0 7v1m0 5v1m0 5v1m0 5v1m0 3v1m0 1v1m0 7v2m0 1v2m0 3v3m0 6v3m0 3v5m0 4v3m0 5v1m0 4v2m0 12v1m0 1v2m0 1v1m0 3v1m0 8v1m0 1v2m0 1v2m0 5v2m0 1v2m0 1v2m0 2v3m0 1v1m0 2v1m0 7v2m0 4v2m0 3v2m0 12v1m0 1v4m0 4v1m0 1v2m0 13v1m0 8v1m0 1v2m0 3v1m0 5v4m0 8v2m0 3v3m0 2v4m0 5v4m0 11v2m0 3v3m0 1v3m0 2v3m0 3v3m0 1v2m0 2v1m0 6v1m0 4v1m0 6v1m0 2v3m0 3v3m0 6v1m0 2v6m0 8v1m0 5v4m0 6v6m0 15v3m0 7v2m0 2v1m0 3v1m0 1v1m0 2v1m0 6v3m0 3v2m0 1v2m0 3v4m0 3v2m0 1v3m0 3v3m0 12v2m0 7v1m0 8v2m0 1v2m0 1v3m0 4v2m0 6v3m0 2v1m0 1v2m0 2v1m0 2v1m0 8v1m0 3v3m0 6v4m0 4v1m0 6v3m0 6v2m0 1v9m0 13v2m0 1v2m0 4v10m0 4v2m0 1v3m0 7v2m0 3v3m0 6v3m0 4v1m0 5v2m0 2v1m0 6v2m0 8v2m0 1v1m0 10v2m0 1v1m0 2v6m0 1v1m0 2v2m0 9v6m0 3v3m0 6v1m0 17v1m0 5v1m0 1v2m0 1v1m0 4v2m0 3v2m0 1v3m0 3v1m0 12v1m0 8v1m0 2v2m0 2v4m0 1v2m0 2v1m0 3v3m0 2v4m0 1v2m0 6v3m0 7v2m0 8v1m0 3v2m0 1v2m0 5v2m0 3v1m0 5v1m0 11v3m0 1v2m0 2v1m0 7v1m0 4v2m0 1v2m0 2v2m0 2v2m0 2v3m0 1v1m0 2v8m0 1v1m0 2v1m0 18v1m0 2v3m0 4v3m0 3v1m0 5v3m0 3v6m0 1v2m0 13v1m0 2v2m0 8v2m0 1v3m0 1v1m0 2v1m0 1v3m0 1v1m0 2v3m0 2v1m0 3v2m0 2v1m0 4v2m0 15v2m0 3v1m0 1v6m0 3v1m0 3v7m0 7v1"/>
<path class="j13" d="M0 116v4m0 1v2m0 3v2m0 5v7m0 4v5m0 1v2m0 8v4m0 6v9m0 1v7m0 3v1m0 3v1m0 1v3m0 1v7m0 1v1m0 1v2m0 7v2m0 2v2m0 4v1m0 1v1m0 10v2m0 1v2m0 1v3m0 6v3m0 1v2m0 9v4m0 6v1m0 8v3m0 4v4m0 3v2m0 18v1m0 12v3m0 15v3m0 5v4m0 6v3m0 24v3m0 3v3m0 8v1m0 24v2m0 19v1m0 28v4m0 9v3m0 3v3m0 6v3m0 6v2m0 24v1m0 42v5m0 11v1m0 2v2m0 21v1m0 6v2m0 75v1m0 9v2m0 21v3m0 48v3m0 18v2m0 5v1m0 1v2m0 3v1m0 26v1m0 18v3m0 45v1m0 5v2m0 19v3m0 4v2m0 3v3m0 6v3m0 27v1m0 8v1m0 35v3m0 24v3m0 9v1m0 18v2m0 40v2m0 33v3m0 12v3m0 9v1m0 11v2m0 4v1m0 11v2m0 10v3m0 21v3m0 2v1m0 9v3m0 1v2m0 18v1m0 13v1m0 8v1m0 7v2m0 17v2m0 1v1m0 6v6m0 18v3m0 3v3m0 12v1m0 5v1m0 2v3m0 13v2m0 8v1m0 4v1m0 10v2m0 1v3m0 11v1m0 3v6m0 22v3m0 8v1m0 2v3m0 1v3"/>
<path class="j14" d="M0 158v2m0 35v1m0 3v1m0 12v3m0 15v1m0 13v1m0 78v2m0 91v2m0 114v1m0 691v2m0 214v2m0 15v1m0 87v2"/>
</g>
<g stroke-width="4" transform="translate(523)">
<path class="j8" d="M0 368v3m0 90v1m0 14v3m0 42v1m0 59v2m0 166v3m0 21v3m0 57v1m0 35v4m0 239v3m0 59v1m0 31v1m0 78v1m0 70v2"/>
<path class="j9" d="M0 176v3m0 33v3m0 6v4m0 66v1m0 70v1m0 1v1m0 35v1m0 9v3m0 31v1m0 17v2m0 21v3m0 2v1m0 6v1m0 24v1m0 6v1m0 35v1m0 17v1m0 63v2m0 11v1m0 15v1m0 27v1m0 5v3m0 6v2m0 13v1m0 5v1m0 4v1m0 2v1m0 15v3m0 20v1m0 20v1m0 9v1m0 5v1m0 5v2m0 2v2m0 4v2m0 20v4m0 7v2m0 18v1m0 1v4m0 9v3m0 12v3m0 9v2m0 30v1m0 3v1m0 13v1m0 2v1m0 9v1m0 17v1m0 30v2m0 30v1m0 13v2m0 1v3m0 10v3m0 22v1m0 1v3m0 2v4m0 3v1m0 2v2m0 12v2m0 1v1m0 3v2m0 2v1m0 11v1m0 16v1m0 14v1m0 1v1m0 12v1m0 20v1m0 13v1m0 12v2m0 17v1m0 3v1m0 48v1m0 6v1m0 7v2m0 7v6m0 3v2m0 22v3m0 3v3m0 18v1m0 16v1m0 20v1m0 30v1m0 22v1m0 18v3"/>
<path class="j10" d="M0 138v1m0 13v1m0 1v3m0 1v1m0 2v1m0 13v1m0 35v1m0 13v1m0 1v3m0 21v2m0 5v1m0 12v1m0 18v1m0 1v1m0 3v1m0 2v1m0 6v1m0 4v2m0 5v2m0 3v1m0 21v2m0 16v1m0 7v1m0 6v2m0 12v2m0 2v4m0 1v2m0 1v4m0 5v2m0 2v1m0 19v2m0 4v1m0 1v4m0 3v3m0 5v1m0 27v2m0 1v3m0 2v1m0 1v3m0 8v2m0 4v1m0 7v2m0 2v2m0 6v1m0 5v3m0 7v2m0 4v3m0 4v1m0 5v2m0 4v1m0 28v1m0 20v2m0 4v1m0 7v1m0 2v2m0 4v1m0 1v1m0 4v1m0 1v2m0 1v4m0 4v1m0 4v2m0 10v1m0 3v2m0 1v2m0 1v2m0 3v2m0 2v2m0 1v1m0 12v1m0 9v3m0 1v1m0 5v2m0 1v1m0 1v2m0 4v4m0 2v3m0 1v2m0 3v1m0 8v2m0 16v1m0 1v1m0 6v3m0 1v1m0 1v1m0 1v3m0 5v2m0 4v1m0 6v1m0 6v1m0 2v2m0 4v3m0 4v3m0 3v1m0 4v3m0 16v5m0 2v1m0 1v1m0 4v2m0 2v1m0 3v1m0 12v3m0 14v1m0 3v2m0 3v5m0 2v9m0 4v1m0 5v2m0 9v2m0 1v2m0 1v3m0 7v2m0 1v3m0 1v4m0 4v2m0 1v2m0 1v1m0 1v3m0 4v1m0 16v1m0 2v6m0 15v1m0 4v2m0 1v1m0 9v3m0 1v1m0 2v1m0 3v1m0 1v2m0 17v3m0 1v3m0 2v1m0 3v1m0 1v1m0 3v2m0 4v3m0 1v2m0 2v1m0 1v1m0 4v1m0 2v2m0 2v1m0 7v1m0 1v4m0 6v1m0 1v1m0 5v2m0 10v1m0 6v3m0 4v1m0 3v2m0 1v3m0 5v3m0 8v8m0 2v3m0 1v1m0 12v1m0 6v2m0 9v3m0 2v2m0 2v1m0 1v3m0 1v3m0 3v3m0 5v1m0 18v1m0 1v1m0 2v1m0 6v2m0 9v1m0 4v2m0 2v1m0 17v1m0 9v9m0 6v1m0 5v4m0 5v6m0 4v2m0 4v2m0 6v2m0 4v3m0 12v2m0 1v1m0 1v1m0 12v3m0 6v3m0 4v2m0 4v2m0 8v6m0 1v5m0 2v1m0 13v1"/>
<path class="j11" d="M0 122v1m0 1v7m0 6v1m0 1v1m0 1v2m0 3v2m0 5v1m0 3v1m0 1v2m0 1v2m0 2v1m0 6v2m0 4v3m0 1v1m0 16v3m0 6v2m0 7v1m0 1v1m0 5v1m0 3v2m0 1v3m0 2v2m0 2v1m0 1v3m0 1v3m0 2v5m0 1v1m0 9v2m0 1v2m0 2v2m0 3v1m0 1v1m0 13v2m0 1v1m0 1v4m0 1v1m0 5v1m0 1v3m0 6v2m0 3v6m0 2v1m0 3v4m0 6v1m0 2v1m0 1v3m0 1v1m0 6v1m0 4v6m0 10v2m0 1v1m0 2v2m0 7v1m0 4v2m0 5v2m0 1v8m0 2v5m0 3v1m0 2v1m0 1v1m0 7v1m0 8v2m0 8v1m0 1v2m0 3v1m0 18v2m0 5v2m0 2v4m0 2v1m0 4v2m0 2v1m0 4v2m0 7v1m0 4v2m0 3v4m0 5v1m0 1v2m0 3v4m0 2v3m0 3v2m0 1v1m0 1v1m0 6v3m0 2v16m0 1v4m0 1v9m0 3v3m0 2v1m0 2v1m0 1v7m0 1v2m0 2v2m0 3v1m0 1v1m0 2v1m0 1v1m0 10v1m0 1v4m0 3v1m0 1v1m0 3v3m0 1v3m0 2v1m0 2v1m0 2v3m0 2v1m0 3v1m0 1v1m0 5v1m0 7v6m0 1v1m0 5v1m0 6v1m0 12v2m0 3v1m0 6v5m0 5v1m0 2v6m0 1v1m0 2v3m0 1v1m0 1v6m0 3v1m0 3v1m0 3v4m0 3v1m0 1v1m0 2v4m0 6v3m0 5v1m0 8v2m0 3v3m0 14v3m0 1v6m0 5v2m0 9v1m0 2v3m0 4v2m0 1v4m0 11v6m0 8v3m0 5v2m0 10v3m0 2v1m0 1v1m0 3v5m0 2v2m0 9v5m0 4v1m0 3v1m0 4v2m0 1v1m0 5v1m0 1v1m0 3v4m0 1v1m0 8v1m0 3v3m0 9v3m0 2v1m0 3v3m0 4v1m0 1v2m0 2v1m0 2v5m0 6v1m0 8v1m0 2v6m0 6v5m0 3v1m0 3v2m0 1v1m0 23v1m0 1v1m0 4v2m0 6v3m0 9v6m0 3v2m0 1v2m0 2v2m0 1v2m0 6v6m0 5v1m0 3v2m0 2v1m0 3v1m0 1v2m0 4v3m0 2v3m0 8v1m0 4v1m0 1v2m0 1v5m0 1v3m0 1v3m0 2v1m0 5v1m0 1v1m0 6v2m0 13v3m0 3v5m0 2v3m0 1v1m0 3v2m0 1v6m0 1v1m0 1v2m0 5v1m0 3v1m0 3v1m0 2v1m0 2v1m0 2v1m0 9v2m0 6v1m0 24v2m0 4v2m0 7v2m0 9v3m0 6v1m0 3v1m0 1v3m0 3v1m0 1v1m0 3v6m0 10v1m0 1v2m0 7v3m0 14v1m0 6v1m0 3v7m0 12v2m0 1v1m0 1v1m0 1v3m0 2v1"/>
<path class="j12" d="M0 116v1m0 4v1m0 1v1m0 7v1m0 2v3m0 3v1m0 2v3m0 2v4m0 12v2m0 1v1m0 1v1m0 12v1m0 1v1m0 3v3m0 1v8m0 3v6m0 7v2m0 1v1m0 12v1m0 3v2m0 3v1m0 1v1m0 3v1m0 13v1m0 1v6m0 5v2m0 2v2m0 2v1m0 4v3m0 3v1m0 7v1m0 6v2m0 4v1m0 5v3m0 3v3m0 6v2m0 1v1m0 8v4m0 1v2m0 1v1m0 3v1m0 1v1m0 3v2m0 13v3m0 3v2m0 2v1m0 35v2m0 5v3m0 4v1m0 1v1m0 7v2m0 3v3m0 9v1m0 1v1m0 2v3m0 4v2m0 1v3m0 18v2m0 7v3m0 3v2m0 10v2m0 1v1m0 14v2m0 4v1m0 14v1m0 4v1m0 4v2m0 6v2m0 21v1m0 9v3m0 6v2m0 22v2m0 10v3m0 10v1m0 1v3m0 30v2m0 3v1m0 3v1m0 6v1m0 7v3m0 39v2m0 8v2m0 31v1m0 22v3m0 3v2m0 25v1m0 23v1m0 10v1m0 4v2m0 6v3m0 9v3m0 21v1m0 6v1m0 9v2m0 16v1m0 14v1m0 18v8m0 1v3m0 15v2m0 1v3m0 3v3m0 2v1m0 12v3m0 43v2m0 24v3m0 32v1m0 6v1m0 2v3m0 12v2m0 13v1m0 9v2m0 20v1m0 13v2m0 7v1m0 1v3m0 7v2m0 21v1m0 3v1m0 1v3m0 2v1m0 12v4m0 1v1m0 7v2m0 4v2m0 9v1m0 9v2m0 5v6m0 10v1m0 17v3m0 12v3m0 3v1m0 1v1m0 7v1m0 10v2m0 12v1m0 3v3m0 6v2m0 1v3m0 3v2m0 4v3m0 3v1m0 23v1m0 1v1m0 3v2"/>
<path class="j13" d="M0 115v1m0 1v4m0 11v2m0 34v1m0 1v3m0 12v3m0 3v1m0 23v1m0 24v1m0 19v1m0 1v1m0 17v1m0 3v3m0 7v2m0 14v1m0 28v2m0 42v3m0 78v3m0 14v1m0 50v1m0 3v3m0 11v1m0 27v1m0 137v2m0 655v3m0 15v2m0 6v1m0 71v4m0 9v3m0 11v1"/>
</g>
<g stroke-width="4" transform="translate(527)">
<path class="j7" d="M0 360v2m0 12v1m0 105v1m0 80v1m0 23v2m0 40v3m0 144v3m0 54v2m0 25v3m0 54v3m0 63v2m0 2v2m0 45v1m0 2v1m0 14v1m0 27v2m0 57v1m0 20v3"/>
<path class="j8" d="M0 138v3m0 72v1m0 26v1m0 12v1m0 53v1m0 3v1m0 50v1m0 10v1m0 30v1m0 24v1m0 17v3m0 31v2m0 57v3m0 10v1m0 8v1m0 2v1m0 9v1m0 11v1m0 66v3m0 14v1m0 24v1m0 1v1m0 12v1m0 77v1m0 5v2m0 22v3m0 11v1m0 3v2m0 43v1m0 45v3m0 18v2m0 18v3m0 5v1m0 6v1m0 18v2m0 15v1m0 7v1m0 5v1m0 1v1m0 14v1m0 25v1m0 60v2m0 5v1m0 3v3m0 18v2m0 43v3m0 9v3m0 1v1m0 3v1m0 39v3m0 39v3m0 38v1m0 27v1m0 22v1m0 50v1m0 8v1m0 18v1m0 42v1m0 19v2"/>
<path class="j9" d="M0 115v1m0 55v2m0 8v1m0 32v2m0 5v1m0 5v1m0 3v1m0 9v2m0 5v1m0 3v1m0 1v1m0 51v1m0 1v1m0 1v1m0 1v2m0 9v1m0 48v1m0 29v2m0 1v2m0 21v1m0 1v1m0 29v1m0 11v1m0 2v2m0 6v3m0 4v1m0 9v1m0 5v1m0 6v3m0 6v1m0 5v3m0 4v5m0 6v2m0 1v4m0 1v1m0 8v2m0 1v4m0 3v2m0 9v1m0 6v3m0 6v3m0 6v1m0 8v1m0 5v3m0 3v2m0 2v1m0 5v2m0 6v1m0 2v3m0 16v1m0 9v2m0 8v2m0 5v1m0 5v5m0 4v1m0 2v1m0 7v3m0 1v1m0 3v1m0 5v2m0 6v2m0 11v4m0 18v2m0 3v1m0 4v1m0 1v1m0 4v1m0 3v3m0 5v1m0 7v2m0 4v5m0 1v2m0 8v1m0 2v1m0 4v2m0 4v2m0 1v1m0 10v5m0 11v2m0 8v1m0 9v1m0 7v1m0 6v3m0 6v1m0 3v1m0 16v1m0 8v1m0 2v2m0 4v3m0 6v2m0 6v1m0 6v2m0 1v3m0 6v1m0 18v2m0 3v1m0 2v1m0 1v1m0 1v1m0 3v1m0 3v2m0 9v1m0 3v2m0 1v3m0 6v1m0 13v7m0 15v3m0 3v3m0 6v2m0 10v3m0 8v3m0 16v1m0 1v2m0 7v1m0 1v1m0 10v4m0 8v2m0 1v3m0 3v6m0 6v3m0 9v1m0 1v1m0 15v1m0 2v6m0 3v3m0 3v3m0 3v1m0 5v3m0 3v2m0 4v3m0 3v3m0 16v1m0 10v1m0 2v3m0 24v2m0 9v1m0 4v2m0 2v1m0 10v2m0 4v5m0 3v3m0 4v1m0 1v1m0 5v3m0 39v2m0 1v1m0 2v5m0 20v2m0 20v1m0 8v1m0 9v1m0 1v1m0 3v3m0 1v1m0 7v1m0 4v1"/>
<path class="j10" d="M0 116v1m0 1v1m0 5v1m0 2v2m0 1v2m0 18v1m0 5v6m0 11v1m0 6v1m0 1v2m0 1v1m0 13v2m0 1v2m0 3v2m0 7v5m0 1v5m0 5v2m0 2v1m0 2v1m0 6v2m0 1v1m0 5v3m0 9v2m0 5v2m0 1v2m0 9v3m0 2v1m0 5v1m0 9v1m0 4v1m0 2v1m0 3v2m0 4v3m0 2v1m0 3v4m0 3v2m0 3v2m0 3v1m0 1v5m0 3v2m0 3v1m0 6v1m0 2v3m0 17v4m0 5v1m0 4v3m0 2v4m0 5v2m0 3v1m0 1v5m0 4v1m0 1v3m0 3v5m0 2v3m0 1v1m0 2v4m0 3v1m0 1v2m0 2v1m0 8v4m0 1v9m0 1v2m0 1v2m0 1v1m0 2v1m0 1v1m0 6v1m0 1v1m0 1v1m0 10v1m0 13v1m0 6v4m0 1v1m0 10v2m0 9v2m0 10v3m0 1v2m0 3v3m0 4v3m0 4v1m0 1v2m0 11v2m0 1v5m0 2v6m0 1v2m0 6v4m0 1v1m0 3v2m0 1v1m0 2v4m0 6v5m0 2v1m0 2v1m0 2v1m0 6v1m0 5v3m0 2v2m0 1v1m0 9v1m0 1v3m0 1v5m0 2v1m0 1v4m0 3v7m0 1v2m0 4v3m0 4v5m0 5v1m0 2v3m0 1v3m0 2v1m0 1v2m0 3v2m0 4v5m0 7v1m0 5v1m0 5v1m0 11v2m0 1v4m0 5v1m0 2v1m0 1v1m0 3v6m0 5v1m0 1v3m0 1v1m0 2v1m0 6v5m0 1v2m0 2v2m0 2v1m0 1v3m0 1v3m0 3v1m0 6v6m0 5v7m0 12v1m0 6v2m0 2v1m0 15v3m0 6v3m0 2v1m0 3v1m0 9v3m0 3v4m0 1v2m0 4v3m0 1v1m0 2v1m0 7v3m0 2v7m0 8v1m0 3v1m0 1v4m0 1v7m0 4v2m0 7v3m0 3v3m0 4v2m0 17v1m0 3v6m0 9v2m0 4v3m0 3v6m0 4v1m0 2v2m0 6v1m0 1v2m0 1v2m0 2v2m0 5v2m0 1v2m0 5v1m0 3v3m0 27v2m0 4v1m0 2v3m0 4v2m0 14v1m0 7v2m0 11v1m0 6v2m0 4v3m0 3v4m0 5v1m0 1v1m0 5v1m0 4v2m0 4v2m0 5v1m0 3v3m0 6v3m0 3v3m0 3v2m0 2v3m0 3v1m0 9v1m0 6v1m0 5v2m0 7v1m0 3v2m0 11v2m0 5v3m0 9v7m0 1v2m0 10v1m0 6v3m0 3v3m0 3v3m0 6v4m0 9v2m0 3v2m0 5v4m0 4v1m0 10v1m0 3v1m0 1v1m0 7v2"/>
<path class="j11" d="M0 117v1m0 1v5m0 1v2m0 2v1m0 5v2m0 4v1m0 9v2m0 11v7m0 3v3m0 7v1m0 4v3m0 3v4m0 2v1m0 2v3m0 2v1m0 1v2m0 15v3m0 3v2m0 1v2m0 4v2m0 5v2m0 12v3m0 2v1m0 3v1m0 2v1m0 8v2m0 4v2m0 1v5m0 4v1m0 11v2m0 1v3m0 3v1m0 1v1m0 3v2m0 1v3m0 4v3m0 7v3m0 1v1m0 10v3m0 1v1m0 1v1m0 4v2m0 7v1m0 1v3m0 3v5m0 10v4m0 3v2m0 4v4m0 7v1m0 5v4m0 1v1m0 11v2m0 5v2m0 4v3m0 7v2m0 23v1m0 4v2m0 1v1m0 4v3m0 1v1m0 3v1m0 2v1m0 15v3m0 13v1m0 10v1m0 5v6m0 6v3m0 6v1m0 10v1m0 4v4m0 4v3m0 37v1m0 1v3m0 2v1m0 7v4m0 7v2m0 4v2m0 4v3m0 15v6m0 17v1m0 6v1m0 7v1m0 9v4m0 8v2m0 21v1m0 9v6m0 20v1m0 12v3m0 21v1m0 3v1m0 1v2m0 4v1m0 10v2m0 2v2m0 5v1m0 4v2m0 25v4m0 3v2m0 4v5m0 6v3m0 6v3m0 22v2m0 2v1m0 3v1m0 3v3m0 4v1m0 2v1m0 33v3m0 7v1m0 12v1m0 15v3m0 3v4m0 7v1m0 3v6m0 3v3m0 9v3m0 30v3m0 7v1m0 2v2m0 2v1m0 6v1m0 2v3m0 15v2m0 7v3m0 12v3m0 1v2m0 3v3m0 9v3m0 3v2m0 4v3m0 11v1m0 11v1m0 6v3m0 4v4m0 7v2m0 3v1m0 6v1m0 2v5m0 1v3m0 4v2m0 1v1m0 10v3m0 3v1m0 5v1m0 2v8m0 4v2m0 9v1m0 3v3m0 6v3m0 3v5m0 2v5m0 5v4m0 1v2m0 7v1m0 2v5m0 4v1m0 10v3m0 3v3m0 13v2m0 1v6m0 2v2m0 4v2m0 1v1m0 9v5m0 3v2m0 7v3"/>
<path class="j12" d="M0 132v2m0 3v1m0 4v2m0 3v3m0 3v1m0 1v1m0 6v2m0 13v3m0 6v3m0 3v3m0 15v1m0 34v1m0 12v6m0 6v3m0 10v2m0 2v1m0 12v3m0 1v2m0 19v1m0 19v3m0 22v1m0 10v4m0 1v1m0 3v3m0 32v1m0 99v2m0 4v3m0 72v2m0 226v2m0 50v2m0 55v3m0 53v2m0 106v2m0 105v1m0 9v3m0 54v2m0 4v3m0 23v1m0 9v2m0 22v1m0 2v1m0 1v1m0 38v1m0 42v2m0 4v1m0 44v3m0 9v1m0 10v1m0 5v1m0 6v3m0 21v3"/>
<path class="j13" d="M0 134v1m0 9v3m0 7v1m0 124v4"/>
</g>
<g stroke-width="4" transform="translate(531)">
<path class="j7" d="M0 331v1m0 170v1m0 33v3m0 40v1m0 55v1m0 1v1m0 9v3m0 76v1m0 58v3m0 162v3m0 81v3m0 39v2m0 130v3m0 12v2m0 6v1m0 63v1m0 56v3m0 18v3m0 66v3"/>
<path class="j8" d="M0 152v1m0 6v1m0 115v1m0 3v2m0 48v2m0 17v2m0 28v2m0 30v6m0 53v1m0 21v3m0 6v2m0 32v2m0 13v1m0 6v1m0 12v3m0 6v1m0 1v1m0 12v1m0 17v2m0 7v3m0 13v1m0 16v3m0 6v3m0 20v1m0 21v3m0 15v1m0 1v1m0 12v1m0 1v1m0 17v1m0 14v1m0 5v1m0 11v1m0 12v1m0 2v1m0 2v1m0 1v1m0 26v1m0 3v3m0 3v1m0 6v1m0 6v1m0 6v3m0 6v1m0 11v3m0 8v1m0 34v4m0 12v1m0 5v1m0 11v1m0 4v1m0 4v2m0 7v3m0 48v8m0 13v1m0 5v3m0 5v1m0 3v6m0 48v2m0 7v6m0 12v1m0 1v1m0 2v1m0 12v3m0 27v1m0 13v1m0 3v2m0 1v2m0 7v1m0 35v3m0 16v2m0 5v1m0 45v2m0 32v3m0 4v1m0 6v2m0 2v4m0 10v5m0 1v3m0 5v1m0 6v1m0 16v1m0 8v1m0 16v1m0 10v2m0 4v2m0 10v2m0 14v1m0 1v3m0 22v1m0 1v1"/>
<path class="j9" d="M0 117v3m0 1v3m0 1v4m0 20v1m0 1v1m0 1v2m0 3v1m0 1v1m0 1v1m0 1v3m0 8v4m0 6v3m0 4v1m0 9v2m0 5v2m0 1v3m0 7v2m0 5v1m0 23v4m0 6v1m0 1v2m0 5v3m0 1v3m0 4v1m0 3v3m0 1v2m0 9v3m0 12v1m0 17v3m0 9v1m0 8v6m0 1v6m0 5v4m0 2v1m0 2v3m0 2v1m0 9v3m0 1v2m0 21v2m0 8v2m0 1v8m0 6v3m0 12v2m0 1v1m0 1v1m0 12v2m0 1v3m0 8v1m0 3v1m0 2v9m0 3v5m0 4v3m0 3v1m0 5v2m0 3v5m0 1v1m0 3v2m0 10v3m0 14v4m0 3v3m0 1v5m0 3v1m0 7v1m0 2v1m0 4v2m0 9v1m0 1v3m0 4v3m0 3v3m0 5v1m0 3v6m0 6v4m0 1v1m0 3v3m0 3v2m0 1v1m0 1v1m0 6v3m0 3v5m0 4v2m0 4v1m0 1v4m0 8v1m0 10v1m0 1v4m0 1v2m0 1v1m0 3v1m0 2v2m0 1v3m0 3v6m0 1v1m0 5v1m0 1v2m0 8v1m0 1v3m0 6v3m0 1v2m0 1v2m0 1v1m0 1v9m0 3v1m0 1v1m0 3v3m0 1v1m0 1v2m0 1v3m0 5v1m0 1v2m0 3v1m0 1v1m0 3v2m0 1v3m0 1v2m0 5v2m0 3v5m0 9v2m0 4v2m0 1v1m0 3v10m0 3v1m0 6v6m0 2v2m0 4v1m0 1v1m0 7v2m0 1v2m0 1v2m0 1v2m0 1v3m0 3v2m0 1v4m0 1v4m0 2v1m0 4v2m0 3v6m0 6v6m0 3v2m0 1v15m0 3v3m0 2v1m0 8v1m0 4v2m0 7v2m0 14v1m0 6v3m0 3v2m0 1v4m0 1v3m0 1v12m0 3v2m0 5v5m0 5v1m0 21v3m0 1v1m0 1v2m0 16v3m0 1v8m0 2v2m0 3v5m0 4v2m0 3v2m0 3v1m0 3v3m0 5v3m0 2v2m0 1v8m0 3v3m0 9v3m0 4v1m0 7v5m0 7v1m0 8v2m0 1v1m0 8v4m0 7v2m0 2v3m0 1v1m0 3v2m0 4v1m0 2v1m0 2v1m0 2v1m0 6v1m0 5v2m0 3v1m0 6v3m0 3v1m0 3v4m0 1v3m0 5v2m0 4v1m0 6v2m0 6v1m0 6v2m0 5v2m0 1v1m0 1v3m0 6v2m0 1v2m0 6v3m0 1v1m0 1v2m0 5v3m0 1v3m0 1v7m0 5v2m0 1v1m0 2v1m0 1v2m0 5v1m0 2v4m0 9v1m0 1v1m0 9v3m0 2v1m0 6v1m0 2v1m0 1v1"/>
<path class="j10" d="M0 115v2m0 3v1m0 3v1m0 4v5m0 3v3m0 10v1m0 4v3m0 3v1m0 1v1m0 6v5m0 7v3m0 4v1m0 1v1m0 1v1m0 3v5m0 2v2m0 5v1m0 4v2m0 3v1m0 5v2m0 1v3m0 6v10m0 1v3m0 7v3m0 1v1m0 2v5m0 9v2m0 3v1m0 3v1m0 2v3m0 10v1m0 2v8m0 1v5m0 1v5m0 3v3m0 3v5m0 1v2m0 4v2m0 2v2m0 6v1m0 6v3m0 1v1m0 7v1m0 4v2m0 1v1m0 1v1m0 3v3m0 3v1m0 2v6m0 6v9m0 2v6m0 1v1m0 2v1m0 8v6m0 3v5m0 1v6m0 4v1m0 1v5m0 2v2m0 1v2m0 2v1m0 6v5m0 5v2m0 9v3m0 5v4m0 5v1m0 8v3m0 13v4m0 2v3m0 8v4m0 3v2m0 4v3m0 9v3m0 1v7m0 4v4m0 5v1m0 1v4m0 1v1m0 3v1m0 6v3m0 6v2m0 13v3m0 4v1m0 2v2m0 3v3m0 4v1m0 1v6m0 4v2m0 5v1m0 5v1m0 1v2m0 1v1m0 4v2m0 4v2m0 1v9m0 7v1m0 2v1m0 1v3m0 1v2m0 6v3m0 6v1m0 2v4m0 4v1m0 3v4m0 5v3m0 2v1m0 21v3m0 1v1m0 1v3m0 3v1m0 1v1m0 9v2m0 4v3m0 3v3m0 6v1m0 5v2m0 2v2m0 6v6m0 5v1m0 7v3m0 10v3m0 1v6m0 6v2m0 7v1m0 1v4m0 8v1m0 5v1m0 3v3m0 15v4m0 11v6m0 6v3m0 2v1m0 21v2m0 10v4m0 2v4m0 5v1m0 1v1m0 3v3m0 3v2m0 10v3m0 2v1m0 4v1m0 3v1m0 12v3m0 2v5m0 5v1m0 1v1m0 3v3m0 2v1m0 7v8m0 9v6m0 1v5m0 6v1m0 8v2m0 2v3m0 11v3m0 2v3m0 15v2m0 11v3m0 3v9m0 3v4m0 1v4m0 8v4m0 2v1m0 1v2m0 3v3m0 4v5m0 1v2m0 4v7m0 2v2m0 3v1m0 1v3m0 2v4m0 1v2m0 1v2m0 7v3m0 1v4m0 3v3m0 1v3m0 6v3m0 12v2m0 10v6m0 2v1m0 10v2m0 3v1m0 2v1m0 4v1m0 6v1m0 1v1m0 2v1m0 3v2m0 1v2m0 5v1m0 2v2m0 1v2m0 3v1m0 11v3m0 4v1m0 4v1m0 2v5m0 7v3m0 3v1m0 1v1m0 6v6m0 3v2m0 1v3m0 1v2m0 1v2"/>
<path class="j11" d="M0 134v3m0 3v9m0 18v1m0 11v3m0 6v1m0 1v1m0 3v3m0 9v3m0 6v1m0 2v2m0 4v3m0 6v6m0 10v1m0 7v3m0 24v2m0 10v6m0 3v1m0 1v2m0 14v1m0 19v1m0 2v1m0 5v2m0 18v1m0 9v1m0 7v1m0 1v3m0 38v1m0 26v1m0 17v2m0 2v1m0 47v2m0 19v3m0 7v2m0 9v2m0 50v1m0 49v1m0 23v1m0 14v1m0 10v1m0 75v2m0 97v3m0 160v2m0 4v1m0 65v1m0 7v2m0 7v1m0 23v1m0 113v2m0 19v1m0 52v1m0 32v1m0 27v1m0 6v2m0 13v1m0 9v1m0 12v1m0 47v3m0 1v1m0 22v1"/>
<path class="j12" d="M0 168v2m0 50v1"/>
</g>
<g stroke-width="3" transform="translate(534.5)">
<path class="j6" d="M0 325v1m0 149v1m0 306v3m0 82v2m0 201v3m0 255v2m0 6v1m0 65v1"/>
<path class="j7" d="M0 138v1m0 38v2m0 72v9m0 34v1m0 17v2m0 10v1m0 13v2m0 130v5m0 85v2m0 124v3m0 23v1m0 18v1m0 11v2m0 31v1m0 32v1m0 24v1m0 10v3m0 18v1m0 12v2m0 4v1m0 4v3m0 6v1m0 41v3m0 51v2m0 58v1m0 6v1m0 12v1m0 73v4m0 2v2m0 19v1m0 16v1m0 23v1m0 26v3m0 20v1m0 15v3m0 30v3m0 11v1m0 3v2m0 23v1m0 7v2m0 13v1m0 1v1m0 10v1m0 5v1m0 64v3m0 54v1"/>
<path class="j8" d="M0 117v2m0 18v1m0 1v1m0 6v3m0 1v5m0 21v1m0 2v1m0 8v2m0 5v2m0 12v2m0 25v1m0 38v1m0 2v2m0 8v2m0 3v1m0 1v1m0 2v1m0 10v3m0 2v1m0 8v1m0 16v1m0 25v2m0 6v4m0 6v3m0 1v2m0 3v2m0 2v1m0 2v1m0 4v2m0 34v2m0 12v3m0 4v5m0 9v3m0 10v1m0 7v2m0 7v4m0 1v2m0 3v2m0 9v1m0 2v3m0 2v3m0 20v2m0 2v1m0 1v2m0 9v2m0 19v1m0 5v1m0 26v3m0 3v3m0 2v1m0 3v1m0 3v5m0 3v2m0 1v9m0 5v3m0 2v2m0 1v1m0 2v2m0 6v1m0 1v2m0 2v3m0 6v1m0 5v3m0 13v2m0 1v6m0 1v1m0 5v7m0 9v1m0 2v9m0 2v1m0 1v2m0 6v3m0 7v5m0 10v1m0 6v4m0 2v1m0 9v1m0 1v1m0 6v3m0 6v1m0 5v1m0 1v1m0 1v1m0 1v3m0 12v1m0 7v1m0 9v1m0 1v1m0 3v4m0 10v2m0 6v4m0 1v6m0 4v2m0 18v3m0 3v1m0 8v9m0 2v1m0 6v3m0 2v1m0 8v3m0 4v3m0 1v2m0 3v3m0 3v4m0 1v1m0 9v3m0 4v1m0 3v1m0 1v2m0 3v1m0 1v5m0 1v1m0 3v2m0 4v2m0 1v3m0 1v2m0 6v5m0 13v3m0 8v2m0 2v1m0 5v4m0 2v1m0 6v1m0 1v1m0 4v2m0 2v2m0 6v1m0 9v1m0 1v1m0 6v2m0 5v1m0 2v2m0 1v2m0 3v1m0 4v4m0 5v1m0 1v2m0 6v3m0 19v2m0 3v1m0 5v3m0 3v2m0 11v5m0 29v1m0 2v1m0 4v5m0 2v1m0 3v3m0 9v4m0 11v1m0 1v1m0 1v2m0 5v1m0 5v1m0 3v2m0 2v1m0 4v2m0 4v1m0 1v1m0 3v1m0 22v1m0 1v5m0 6v2m0 10v3m0 6v2m0 16v6m0 33v3m0 1v2m0 4v5m0 6v6m0 5v1"/>
<path class="j9" d="M0 115v2m0 2v9m0 2v2m0 2v3m0 4v2m0 6v1m0 5v1m0 1v2m0 5v6m0 3v1m0 6v2m0 1v1m0 3v1m0 2v1m0 1v1m0 1v1m0 2v2m0 12v1m0 3v3m0 2v6m0 1v3m0 1v1m0 5v2m0 5v1m0 3v3m0 15v3m0 8v1m0 2v1m0 1v4m0 1v1m0 9v1m0 1v6m0 3v1m0 6v2m0 1v5m0 8v1m0 2v4m0 5v1m0 6v6m0 4v4m0 1v1m0 2v6m0 4v2m0 3v1m0 3v1m0 2v3m0 2v2m0 1v2m0 1v2m0 1v1m0 2v2m0 1v6m0 1v6m0 1v4m0 3v2m0 4v4m0 2v2m0 1v3m0 3v3m0 6v1m0 5v1m0 11v6m0 3v1m0 1v4m0 5v7m0 4v1m0 2v3m0 2v9m0 1v2m0 3v2m0 3v1m0 1v9m0 1v2m0 2v1m0 1v2m0 5v1m0 4v7m0 2v14m0 2v3m0 1v3m0 3v3m0 5v4m0 2v1m0 1v1m0 2v4m0 6v3m0 3v2m0 1v3m0 1v3m0 10v1m0 12v2m0 3v2m0 2v1m0 1v2m0 5v3m0 1v1m0 2v2m0 8v1m0 1v4m0 7v3m0 3v4m0 9v1m0 1v3m0 9v6m0 2v1m0 1v2m0 9v2m0 13v7m0 5v3m0 1v5m0 2v1m0 2v3m0 4v2m0 1v3m0 2v3m0 4v6m0 6v3m0 1v2m0 2v1m0 1v1m0 1v1m0 1v1m0 6v3m0 4v1m0 7v1m0 2v1m0 5v3m0 1v1m0 2v2m0 4v2m0 3v5m0 2v2m0 1v3m0 4v1m0 6v4m0 5v3m0 1v2m0 1v8m0 3v3m0 1v8m0 9v2m0 1v4m0 1v1m0 7v4m0 1v2m0 3v1m0 1v2m0 3v1m0 2v3m0 3v3m0 4v1m0 1v1m0 5v3m0 3v1m0 2v1m0 1v3m0 14v1m0 7v2m0 3v1m0 3v1m0 4v4m0 5v13m0 3v1m0 1v1m0 3v2m0 2v2m0 1v2m0 7v2m0 1v4m0 1v1m0 1v1m0 11v6m0 1v3m0 3v1m0 5v6m0 2v5m0 1v1m0 3v1m0 2v3m0 1v4m0 7v2m0 4v3m0 9v7m0 8v1m0 4v1m0 1v5m0 3v3m0 6v7m0 9v2m0 2v1m0 3v2m0 3v12m0 1v2m0 4v1m0 5v2m0 10v3m0 7v2m0 3v1m0 1v3m0 4v1m0 2v3m0 4v4m0 1v3m0 2v1m0 3v3m0 2v4m0 3v3m0 3v1m0 1v1m0 3v2m0 1v3m0 3v5m0 1v1m0 5v3m0 2v1m0 2v7m0 2v1m0 3v6m0 2v7m0 3v1m0 14v15m0 1v5m0 6v3m0 3v1m0 11v3m0 2v1m0 6v1m0 1v3m0 4v4"/>
<path class="j10" d="M0 128v2m0 2v2m0 6v1m0 2v3m0 10v1m0 2v2m0 1v1m0 7v3m0 1v2m0 6v1m0 1v3m0 4v1m0 1v1m0 5v3m0 1v6m0 3v3m0 3v2m0 6v1m0 3v1m0 1v4m0 3v5m0 1v3m0 12v1m0 1v4m0 3v6m0 1v1m0 4v1m0 4v1m0 3v3m0 3v1m0 8v3m0 9v1m0 8v5m0 1v2m0 7v2m0 1v6m0 6v2m0 1v1m0 4v1m0 15v2m0 21v1m0 5v1m0 6v1m0 6v1m0 4v3m0 2v4m0 8v1m0 3v3m0 16v2m0 15v3m0 6v3m0 42v1m0 9v1m0 2v2m0 1v1m0 10v2m0 23v2m0 7v2m0 4v5m0 4v2m0 1v1m0 1v2m0 4v3m0 24v3m0 12v3m0 30v5m0 10v3m0 3v3m0 33v2m0 19v3m0 21v1m0 8v2m0 13v2m0 3v1m0 21v2m0 16v4m0 1v1m0 3v3m0 4v2m0 18v3m0 9v1m0 26v1m0 2v1m0 39v1m0 7v1m0 4v1m0 6v1m0 24v5m0 7v2m0 9v3m0 17v1m0 9v2m0 26v1m0 1v3m0 9v3m0 11v1m0 24v3m0 1v2m0 36v3m0 10v2m0 3v3m0 7v5m0 6v2m0 16v3m0 15v1m0 2v2m0 1v3m0 2v3m0 40v3m0 6v3m0 1v1m0 3v1m0 12v1m0 33v1m0 1v3m0 2v1m0 3v3m0 15v2m0 10v2m0 23v5m0 6v3m0 15v1m0 5v6m0 9v3m0 9v2m0 8v1m0 4v3"/>
<path class="j11" d="M0 161v1m0 1v1m0 38v1m0 58v1m0 96v1m0 23v1m0 75v3m0 762v1"/>
</g>
<g stroke-width="4" transform="translate(538)">
<path class="j6" d="M0 378v1m0 121v3m0 15v1m0 78v1m0 54v1m0 97v2m0 15v1m0 37v1m0 34v2m0 44v1m0 12v1m0 22v1m0 2v1m0 57v1m0 1v1m0 10v1m0 26v2m0 9v3m0 55v1m0 46v3m0 9v3m0 36v2m0 4v1m0 4v1m0 64v2m0 7v2m0 121v2m0 8v1m0 22v2m0 1v2m0 36v2m0 34v3m0 12v1m0 1v1m0 15v3"/>
<path class="j7" d="M0 126v2m0 9v3m0 7v1m0 16v5m0 1v2m0 4v3m0 9v1m0 16v1m0 14v1m0 4v1m0 6v1m0 33v2m0 15v1m0 6v3m0 24v1m0 20v2m0 7v1m0 17v1m0 1v1m0 4v1m0 4v1m0 1v4m0 5v4m0 42v3m0 23v1m0 3v3m0 21v2m0 6v4m0 19v2m0 4v1m0 4v1m0 5v3m0 13v1m0 19v1m0 1v2m0 20v1m0 1v3m0 4v3m0 3v3m0 12v1m0 1v4m0 1v5m0 3v1m0 6v4m0 1v4m0 3v2m0 4v3m0 2v2m0 5v2m0 18v3m0 18v6m0 8v1m0 15v1m0 2v2m0 7v2m0 3v1m0 1v2m0 15v2m0 4v3m0 3v3m0 3v2m0 10v2m0 1v3m0 3v3m0 12v1m0 37v1m0 6v2m0 1v1m0 12v1m0 4v1m0 8v2m0 4v2m0 1v2m0 3v1m0 6v2m0 3v1m0 10v2m0 4v1m0 7v3m0 6v5m0 3v1m0 1v1m0 10v1m0 1v1m0 6v3m0 15v1m0 5v1m0 8v3m0 9v3m0 6v4m0 7v1m0 2v1m0 18v1m0 1v1m0 3v3m0 2v1m0 6v3m0 6v2m0 7v3m0 6v2m0 40v2m0 12v2m0 1v1m0 1v4m0 9v2m0 32v2m0 17v3m0 2v1m0 5v1m0 2v3m0 46v2m0 6v2m0 1v3m0 10v2m0 1v3m0 8v4m0 5v3m0 1v2m0 18v1m0 8v2m0 9v1m0 12v1m0 2v1m0 4v3m0 16v3m0 14v1m0 5v2m0 17v3m0 3v2m0 17v1m0 4v3m0 12v1m0 6v2"/>
<path class="j8" d="M0 122v1m0 1v2m0 2v1m0 5v3m0 6v2m0 1v1m0 1v4m0 3v2m0 12v1m0 2v1m0 1v2m0 11v1m0 1v2m0 1v4m0 2v2m0 3v2m0 13v2m0 2v3m0 1v1m0 2v3m0 4v6m0 7v5m0 6v3m0 1v2m0 2v4m0 4v7m0 1v3m0 6v3m0 6v6m0 5v2m0 3v2m0 15v3m0 2v1m0 5v1m0 1v7m0 1v3m0 1v1m0 1v1m0 3v1m0 4v1m0 1v1m0 2v1m0 9v2m0 4v2m0 3v1m0 2v4m0 2v1m0 6v3m0 1v2m0 7v2m0 1v2m0 6v1m0 17v5m0 3v1m0 4v2m0 2v5m0 4v4m0 5v6m0 16v1m0 3v2m0 3v4m0 1v1m0 1v2m0 1v2m0 6v2m0 2v2m0 3v1m0 2v1m0 1v1m0 3v3m0 4v8m0 1v1m0 2v7m0 7v6m0 5v1m0 1v2m0 3v1m0 7v2m0 2v6m0 1v1m0 4v1m0 9v4m0 1v1m0 9v3m0 2v1m0 2v1m0 3v2m0 2v5m0 5v3m0 4v8m0 6v2m0 1v1m0 5v1m0 2v3m0 6v8m0 1v9m0 1v5m0 5v1m0 1v2m0 5v3m0 4v3m0 3v6m0 2v1m0 2v1m0 1v2m0 10v2m0 3v2m0 2v5m0 2v1m0 11v1m0 3v6m0 16v5m0 3v3m0 6v5m0 1v2m0 1v3m0 4v2m0 6v3m0 2v4m0 1v2m0 3v3m0 2v4m0 6v2m0 4v3m0 2v3m0 1v4m0 2v2m0 1v1m0 5v1m0 1v4m0 8v1m0 8v3m0 4v1m0 1v1m0 5v1m0 6v3m0 6v3m0 2v2m0 8v1m0 3v5m0 12v3m0 5v4m0 4v3m0 2v2m0 1v2m0 4v7m0 1v1m0 9v3m0 3v2m0 1v3m0 6v2m0 6v4m0 6v3m0 5v1m0 6v1m0 2v2m0 7v1m0 4v1m0 7v1m0 1v6m0 2v1m0 3v1m0 9v1m0 9v6m0 2v2m0 1v2m0 2v1m0 3v6m0 3v3m0 1v2m0 5v1m0 2v1m0 5v2m0 3v6m0 6v5m0 6v6m0 4v2m0 3v3m0 18v3m0 3v4m0 2v3m0 5v1m0 3v2m0 4v4m0 2v1m0 3v2m0 1v2m0 7v2m0 6v1m0 5v8m0 1v5m0 4v2m0 1v3m0 3v1m0 2v3m0 1v1m0 1v3m0 3v4m0 8v2m0 3v4m0 3v3m0 2v1m0 6v1m0 3v2m0 9v3m0 1v1m0 2v1m0 4v9m0 7v2m0 2v1m0 3v1m0 1v2m0 2v2m0 7v3m0 10v2m0 4v6m0 2v1"/>
<path class="j9" d="M0 115v7m0 1v1m0 5v5m0 6v3m0 2v1m0 6v3m0 2v7m0 9v1m0 5v3m0 2v3m0 4v1m0 4v2m0 2v3m0 7v7m0 4v1m0 5v2m0 4v3m0 7v1m0 1v2m0 1v1m0 5v4m0 5v1m0 8v4m0 11v3m0 10v2m0 6v5m0 2v2m0 4v11m0 2v1m0 6v1m0 2v2m0 9v1m0 3v1m0 1v1m0 1v2m0 3v3m0 3v2m0 7v3m0 8v3m0 1v2m0 4v2m0 1v3m0 6v1m0 2v7m0 2v1m0 2v3m0 4v6m0 1v4m0 1v5m0 6v2m0 4v1m0 2v2m0 5v4m0 4v3m0 15v2m0 1v6m0 1v3m0 11v1m0 7v1m0 5v2m0 2v3m0 1v2m0 3v3m0 3v1m0 1v2m0 19v7m0 12v1m0 6v2m0 3v2m0 2v2m0 18v3m0 5v1m0 16v2m0 15v3m0 3v4m0 11v3m0 2v1m0 1v3m0 1v1m0 1v2m0 27v1m0 11v1m0 2v3m0 12v3m0 6v2m0 4v1m0 11v1m0 7v2m0 11v3m0 3v2m0 1v3m0 9v9m0 3v1m0 5v3m0 3v6m0 8v1m0 9v6m0 12v3m0 18v1m0 15v2m0 2v1m0 3v3m0 6v3m0 3v2m0 1v3m0 13v1m0 1v5m0 4v3m0 7v2m0 3v2m0 2v5m0 4v2m0 14v4m0 6v2m0 11v2m0 6v3m0 7v1m0 1v6m0 15v3m0 5v4m0 6v3m0 15v2m0 2v2m0 2v1m0 3v1m0 1v1m0 1v4m0 4v4m0 1v1m0 9v3m0 1v5m0 12v2m0 10v1m0 2v2m0 1v3m0 6v3m0 3v1m0 3v4m0 5v4m0 2v3m0 29v4m0 2v3m0 3v1m0 1v10m0 3v3m0 3v2m0 10v3m0 8v1m0 1v2m0 12v1m0 2v3m0 6v3m0 6v3m0 8v1m0 5v1m0 5v1m0 7v2m0 3v1m0 5v3m0 4v2m0 21v2m0 1v3m0 4v3m0 2v4m0 1v1m0 6v1m0 4v1m0 18v1m0 9v1m0 2v2m0 2v1m0 12v7"/>
<path class="j10" d="M0 182v2m0 22v4m0 7v1m0 24v1m0 1v1m0 2v1m0 10v2m0 36v4m0 20v1m0 11v2m0 8v2m0 66v3m0 31v1m0 4v1m0 55v1m0 27v2m0 26v1m0 149v1m0 82v3m0 54v3m0 76v2m0 75v1m0 32v2m0 91v3m0 8v1m0 10v1m0 7v3m0 72v1m0 8v1m0 51v1m0 10v3m0 8v1m0 21v1m0 101v3m0 22v1m0 13v3m0 9v3m0 21v3"/>
</g>
<g stroke-width="3" transform="translate(541.5)">
<path class="j5" d="M0 200v1m0 131v2m0 246v1m0 38v1m0 74v1m0 11v2m0 3v1m0 141v1m0 11v1m0 77v1m0 74v1m0 20v1m0 105v1m0 28v3m0 134v1m0 62v1"/>
<path class="j6" d="M0 142v2m0 8v2m0 45v1m0 1v4m0 3v3m0 18v2m0 21v1m0 21v2m0 31v2m0 22v1m0 72v2m0 73v1m0 2v2m0 7v2m0 3v3m0 63v3m0 10v2m0 4v1m0 12v1m0 25v2m0 9v2m0 7v1m0 2v2m0 1v1m0 26v2m0 20v2m0 11v1m0 1v1m0 53v1m0 4v3m0 5v1m0 22v1m0 4v1m0 20v1m0 1v4m0 3v1m0 2v1m0 15v2m0 2v1m0 7v2m0 21v1m0 11v1m0 42v2m0 53v1m0 19v1m0 2v2m0 12v1m0 1v1m0 1v1m0 7v1m0 1v1m0 26v1m0 3v3m0 5v1m0 9v2m0 4v3m0 15v1m0 10v1m0 9v1m0 1v1m0 33v1m0 9v1m0 12v1m0 69v1m0 35v2m0 11v1m0 4v2m0 33v1m0 10v1m0 7v1m0 83v1m0 1v1m0 15v2m0 22v3m0 33v1m0 5v1"/>
<path class="j7" d="M0 118v3m0 3v3m0 5v2m0 10v1m0 15v3m0 1v2m0 2v1m0 4v5m0 15v3m0 15v3m0 3v3m0 11v1m0 7v1m0 8v4m0 1v1m0 7v1m0 9v1m0 1v1m0 2v1m0 1v1m0 4v2m0 11v1m0 3v1m0 2v4m0 2v4m0 7v2m0 6v2m0 4v1m0 5v11m0 1v3m0 20v4m0 3v6m0 15v1m0 16v1m0 2v2m0 1v1m0 5v2m0 2v3m0 3v3m0 3v3m0 7v4m0 1v3m0 6v3m0 3v1m0 1v2m0 2v7m0 4v1m0 6v5m0 13v1m0 2v2m0 16v3m0 14v2m0 14v1m0 7v8m0 2v2m0 4v2m0 10v1m0 3v2m0 9v5m0 3v1m0 5v1m0 1v2m0 2v1m0 1v3m0 10v4m0 4v5m0 2v1m0 3v1m0 8v1m0 1v1m0 6v4m0 3v2m0 3v1m0 9v2m0 6v3m0 2v1m0 3v3m0 3v2m0 4v1m0 11v4m0 1v4m0 3v5m0 11v2m0 4v2m0 3v1m0 1v1m0 4v3m0 1v1m0 3v3m0 3v2m0 5v1m0 8v2m0 1v2m0 5v3m0 7v2m0 5v2m0 11v1m0 3v3m0 3v1m0 1v1m0 1v2m0 2v2m0 2v1m0 3v4m0 10v3m0 15v5m0 7v2m0 4v3m0 4v7m0 3v1m0 1v1m0 1v5m0 1v3m0 3v1m0 1v3m0 1v3m0 3v2m0 7v1m0 8v3m0 2v2m0 2v3m0 3v3m0 4v1m0 3v1m0 7v1m0 1v5m0 13v2m0 1v5m0 1v1m0 8v2m0 1v4m0 7v1m0 9v2m0 7v3m0 1v2m0 1v1m0 4v2m0 13v3m0 1v5m0 25v2m0 4v3m0 1v5m0 1v6m0 1v1m0 1v4m0 3v2m0 1v3m0 9v1m0 1v4m0 18v3m0 2v2m0 2v1m0 12v2m0 3v2m0 1v3m0 6v3m0 9v1m0 2v2m0 10v2m0 1v1m0 1v4m0 2v1m0 1v4m0 7v4m0 1v2m0 2v4m0 2v2m0 1v2m0 3v1m0 4v1m0 1v1m0 6v2m0 1v12m0 3v2m0 12v1m0 4v1m0 3v1m0 3v3m0 2v1m0 2v3m0 6v3m0 1v2m0 3v2m0 2v1m0 11v1m0 1v1m0 16v1m0 14v1m0 13v2m0 3v6m0 3v1m0 3v2m0 2v1m0 3v2m0 2v2m0 4v2m0 1v1"/>
<path class="j8" d="M0 121v1m0 1v1m0 3v1m0 1v3m0 2v5m0 2v1m0 4v2m0 3v1m0 2v1m0 8v1m0 2v2m0 1v4m0 5v7m0 22v1m0 12v9m0 3v3m0 1v1m0 1v1m0 1v4m0 1v1m0 1v1m0 6v2m0 1v4m0 1v1m0 2v6m0 1v1m0 4v1m0 1v4m0 2v1m0 1v2m0 3v4m0 1v3m0 1v2m0 10v3m0 1v3m0 2v5m0 3v1m0 4v4m0 12v1m0 9v9m0 3v2m0 4v2m0 7v12m0 9v11m0 1v2m0 2v1m0 1v5m0 2v1m0 5v1m0 4v3m0 3v1m0 1v1m0 3v1m0 4v1m0 3v1m0 8v3m0 15v2m0 4v1m0 1v1m0 5v4m0 2v4m0 4v2m0 2v6m0 1v3m0 1v1m0 1v3m0 3v10m0 2v2m0 2v2m0 3v6m0 6v1m0 12v2m0 3v3m0 2v4m0 2v4m0 1v3m0 4v1m0 3v3m0 5v1m0 3v5m0 11v2m0 6v2m0 4v4m0 8v3m0 1v5m0 2v1m0 1v1m0 1v3m0 7v3m0 8v2m0 1v4m0 2v6m0 3v2m0 1v3m0 8v1m0 4v2m0 1v7m0 23v2m0 3v1m0 5v1m0 8v3m0 4v1m0 1v3m0 3v3m0 2v3m0 7v3m0 6v5m0 3v4m0 6v4m0 11v2m0 8v1m0 2v1m0 4v2m0 2v2m0 1v2m0 5v7m0 6v3m0 3v2m0 2v5m0 5v1m0 2v1m0 5v1m0 9v1m0 7v3m0 1v1m0 1v1m0 5v1m0 3v3m0 1v1m0 3v1m0 5v1m0 3v6m0 1v8m0 12v3m0 3v3m0 6v6m0 8v13m0 2v1m0 7v2m0 3v3m0 7v5m0 9v3m0 2v7m0 6v1m0 1v4m0 3v4m0 1v4m0 6v1m0 5v1m0 2v6m0 3v6m0 3v1m0 1v1m0 3v2m0 1v1m0 9v1m0 8v1m0 4v3m0 2v1m0 3v9m0 1v1m0 4v3m0 3v6m0 1v1m0 2v1m0 4v2m0 2v2m0 1v7m0 1v3m0 3v3m0 2v1m0 3v3m0 8v7m0 1v2m0 2v1m0 3v2m0 2v2m0 2v1m0 9v1m0 4v1m0 1v2m0 7v1m0 2v2m0 4v2m0 2v1m0 3v2m0 1v1m0 2v1m0 1v1m0 3v1m0 2v1m0 15v3m0 2v3m0 2v2m0 2v3m0 1v4m0 1v3m0 1v3m0 3v2m0 1v2m0 3v5m0 4v1m0 7v2m0 1v4m0 1v5m0 4v8m0 1v2m0 7v1m0 1v3m0 3v2m0 1v2m0 5v2m0 3v4m0 2v3m0 10v1m0 1v1m0 2v2m0 1v1m0 4v1m0 9v1"/>
<path class="j9" d="M0 122v1m0 5v1m0 10v2m0 4v1m0 2v3m0 4v5m0 25v8m0 3v3m0 6v2m0 7v3m0 18v1m0 1v1m0 6v1m0 1v1m0 9v1m0 6v2m0 21v1m0 2v3m0 24v1m0 10v1m0 11v1m0 15v6m0 9v3m0 8v1m0 18v3m0 3v3m0 26v1m0 3v1m0 1v1m0 10v1m0 1v3m0 10v5m0 28v1m0 10v2m0 4v3m0 11v1m0 3v1m0 1v1m0 16v2m0 15v2m0 5v2m0 24v2m0 10v2m0 34v6m0 27v2m0 27v1m0 24v3m0 3v3m0 3v1m0 7v1m0 18v4m0 2v3m0 3v3m0 3v3m0 26v1m0 42v6m0 3v3m0 3v1m0 1v1m0 27v3m0 6v3m0 2v2m0 11v2m0 7v3m0 3v3m0 36v2m0 106v3m0 34v1m0 17v2m0 6v3m0 10v1m0 6v1m0 51v3m0 6v1m0 1v2m0 1v1m0 17v1m0 18v3m0 3v2m0 18v2m0 20v1m0 2v3m0 25v2m0 7v2m0 24v2m0 2v2m0 32v1m0 6v3m0 9v1m0 17v1m0 2v3m0 3v1m0 1v1m0 4v1m0 3v1m0 3v4m0 20v3m0 2v1m0 7v2m0 6v3"/>
<path class="j10" d="M0 115v3m0 455v1m0 918v1m0 1v1"/>
</g>
<g stroke-width="4" transform="translate(545)">
<path class="j4" d="M0 749v3m0 122v1m0 38v1m0 86v1m0 265v2"/>
<path class="j5" d="M0 178v1m0 48v1m0 33v2m0 12v2m0 37v1m0 12v1m0 21v1m0 23v1m0 112v2m0 33v1m0 15v1m0 5v3m0 11v3m0 33v3m0 70v1m0 16v1m0 90v1m0 16v1m0 1v1m0 26v1m0 52v1m0 5v1m0 3v1m0 9v1m0 17v2m0 34v1m0 2v2m0 32v2m0 12v2m0 14v2m0 4v2m0 63v1m0 59v3m0 51v3m0 63v1m0 2v2m0 32v1m0 37v3m0 114v3m0 37v1m0 7v6"/>
<path class="j6" d="M0 134v2m0 28v1m0 5v1m0 1v1m0 3v2m0 1v1m0 4v1m0 12v3m0 7v1m0 20v2m0 12v1m0 5v2m0 2v2m0 1v1m0 4v1m0 16v3m0 1v3m0 3v2m0 1v3m0 2v1m0 19v5m0 6v1m0 1v1m0 3v3m0 4v2m0 6v2m0 1v1m0 13v2m0 2v2m0 1v2m0 13v3m0 17v1m0 11v1m0 3v3m0 3v2m0 4v3m0 1v1m0 11v3m0 8v3m0 10v1m0 10v1m0 3v2m0 9v3m0 8v2m0 9v2m0 2v1m0 6v1m0 2v1m0 1v1m0 3v1m0 3v2m0 17v1m0 3v2m0 9v1m0 19v2m0 3v2m0 5v2m0 3v2m0 2v8m0 6v2m0 2v2m0 3v3m0 12v2m0 2v3m0 1v1m0 2v1m0 9v3m0 1v2m0 3v1m0 8v5m0 4v2m0 9v2m0 25v1m0 9v2m0 7v2m0 4v1m0 2v1m0 1v1m0 9v3m0 2v1m0 1v1m0 8v5m0 10v4m0 20v2m0 24v1m0 3v1m0 1v1m0 5v1m0 1v3m0 1v1m0 9v1m0 1v3m0 1v2m0 30v3m0 13v2m0 2v1m0 9v3m0 5v1m0 11v2m0 20v3m0 3v4m0 2v1m0 2v1m0 2v1m0 11v3m0 2v1m0 3v2m0 5v5m0 3v2m0 26v1m0 19v2m0 12v1m0 38v1m0 6v3m0 8v1m0 4v1m0 26v2m0 18v3m0 18v1m0 19v1m0 8v1m0 2v6m0 4v1m0 8v1m0 1v1m0 10v2m0 4v2m0 24v2m0 2v2m0 11v1m0 12v2m0 36v1m0 3v1m0 3v2m0 2v1m0 2v1m0 6v6m0 12v1m0 17v3m0 3v1m0 1v2m0 14v1m0 1v1m0 4v1m0 13v3m0 1v1m0 4v2m0 4v1m0 3v2m0 1v1"/>
<path class="j7" d="M0 115v1m0 6v3m0 1v1m0 2v2m0 5v4m0 3v6m0 3v3m0 6v3m0 1v2m0 4v1m0 1v3m0 4v4m0 1v2m0 13v3m0 3v1m0 1v1m0 9v3m0 1v5m0 4v2m0 2v1m0 3v3m0 1v5m0 2v2m0 2v1m0 1v2m0 7v1m0 3v6m0 5v1m0 8v1m0 3v2m0 5v2m0 4v1m0 4v3m0 6v5m0 4v3m0 6v1m0 2v3m0 7v2m0 9v2m0 2v2m0 2v1m0 3v3m0 3v1m0 1v2m0 1v1m0 8v9m0 2v1m0 5v1m0 1v2m0 1v2m0 1v2m0 5v2m0 2v4m0 3v1m0 1v4m0 3v4m0 3v5m0 6v3m0 3v4m0 1v4m0 3v1m0 5v1m0 2v8m0 4v2m0 4v2m0 2v5m0 6v2m0 1v2m0 2v2m0 1v2m0 18v2m0 4v2m0 1v2m0 1v1m0 4v1m0 1v1m0 1v5m0 1v1m0 1v2m0 2v3m0 7v3m0 2v3m0 2v5m0 2v3m0 2v2m0 11v1m0 1v1m0 2v2m0 2v3m0 3v9m0 2v1m0 2v2m0 5v2m0 1v3m0 4v2m0 6v1m0 1v1m0 1v2m0 11v1m0 5v1m0 1v2m0 3v2m0 2v2m0 2v2m0 2v2m0 3v7m0 3v2m0 1v3m0 8v4m0 1v1m0 3v4m0 1v1m0 4v5m0 7v2m0 4v1m0 5v1m0 5v1m0 2v3m0 1v3m0 5v2m0 4v1m0 2v2m0 1v7m0 2v3m0 5v1m0 1v2m0 4v2m0 7v3m0 1v1m0 3v3m0 7v5m0 2v1m0 2v1m0 3v1m0 5v1m0 1v1m0 6v1m0 2v9m0 5v1m0 3v6m0 3v3m0 12v3m0 3v2m0 1v2m0 4v3m0 3v2m0 7v6m0 2v1m0 3v3m0 13v2m0 4v1m0 1v2m0 2v5m0 3v2m0 1v1m0 4v5m0 10v1m0 3v6m0 5v1m0 3v1m0 4v1m0 2v4m0 6v3m0 5v1m0 2v1m0 2v1m0 3v5m0 1v3m0 3v5m0 1v4m0 3v5m0 3v1m0 2v3m0 3v2m0 3v2m0 1v1m0 3v3m0 3v2m0 1v2m0 1v1m0 1v2m0 1v1m0 4v2m0 9v3m0 3v1m0 5v8m0 4v3m0 3v3m0 1v1m0 1v1m0 3v1m0 8v14m0 9v2m0 1v2m0 1v2m0 6v1m0 4v3m0 8v10m0 5v1m0 2v1m0 1v4m0 3v4m0 1v1m0 6v1m0 4v2m0 2v3m0 3v5m0 1v2m0 4v1m0 2v3m0 2v4m0 7v1m0 7v1m0 2v6m0 3v5m0 3v1m0 1v3m0 2v2m0 1v2m0 4v1m0 8v1m0 1v2m0 2v2m0 2v2m0 1v2m0 3v3m0 3v3m0 2v1m0 7v1m0 2v3m0 1v4m0 3v3m0 6v1m0 1v1m0 6v3m0 2v1m0 3v1m0 1v1m0 5v1m0 1v2m0 1v3m0 2v1m0 1v4m0 9v1"/>
<path class="j8" d="M0 116v6m0 3v1m0 1v2m0 2v3m0 6v3m0 6v3m0 3v6m0 6v3m0 17v10m0 6v3m0 3v1m0 1v4m0 1v2m0 3v1m0 8v1m0 2v2m0 23v2m0 3v2m0 1v1m0 1v1m0 15v2m0 10v2m0 1v1m0 2v4m0 1v1m0 1v2m0 14v1m0 9v3m0 6v3m0 6v9m0 15v1m0 1v1m0 1v1m0 2v1m0 4v5m0 9v2m0 2v4m0 1v1m0 2v1m0 5v1m0 3v1m0 17v3m0 12v3m0 6v3m0 9v3m0 1v2m0 14v1m0 5v4m0 9v3m0 8v2m0 17v6m0 2v1m0 5v1m0 4v2m0 3v1m0 1v1m0 7v1m0 2v2m0 3v3m0 3v1m0 32v3m0 1v1m0 22v2m0 16v4m0 9v1m0 4v5m0 7v3m0 3v1m0 2v3m0 6v2m0 2v2m0 2v3m0 7v3m0 9v3m0 6v1m0 1v1m0 8v1m0 8v3m0 11v5m0 7v2m0 3v1m0 10v1m0 2v1m0 1v2m0 2v1m0 12v5m0 1v1m0 2v2m0 1v1m0 2v6m0 24v2m0 10v3m0 1v1m0 1v3m0 4v2m0 9v5m0 10v3m0 9v6m0 8v1m0 3v3m0 3v3m0 6v2m0 7v2m0 10v3m0 14v1m0 2v2m0 12v2m0 12v3m0 3v2m0 7v5m0 1v3m0 1v4m0 7v3m0 6v2m0 1v2m0 4v2m0 1v1m0 11v3m0 5v1m0 4v3m0 9v2m0 3v3m0 3v2m0 2v1m0 7v3m0 5v1m0 4v1m0 1v1m0 2v1m0 2v6m0 6v3m0 3v2m0 9v1m0 12v1m0 1v1m0 1v3m0 1v7m0 21v3m0 2v1m0 12v3m0 4v2m0 18v3m0 4v1m0 4v3m0 4v1m0 1v1m0 1v1m0 4v2m0 9v3m0 8v1m0 2v1m0 1v2m0 9v7m0 1v7m0 1v2m0 8v1m0 6v2m0 13v3m0 1v2m0 7v1m0 2v2m0 2v2m0 11v3m0 3v2m0 6v1m0 7v1m0 5v2m0 6v3m0 12v2m0 8v2m0 3v1m0 14v9"/>
<path class="j9" d="M0 210v1m0 4v1m0 20v3m0 28v1m0 18v1m0 11v1m0 9v1m0 69v1m0 160v3m0 155v1m0 86v1m0 39v2m0 30v1m0 131v1m0 74v1m0 30v3m0 5v1m0 10v2m0 73v2m0 23v1m0 9v3m0 72v3m0 37v1m0 28v2m0 37v2m0 67v2m0 13v1m0 32v1"/>
</g>
<g stroke-width="3" transform="translate(548.5)">
<path class="j4" d="M0 185v2m0 238v3m0 54v1m0 29v1m0 11v3m0 88v1m0 445v1m0 188v2m0 169v3m0 9v3m0 18v2m0 13v3"/>
<path class="j5" d="M0 146v1m0 34v2m0 4v1m0 32v1m0 6v2m0 88v2m0 10v6m0 7v1m0 13v3m0 2v2m0 3v1m0 31v1m0 78v1m0 5v2m0 13v1m0 4v3m0 7v2m0 26v2m0 2v1m0 5v1m0 21v1m0 22v1m0 11v3m0 1v1m0 1v1m0 1v1m0 18v2m0 6v1m0 48v3m0 15v5m0 6v1m0 11v1m0 30v3m0 1v1m0 10v3m0 3v3m0 12v3m0 36v1m0 29v1m0 6v2m0 39v3m0 32v1m0 11v1m0 16v2m0 6v3m0 15v1m0 9v1m0 22v4m0 16v1m0 1v2m0 36v3m0 1v1m0 95v1m0 3v3m0 13v3m0 10v1m0 9v4m0 5v1m0 4v2m0 53v1m0 54v1m0 29v3m0 20v1m0 11v1m0 23v1m0 20v1m0 48v3m0 6v2"/>
<path class="j6" d="M0 116v3m0 8v4m0 9v2m0 5v2m0 15v3m0 13v1m0 2v2m0 4v5m0 3v3m0 3v3m0 3v3m0 6v2m0 9v1m0 3v1m0 1v4m0 4v1m0 7v1m0 13v1m0 8v1m0 3v1m0 8v6m0 3v3m0 2v7m0 6v1m0 1v1m0 2v1m0 21v1m0 1v1m0 9v3m0 3v2m0 2v3m0 1v1m0 4v1m0 3v3m0 4v1m0 13v1m0 1v1m0 8v2m0 1v2m0 3v4m0 2v1m0 7v1m0 4v2m0 3v3m0 1v1m0 7v5m0 10v3m0 6v1m0 1v1m0 9v3m0 6v1m0 1v1m0 6v3m0 18v2m0 4v3m0 3v2m0 2v2m0 1v2m0 4v2m0 5v1m0 12v1m0 1v4m0 16v1m0 2v2m0 12v1m0 1v1m0 3v9m0 7v2m0 2v1m0 1v4m0 15v1m0 3v4m0 2v3m0 1v3m0 1v5m0 2v4m0 1v1m0 6v1m0 5v1m0 2v6m0 5v1m0 2v3m0 7v5m0 7v3m0 15v1m0 3v1m0 4v1m0 1v3m0 4v3m0 3v2m0 4v2m0 1v3m0 1v2m0 1v2m0 18v3m0 6v3m0 1v1m0 2v3m0 3v5m0 8v1m0 12v3m0 1v2m0 3v1m0 2v3m0 3v1m0 2v3m0 3v3m0 3v5m0 2v1m0 4v2m0 13v2m0 19v1m0 2v2m0 10v2m0 3v3m0 2v1m0 7v1m0 2v2m0 11v2m0 8v1m0 6v1m0 1v2m0 1v1m0 5v4m0 1v2m0 6v2m0 5v2m0 1v2m0 4v1m0 3v3m0 4v1m0 1v1m0 9v1m0 1v2m0 2v3m0 8v4m0 6v1m0 1v1m0 6v2m0 2v1m0 1v3m0 3v3m0 3v2m0 4v3m0 1v4m0 3v2m0 2v3m0 10v2m0 3v3m0 3v1m0 5v6m0 3v2m0 7v1m0 1v3m0 3v1m0 3v3m0 13v2m0 1v3m0 1v1m0 7v1m0 4v3m0 6v1m0 5v1m0 3v3m0 1v1m0 12v2m0 3v4m0 15v2m0 1v2m0 7v3m0 7v2m0 9v1m0 5v3m0 7v3m0 1v2m0 2v3m0 1v2m0 6v1m0 1v1m0 9v3m0 1v2m0 6v1m0 8v1m0 3v7m0 4v2m0 4v2m0 5v1m0 1v3m0 5v3m0 10v2m0 1v3m0 2v1m0 3v5m0 7v2m0 11v1m0 8v1m0 4v3m0 23v1m0 1v1m0 2v5m0 1v6"/>
<path class="j7" d="M0 115v1m0 3v4m0 1v3m0 4v9m0 2v1m0 1v2m0 3v3m0 1v2m0 3v4m0 5v1m0 1v8m0 1v2m0 8v1m0 5v3m0 3v3m0 3v3m0 4v1m0 1v3m0 3v1m0 8v3m0 1v1m0 7v1m0 1v4m0 4v8m0 3v2m0 4v2m0 1v2m0 3v1m0 1v8m0 8v1m0 3v2m0 7v2m0 1v3m0 1v1m0 4v9m0 6v1m0 2v1m0 9v5m0 15v4m0 1v3m0 3v1m0 4v4m0 3v1m0 4v1m0 3v1m0 1v6m0 2v1m0 2v3m0 4v2m0 1v2m0 3v2m0 1v4m0 2v3m0 3v1m0 1v3m0 2v2m0 5v1m0 12v6m0 3v3m0 3v3m0 3v3m0 8v1m0 6v3m0 3v9m0 5v2m0 1v1m0 3v3m0 9v3m0 6v2m0 1v6m0 3v3m0 6v1m0 2v3m0 1v9m0 1v1m0 3v3m0 24v7m0 5v1m0 5v1m0 2v11m0 1v3m0 4v2m0 3v1m0 3v1m0 5v2m0 4v1m0 1v2m0 5v2m0 4v2m0 12v2m0 4v1m0 1v4m0 6v1m0 8v5m0 1v3m0 1v5m0 1v3m0 1v1m0 8v3m0 9v1m0 5v1m0 3v1m0 2v1m0 5v13m0 5v3m0 1v2m0 3v1m0 1v2m0 3v2m0 8v6m0 4v6m0 1v2m0 6v3m0 6v3m0 1v2m0 3v3m0 3v3m0 5v2m0 1v1m0 1v1m0 3v4m0 3v3m0 5v1m0 1v5m0 3v1m0 2v3m0 1v2m0 1v1m0 4v1m0 1v3m0 1v3m0 3v2m0 3v2m0 1v7m0 5v4m0 3v1m0 2v1m0 2v8m0 2v5m0 1v1m0 4v5m0 4v1m0 2v3m0 5v1m0 6v1m0 2v4m0 1v3m0 8v1m0 1v3m0 3v3m0 1v1m0 2v2m0 3v1m0 1v2m0 2v2m0 4v3m0 6v6m0 2v2m0 1v1m0 5v1m0 3v2m0 3v2m0 1v1m0 3v1m0 4v1m0 1v1m0 2v2m0 3v6m0 1v1m0 1v1m0 2v3m0 4v2m0 1v5m0 6v3m0 2v7m0 11v1m0 3v5m0 4v4m0 2v1m0 5v3m0 1v3m0 11v3m0 3v3m0 1v3m0 3v1m0 1v1m0 2v7m0 4v3m0 4v2m0 1v1m0 5v3m0 2v1m0 2v1m0 3v6m0 5v1m0 3v1m0 2v1m0 4v1m0 1v2m0 1v5m0 3v3m0 3v1m0 3v1m0 2v2m0 6v6m0 1v1m0 1v2m0 1v6m0 3v1m0 3v2m0 4v1m0 1v3m0 2v1m0 1v1m0 1v1m0 13v1m0 9v1m0 1v1m0 3v5m0 3v4m0 8v1m0 3v2m0 18v6m0 4v1m0 1v4m0 3v1m0 1v1m0 6v1m0 2v6m0 6v6m0 3v1m0 1v2m0 5v1"/>
<path class="j8" d="M0 123v1m0 19v1m0 8v1m0 2v3m0 4v2m0 4v1m0 8v1m0 34v1m0 1v1m0 7v5m0 12v3m0 6v3m0 9v3m0 3v3m0 2v1m0 3v2m0 16v2m0 15v1m0 25v2m0 1v2m0 3v4m0 33v2m0 5v3m0 1v1m0 2v1m0 5v1m0 46v2m0 8v9m0 27v2m0 4v2m0 29v1m0 22v3m0 9v3m0 10v2m0 3v1m0 17v6m0 37v2m0 44v1m0 6v3m0 22v1m0 11v5m0 8v1m0 3v1m0 22v1m0 40v2m0 6v1m0 20v2m0 7v3m0 6v1m0 44v1m0 1v1m0 12v3m0 3v1m0 5v3m0 1v2m0 3v1m0 4v1m0 4v1m0 3v1m0 34v2m0 39v3m0 33v3m0 13v1m0 2v2m0 30v2m0 6v1m0 4v1m0 10v1m0 14v1m0 1v1m0 9v1m0 35v2m0 9v1m0 18v1m0 33v2m0 7v2m0 11v1m0 1v5m0 3v2m0 16v2m0 1v3m0 4v4m0 1v1m0 14v3m0 26v1m0 12v1m0 7v1m0 3v2m0 3v1m0 15v3m0 27v3m0 18v6m0 8v1m0 1v2m0 6v3m0 3v3m0 4v2m0 6v3"/>
<path class="j9" d="M0 380v1m0 12v2m0 101v1m0 996v1"/>
</g>
<g stroke-width="3" transform="translate(551.5)">
<path class="j4" d="M0 222v2m0 12v1m0 82v1m0 36v1m0 17v2m0 10v1m0 5v3m0 3v3m0 47v1m0 6v2m0 4v1m0 92v3m0 24v1m0 110v2m0 189v1m0 3v1m0 47v1m0 2v1m0 32v1m0 23v2m0 52v1m0 17v1m0 16v1m0 58v1m0 140v2m0 46v2m0 138v2m0 1v3m0 8v1m0 9v1m0 1v1"/>
<path class="j5" d="M0 115v1m0 28v1m0 3v1m0 19v1m0 4v2m0 28v1m0 17v1m0 2v1m0 1v1m0 5v2m0 3v6m0 5v1m0 20v3m0 4v2m0 3v1m0 14v1m0 1v4m0 4v2m0 4v7m0 5v1m0 21v1m0 8v1m0 1v2m0 9v3m0 5v1m0 10v2m0 26v1m0 18v3m0 10v1m0 6v1m0 2v1m0 2v1m0 1v2m0 1v3m0 35v2m0 3v2m0 6v2m0 3v3m0 18v1m0 14v1m0 8v1m0 4v1m0 6v1m0 3v2m0 6v1m0 14v3m0 9v3m0 10v2m0 17v4m0 13v3m0 2v3m0 20v1m0 1v2m0 6v6m0 15v3m0 6v1m0 5v3m0 6v1m0 17v3m0 9v3m0 3v1m0 10v1m0 5v2m0 14v2m0 1v3m0 19v2m0 24v1m0 1v1m0 9v2m0 1v3m0 1v5m0 1v8m0 8v3m0 23v2m0 1v1m0 4v1m0 14v1m0 1v1m0 10v2m0 11v1m0 1v2m0 8v1m0 4v1m0 15v1m0 3v1m0 12v1m0 3v1m0 2v2m0 2v3m0 1v1m0 4v2m0 5v2m0 9v1m0 9v1m0 1v1m0 1v1m0 3v3m0 12v3m0 15v3m0 15v1m0 1v1m0 3v2m0 7v2m0 4v1m0 14v3m0 12v2m0 14v1m0 7v3m0 1v2m0 15v2m0 10v1m0 20v3m0 3v3m0 3v1m0 13v1m0 13v1m0 19v1m0 35v1m0 16v1m0 30v3m0 35v1m0 20v1m0 3v4m0 2v2m0 4v3m0 4v1m0 17v1m0 2v3m0 4v1m0 6v1m0 12v2m0 4v1"/>
<path class="j6" d="M0 117v4m0 2v9m0 1v1m0 5v3m0 1v1m0 1v3m0 1v3m0 3v3m0 3v1m0 5v1m0 1v1m0 2v1m0 2v4m0 1v1m0 4v2m0 1v1m0 1v1m0 11v1m0 1v1m0 1v2m0 1v6m0 3v3m0 4v1m0 4v2m0 2v2m0 7v3m0 1v1m0 1v1m0 2v4m0 6v3m0 10v1m0 6v2m0 8v1m0 2v1m0 1v1m0 4v2m0 1v1m0 3v1m0 1v1m0 11v1m0 1v1m0 2v10m0 1v7m0 1v3m0 3v2m0 4v3m0 5v1m0 3v3m0 30v1m0 2v1m0 4v3m0 1v6m0 3v5m0 7v3m0 3v4m0 2v1m0 2v2m0 5v1m0 4v1m0 3v5m0 3v2m0 2v1m0 7v3m0 7v2m0 1v2m0 2v3m0 2v1m0 1v4m0 8v3m0 6v2m0 4v3m0 1v2m0 4v5m0 4v2m0 7v1m0 2v1m0 8v2m0 10v5m0 7v2m0 3v3m0 1v1m0 3v1m0 9v4m0 3v1m0 1v6m0 1v2m0 3v2m0 5v4m0 4v4m0 3v2m0 3v4m0 1v7m0 1v4m0 4v1m0 5v3m0 12v2m0 1v4m0 1v1m0 6v2m0 2v5m0 3v6m0 1v1m0 4v3m0 3v6m0 3v7m0 1v1m0 4v2m0 1v2m0 2v6m0 1v1m0 2v2m0 2v6m0 4v4m0 2v1m0 3v6m0 2v4m0 6v1m0 2v3m0 6v1m0 2v3m0 2v2m0 6v1m0 1v3m0 1v2m0 15v1m0 8v3m0 3v2m0 8v1m0 2v5m0 6v3m0 5v1m0 4v2m0 6v3m0 4v1m0 3v1m0 3v3m0 3v1m0 1v4m0 3v2m0 1v1m0 2v2m0 1v3m0 6v1m0 1v1m0 5v1m0 3v5m0 1v1m0 1v1m0 1v5m0 3v2m0 1v1m0 1v3m0 1v2m0 2v2m0 5v1m0 5v1m0 3v1m0 4v1m0 1v5m0 1v2m0 1v4m0 1v1m0 3v1m0 12v7m0 3v2m0 2v2m0 3v3m0 1v2m0 3v1m0 3v5m0 3v3m0 5v1m0 2v1m0 3v3m0 2v1m0 1v1m0 2v2m0 3v9m0 5v1m0 3v1m0 3v2m0 2v3m0 1v2m0 2v6m0 1v7m0 3v1m0 5v3m0 2v1m0 3v2m0 3v10m0 1v2m0 5v3m0 7v3m0 3v3m0 3v3m0 3v6m0 3v2m0 1v1m0 1v1m0 3v3m0 3v1m0 1v7m0 15v3m0 3v3m0 4v2m0 3v4m0 4v1m0 4v2m0 1v3m0 1v3m0 4v5m0 1v1m0 5v1m0 1v1m0 3v2m0 4v3m0 6v2m0 4v2m0 10v4m0 2v2m0 1v3m0 6v5m0 4v6m0 19v2m0 5v1m0 9v3m0 7v1m0 3v2m0 1v2m0 3v1m0 1v2m0 1v1m0 2v1m0 1v1m0 1v2m0 5v1m0 3v1m0 2v4m0 2v1"/>
<path class="j7" d="M0 116v1m0 4v2m0 9v1m0 1v5m0 3v1m0 15v1m0 3v5m0 3v2m0 7v1m0 1v4m0 2v1m0 1v1m0 1v5m0 1v5m0 3v1m0 2v1m0 6v3m0 9v3m0 16v1m0 3v2m0 4v6m0 3v1m0 1v2m0 3v3m0 3v3m0 5v2m0 2v2m0 1v2m0 9v1m0 3v1m0 1v1m0 9v3m0 3v2m0 10v1m0 11v3m0 9v2m0 1v2m0 10v6m0 1v2m0 3v3m0 3v3m0 3v3m0 1v2m0 1v4m0 18v4m0 6v3m0 7v2m0 6v1m0 14v3m0 2v2m0 1v7m0 3v7m0 2v1m0 10v1m0 6v3m0 6v6m0 2v4m0 6v2m0 1v1m0 11v6m0 2v2m0 2v6m0 6v6m0 6v7m0 8v1m0 1v3m0 4v2m0 2v2m0 6v1m0 1v1m0 6v1m0 2v3m0 6v1m0 4v4m0 16v1m0 7v1m0 4v1m0 6v3m0 9v6m0 2v1m0 4v1m0 4v3m0 2v1m0 17v4m0 3v3m0 16v1m0 4v1m0 5v2m0 8v2m0 10v2m0 1v1m0 16v2m0 4v6m0 6v6m0 1v2m0 3v2m0 2v5m0 6v1m0 2v3m0 24v3m0 5v5m0 1v2m0 5v1m0 14v3m0 3v6m0 5v1m0 3v2m0 1v3m0 7v1m0 4v3m0 8v1m0 6v3m0 3v5m0 11v1m0 7v3m0 2v1m0 24v3m0 3v2m0 10v1m0 4v1m0 6v3m0 3v5m0 12v2m0 2v3m0 3v1m0 6v3m0 7v1m0 6v2m0 4v1m0 8v1m0 1v1m0 3v3m0 12v2m0 1v3m0 1v3m0 7v1m0 2v2m0 26v2m0 1v3m0 2v1m0 15v5m0 3v7m0 24v3m0 4v1m0 1v3m0 3v2m0 10v8m0 1v3m0 6v3m0 3v4m0 2v3m0 4v4m0 1v2m0 1v1m0 6v1m0 3v4m0 7v4m0 2v1m0 1v3m0 2v1m0 6v3m0 5v1m0 5v5m0 1v4m0 4v2m0 2v1m0 3v4m0 1v1m0 6v3m0 6v9m0 15v2m0 5v2m0 6v5m0 1v1m0 1v3m0 9v1m0 4v2m0 1v1m0 5v4m0 1v2m0 9v1"/>
<path class="j8" d="M0 152v3m0 4v2m0 35v1m0 69v1m0 17v2m0 2v2m0 74v1m0 18v1m0 38v3m0 122v1m0 74v2m0 188v1m0 114v5m0 24v2m0 52v3m0 39v3m0 81v2m0 14v2m0 69v3m0 83v1m0 17v1m0 35v1m0 26v1m0 9v3m0 6v3m0 13v1m0 20v1m0 46v1m0 13v1m0 27v1m0 7v1"/>
</g>
<g stroke-width="3" transform="translate(554.5)">
<path class="j3" d="M0 389v1m0 235v1m0 28v1m0 24v1m0 1v1m0 117v2m0 68v1m0 23v2m0 200v1m0 186v3m0 128v1"/>
<path class="j4" d="M0 133v3m0 81v2m0 13v3m0 23v1m0 17v1m0 57v3m0 51v1m0 7v3m0 61v1m0 47v3m0 3v3m0 6v1m0 20v3m0 37v1m0 41v2m0 6v1m0 45v1m0 35v2m0 33v3m0 27v3m0 17v1m0 60v1m0 5v1m0 1v1m0 7v1m0 3v1m0 9v1m0 35v1m0 51v2m0 20v1m0 59v2m0 29v2m0 3v1m0 2v1m0 11v1m0 11v1m0 24v2m0 79v2m0 1v1m0 31v1m0 70v2m0 8v1m0 44v2m0 13v1m0 3v2m0 136v1"/>
<path class="j5" d="M0 124v3m0 12v2m0 10v2m0 3v3m0 10v2m0 19v1m0 10v1m0 9v1m0 3v2m0 2v1m0 27v1m0 8v2m0 7v2m0 1v3m0 4v1m0 8v1m0 2v1m0 12v4m0 9v1m0 5v1m0 17v2m0 1v3m0 1v2m0 3v3m0 6v6m0 8v1m0 11v1m0 5v1m0 3v2m0 3v1m0 4v2m0 13v3m0 14v3m0 16v2m0 4v2m0 12v3m0 3v6m0 6v2m0 4v3m0 15v1m0 3v1m0 2v2m0 9v9m0 4v2m0 6v3m0 12v1m0 2v3m0 6v1m0 1v1m0 5v7m0 14v4m0 14v4m0 1v2m0 12v5m0 32v2m0 5v1m0 12v1m0 1v4m0 3v1m0 3v5m0 3v2m0 8v2m0 6v2m0 13v1m0 9v2m0 6v3m0 22v2m0 3v3m0 7v1m0 4v3m0 6v3m0 2v1m0 9v1m0 2v3m0 3v6m0 1v2m0 7v2m0 3v1m0 1v1m0 1v1m0 4v1m0 8v4m0 20v1m0 2v3m0 4v2m0 6v2m0 1v3m0 3v6m0 3v3m0 3v4m0 2v3m0 5v1m0 3v1m0 11v3m0 2v6m0 4v3m0 3v6m0 4v2m0 7v6m0 8v3m0 7v1m0 1v3m0 1v1m0 2v1m0 1v3m0 13v3m0 1v4m0 6v2m0 2v1m0 10v2m0 8v1m0 1v2m0 6v1m0 2v3m0 7v1m0 1v1m0 5v1m0 2v1m0 12v1m0 2v3m0 1v2m0 20v3m0 16v3m0 14v1m0 1v2m0 5v3m0 3v7m0 9v2m0 10v1m0 9v2m0 3v3m0 3v3m0 3v1m0 1v1m0 12v3m0 2v1m0 12v1m0 2v3m0 2v3m0 4v7m0 26v1m0 3v1m0 2v1m0 2v2m0 3v8m0 3v1m0 12v3m0 8v2m0 11v3m0 6v3m0 6v1m0 1v1m0 16v2m0 6v3m0 6v3m0 3v1m0 1v2m0 3v3m0 17v3m0 3v2m0 8v1m0 1v2"/>
<path class="j6" d="M0 115v2m0 4v3m0 8v1m0 3v3m0 2v1m0 3v2m0 2v2m0 2v3m0 3v8m0 4v4m0 4v4m0 1v3m0 4v10m0 1v1m0 2v3m0 1v2m0 1v3m0 7v4m0 1v5m0 3v4m0 5v3m0 1v6m0 5v1m0 1v1m0 5v1m0 6v1m0 2v5m0 1v1m0 1v2m0 1v3m0 3v1m0 1v4m0 4v1m0 5v3m0 1v5m0 1v2m0 3v3m0 3v2m0 6v1m0 3v1m0 4v1m0 3v6m0 9v5m0 4v8m0 1v1m0 1v1m0 4v2m0 9v1m0 2v13m0 3v2m0 3v3m0 2v1m0 1v1m0 4v5m0 1v6m0 1v1m0 1v1m0 2v3m0 3v3m0 3v3m0 1v1m0 4v3m0 6v6m0 2v4m0 6v3m0 4v2m0 4v3m0 1v1m0 5v4m0 1v2m0 12v1m0 2v3m0 2v1m0 3v3m0 1v3m0 6v2m0 3v6m0 6v2m0 7v1m0 1v2m0 1v1m0 5v3m0 4v9m0 3v2m0 7v2m0 1v2m0 1v3m0 9v1m0 2v15m0 1v4m0 4v1m0 2v1m0 2v5m0 1v3m0 4v5m0 1v1m0 4v3m0 3v1m0 5v1m0 4v1m0 2v1m0 3v1m0 4v3m0 3v4m0 3v6m0 1v4m0 1v4m0 4v1m0 2v1m0 6v9m0 5v1m0 3v1m0 2v1m0 5v1m0 3v3m0 1v4m0 12v2m0 1v6m0 4v2m0 3v3m0 9v3m0 3v1m0 2v3m0 3v1m0 2v3m0 1v1m0 1v3m0 7v2m0 1v9m0 2v6m0 1v2m0 3v3m0 3v3m0 2v1m0 2v1m0 3v3m0 6v1m0 12v2m0 3v5m0 10v1m0 1v1m0 6v2m0 7v1m0 5v1m0 8v1m0 2v1m0 2v7m0 6v2m0 4v2m0 4v3m0 2v1m0 1v1m0 3v1m0 4v1m0 3v6m0 3v4m0 3v1m0 13v1m0 2v9m0 3v5m0 1v1m0 1v1m0 3v3m0 1v1m0 1v2m0 3v7m0 1v1m0 2v2m0 4v1m0 1v6m0 2v1m0 4v2m0 3v1m0 2v1m0 8v6m0 3v2m0 3v1m0 1v5m0 3v3m0 9v4m0 1v4m0 9v2m0 3v3m0 7v9m0 3v1m0 3v5m0 1v5m0 3v1m0 2v3m0 3v3m0 3v3m0 1v1m0 1v12m0 3v2m0 4v2m0 2v5m0 6v2m0 4v3m0 7v11m0 3v5m0 1v6m0 1v3m0 1v2m0 5v3m0 9v2m0 8v5m0 3v8m0 2v2m0 6v3m0 4v5m0 10v1m0 1v4m0 1v3m0 2v6m0 5v3m0 6v3m0 5v1m0 1v1m0 2v3m0 3v5m0 3v9m0 3v2m0 3v1m0 1v1m0 6v1"/>
<path class="j7" d="M0 117v4m0 6v5m0 10v3m0 2v2m0 18v2m0 6v4m0 4v1m0 3v3m0 13v2m0 3v1m0 11v2m0 4v1m0 12v2m0 1v2m0 10v2m0 4v1m0 1v3m0 6v3m0 8v1m0 8v3m0 1v1m0 9v5m0 12v1m0 5v3m0 2v1m0 12v2m0 16v3m0 6v3m0 10v1m0 4v1m0 8v3m0 21v1m0 1v1m0 3v2m0 1v1m0 1v1m0 8v1m0 6v1m0 1v1m0 12v3m0 3v1m0 1v1m0 27v3m0 6v1m0 14v2m0 4v1m0 20v2m0 7v1m0 3v5m0 15v3m0 10v1m0 2v1m0 1v5m0 30v1m0 2v1m0 3v3m0 7v2m0 15v1m0 4v1m0 4v2m0 12v4m0 24v2m0 3v2m0 1v3m0 3v2m0 3v1m0 20v1m0 6v2m0 1v2m0 16v5m0 8v2m0 4v3m0 11v6m0 13v2m0 41v1m0 12v1m0 9v2m0 21v2m0 17v2m0 3v3m0 15v3m0 3v3m0 1v1m0 1v3m0 13v2m0 4v2m0 7v2m0 18v2m0 1v1m0 5v1m0 3v2m0 21v3m0 12v2m0 27v1m0 9v1m0 17v1m0 5v1m0 8v2m0 1v3m0 10v8m0 6v3m0 6v1m0 5v3m0 3v3m0 3v3m0 4v1m0 10v3m0 28v3m0 53v3m0 2v2m0 38v3m0 5v1m0 36v2m0 1v1m0 20v6m0 6v1m0 8v6m0 7v1m0 3v2m0 8v3m0 6v3m0 6v2m0 16v3m0 14v1m0 3v1m0 1v4"/>
<path class="j8" d="M0 241v1m0 81v2m0 100v1m0 418v1m0 196v1m0 50v1m0 323v1"/>
</g>
</g>
<g shape-rendering="crispEdges"><path d="M128.5 115V1554M173.5 115V1554M206.5 115V1554M231.5 115V1554M251.5 115V1554M269.5 115V1554M284.5 115V1554M297.5 115V1554M387.5 115V1554M432.5 115V1554M465.5 115V1554M490.5 115V1554M510.5 115V1554M527.5 115V1554M542.5 115V1554M556.5 115V1554M645.5 115V1554M691.5 115V1554M723.5 115V1554M748.5 115V1554M769.5 115V1554M786.5 115V1554M801.5 115V1554M815.5 115V1554M904.5 115V1554" stroke="#808080" stroke-width="1" fill="none"/><path d="M309.5 115V1565M568.5 115V1565M826.5 115V1565" stroke="#000" stroke-width="1" fill="none"/><path d="M50.5 114V1565M50 114.5H951M38 1554.5H963" stroke="#000" stroke-width="1" fill="none"/><path d="M950.5 115V1554" stroke="#808080" stroke-width="1" fill="none"/><path d="M44 124.5H50M951 124.5H957M44 134.5H50M951 134.5H957M44 144.5H50M951 144.5H957M44 154.5H50M951 154.5H957M44 164.5H50M951 164.5H957M38 174.5H50M951 174.5H963M44 184.5H50M951 184.5H957M44 194.5H50M951 194.5H957M44 204.5H50M951 204.5H957M44 214.5H50M951 214.5H957M44 224.5H50M951 224.5H957M38 234.5H50M951 234.5H963M44 244.5H50M951 244.5H957M44 254.5H50M951 254.5H957M44 264.5H50M951 264.5H957M44 274.5H50M951 274.5H957M44 284.5H50M951 284.5H957M38 294.5H50M951 294.5H963M44 304.5H50M951 304.5H957M44 314.5H50M951 314.5H957M44 324.5H50M951 324.5H957M44 334.5H50M951 334.5H957M44 344.5H50M951 344.5H957M38 354.5H50M951 354.5H963M44 364.5H50M951 364.5H957M44 374.5H50M951 374.5H957M44 384.5H50M951 384.5H957M44 394.5H50M951 394.5H957M44 404.5H50M951 404.5H957M38 414.5H50M951 414.5H963M44 424.5H50M951 424.5H957M44 434.5H50M951 434.5H957M44 444.5H50M951 444.5H957M44 454.5H50M951 454.5H957M44 464.5H50M951 464.5H957M38 474.5H50M951 474.5H963M44 484.5H50M951 484.5H957M44 494.5H50M951 494.5H957M44 504.5H50M951 504.5H957M44 514.5H50M951 514.5H957M44 524.5H50M951 524.5H957M38 534.5H50M951 534.5H963M44 544.5H50M951 544.5H957M44 554.5H50M951 554.5H957M44 564.5H50M951 564.5H957M44 574.5H50M951 574.5H957M44 584.5H50M951 584.5H957M38 594.5H50M951 594.5H963M44 604.5H50M951 604.5H957M44 614.5H50M951 614.5H957M44 624.5H50M951 624.5H957M44 634.5H50M951 634.5H957M44 644.5H50M951 644.5H957M38 654.5H50M951 654.5H963M44 664.5H50M951 664.5H957M44 674.5H50M951 674.5H957M44 684.5H50M951 684.5H957M44 694.5H50M951 694.5H957M44 704.5H50M951 704.5H957M38 714.5H50M951 714.5H963M44 724.5H50M951 724.5H957M44 734.5H50M951 734.5H957M44 744.5H50M951 744.5H957M44 754.5H50M951 754.5H957M44 764.5H50M951 764.5H957M38 774.5H50M951 774.5H963M44 784.5H50M951 784.5H957M44 794.5H50M951 794.5H957M44 804.5H50M951 804.5H957M44 814.5H50M951 814.5H957M44 824.5H50M951 824.5H957M38 834.5H50M951 834.5H963M44 844.5H50M951 844.5H957M44 854.5H50M951 854.5H957M44 864.5H50M951 864.5H957M44 874.5H50M951 874.5H957M44 884.5H50M951 884.5H957M38 894.5H50M951 894.5H963M44 904.5H50M951 904.5H957M44 914.5H50M951 914.5H957M44 924.5H50M951 924.5H957M44 934.5H50M951 934.5H957M44 944.5H50M951 944.5H957M38 954.5H50M951 954.5H963M44 964.5H50M951 964.5H957M44 974.5H50M951 974.5H957M44 984.5H50M951 984.5H957M44 994.5H50M951 994.5H957M44 1004.5H50M951 1004.5H957M38 1014.5H50M951 1014.5H963M44 1024.5H50M951 1024.5H957M44 1034.5H50M951 1034.5H957M44 1044.5H50M951 1044.5H957M44 1054.5H50M951 1054.5H957M44 1064.5H50M951 1064.5H957M38 1074.5H50M951 1074.5H963M44 1084.5H50M951 1084.5H957M44 1094.5H50M951 1094.5H957M44 1104.5H50M951 1104.5H957M44 1114.5H50M951 1114.5H957M44 1124.5H50M951 1124.5H957M38 1134.5H50M951 1134.5H963M44 1144.5H50M951 1144.5H957M44 1154.5H50M951 1154.5H957M44 1164.5H50M951 1164.5H957M44 1174.5H50M951 1174.5H957M44 1184.5H50M951 1184.5H957M38 1194.5H50M951 1194.5H963M44 1204.5H50M951 1204.5H957M44 1214.5H50M951 1214.5H957M44 1224.5H50M951 1224.5H957M44 1234.5H50M951 1234.5H957M44 1244.5H50M951 1244.5H957M38 1254.5H50M951 1254.5H963M44 1264.5H50M951 1264.5H957M44 1274.5H50M951 1274.5H957M44 1284.5H50M951 1284.5H957M44 1294.5H50M951 1294.5H957M44 1304.5H50M951 1304.5H957M38 1314.5H50M951 1314.5H963M44 1324.5H50M951 1324.5H957M44 1334.5H50M951 1334.5H957M44 1344.5H50M951 1344.5H957M44 1354.5H50M951 1354.5H957M44 1364.5H50M951 1364.5H957M38 1374.5H50M951 1374.5H963M44 1384.5H50M951 1384.5H957M44 1394.5H50M951 1394.5H957M44 1404.5H50M951 1404.5H957M44 1414.5H50M951 1414.5H957M44 1424.5H50M951 1424.5H957M38 1434.5H50M951 1434.5H963M44 1444.5H50M951 1444.5H957M44 1454.5H50M951 1454.5H957M44 1464.5H50M951 1464.5H957M44 1474.5H50M951 1474.5H957M44 1484.5H50M951 1484.5H957M38 1494.5H50M951 1494.5H963M44 1504.5H50M951 1504.5H957M44 1514.5H50M951 1514.5H957M44 1524.5H50M951 1524.5H957M44 1534.5H50M951 1534.5H957M44 1544.5H50M951 1544.5H957M38 1554.5H50M951 1554.5H963" stroke="#000" stroke-width="1" fill="none"/></g>
<text x="14" y="81" textLength="105" lengthAdjust="spacingAndGlyphs" xml:space="preserve">UTC  Jan 7,2026</text>
<text x="455" y="81" textLength="98" lengthAdjust="spacingAndGlyphs" xml:space="preserve">HRSF HHZ FR 00</text>
<text x="954" y="81" textLength="21" lengthAdjust="spacingAndGlyphs" xml:space="preserve">UTC</text>
<text x="-1" y="1559" textLength="35" lengthAdjust="spacingAndGlyphs" xml:space="preserve">00:00</text>
<text x="965" y="1559" textLength="35" lengthAdjust="spacingAndGlyphs" xml:space="preserve">00:00</text>
<text x="-1" y="1499" textLength="35" lengthAdjust="spacingAndGlyphs" xml:space="preserve">01:00</text>
<text x="965" y="1499" textLength="35" lengthAdjust="spacingAndGlyphs" xml:space="preserve">01:00</text>
<text x="-1" y="1439" textLength="35" lengthAdjust="spacingAndGlyphs" xml:space="preserve">02:00</text>
<text x="965" y="1439" textLength="35" lengthAdjust="spacingAndGlyphs" xml:space="preserve">02:00</text>
<text x="-1" y="1379" textLength="35" lengthAdjust="spacingAndGlyphs" xml:space="preserve">03:00</text>
<text x="965" y="1379" textLength="35" lengthAdjust="spacingAndGlyphs" xml:space="preserve">03:00</text>
<text x="-1" y="1319" textLength="35" lengthAdjust="spacingAndGlyphs" xml:space="preserve">04:00</text>
<text x="965" y="1319" textLength="35" lengthAdjust="spacingAndGlyphs" xml:space="preserve">04:00</text>
<text x="-1" y="1259" textLength="35" lengthAdjust="spacingAndGlyphs" xml:space="preserve">05:00</text>
<text x="965" y="1259" textLength="35" lengthAdjust="spacingAndGlyphs" xml:space="preserve">05:00</text>
<text x="-1" y="1199" textLength="35" lengthAdjust="spacingAndGlyphs" xml:space="preserve">06:00</text>
<text x="965" y="1199" textLength="35" lengthAdjust="spacingAndGlyphs" xml:space="preserve">06:00</text>
<text x="-1" y="1139" textLength="35" lengthAdjust="spacingAndGlyphs" xml:space="preserve">07:00</text>
<text x="965" y="1139" textLength="35" lengthAdjust="spacingAndGlyphs" xml:space="preserve">07:00</text>
<text x="-1" y="1079" textLength="35" lengthAdjust="spacingAndGlyphs" xml:space="preserve">08:00</text>
<text x="965" y="1079" textLength="35" lengthAdjust="spacingAndGlyphs" xml:space="preserve">08:00</text>
<text x="-1" y="1019" textLength="35" lengthAdjust="spacingAndGlyphs" xml:space="preserve">09:00</text>
<text x="965" y="1019" textLength="35" lengthAdjust="spacingAndGlyphs" xml:space="preserve">09:00</text>
<text x="-1" y="959" textLength="35" lengthAdjust="spacingAndGlyphs" xml:space="preserve">10:00</text>
<text x="965" y="959" textLength="35" lengthAdjust="spacingAndGlyphs" xml:space="preserve">10:00</text>
<text x="-1" y="899" textLength="35" lengthAdjust="spacingAndGlyphs" xml:space="preserve">11:00</text>
<text x="965" y="899" textLength="35" lengthAdjust="spacingAndGlyphs" xml:space="preserve">11:00</text>
<text x="-1" y="839" textLength="35" lengthAdjust="spacingAndGlyphs" xml:space="preserve">12:00</text>
<text x="965" y="839" textLength="35" lengthAdjust="spacingAndGlyphs" xml:space="preserve">12:00</text>
<text x="-1" y="779" textLength="35" lengthAdjust="spacingAndGlyphs" xml:space="preserve">13:00</text>
<text x="965" y="779" textLength="35" lengthAdjust="spacingAndGlyphs" xml:space="preserve">13:00</text>
<text x="-1" y="719" textLength="35" lengthAdjust="spacingAndGlyphs" xml:space="preserve">14:00</text>
<text x="965" y="719" textLength="35" lengthAdjust="spacingAndGlyphs" xml:space="preserve">14:00</text>
<text x="-1" y="659" textLength="35" lengthAdjust="spacingAndGlyphs" xml:space="preserve">15:00</text>
<text x="965" y="659" textLength="35" lengthAdjust="spacingAndGlyphs" xml:space="preserve">15:00</text>
<text x="-1" y="599" textLength="35" lengthAdjust="spacingAndGlyphs" xml:space="preserve">16:00</text>
<text x="965" y="599" textLength="35" lengthAdjust="spacingAndGlyphs" xml:space="preserve">16:00</text>
<text x="-1" y="539" textLength="35" lengthAdjust="spacingAndGlyphs" xml:space="preserve">17:00</text>
<text x="965" y="539" textLength="35" lengthAdjust="spacingAndGlyphs" xml:space="preserve">17:00</text>
<text x="-1" y="479" textLength="35" lengthAdjust="spacingAndGlyphs" xml:space="preserve">18:00</text>
<text x="965" y="479" textLength="35" lengthAdjust="spacingAndGlyphs" xml:space="preserve">18:00</text>
<text x="-1" y="419" textLength="35" lengthAdjust="spacingAndGlyphs" xml:space="preserve">19:00</text>
<text x="965" y="419" textLength="35" lengthAdjust="spacingAndGlyphs" xml:space="preserve">19:00</text>
<text x="-1" y="359" textLength="35" lengthAdjust="spacingAndGlyphs" xml:space="preserve">20:00</text>
<text x="965" y="359" textLength="35" lengthAdjust="spacingAndGlyphs" xml:space="preserve">20:00</text>
<text x="-1" y="299" textLength="35" lengthAdjust="spacingAndGlyphs" xml:space="preserve">21:00</text>
<text x="965" y="299" textLength="35" lengthAdjust="spacingAndGlyphs" xml:space="preserve">21:00</text>
<text x="-1" y="239" textLength="35" lengthAdjust="spacingAndGlyphs" xml:space="preserve">22:00</text>
<text x="965" y="239" textLength="35" lengthAdjust="spacingAndGlyphs" xml:space="preserve">22:00</text>
<text x="-1" y="179" textLength="35" lengthAdjust="spacingAndGlyphs" xml:space="preserve">23:00</text>
<text x="965" y="179" textLength="35" lengthAdjust="spacingAndGlyphs" xml:space="preserve">23:00</text>
<text x="38" y="1575" textLength="28" lengthAdjust="spacingAndGlyphs" xml:space="preserve">0.01</text>
<text x="299" y="1575" textLength="21" lengthAdjust="spacingAndGlyphs" xml:space="preserve">0.1</text>
<text x="565" y="1575" textLength="7" lengthAdjust="spacingAndGlyphs" xml:space="preserve">1</text>
<text x="819" y="1575" textLength="14" lengthAdjust="spacingAndGlyphs" xml:space="preserve">10</text>
<text x="442" y="1586" textLength="140" lengthAdjust="spacingAndGlyphs" xml:space="preserve">(LOG) FREQUENCY (HZ)</text>
<path shape-rendering="crispEdges" style="fill:#000" d="M2 1623h1v1h-1zM3 1624h1v1h-1zM4 1621h1v4h-1zM5 1622h1v1h-1zM6 1621h1v4h-1zM7 1624h1v1h-1z"/>
<g style="fill:none" stroke-linecap="butt"><path d="M2 39.2 L11.4 38.2" stroke="#2e7d1e" stroke-width="1.7"/><path d="M13.6 37.4 L18.1 34.9 L23.6 29.5 L30 22.2 L34.5 18.1 L37.2 15.4 L40.8 14.1 L45.4 13 L49.9 10.4 L52.8 8.6" stroke="#3a8428" stroke-width="1.1" stroke-dasharray="1.5 1.6 6.5 1.6" stroke-linejoin="round"/><path d="M55.4 2.2V7" stroke="#6aa85a" stroke-width="0.8"/><path d="M53 8.8 C56.5 8.4 59 11 60.8 14.5 C61.8 16.8 62.3 18.5 62.8 20.5 L64.1 26.3" stroke="#3a8a2c" stroke-width="3.1"/><path d="M63.9 25.5 C64.5 28.5 65 30 65.8 31.8 C66.6 33.6 67.6 35 69 36.3" stroke="#3a8a2c" stroke-width="2.5"/><path d="M68.6 35.9 C70 37.2 71.2 37.7 72.8 38 L79.5 38.1" stroke="#3a8a2c" stroke-width="1.3"/><path d="M81.7 37.2 L87 34.5 L93.8 30.2" stroke="#7ab06a" stroke-width="0.9" stroke-dasharray="2.6 2.2"/></g><text x="23.5" y="41.2" style="font-family:'Liberation Sans',sans-serif;font-style:italic;font-weight:normal;font-size:13.5px;fill:none;stroke-width:0.55;stroke:#35a5ff" textLength="47" lengthAdjust="spacingAndGlyphs">OPGC</text><text x="23.6" y="40.4" style="font-family:'Liberation Sans',sans-serif;font-style:italic;font-weight:normal;font-size:13.5px;fill:none;stroke-width:0.5;stroke:#1414a0" textLength="47" lengthAdjust="spacingAndGlyphs" stroke-dasharray="5 3">OPGC</text>
<path shape-rendering="crispEdges" style="fill:none" stroke="#000" stroke-width="1" d="M1053 115.5H1063M1054 116.5H1063M1054 117.5H1063M1052 118.5H1063M1054 119.5H1063M1054 120.5H1063M1054 121.5H1063M1054 122.5H1064M1054 123.5H1064M1052 124.5H1063M1053 125.5H1063M1054 126.5H1063M1054 127.5H1064M1051 128.5H1063M1054 129.5H1063M1052 130.5H1064M1054 131.5H1063M1053 132.5H1065M1054 133.5H1063M1052 134.5H1064M1053 135.5H1064M1054 136.5H1063M1053 137.5H1063M1054 138.5H1063M1054 139.5H1063M1054 140.5H1063M1054 141.5H1064M1054 142.5H1063M1054 143.5H1063M1054 144.5H1063M1054 145.5H1067M1053 146.5H1064M1053 147.5H1063M1054 148.5H1063M1054 149.5H1063M1053 150.5H1063M1054 151.5H1063M1054 152.5H1063M1054 153.5H1064M1054 154.5H1064M1053 155.5H1063M1054 156.5H1064M1054 157.5H1064M1053 158.5H1063M1054 159.5H1063M1052 160.5H1063M1054 161.5H1063M1054 162.5H1063M1053 163.5H1063M1054 164.5H1064M1054 165.5H1063M1054 166.5H1063M1054 167.5H1063M1054 168.5H1064M1053 169.5H1063M1054 170.5H1063M1054 171.5H1063M1053 172.5H1063M1054 173.5H1063M1053 174.5H1063M1054 175.5H1063M1054 176.5H1066M1054 177.5H1063M1053 178.5H1063M1054 179.5H1063M1054 180.5H1063M1054 181.5H1063M1054 182.5H1063M1054 183.5H1063M1053 184.5H1067M1054 185.5H1064M1054 186.5H1064M1054 187.5H1063M1053 188.5H1063M1054 189.5H1064M1054 190.5H1063M1054 191.5H1063M1054 192.5H1063M1053 193.5H1064M1053 194.5H1063M1053 195.5H1063M1054 196.5H1063M1054 197.5H1063M1054 198.5H1063M1054 199.5H1063M1053 200.5H1063M1054 201.5H1065M1054 202.5H1064M1052 203.5H1064M1054 204.5H1063M1054 205.5H1063M1054 206.5H1064M1054 207.5H1064M1054 208.5H1064M1054 209.5H1064M1054 210.5H1064M1054 211.5H1063M1053 212.5H1063M1054 213.5H1064M1053 214.5H1063M1054 215.5H1064M1053 216.5H1063M1054 217.5H1063M1054 218.5H1063M1053 219.5H1064M1053 220.5H1063M1054 221.5H1063M1054 222.5H1063M1054 223.5H1063M1054 224.5H1064M1054 225.5H1063M1054 226.5H1063M1054 227.5H1063M1054 228.5H1065M1054 229.5H1063M1054 230.5H1063M1054 231.5H1063M1054 232.5H1063M1054 233.5H1062M1054 234.5H1064M1054 235.5H1064M1054 236.5H1064M1054 237.5H1063M1053 238.5H1063M1055 239.5H1063M1055 240.5H1063M1055 241.5H1064M1055 242.5H1065M1054 243.5H1062M1054 244.5H1064M1055 245.5H1062M1054 246.5H1063M1054 247.5H1065M1055 248.5H1062M1055 249.5H1062M1055 250.5H1065M1055 251.5H1063M1054 252.5H1063M1055 253.5H1062M1054 254.5H1062M1054 255.5H1062M1055 256.5H1063M1055 257.5H1062M1054 258.5H1063M1055 259.5H1063M1055 260.5H1062M1055 261.5H1063M1055 262.5H1062M1055 263.5H1063M1055 264.5H1062M1055 265.5H1062M1054 266.5H1063M1054 267.5H1063M1055 268.5H1063M1055 269.5H1063M1053 270.5H1062M1055 271.5H1063M1055 272.5H1062M1055 273.5H1062M1053 274.5H1063M1054 275.5H1062M1055 276.5H1063M1055 277.5H1063M1054 278.5H1064M1053 279.5H1062M1055 280.5H1062M1054 281.5H1062M1054 282.5H1063M1054 283.5H1062M1055 284.5H1063M1054 285.5H1063M1054 286.5H1063M1055 287.5H1062M1055 288.5H1063M1055 289.5H1062M1054 290.5H1063M1054 291.5H1062M1055 292.5H1063M1054 293.5H1063M1054 294.5H1063M1054 295.5H1063M1054 296.5H1063M1053 297.5H1062M1055 298.5H1063M1053 299.5H1063M1054 300.5H1063M1054 301.5H1062M1055 302.5H1063M1054 303.5H1063M1054 304.5H1062M1053 305.5H1062M1054 306.5H1064M1055 307.5H1063M1054 308.5H1066M1054 309.5H1063M1054 310.5H1062M1053 311.5H1064M1054 312.5H1063M1055 313.5H1063M1054 314.5H1063M1054 315.5H1063M1055 316.5H1062M1055 317.5H1063M1054 318.5H1064M1054 319.5H1063M1054 320.5H1063M1054 321.5H1063M1055 322.5H1063M1054 323.5H1062M1052 324.5H1063M1054 325.5H1063M1053 326.5H1064M1054 327.5H1063M1053 328.5H1063M1054 329.5H1066M1054 330.5H1066M1054 331.5H1063M1055 332.5H1062M1054 333.5H1063M1055 334.5H1065M1054 335.5H1063M1055 336.5H1063M1053 337.5H1063M1054 338.5H1064M1055 339.5H1062M1054 340.5H1063M1053 341.5H1063M1055 342.5H1063M1054 343.5H1063M1055 344.5H1063M1054 345.5H1063M1054 346.5H1063M1055 347.5H1063M1054 348.5H1064M1053 349.5H1063M1055 350.5H1063M1054 351.5H1062M1054 352.5H1064M1055 353.5H1064M1054 354.5H1063M1055 355.5H1063M1053 356.5H1063M1054 357.5H1063M1054 358.5H1063M1054 359.5H1063M1053 360.5H1063M1054 361.5H1063M1051 362.5H1063M1054 363.5H1063M1054 364.5H1063M1053 365.5H1063M1053 366.5H1063M1054 367.5H1063M1054 368.5H1063M1054 369.5H1063M1052 370.5H1063M1054 371.5H1063M1054 372.5H1067M1052 373.5H1063M1054 374.5H1063M1054 375.5H1063M1053 376.5H1063M1054 377.5H1063M1054 378.5H1063M1054 379.5H1064M1053 380.5H1063M1053 381.5H1063M1054 382.5H1063M1054 383.5H1065M1053 384.5H1063M1053 385.5H1063M1053 386.5H1064M1053 387.5H1063M1054 388.5H1063M1054 389.5H1066M1054 390.5H1064M1053 391.5H1064M1053 392.5H1064M1054 393.5H1065M1054 394.5H1063M1051 395.5H1064M1054 396.5H1063M1054 397.5H1064M1053 398.5H1063M1053 399.5H1063M1052 400.5H1063M1054 401.5H1064M1054 402.5H1063M1054 403.5H1065M1053 404.5H1063M1053 405.5H1064M1053 406.5H1064M1054 407.5H1065M1053 408.5H1064M1053 409.5H1063M1053 410.5H1063M1054 411.5H1063M1053 412.5H1064M1053 413.5H1064M1053 414.5H1064M1053 415.5H1064M1053 416.5H1064M1054 417.5H1064M1053 418.5H1063M1054 419.5H1067M1053 420.5H1063M1054 421.5H1064M1054 422.5H1063M1054 423.5H1063M1053 424.5H1063M1054 425.5H1063M1052 426.5H1066M1054 427.5H1063M1054 428.5H1063M1054 429.5H1065M1053 430.5H1063M1054 431.5H1063M1051 432.5H1063M1054 433.5H1063M1053 434.5H1063M1053 435.5H1063M1054 436.5H1062M1054 437.5H1063M1053 438.5H1063M1054 439.5H1062M1053 440.5H1066M1054 441.5H1063M1054 442.5H1063M1055 443.5H1063M1054 444.5H1063M1054 445.5H1063M1054 446.5H1063M1052 447.5H1063M1051 448.5H1063M1054 449.5H1062M1053 450.5H1064M1055 451.5H1062M1054 452.5H1063M1055 453.5H1062M1054 454.5H1062M1055 455.5H1062M1053 456.5H1063M1054 457.5H1062M1052 458.5H1063M1054 459.5H1063M1054 460.5H1063M1055 461.5H1064M1053 462.5H1063M1055 463.5H1062M1055 464.5H1063M1054 465.5H1064M1055 466.5H1062M1055 467.5H1063M1054 468.5H1063M1055 469.5H1062M1055 470.5H1063M1053 471.5H1063M1054 472.5H1063M1054 473.5H1063M1055 474.5H1062M1055 475.5H1062M1054 476.5H1062M1054 477.5H1064M1055 478.5H1063M1055 479.5H1063M1055 480.5H1063M1054 481.5H1065M1054 482.5H1063M1054 483.5H1063M1054 484.5H1062M1054 485.5H1063M1055 486.5H1063M1054 487.5H1063M1054 488.5H1063M1054 489.5H1062M1054 490.5H1064M1055 491.5H1063M1054 492.5H1063M1054 493.5H1064M1054 494.5H1063M1054 495.5H1063M1055 496.5H1063M1050 497.5H1063M1055 498.5H1063M1054 499.5H1063M1054 500.5H1064M1054 501.5H1063M1054 502.5H1063M1054 503.5H1063M1054 504.5H1062M1055 505.5H1064M1055 506.5H1063M1053 507.5H1063M1054 508.5H1064M1055 509.5H1063M1054 510.5H1063M1053 511.5H1063M1054 512.5H1062M1055 513.5H1062M1054 514.5H1063M1055 515.5H1063M1052 516.5H1063M1054 517.5H1062M1054 518.5H1063M1055 519.5H1062M1054 520.5H1062M1054 521.5H1063M1055 522.5H1063M1055 523.5H1062M1054 524.5H1063M1055 525.5H1062M1055 526.5H1062M1054 527.5H1063M1054 528.5H1062M1055 529.5H1065M1054 530.5H1062M1055 531.5H1063M1055 532.5H1062M1055 533.5H1062M1055 534.5H1062M1054 535.5H1063M1055 536.5H1062M1054 537.5H1065M1055 538.5H1063M1055 539.5H1062M1054 540.5H1062M1054 541.5H1062M1053 542.5H1062M1052 543.5H1063M1055 544.5H1062M1054 545.5H1062M1054 546.5H1063M1052 547.5H1062M1054 548.5H1063M1055 549.5H1062M1055 550.5H1063M1054 551.5H1062M1055 552.5H1062M1052 553.5H1062M1054 554.5H1063M1054 555.5H1063M1053 556.5H1062M1054 557.5H1063M1054 558.5H1063M1054 559.5H1063M1054 560.5H1062M1054 561.5H1063M1052 562.5H1063M1055 563.5H1064M1054 564.5H1062M1054 565.5H1063M1054 566.5H1063M1054 567.5H1063M1054 568.5H1064M1054 569.5H1063M1053 570.5H1063M1054 571.5H1063M1051 572.5H1063M1054 573.5H1063M1053 574.5H1063M1054 575.5H1063M1053 576.5H1063M1054 577.5H1065M1054 578.5H1066M1054 579.5H1063M1052 580.5H1064M1053 581.5H1064M1054 582.5H1064M1054 583.5H1064M1054 584.5H1064M1054 585.5H1063M1054 586.5H1063M1054 587.5H1063M1052 588.5H1064M1054 589.5H1063M1054 590.5H1064M1054 591.5H1064M1054 592.5H1064M1052 593.5H1065M1054 594.5H1063M1053 595.5H1063M1054 596.5H1063M1054 597.5H1063M1054 598.5H1063M1054 599.5H1063M1053 600.5H1063M1053 601.5H1063M1053 602.5H1064M1053 603.5H1063M1053 604.5H1063M1053 605.5H1063M1053 606.5H1063M1053 607.5H1063M1054 608.5H1063M1053 609.5H1064M1053 610.5H1063M1054 611.5H1063M1053 612.5H1063M1054 613.5H1064M1053 614.5H1063M1053 615.5H1064M1054 616.5H1064M1054 617.5H1063M1054 618.5H1064M1054 619.5H1063M1054 620.5H1063M1054 621.5H1064M1054 622.5H1063M1054 623.5H1063M1054 624.5H1063M1054 625.5H1063M1054 626.5H1063M1054 627.5H1063M1054 628.5H1066M1054 629.5H1063M1054 630.5H1063M1054 631.5H1065M1054 632.5H1063M1053 633.5H1063M1054 634.5H1064M1054 635.5H1064M1052 636.5H1063M1054 637.5H1064M1054 638.5H1063M1053 639.5H1064M1054 640.5H1063M1054 641.5H1063M1053 642.5H1063M1054 643.5H1063M1054 644.5H1063M1054 645.5H1063M1054 646.5H1063M1054 647.5H1064M1054 648.5H1063M1054 649.5H1063M1054 650.5H1063M1054 651.5H1063M1053 652.5H1063M1053 653.5H1063M1054 654.5H1063M1054 655.5H1064M1054 656.5H1063M1054 657.5H1063M1054 658.5H1064M1054 659.5H1063M1052 660.5H1064M1053 661.5H1064M1054 662.5H1065M1054 663.5H1064M1053 664.5H1063M1054 665.5H1064M1054 666.5H1063M1053 667.5H1063M1052 668.5H1066M1054 669.5H1063M1052 670.5H1063M1054 671.5H1063M1053 672.5H1063M1054 673.5H1063M1053 674.5H1063M1053 675.5H1063M1054 676.5H1063M1054 677.5H1063M1054 678.5H1065M1054 679.5H1063M1054 680.5H1063M1054 681.5H1064M1054 682.5H1063M1053 683.5H1063M1054 684.5H1065M1054 685.5H1064M1054 686.5H1063M1054 687.5H1063M1054 688.5H1063M1054 689.5H1063M1054 690.5H1063M1054 691.5H1063M1054 692.5H1064M1054 693.5H1063M1054 694.5H1062M1055 695.5H1062M1054 696.5H1063M1054 697.5H1064M1054 698.5H1063M1054 699.5H1062M1054 700.5H1063M1054 701.5H1063M1055 702.5H1065M1051 703.5H1063M1053 704.5H1063M1055 705.5H1062M1054 706.5H1062M1054 707.5H1064M1054 708.5H1063M1054 709.5H1063M1054 710.5H1063M1054 711.5H1063M1054 712.5H1063M1055 713.5H1062M1054 714.5H1063M1054 715.5H1062M1055 716.5H1063M1055 717.5H1062M1055 718.5H1062M1054 719.5H1063M1055 720.5H1062M1054 721.5H1063M1055 722.5H1064M1055 723.5H1064M1054 724.5H1062M1055 725.5H1063M1055 726.5H1063M1055 727.5H1062M1055 728.5H1062M1055 729.5H1062M1054 730.5H1062M1055 731.5H1062M1053 732.5H1063M1054 733.5H1063M1052 734.5H1063M1055 735.5H1063M1055 736.5H1062M1055 737.5H1063M1055 738.5H1063M1052 739.5H1063M1054 740.5H1063M1055 741.5H1062M1053 742.5H1063M1054 743.5H1063M1051 744.5H1062M1055 745.5H1063M1055 746.5H1062M1055 747.5H1062M1054 748.5H1063M1054 749.5H1063M1054 750.5H1063M1055 751.5H1063M1055 752.5H1063M1054 753.5H1062M1054 754.5H1063M1054 755.5H1065M1054 756.5H1063M1054 757.5H1062M1054 758.5H1063M1055 759.5H1063M1054 760.5H1062M1054 761.5H1063M1055 762.5H1064M1054 763.5H1063M1054 764.5H1064M1055 765.5H1064M1051 766.5H1063M1054 767.5H1063M1053 768.5H1063M1053 769.5H1063M1053 770.5H1063M1054 771.5H1064M1054 772.5H1063M1054 773.5H1063M1054 774.5H1063M1054 775.5H1063M1054 776.5H1065M1054 777.5H1063M1054 778.5H1065M1054 779.5H1063M1054 780.5H1063M1054 781.5H1063M1054 782.5H1064M1053 783.5H1063M1054 784.5H1063M1054 785.5H1063M1054 786.5H1063M1054 787.5H1063M1052 788.5H1063M1054 789.5H1063M1052 790.5H1063M1054 791.5H1063M1053 792.5H1063M1053 793.5H1063M1053 794.5H1063M1054 795.5H1066M1053 796.5H1063M1054 797.5H1063M1054 798.5H1063M1054 799.5H1063M1055 800.5H1063M1052 801.5H1064M1055 802.5H1062M1055 803.5H1063M1053 804.5H1063M1054 805.5H1063M1053 806.5H1063M1054 807.5H1063M1053 808.5H1063M1054 809.5H1064M1053 810.5H1063M1054 811.5H1063M1054 812.5H1063M1054 813.5H1064M1052 814.5H1063M1054 815.5H1062M1054 816.5H1062M1054 817.5H1063M1055 818.5H1063M1054 819.5H1063M1054 820.5H1064M1054 821.5H1063M1054 822.5H1063M1054 823.5H1063M1054 824.5H1065M1055 825.5H1062M1054 826.5H1063M1054 827.5H1066M1054 828.5H1064M1054 829.5H1063M1054 830.5H1063M1054 831.5H1063M1054 832.5H1063M1054 833.5H1063M1053 834.5H1063M1054 835.5H1064M1053 836.5H1063M1053 837.5H1063M1053 838.5H1063M1054 839.5H1063M1054 840.5H1063M1053 841.5H1063M1054 842.5H1063M1054 843.5H1063M1054 844.5H1063M1054 845.5H1063M1054 846.5H1063M1054 847.5H1063M1053 848.5H1064M1054 849.5H1063M1052 850.5H1063M1054 851.5H1063M1054 852.5H1064M1053 853.5H1063M1054 854.5H1063M1054 855.5H1064M1053 856.5H1064M1054 857.5H1064M1053 858.5H1064M1053 859.5H1066M1053 860.5H1064M1053 861.5H1063M1054 862.5H1063M1054 863.5H1064M1053 864.5H1065M1053 865.5H1064M1053 866.5H1063M1053 867.5H1063M1053 868.5H1063M1053 869.5H1064M1053 870.5H1065M1052 871.5H1065M1052 872.5H1063M1054 873.5H1064M1054 874.5H1063M1053 875.5H1063M1054 876.5H1064M1053 877.5H1063M1054 878.5H1063M1054 879.5H1063M1053 880.5H1063M1053 881.5H1063M1054 882.5H1063M1052 883.5H1063M1053 884.5H1065M1054 885.5H1063M1054 886.5H1063M1054 887.5H1064M1054 888.5H1063M1054 889.5H1063M1054 890.5H1063M1054 891.5H1063M1054 892.5H1063M1054 893.5H1063M1054 894.5H1063M1054 895.5H1063M1053 896.5H1064M1054 897.5H1063M1055 898.5H1062M1054 899.5H1063M1055 900.5H1063M1054 901.5H1063M1054 902.5H1063M1055 903.5H1063M1054 904.5H1063M1054 905.5H1063M1055 906.5H1063M1054 907.5H1063M1054 908.5H1062M1055 909.5H1063M1055 910.5H1062M1055 911.5H1062M1055 912.5H1062M1054 913.5H1063M1054 914.5H1062M1054 915.5H1062M1052 916.5H1063M1053 917.5H1063M1054 918.5H1063M1054 919.5H1063M1055 920.5H1062M1054 921.5H1063M1055 922.5H1063M1054 923.5H1064M1054 924.5H1062M1054 925.5H1064M1055 926.5H1062M1055 927.5H1063M1054 928.5H1063M1054 929.5H1062M1055 930.5H1063M1055 931.5H1063M1055 932.5H1063M1054 933.5H1064M1055 934.5H1062M1054 935.5H1062M1054 936.5H1063M1053 937.5H1063M1054 938.5H1063M1055 939.5H1063M1055 940.5H1063M1055 941.5H1062M1054 942.5H1062M1054 943.5H1063M1054 944.5H1065M1055 945.5H1063M1054 946.5H1063M1055 947.5H1064M1054 948.5H1063M1055 949.5H1062M1054 950.5H1063M1054 951.5H1064M1055 952.5H1062M1054 953.5H1063M1054 954.5H1062M1054 955.5H1063M1054 956.5H1063M1055 957.5H1063M1054 958.5H1062M1054 959.5H1066M1054 960.5H1065M1055 961.5H1062M1055 962.5H1063M1054 963.5H1064M1053 964.5H1065M1054 965.5H1063M1054 966.5H1063M1054 967.5H1063M1054 968.5H1063M1055 969.5H1062M1054 970.5H1063M1054 971.5H1062M1054 972.5H1063M1054 973.5H1063M1054 974.5H1063M1054 975.5H1063M1054 976.5H1062M1054 977.5H1062M1051 978.5H1063M1054 979.5H1063M1053 980.5H1062M1055 981.5H1062M1055 982.5H1063M1054 983.5H1063M1054 984.5H1062M1054 985.5H1062M1054 986.5H1063M1054 987.5H1063M1054 988.5H1063M1054 989.5H1063M1055 990.5H1064M1054 991.5H1062M1054 992.5H1062M1054 993.5H1063M1054 994.5H1062M1055 995.5H1063M1054 996.5H1062M1054 997.5H1063M1054 998.5H1063M1055 999.5H1065M1054 1000.5H1062M1055 1001.5H1062M1054 1002.5H1063M1055 1003.5H1062M1054 1004.5H1062M1054 1005.5H1062M1054 1006.5H1062M1054 1007.5H1062M1055 1008.5H1063M1054 1009.5H1063M1055 1010.5H1065M1054 1011.5H1062M1055 1012.5H1062M1052 1013.5H1064M1054 1014.5H1062M1055 1015.5H1063M1054 1016.5H1062M1055 1017.5H1063M1054 1018.5H1063M1054 1019.5H1063M1054 1020.5H1063M1055 1021.5H1062M1054 1022.5H1063M1052 1023.5H1063M1055 1024.5H1063M1054 1025.5H1064M1054 1026.5H1066M1053 1027.5H1062M1054 1028.5H1062M1054 1029.5H1064M1053 1030.5H1063M1051 1031.5H1063M1054 1032.5H1063M1054 1033.5H1063M1054 1034.5H1064M1054 1035.5H1063M1053 1036.5H1063M1054 1037.5H1063M1054 1038.5H1063M1054 1039.5H1063M1054 1040.5H1064M1053 1041.5H1063M1054 1042.5H1063M1053 1043.5H1063M1054 1044.5H1063M1053 1045.5H1063M1053 1046.5H1064M1054 1047.5H1063M1054 1048.5H1064M1053 1049.5H1063M1053 1050.5H1063M1053 1051.5H1064M1052 1052.5H1063M1052 1053.5H1066M1054 1054.5H1063M1054 1055.5H1065M1054 1056.5H1063M1054 1057.5H1063M1053 1058.5H1063M1053 1059.5H1064M1053 1060.5H1064M1054 1061.5H1064M1054 1062.5H1063M1054 1063.5H1063M1053 1064.5H1063M1053 1065.5H1063M1053 1066.5H1063M1054 1067.5H1063M1054 1068.5H1064M1053 1069.5H1064M1054 1070.5H1063M1053 1071.5H1065M1053 1072.5H1064M1054 1073.5H1063M1053 1074.5H1063M1053 1075.5H1064M1053 1076.5H1063M1054 1077.5H1066M1054 1078.5H1064M1054 1079.5H1063M1051 1080.5H1063M1054 1081.5H1063M1053 1082.5H1063M1053 1083.5H1063M1054 1084.5H1063M1054 1085.5H1063M1054 1086.5H1063M1054 1087.5H1064M1054 1088.5H1063M1054 1089.5H1063M1054 1090.5H1063M1054 1091.5H1063M1054 1092.5H1063M1054 1093.5H1063M1054 1094.5H1063M1054 1095.5H1063M1055 1096.5H1063M1054 1097.5H1064M1054 1098.5H1063M1053 1099.5H1063M1054 1100.5H1063M1054 1101.5H1063M1054 1102.5H1064M1054 1103.5H1063M1053 1104.5H1063M1054 1105.5H1063M1051 1106.5H1063M1054 1107.5H1065M1054 1108.5H1063M1054 1109.5H1063M1054 1110.5H1064M1055 1111.5H1063M1054 1112.5H1063M1054 1113.5H1063M1054 1114.5H1063M1055 1115.5H1063M1054 1116.5H1063M1053 1117.5H1063M1054 1118.5H1063M1053 1119.5H1063M1053 1120.5H1063M1053 1121.5H1063M1054 1122.5H1063M1054 1123.5H1063M1054 1124.5H1063M1054 1125.5H1063M1054 1126.5H1063M1054 1127.5H1063M1054 1128.5H1063M1054 1129.5H1064M1053 1130.5H1063M1051 1131.5H1063M1054 1132.5H1063M1054 1133.5H1063M1054 1134.5H1063M1054 1135.5H1063M1054 1136.5H1063M1054 1137.5H1064M1054 1138.5H1064M1054 1139.5H1063M1054 1140.5H1063M1054 1141.5H1063M1054 1142.5H1064M1052 1143.5H1063M1054 1144.5H1063M1054 1145.5H1064M1054 1146.5H1063M1054 1147.5H1063M1053 1148.5H1063M1054 1149.5H1063M1054 1150.5H1064M1053 1151.5H1064M1053 1152.5H1063M1054 1153.5H1063M1054 1154.5H1063M1053 1155.5H1064M1054 1156.5H1063M1054 1157.5H1063M1053 1158.5H1064M1053 1159.5H1063M1055 1160.5H1063M1054 1161.5H1063M1054 1162.5H1063M1054 1163.5H1063M1054 1164.5H1063M1054 1165.5H1062M1055 1166.5H1063M1055 1167.5H1063M1054 1168.5H1063M1055 1169.5H1063M1054 1170.5H1063M1055 1171.5H1062M1055 1172.5H1063M1054 1173.5H1063M1054 1174.5H1062M1054 1175.5H1063M1054 1176.5H1063M1053 1177.5H1062M1054 1178.5H1062M1054 1179.5H1063M1054 1180.5H1062M1054 1181.5H1063M1054 1182.5H1062M1052 1183.5H1062M1054 1184.5H1062M1055 1185.5H1062M1055 1186.5H1062M1054 1187.5H1062M1054 1188.5H1062M1055 1189.5H1063M1054 1190.5H1063M1055 1191.5H1062M1055 1192.5H1063M1055 1193.5H1062M1054 1194.5H1065M1055 1195.5H1064M1055 1196.5H1062M1054 1197.5H1062M1053 1198.5H1063M1055 1199.5H1062M1054 1200.5H1062M1054 1201.5H1062M1054 1202.5H1062M1055 1203.5H1062M1055 1204.5H1063M1054 1205.5H1063M1054 1206.5H1063M1054 1207.5H1063M1051 1208.5H1063M1054 1209.5H1062M1055 1210.5H1062M1054 1211.5H1062M1054 1212.5H1062M1055 1213.5H1063M1055 1214.5H1064M1055 1215.5H1062M1054 1216.5H1062M1055 1217.5H1062M1055 1218.5H1064M1054 1219.5H1063M1054 1220.5H1063M1054 1221.5H1063M1055 1222.5H1063M1054 1223.5H1063M1054 1224.5H1066M1053 1225.5H1063M1055 1226.5H1063M1053 1227.5H1062M1054 1228.5H1063M1054 1229.5H1062M1054 1230.5H1065M1054 1231.5H1063M1053 1232.5H1064M1054 1233.5H1063M1054 1234.5H1063M1053 1235.5H1063M1054 1236.5H1064M1054 1237.5H1063M1054 1238.5H1066M1054 1239.5H1065M1054 1240.5H1063M1054 1241.5H1063M1054 1242.5H1063M1054 1243.5H1063M1054 1244.5H1063M1053 1245.5H1063M1054 1246.5H1065M1054 1247.5H1064M1054 1248.5H1063M1054 1249.5H1064M1053 1250.5H1063M1054 1251.5H1063M1054 1252.5H1063M1054 1253.5H1064M1054 1254.5H1064M1054 1255.5H1063M1054 1256.5H1065M1053 1257.5H1063M1054 1258.5H1064M1054 1259.5H1063M1054 1260.5H1065M1053 1261.5H1063M1054 1262.5H1063M1054 1263.5H1063M1052 1264.5H1063M1054 1265.5H1065M1054 1266.5H1063M1053 1267.5H1063M1053 1268.5H1063M1051 1269.5H1064M1053 1270.5H1063M1054 1271.5H1063M1052 1272.5H1063M1053 1273.5H1064M1054 1274.5H1064M1053 1275.5H1064M1053 1276.5H1065M1053 1277.5H1064M1053 1278.5H1064M1053 1279.5H1065M1051 1280.5H1064M1052 1281.5H1064M1052 1282.5H1065M1052 1283.5H1068M1053 1284.5H1066M1052 1285.5H1064M1053 1286.5H1065M1053 1287.5H1065M1048 1288.5H1064M1052 1289.5H1065M1051 1290.5H1065M1050 1291.5H1064M1050 1292.5H1068M1051 1293.5H1065M1050 1294.5H1067M1051 1295.5H1067M1051 1296.5H1066M1048 1297.5H1067M1049 1298.5H1068M1050 1299.5H1069M1050 1300.5H1066M1048 1301.5H1069M1044 1302.5H1070M1050 1303.5H1074M1042 1304.5H1070M1048 1305.5H1074M1044 1306.5H1068M1048 1307.5H1067M1050 1308.5H1068M1051 1309.5H1066M1050 1310.5H1065M1051 1311.5H1065M1052 1312.5H1065M1052 1313.5H1066M1052 1314.5H1065M1053 1315.5H1064M1052 1316.5H1065M1052 1317.5H1064M1052 1318.5H1064M1053 1319.5H1064M1052 1320.5H1064M1053 1321.5H1065M1053 1322.5H1065M1053 1323.5H1065M1053 1324.5H1064M1053 1325.5H1065M1053 1326.5H1064M1053 1327.5H1064M1052 1328.5H1064M1053 1329.5H1064M1053 1330.5H1064M1053 1331.5H1063M1053 1332.5H1065M1054 1333.5H1063M1053 1334.5H1063M1054 1335.5H1064M1053 1336.5H1064M1054 1337.5H1063M1054 1338.5H1064M1054 1339.5H1063M1054 1340.5H1066M1054 1341.5H1063M1054 1342.5H1064M1054 1343.5H1063M1053 1344.5H1064M1054 1345.5H1063M1054 1346.5H1063M1054 1347.5H1063M1053 1348.5H1063M1054 1349.5H1063M1054 1350.5H1063M1054 1351.5H1064M1053 1352.5H1063M1054 1353.5H1063M1053 1354.5H1064M1054 1355.5H1065M1054 1356.5H1063M1053 1357.5H1063M1054 1358.5H1063M1053 1359.5H1064M1054 1360.5H1065M1054 1361.5H1064M1055 1362.5H1062M1054 1363.5H1063M1054 1364.5H1063M1054 1365.5H1063M1054 1366.5H1064M1054 1367.5H1062M1054 1368.5H1062M1054 1369.5H1062M1054 1370.5H1063M1055 1371.5H1063M1054 1372.5H1063M1055 1373.5H1065M1055 1374.5H1062M1054 1375.5H1063M1054 1376.5H1063M1055 1377.5H1063M1054 1378.5H1063M1055 1379.5H1062M1054 1380.5H1063M1051 1381.5H1062M1055 1382.5H1063M1054 1383.5H1062M1055 1384.5H1062M1055 1385.5H1062M1055 1386.5H1064M1054 1387.5H1063M1055 1388.5H1062M1054 1389.5H1063M1054 1390.5H1062M1055 1391.5H1062M1054 1392.5H1063M1054 1393.5H1062M1054 1394.5H1062M1054 1395.5H1063M1055 1396.5H1063M1054 1397.5H1062M1055 1398.5H1064M1054 1399.5H1062M1053 1400.5H1063M1055 1401.5H1062M1054 1402.5H1063M1055 1403.5H1064M1054 1404.5H1063M1053 1405.5H1063M1054 1406.5H1063M1055 1407.5H1063M1054 1408.5H1062M1054 1409.5H1063M1054 1410.5H1062M1054 1411.5H1063M1053 1412.5H1063M1054 1413.5H1063M1054 1414.5H1063M1055 1415.5H1063M1054 1416.5H1063M1055 1417.5H1062M1053 1418.5H1063M1055 1419.5H1063M1055 1420.5H1063M1054 1421.5H1065M1054 1422.5H1063M1055 1423.5H1063M1054 1424.5H1062M1054 1425.5H1064M1054 1426.5H1064M1054 1427.5H1063M1054 1428.5H1063M1054 1429.5H1063M1054 1430.5H1063M1054 1431.5H1063M1051 1432.5H1064M1054 1433.5H1063M1054 1434.5H1063M1054 1435.5H1062M1055 1436.5H1063M1054 1437.5H1062M1054 1438.5H1064M1054 1439.5H1063M1054 1440.5H1063M1054 1441.5H1063M1054 1442.5H1062M1055 1443.5H1063M1055 1444.5H1062M1054 1445.5H1062M1055 1446.5H1065M1054 1447.5H1062M1054 1448.5H1063M1054 1449.5H1063M1054 1450.5H1063M1054 1451.5H1063M1055 1452.5H1065M1054 1453.5H1062M1055 1454.5H1062M1055 1455.5H1064M1051 1456.5H1062M1053 1457.5H1063M1055 1458.5H1062M1053 1459.5H1065M1054 1460.5H1063M1054 1461.5H1063M1055 1462.5H1063M1054 1463.5H1063M1052 1464.5H1063M1054 1465.5H1063M1051 1466.5H1063M1055 1467.5H1063M1055 1468.5H1063M1054 1469.5H1063M1054 1470.5H1063M1054 1471.5H1063M1054 1472.5H1063M1054 1473.5H1063M1055 1474.5H1063M1054 1475.5H1063M1055 1476.5H1064M1054 1477.5H1063M1054 1478.5H1063M1055 1479.5H1063M1054 1480.5H1063M1055 1481.5H1063M1054 1482.5H1063M1055 1483.5H1063M1054 1484.5H1063M1054 1485.5H1063M1054 1486.5H1063M1052 1487.5H1063M1054 1488.5H1063M1054 1489.5H1063M1053 1490.5H1064M1052 1491.5H1063M1054 1492.5H1062M1054 1493.5H1063M1054 1494.5H1063M1053 1495.5H1064M1054 1496.5H1063M1054 1497.5H1063M1053 1498.5H1063M1054 1499.5H1063M1054 1500.5H1063M1054 1501.5H1064M1054 1502.5H1064M1054 1503.5H1063M1054 1504.5H1063M1054 1505.5H1064M1054 1506.5H1064M1054 1507.5H1064M1053 1508.5H1063M1054 1509.5H1064M1054 1510.5H1063M1054 1511.5H1063M1053 1512.5H1064M1054 1513.5H1063M1054 1514.5H1063M1054 1515.5H1064M1054 1516.5H1064M1054 1517.5H1063M1054 1518.5H1064M1054 1519.5H1066M1054 1520.5H1064M1052 1521.5H1063M1054 1522.5H1064M1054 1523.5H1063M1054 1524.5H1063M1054 1525.5H1063M1054 1526.5H1063M1054 1527.5H1063M1054 1528.5H1064M1054 1529.5H1063M1054 1530.5H1063M1053 1531.5H1064M1054 1532.5H1063M1054 1533.5H1066M1054 1534.5H1064M1054 1535.5H1063M1054 1536.5H1063M1053 1537.5H1066M1053 1538.5H1063M1052 1539.5H1065M1054 1540.5H1063M1053 1541.5H1063M1053 1542.5H1063M1053 1543.5H1063M1054 1544.5H1066M1053 1545.5H1063M1054 1546.5H1063M1053 1547.5H1063M1053 1548.5H1063M1054 1549.5H1064M1054 1550.5H1063M1053 1551.5H1064M1054 1552.5H1064M1054 1553.5H1063M1053 1554.5H1063"/>
</svg></body></html>
